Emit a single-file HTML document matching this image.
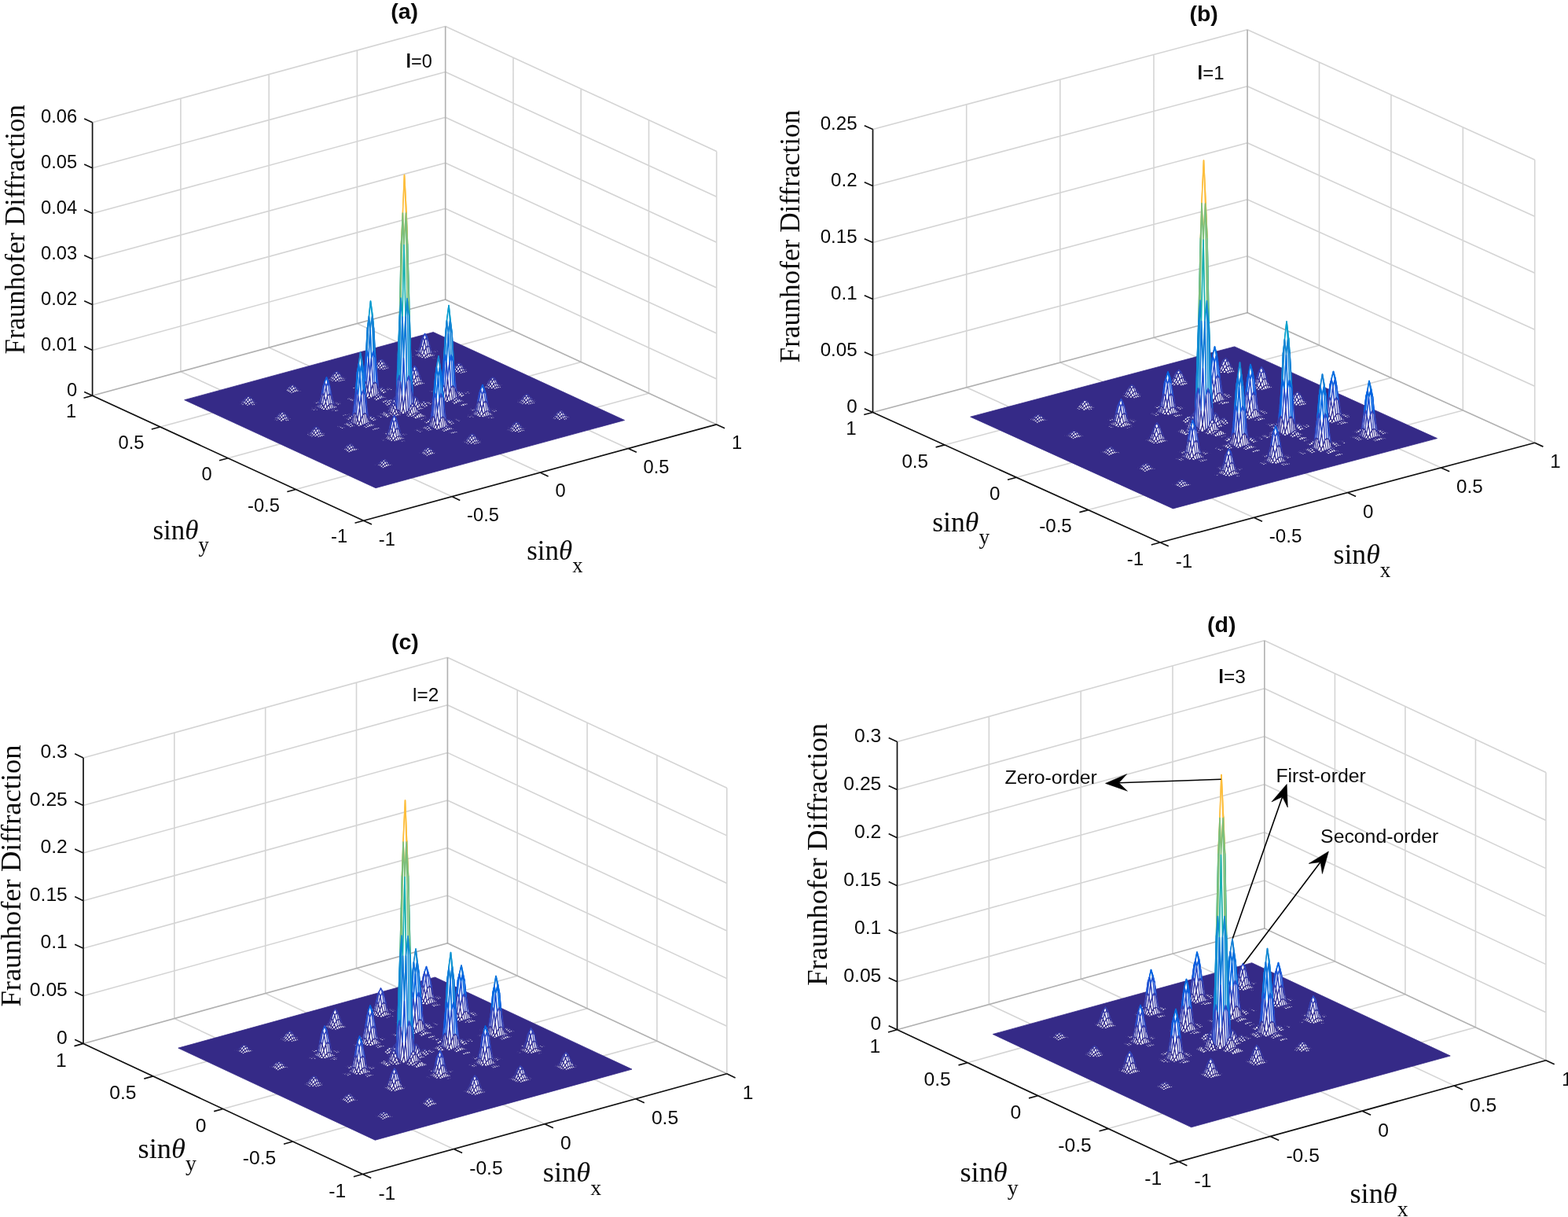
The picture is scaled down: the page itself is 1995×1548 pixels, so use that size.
<!DOCTYPE html>
<html><head><meta charset="utf-8"><title>Fraunhofer Diffraction</title>
<style>
html,body{margin:0;padding:0;background:#fff;}
svg{display:block;}
.gr{fill:none;stroke:#262626;stroke-opacity:.2;stroke-width:1.6;}
.fl{fill:#352a87;stroke:#352a87;stroke-width:.8;stroke-linejoin:round;}
.ax{fill:none;stroke:#111;stroke-width:1.7;stroke-linecap:butt;}
.tk,.ti,.an{font-family:"Liberation Sans",Arial,Helvetica,sans-serif;fill:#0a0a0a;}
.ti{font-weight:bold;}
.ash{fill:none;stroke:#000;stroke-width:1.6;}
.ahd{fill:#000;stroke:#000;stroke-width:.6;stroke-linejoin:miter;}
.se{font-family:"Liberation Serif","Times New Roman",Times,serif;fill:#0a0a0a;}
.pk path{fill:#fff;stroke-width:1;stroke-linejoin:round;}
.pk .q0{stroke:#352a87;stroke-width:2.20}.pk .q1{stroke:#363093;stroke-width:2.31}.pk .q2{stroke:#3637a0;stroke-width:2.41}.pk .q3{stroke:#353dad;stroke-width:2.52}.pk .q4{stroke:#3243ba;stroke-width:2.62}.pk .q5{stroke:#2c4ac7;stroke-width:2.73}.pk .q6{stroke:#2053d4;stroke-width:2.83}.pk .q7{stroke:#0f5cdd;stroke-width:2.94}.pk .q8{stroke:#0363e1;stroke-width:3.05}.pk .q9{stroke:#0268e1;stroke-width:3.15}.pk .q10{stroke:#046de0;stroke-width:3.20}.pk .q11{stroke:#0871de;stroke-width:3.20}.pk .q12{stroke:#0d75dc;stroke-width:3.20}.pk .q13{stroke:#1079da;stroke-width:3.20}.pk .q14{stroke:#127dd8;stroke-width:3.20}.pk .q15{stroke:#1481d6;stroke-width:3.20}.pk .q16{stroke:#1485d4;stroke-width:3.20}.pk .q17{stroke:#1389d3;stroke-width:3.20}.pk .q18{stroke:#108ed2;stroke-width:3.20}.pk .q19{stroke:#0c93d2;stroke-width:3.20}.pk .q20{stroke:#0998d1;stroke-width:3.20}.pk .q21{stroke:#079ccf;stroke-width:3.20}.pk .q22{stroke:#06a0cd;stroke-width:3.20}.pk .q23{stroke:#06a4ca;stroke-width:3.20}.pk .q24{stroke:#06a7c6;stroke-width:3.20}.pk .q25{stroke:#07a9c2;stroke-width:3.20}.pk .q26{stroke:#0aacbe;stroke-width:3.20}.pk .q27{stroke:#0faeb9;stroke-width:3.20}.pk .q28{stroke:#15b1b4;stroke-width:3.20}.pk .q29{stroke:#1db3af;stroke-width:3.20}.pk .q30{stroke:#25b5a9;stroke-width:3.20}.pk .q31{stroke:#2eb7a4;stroke-width:3.20}.pk .q32{stroke:#38b99e;stroke-width:3.20}.pk .q33{stroke:#42bb98;stroke-width:3.20}.pk .q34{stroke:#4dbc92;stroke-width:3.20}.pk .q35{stroke:#59bd8c;stroke-width:3.20}.pk .q36{stroke:#65be86;stroke-width:3.20}.pk .q37{stroke:#71bf80;stroke-width:3.20}.pk .q38{stroke:#7cbf7b;stroke-width:3.20}.pk .q39{stroke:#87bf77;stroke-width:3.20}.pk .q40{stroke:#92bf73;stroke-width:3.20}.pk .q41{stroke:#9cbf6f;stroke-width:3.20}.pk .q42{stroke:#a5be6b;stroke-width:3.20}.pk .q43{stroke:#aebe67;stroke-width:3.20}.pk .q44{stroke:#b7bd64;stroke-width:3.20}.pk .q45{stroke:#c0bc60;stroke-width:3.20}.pk .q46{stroke:#c8bc5d;stroke-width:3.20}.pk .q47{stroke:#d1bb59;stroke-width:3.20}.pk .q48{stroke:#d9ba56;stroke-width:3.20}.pk .q49{stroke:#e1b952;stroke-width:3.20}.pk .q50{stroke:#e9b94e;stroke-width:3.20}.pk .q51{stroke:#f1b94a;stroke-width:3.20}.pk .q52{stroke:#f8bb44;stroke-width:3.20}.pk .q53{stroke:#fdbe3d;stroke-width:3.20}.pk .q54{stroke:#ffc337;stroke-width:3.20}.pk .q55{stroke:#fec832;stroke-width:3.20}.pk .q56{stroke:#fcce2e;stroke-width:3.20}.pk .q57{stroke:#fad32a;stroke-width:3.20}.pk .q58{stroke:#f7d826;stroke-width:3.20}.pk .q59{stroke:#f5de21;stroke-width:3.20}.pk .q60{stroke:#f5e41d;stroke-width:3.20}.pk .q61{stroke:#f5eb18;stroke-width:3.20}.pk .q62{stroke:#f6f313;stroke-width:3.20}.pk .q63{stroke:#f9fb0e;stroke-width:3.20}</style></head><body>
<svg width="1995" height="1548" viewBox="0 0 1995 1548">
<rect width="1995" height="1548" fill="#fff"/>
<g id="pa">
<path class="gr" d="M117.6 503.3L566.7 381M117.6 445.4L566.7 323.1M117.6 387.5L566.7 265.2M117.6 329.5L566.7 207.2M117.6 271.6L566.7 149.3M117.6 213.7L566.7 91.4M117.6 155.8L566.7 33.5M229.9 472.7L229.9 125.2M342.2 442.1L342.2 94.6M454.4 411.6L454.4 64.1M566.7 381L566.7 33.5"/>
<path class="gr" d="M566.7 381L911.7 539.9M566.7 323.1L911.7 482M566.7 265.2L911.7 424.1M566.7 207.2L911.7 366.1M566.7 149.3L911.7 308.2M566.7 91.4L911.7 250.3M566.7 33.5L911.7 192.4M566.7 381L566.7 33.5M653 420.7L653 73.2M739.2 460.4L739.2 112.9M825.5 500.2L825.5 152.7M911.7 539.9L911.7 192.4"/>
<path class="gr" d="M574.9 631.6L229.9 472.7M376.4 622.5L825.5 500.2M687.2 601L342.2 442.1M290.1 582.8L739.2 460.4M799.4 570.5L454.4 411.6M203.9 543L653 420.7M911.7 539.9L566.7 381M117.6 503.3L566.7 381"/>
<path class="fl" d="M478 620.7L794.6 534.5L551.3 422.5L234.7 508.7 Z"/>
<g class="pk" transform="scale(0.5)"><path class="q0" d="M1061 891l4-1-3-1-5 0zm-5 1l5-1-4-2-4 2zm8 2l5-1-4-3-4 1zm-4 1l4-1-3-3-5 1zm20-4l4 2-3-1-4 2zm-5-1l5 1-3 3-5 1zm-4 0l4 0-3 5-4 1zm-4 2l4-2-3 6-5 1zm-5 4l5-4-4 5-4 1zm-4 4l4-4-3 2-5 2zm-95 25l5 0-4-1-4 1zm-4 1l4-1-3 0-5 2zm-5 1l5-1-4 1-4 1zm-4 2l4-2-3 1-5 1zm-99 26l4 0-3 0-5 1zm-5 1l5-1-4 1-4 1zm-4 2l4-2-3 1-4 1zm-5 2l5-2-3 0-5 2zm-215 58l4-1-3 0-5 1zm-5 1l5-1-4 0-4 2zm471-127l4 2-3-1-5 0z"/><path class="q1" d="M1083 885l5 7-4 1-4-2zm-4-9l4 9-3 6-5-1z"/><path class="q2" d="M1074 874l5 2-4 14-4 0zm-4 5l4-5-3 16-4 2z"/><path class="q1" d="M1065 889l5-10-3 13-5 4zm-4 10l4-10-3 7-4 4z"/><path class="q0" d="M1056 904l5-5-3 1-5 3zm-85 19l5 2-4-1-4 1zm-4-2l4 2-3 2-5 0z"/><path class="q1" d="M962 921l5 0-4 4-4 1zm-4 3l4-3-3 5-5 1z"/><path class="q0" d="M953 928l5-4-4 3-4 2zm-4 4l4-4-3 1-5 3zm-90 22l4 2-3-1-5 0zm-5-2l5 2-4 1-4 0z"/><path class="q1" d="M850 952l4 0-3 3-5 1zm-5 2l5-2-4 4-4 2z"/><path class="q0" d="M841 959l4-5-3 4-5 2zm-5 4l5-4-4 1-4 2zm-89 22l4 1-3 0-5 0zm-5-1l5 1-4 1-4 0zm-4 0l4 0-3 2-5 1zm-5 2l5-2-4 3-4 2zm-4 4l4-4-3 3-5 2zm-5 4l5-4-4 1-4 2zm-90 21l5 2-4-1-4 0zm-4-1l4 1-3 1-5 1z"/><path class="q1" d="M625 1014l5 0-4 3-4 1zm-4 2l4-2-3 4-5 1z"/><path class="q0" d="M616 1020l5-4-4 3-4 2zm-4 4l4-4-3 1-5 2zm479-134l5 6-4-2-4-2z"/><path class="q1" d="M1087 877l4 13-3 2-5-7z"/><path class="q2" d="M1082 862l5 15-4 8-4-9z"/><path class="q3" d="M1078 856l4 6-3 14-5-2zm-5 8l5-8-4 18-4 5z"/><path class="q2" d="M1069 882l4-18-3 15-5 10z"/><path class="q1" d="M1064 898l5-16-4 7-4 10z"/><path class="q0" d="M1060 905l4-7-3 1-5 5zm-81 21l5 1-4-2-4 0zm-4-4l4 4-3-1-5-2z"/><path class="q1" d="M970 917l5 5-4 1-4-2zm-4-1l4 1-3 4-5 0zm-5 4l5-4-4 5-4 3zm-4 7l4-7-3 4-5 4z"/><path class="q0" d="M952 933l5-6-4 1-4 4zm-4 3l4-3-3-1-5 3zm-81 20l4 1-3-1-5 0zm-5-4l5 4-4 0-4-2z"/><path class="q1" d="M858 948l4 4-3 2-5-2zm-5-1l5 1-4 4-4 0zm-4 3l4-3-3 5-5 2zm-5 7l5-7-4 4-4 5z"/><path class="q0" d="M840 963l4-6-3 2-5 4zm-5 4l5-4-4 0-4 2zm-85 17l5 3-4-1-4-1z"/><path class="q1" d="M746 981l4 3-3 1-5-1zm-5-1l5 1-4 3-4 0zm-4 3l4-3-3 4-5 2zm-5 6l5-6-4 3-4 4z"/><path class="q0" d="M728 994l4-5-3 1-5 4zm-90 20l4 3-3 0-5-2z"/><path class="q1" d="M633 1010l5 4-4 1-4-1zm-4-1l4 1-3 4-5 0zm-5 4l5-4-4 5-4 2zm-4 6l4-6-3 3-5 4z"/><path class="q0" d="M615 1025l5-6-4 1-4 4zm493-132l5-1-4-1-4 1zm-4 3l4-3-3-1-5 2zm-9-5l4 6-3-1-5-6z"/><path class="q2" d="M1090 874l5 17-4-1-4-13z"/><path class="q3" d="M1086 856l4 18-3 3-5-15z"/><path class="q5" d="M1081 849l5 7-4 6-4-6zm-4 10l4-10-3 7-5 8z"/><path class="q3" d="M1072 879l5-20-4 5-4 18z"/><path class="q2" d="M1068 898l4-19-3 3-5 16z"/><path class="q0" d="M1063 907l5-9-4 0-4 7zm-9 1l5 0-4-1-4-1zm-4 1l4-1-3-2-5 2zm-67 18l4 1-3-1-5-1z"/><path class="q1" d="M978 922l5 5-4-1-4-4zm-4-6l4 6-3 0-5-5z"/><path class="q2" d="M969 915l5 1-4 1-4-1zm-4 4l4-4-3 1-5 4z"/><path class="q1" d="M960 927l5-8-4 1-4 7zm-4 7l4-7-3 0-5 6z"/><path class="q0" d="M951 938l5-4-4-1-4 3zm-81 19l5 2-4-2-4-1z"/><path class="q1" d="M866 952l4 5-3-1-5-4zm-5-5l5 5-4 0-4-4z"/><path class="q2" d="M857 945l4 2-3 1-5-1zm-5 4l5-4-4 2-4 3z"/><path class="q1" d="M848 957l4-8-3 1-5 7zm-5 8l5-8-4 0-4 6z"/><path class="q0" d="M839 968l4-3-3-2-5 4zm-85 17l4 3-3-1-5-3z"/><path class="q1" d="M749 981l5 4-4-1-4-3zm-4-2l4 2-3 0-5-1zm-5 4l5-4-4 1-4 3zm-4 7l4-7-3 0-5 6z"/><path class="q0" d="M731 996l5-6-4-1-4 5zm-85 23l4 1-3-2-5-1z"/><path class="q1" d="M641 1014l5 5-4-2-4-3zm-4-4l4 4-3 0-5-4zm-5-2l5 2-4 0-4-1zm-4 4l4-4-3 1-5 4zm-5 7l5-7-4 1-4 6zm-4 7l4-7-3 0-5 6z"/><path class="q0" d="M614 1030l5-4-4-1-4 3zm498-135l4-1-3-2-5 1zm-5 2l5-2-4-2-4 3zm-9-3l5 5-4-2-4-6z"/><path class="q2" d="M1094 880l4 14-3-3-5-17z"/><path class="q3" d="M1089 865l5 15-4-6-4-18z"/><path class="q5" d="M1085 859l4 6-3-9-5-7zm-5 8l5-8-4-10-4 10z"/><path class="q3" d="M1076 885l4-18-3-8-5 20z"/><path class="q2" d="M1071 901l5-16-4-6-4 19z"/><path class="q0" d="M1067 909l4-8-3-3-5 9zm-9 0l4 1-3-2-5 0zm-5 2l5-2-4-1-4 1zm-67 18l4 1-3-2-4-1z"/><path class="q1" d="M982 925l4 4-3-2-5-5zm-5-5l5 5-4-3-4-6z"/><path class="q2" d="M973 919l4 1-3-4-5-1zm-5 4l5-4-4-4-4 4z"/><path class="q1" d="M964 930l4-7-3-4-5 8zm-5 6l5-6-4-3-4 7z"/><path class="q0" d="M955 940l4-4-3-2-5 4zm-81 19l4 1-3-1-5-2z"/><path class="q1" d="M869 955l5 4-4-2-4-5zm-4-4l4 4-3-3-5-5z"/><path class="q2" d="M860 950l5 1-4-4-4-2zm-4 3l4-3-3-5-5 4z"/><path class="q1" d="M851 960l5-7-4-4-4 8zm-4 7l4-7-3-3-5 8z"/><path class="q0" d="M842 970l5-3-4-2-4 3zm-85 17l4 3-3-2-4-3z"/><path class="q1" d="M752 984l5 3-3-2-5-4zm-4-1l4 1-3-3-4-2zm-5 4l5-4-3-4-5 4zm-4 5l4-5-3-4-4 7z"/><path class="q0" d="M735 998l4-6-3-2-5 6zm-86 23l5 0-4-1-4-1z"/><path class="q1" d="M645 1017l4 4-3-2-5-5zm-5-4l5 4-4-3-4-4zm-4-1l4 1-3-3-5-2zm-5 4l5-4-4-4-4 4zm-4 6l4-6-3-4-5 7zm-5 6l5-6-4-3-4 7z"/><path class="q0" d="M618 1031l4-3-3-2-5 4zm484-133l4 3-3-2-5-5z"/><path class="q1" d="M1097 891l5 7-4-4-4-14z"/><path class="q2" d="M1093 883l4 8-3-11-5-15z"/><path class="q3" d="M1088 880l5 3-4-18-4-6zm-4 5l4-5-3-21-5 8z"/><path class="q2" d="M1079 896l5-11-4-18-4 18z"/><path class="q1" d="M1075 905l4-9-3-11-5 16z"/><path class="q0" d="M1070 910l5-5-4-4-4 8zm-81 21l5 0-4-1-4-1zm-4-1l4 1-3-2-4-4z"/><path class="q1" d="M980 928l5 2-3-5-5-5zm-4-1l4 1-3-8-4-1zm-5 3l5-3-3-8-5 4zm-4 5l4-5-3-7-4 7z"/><path class="q0" d="M963 939l4-4-3-5-5 6zm-5 2l5-2-4-3-4 4zm-81 21l5 0-4-2-4-1zm-4-2l4 2-3-3-5-4z"/><path class="q1" d="M868 958l5 2-4-5-4-4zm-4 0l4 0-3-7-5-1zm-5 3l5-3-4-8-4 3zm-4 4l4-4-3-8-5 7z"/><path class="q0" d="M850 969l5-4-4-5-4 7zm-4 3l4-3-3-2-5 3zm-86 20l5 1-4-3-4-3z"/><path class="q1" d="M756 990l4 2-3-5-5-3zm-5 0l5 0-4-6-4-1zm-4 3l4-3-3-7-5 4zm-5 4l5-4-4-6-4 5z"/><path class="q0" d="M738 1000l4-3-3-5-4 6zm-90 22l5 1-4-2-4-4z"/><path class="q1" d="M644 1020l4 2-3-5-5-4zm-5 0l5 0-4-7-4-1zm-4 3l4-3-3-8-5 4zm-5 4l5-4-4-7-4 6z"/><path class="q0" d="M626 1031l4-4-3-5-5 6zm479-129l5 0-4-1-4-3z"/><path class="q1" d="M1101 901l4 1-3-4-5-7zm-5-2l5 2-4-10-4-8z"/><path class="q2" d="M1092 899l4 0-3-16-5-3zm-5 3l5-3-4-19-4 5z"/><path class="q1" d="M1083 906l4-4-3-17-5 11zm-5 4l5-4-4-10-4 9z"/><path class="q0" d="M1074 912l4-2-3-5-5 5zm-86 22l5 0-4-3-4-1zm-4 0l4 0-3-4-5-2z"/><path class="q1" d="M979 935l5-1-4-6-4-1zm-4 2l4-2-3-8-5 3z"/><path class="q0" d="M970 939l5-2-4-7-4 5zm-4 2l4-2-3-4-4 4zm-90 24l5-1-4-2-4-2zm-4 0l4 0-3-5-5-2z"/><path class="q1" d="M867 966l5-1-4-7-4 0zm-4 1l4-1-3-8-5 3z"/><path class="q0" d="M858 970l5-3-4-6-4 4zm-4 2l4-2-3-5-5 4zm-90 24l4-1-3-2-5-1zm-5 0l5 0-4-4-4-2zm-4 1l4-1-3-6-5 0zm-5 1l5-1-4-7-4 3zm-4 2l4-2-3-5-5 4zm-5 2l5-2-4-3-4 3zm-89 24l4 0-3-3-5-1zm-5 0l5 0-4-4-4-2z"/><path class="q1" d="M643 1027l4-1-3-6-5 0zm-5 2l5-2-4-7-4 3z"/><path class="q0" d="M634 1031l4-2-3-6-5 4zm-5 2l5-2-4-4-4 4zm475-127l5-1-4-3-4-1zm-4 1l4-1-3-5-5-2zm-5 1l5-1-4-8-4 0zm-4 2l4-2-3-9-5 3zm-5 1l5-1-4-8-4 4zm-4 2l4-2-3-5-5 4zm-95 25l5-1-4-3-4 0zm-4 1l4-1-3-4-5 1zm-5 2l5-2-4-4-4 2zm-4 1l4-1-3-4-5 2zm-99 27l5-1-4-3-4 0zm-4 1l4-1-3-4-5 1zm-5 1l5-1-4-4-4 1zm-4 1l4-1-3-4-5 3zm-216 59l5-1-4-4-4 1zm-4 1l4-1-3-4-5 2zm460-122l5-1-4 0-4 1zm-4 1l4-1-3 0-5 1zm8 1l4-1-3-2-5 1zm-5 1l5-1-4-2-4 1zm-191 69l4 0-3 0-5 1zm-5 0l5 0-4 1-4 1zm-4 2l4-2-3 2-5 2zm-5 3l5-3-4 2-4 1zm17-3l5 0-4-2-4 0zm-4 1l4-1-3-2-5 0zm-5 2l5-2-4-3-4 2zm-4 2l4-2-3-3-5 3zm12 0l4-1-3-4-4 1zm-4 1l4-1-3-4-5 2zm20-4l4 1-3 0-5 0zm-5-2l5 2-4 1-4 1z"/><path class="q1" d="M919 984l4 0-3 4-5 1zm-5 2l5-2-4 5-4 1z"/><path class="q0" d="M910 991l4-5-3 4-5 2zm-5 4l5-4-4 1-4 2zm-98 25l4-1-3 1-5 1zm-5 2l5-2-4 1-4 1zm129-36l5 3-4-2-4-1z"/><path class="q1" d="M927 984l4 2-3 0-5-2zm-5-1l5 1-4 0-4 0zm-4 3l4-3-3 1-5 2zm-5 5l5-5-4 0-4 5z"/><path class="q0" d="M909 996l4-5-3 0-5 4zm-94 24l4 0-3-1-5 0zm-5 1l5-1-4-1-4 1zm-4 2l4-2-3-1-5 2zm-5 2l5-2-4-1-4 2zm134-33l4-1-3-2-5-3zm-5 0l5 0-4-6-4-2z"/><path class="q1" d="M926 992l4 0-3-8-5-1zm-5 2l5-2-4-9-4 3z"/><path class="q0" d="M917 996l4-2-3-8-5 5zm-5 3l5-3-4-5-4 5zm-94 25l5-1-4-3-4 0zm-4 1l4-1-3-4-5 1zm-5 1l5-1-4-4-4 2zm-4 2l4-2-3-3-5 2zm129-34l4 0-3-2-5 0zm-5 1l5-1-4-2-4 0zm-4 1l4-1-3-3-5 2zm-5 2l5-2-4-2-4 2zm242-64l4 0-3-1-5 2zm-5 1l5-1-4 1-4 1zm-4 1l4-1-3 1-5 1zm-5 3l5-3-4 1-4 1zm-94 24l4 0-3 0-4 1zm-5-2l5 2-3 1-5 1zm-4 1l4-1-3 4-4 1zm-5 2l5-2-3 4-5 1zm-4 3l4-3-3 3-4 2zm-4 4l4-4-3 2-5 1zm-86 18l5 4-4-1-4 1z"/><path class="q1" d="M942 979l4 10-3 4-5 1zm-5-12l5 12-4 15-4 0z"/><path class="q2" d="M933 962l4 5-3 27-5 1zm-5 7l5-7-4 33-4 1z"/><path class="q1" d="M924 984l4-15-3 27-5 2zm-5 13l5-13-4 14-4 2z"/><path class="q0" d="M915 1003l4-6-3 3-5 2zm-86 18l5 3-4 0-4 1zm-4-3l4 3-3 4-5 1z"/><path class="q1" d="M820 1018l5 0-4 8-4 1zm-4 3l4-3-3 9-5 1z"/><path class="q0" d="M811 1026l5-5-4 7-4 2zm-4 5l4-5-3 4-4 1zm-99 26l5-1-4 1-4 1zm-4 2l4-2-3 1-5 1zm466-127l4 2-3-1-5 1zm-5-2l5 2-4 2-4 0z"/><path class="q1" d="M1161 930l4 0-3 4-5 1zm-5 3l5-3-4 5-4 1z"/><path class="q0" d="M1152 937l4-4-3 3-5 3zm-5 4l5-4-4 2-4 2zm-85 22l4 2-3-2-5 0zm-5-5l5 5-4 0-4 0z"/><path class="q1" d="M1053 952l4 6-3 5-5-2zm-5-2l5 2-4 9-4 1zm-4 4l4-4-3 12-5 2zm-5 9l5-9-4 10-4 3z"/><path class="q0" d="M1035 970l4-7-3 4-4 4zm-5 4l5-4-3 1-5 2zm-62 14l4 1-3 0-5 0zm-5 0l5 0-4 1-4 1zm-4 5l4-5-3 2-5 2z"/><path class="q1" d="M950 979l4 15-3-1-5-4z"/><path class="q3" d="M945 943l5 36-4 10-4-10z"/><path class="q5" d="M941 903l4 40-3 36-5-12z"/><path class="q7" d="M936 886l5 17-4 64-4-5zm-4 20l4-20-3 76-5 7z"/><path class="q5" d="M927 948l5-42-4 63-4 15z"/><path class="q3" d="M923 986l4-38-3 36-5 13z"/><path class="q1" d="M918 1004l5-18-4 11-4 6z"/><path class="q0" d="M909 1002l5 3-4-1-4 0zm-4 3l4-3-3 2-5 2zm-5 4l5-4-4 1-4 2zm-63 13l5 4-4-2-4 0z"/><path class="q1" d="M833 1011l4 11-3 2-5-3z"/><path class="q2" d="M828 1000l5 11-4 10-4-3zm-4-5l4 5-3 18-5 0zm-5 7l5-7-4 23-4 3zm-4 14l4-14-3 19-5 5z"/><path class="q1" d="M810 1029l5-13-4 10-4 5z"/><path class="q0" d="M806 1035l4-6-3 2-5 3zm-85 20l4 2-3-1-5 0zm-5-2l5 2-4 1-4 0z"/><path class="q1" d="M712 1053l4 0-3 3-5 1zm-5 3l5-3-4 4-4 2z"/><path class="q0" d="M703 1060l4-4-3 3-5 2zm-5 4l5-4-4 1-4 2zm480-129l4 1-3-2-5 0zm-5-4l5 4-4-1-4-2z"/><path class="q1" d="M1169 926l4 5-3 1-5-2zm-5-1l5 1-4 4-4 0zm-4 4l4-4-3 5-5 3zm-5 7l5-7-4 4-4 4z"/><path class="q0" d="M1151 942l4-6-3 1-5 4zm-5 3l5-3-4-1-4 3zm-81 17l5 4-4-1-4-2z"/><path class="q1" d="M1061 952l4 10-3 1-5-5z"/><path class="q2" d="M1056 941l5 11-4 6-4-6z"/><path class="q3" d="M1052 936l4 5-3 11-5-2zm-5 7l5-7-4 14-4 4z"/><path class="q2" d="M1043 957l4-14-3 11-5 9z"/><path class="q1" d="M1038 970l5-13-4 6-4 7z"/><path class="q0" d="M1034 976l4-6-3 0-5 4zm-45 9l4 2-3-1-4-1zm-4 2l4-2-3 0-5 2zm-14-1l5 4-4-1-4-1z"/><path class="q1" d="M967 986l4 0-3 2-5 0z"/><path class="q0" d="M962 993l5-7-4 2-4 5zm-4 2l4-2-3 0-5 1z"/><path class="q1" d="M953 967l5 28-4-1-4-15z"/><path class="q5" d="M949 903l4 64-3 12-5-36z"/><path class="q11" d="M944 833l5 70-4 40-4-40z"/><path class="q15" d="M940 802l4 31-3 70-5-17zm-5 33l5-33-4 84-4 20z"/><path class="q11" d="M931 908l4-73-3 71-5 42z"/><path class="q5" d="M926 975l5-67-4 40-4 38z"/><path class="q1" d="M922 1005l4-30-3 11-5 18z"/><path class="q0" d="M917 1005l5 0-4-1-4 1zm-4-5l4 5-3 0-5-3z"/><path class="q1" d="M908 1003l5-3-4 2-4 3z"/><path class="q0" d="M904 1010l4-7-3 2-5 4zm-14 2l5 0-4-1-4 1zm-4 5l4-5-3 0-5 3zm-32 5l5 0-4-1-4 1zm-4 4l4-4-3 0-5 2zm-9-7l4 8-3-1-5-4z"/><path class="q2" d="M836 1000l5 19-4 3-4-11z"/><path class="q3" d="M832 979l4 21-3 11-5-11z"/><path class="q5" d="M827 970l5 9-4 21-4-5zm-4 11l4-11-3 25-5 7z"/><path class="q3" d="M818 1005l5-24-4 21-4 14z"/><path class="q2" d="M814 1027l4-22-3 11-5 13z"/><path class="q0" d="M809 1037l5-10-4 2-4 6zm-9 0l5 1-4-1-4 0zm-4 2l4-2-3 0-5 1zm-72 15l5 3-4 0-4-2z"/><path class="q1" d="M720 1050l4 4-3 1-5-2zm-5-1l5 1-4 3-4 0zm-4 3l4-3-3 4-5 3zm-5 7l5-7-4 4-4 4z"/><path class="q0" d="M702 1065l4-6-3 1-5 4zm479-129l5 1-4-1-4-1z"/><path class="q1" d="M1177 931l4 5-3-1-5-4zm-5-5l5 5-4 0-4-5z"/><path class="q2" d="M1168 924l4 2-3 0-5-1zm-5 4l5-4-4 1-4 4z"/><path class="q1" d="M1159 936l4-8-3 1-5 7zm-5 7l5-7-4 0-4 6z"/><path class="q0" d="M1150 947l4-4-3-1-5 3zm-81 16l4 5-3-2-5-4z"/><path class="q1" d="M1064 950l5 13-4-1-4-10z"/><path class="q3" d="M1060 937l4 13-3 2-5-11z"/><path class="q4" d="M1055 931l5 6-4 4-4-5zm-4 8l4-8-3 5-5 7z"/><path class="q3" d="M1046 955l5-16-4 4-4 14z"/><path class="q1" d="M1042 970l4-15-3 2-5 13z"/><path class="q0" d="M1037 977l5-7-4 0-4 6zm-45 9l5 3-4-2-4-2zm-4 3l4-3-3-1-4 2zm-5 3l5-3-3-2-5 4z"/><path class="q1" d="M974 986l5 6-3-2-5-4zm-4-1l4 1-3 0-4 0zm-4 9l4-9-3 1-5 7z"/><path class="q0" d="M961 996l5-2-4-1-4 2z"/><path class="q2" d="M957 963l4 33-3-1-5-28z"/><path class="q7" d="M952 887l5 76-4 4-4-64z"/><path class="q15" d="M948 803l4 84-3 16-5-70z"/><path class="q21" d="M943 766l5 37-4 30-4-31zm-4 39l4-39-3 36-5 33z"/><path class="q15" d="M934 892l5-87-4 30-4 73z"/><path class="q7" d="M930 971l4-79-3 16-5 67z"/><path class="q2" d="M925 1006l5-35-4 4-4 30z"/><path class="q0" d="M921 1006l4 0-3-1-5 0z"/><path class="q1" d="M916 1000l5 6-4-1-4-5zm-4 3l4-3-3 0-5 3zm-5 8l5-8-4 0-4 7z"/><path class="q0" d="M898 1013l5 1-4-1-4-1zm-4 0l4 0-3-1-5 0zm-5 5l5-5-4-1-4 5zm-27 5l5 1-4-2-4 0zm-4 0l4 0-3-1-5 0zm-5 4l5-4-4-1-4 4z"/><path class="q1" d="M844 1019l5 9-4-1-4-8z"/><path class="q2" d="M840 996l4 23-3 0-5-19z"/><path class="q5" d="M835 970l5 26-4 4-4-21z"/><path class="q7" d="M831 960l4 10-3 9-5-9zm-5 13l5-13-4 10-4 11z"/><path class="q5" d="M822 1001l4-28-3 8-5 24z"/><path class="q2" d="M817 1026l5-25-4 4-4 22z"/><path class="q1" d="M813 1038l4-12-3 1-5 10z"/><path class="q0" d="M804 1038l4 1-3-1-5-1zm-5 2l5-2-4-1-4 2zm-4 3l4-3-3-1-5 3zm-63 15l4 2-3-2-4-1z"/><path class="q1" d="M727 1054l5 4-3-1-5-3zm-4-5l4 5-3 0-4-4zm-4-1l4 1-3 1-5-1zm-5 4l5-4-4 1-4 3zm-4 7l4-7-3 0-5 7zm-5 7l5-7-4 0-4 6z"/><path class="q0" d="M701 1069l4-3-3-1-5 3zm484-131l4 1-3-2-5-1z"/><path class="q1" d="M1180 934l5 4-4-2-4-5zm-4-4l4 4-3-3-5-5z"/><path class="q2" d="M1171 928l5 2-4-4-4-2zm-4 4l4-4-3-4-5 4z"/><path class="q1" d="M1162 939l5-7-4-4-4 8zm-4 6l4-6-3-3-5 7z"/><path class="q0" d="M1153 949l5-4-4-2-4 4zm-81 16l5 4-4-1-4-5z"/><path class="q1" d="M1068 955l4 10-3-2-5-13z"/><path class="q3" d="M1063 944l5 11-4-5-4-13z"/><path class="q4" d="M1059 939l4 5-3-7-5-6zm-5 7l5-7-4-8-4 8z"/><path class="q3" d="M1050 960l4-14-3-7-5 16z"/><path class="q1" d="M1045 973l5-13-4-5-4 15z"/><path class="q0" d="M1041 979l4-6-3-3-5 7zm-45 9l4 2-3-1-5-3zm-5 3l5-3-4-2-4 3zm-4 3l4-3-3-2-5 3z"/><path class="q1" d="M978 989l4 4-3-1-5-6zm-5 0l5 0-4-3-4-1zm-4 7l4-7-3-4-4 9z"/><path class="q0" d="M964 998l5-2-3-2-5 2z"/><path class="q2" d="M960 971l4 27-3-2-4-33z"/><path class="q7" d="M955 907l5 64-3-8-5-76z"/><path class="q15" d="M951 836l4 71-3-20-4-84z"/><path class="q21" d="M947 805l4 31-3-33-5-37zm-5 33l5-33-4-39-4 39z"/><path class="q15" d="M938 912l4-74-3-33-5 87z"/><path class="q7" d="M933 978l5-66-4-20-4 79z"/><path class="q2" d="M929 1008l4-30-3-7-5 35z"/><path class="q0" d="M924 1008l5 0-4-2-4 0z"/><path class="q1" d="M920 1003l4 5-3-2-5-6zm-5 3l5-3-4-3-4 3zm-4 7l4-7-3-3-5 8z"/><path class="q0" d="M902 1015l4 1-3-2-5-1zm-5 0l5 0-4-2-4 0zm-4 5l4-5-3-2-5 5zm-27 5l4 0-3-1-5-1zm-5 0l5 0-4-2-4 0zm-4 4l4-4-3-2-5 4z"/><path class="q1" d="M848 1022l4 8-3-2-5-9z"/><path class="q2" d="M843 1003l5 19-4-3-4-23z"/><path class="q5" d="M839 982l4 21-3-7-5-26z"/><path class="q7" d="M834 973l5 9-4-12-4-10zm-4 11l4-11-3-13-5 13z"/><path class="q5" d="M825 1008l5-24-4-11-4 28z"/><path class="q2" d="M821 1030l4-22-3-7-5 25z"/><path class="q1" d="M816 1040l5-10-4-4-4 12z"/><path class="q0" d="M807 1040l5 1-4-2-4-1zm-4 2l4-2-3-2-5 2zm-5 3l5-3-4-2-4 3zm-63 15l5 1-4-1-4-2z"/><path class="q1" d="M731 1057l4 3-3-2-5-4zm-5-4l5 4-4-3-4-5zm-4-1l4 1-3-4-4-1zm-5 4l5-4-3-4-5 4zm-4 6l4-6-3-4-4 7zm-5 6l5-6-3-3-5 7z"/><path class="q0" d="M704 1071l4-3-3-2-4 3zm484-131l4 1-3-2-4-1zm-5-1l5 1-3-2-5-4z"/><path class="q1" d="M1179 937l4 2-3-5-4-4zm-4 0l4 0-3-7-5-2zm-5 2l5-2-4-9-4 4zm-4 5l4-5-3-7-5 7z"/><path class="q0" d="M1161 948l5-4-4-5-4 6zm-4 2l4-2-3-3-5 4zm-81 19l4 2-3-2-5-4z"/><path class="q1" d="M1071 964l5 5-4-4-4-10z"/><path class="q2" d="M1067 958l4 6-3-9-5-11z"/><path class="q3" d="M1062 956l5 2-4-14-4-5zm-4 4l4-4-3-17-5 7z"/><path class="q2" d="M1053 969l5-9-4-14-4 14z"/><path class="q1" d="M1049 977l4-8-3-9-5 13z"/><path class="q0" d="M1044 981l5-4-4-4-4 6zm-45 10l5 1-4-2-4-2zm-4 2l4-2-3-3-5 3zm-14 1l5 2-4-3-4-4z"/><path class="q1" d="M977 994l4 0-3-5-5 0z"/><path class="q0" d="M972 999l5-5-4-5-4 7zm-4 2l4-2-3-3-5 2z"/><path class="q1" d="M963 985l5 16-4-3-4-27z"/><path class="q5" d="M959 949l4 36-3-14-5-64z"/><path class="q11" d="M954 909l5 40-4-42-4-71z"/><path class="q15" d="M950 893l4 16-3-73-4-31zm-5 19l5-19-3-88-5 33z"/><path class="q11" d="M941 954l4-42-3-74-4 74z"/><path class="q5" d="M936 993l5-39-3-42-5 66z"/><path class="q1" d="M932 1010l4-17-3-15-4 30z"/><path class="q0" d="M927 1011l5-1-3-2-5 0zm-4-2l4 2-3-3-4-5z"/><path class="q1" d="M919 1011l4-2-3-6-5 3z"/><path class="q0" d="M914 1015l5-4-4-5-4 7zm-13 3l4 0-3-3-5 0zm-5 3l5-3-4-3-4 5zm-31 7l4-1-3-2-5 0zm-5 3l5-3-4-3-4 4zm-9-3l5 4-4-2-4-8z"/><path class="q2" d="M847 1018l4 10-3-6-5-19z"/><path class="q3" d="M842 1006l5 12-4-15-4-21z"/><path class="q5" d="M838 1002l4 4-3-24-5-9zm-5 6l5-6-4-29-4 11z"/><path class="q3" d="M829 1023l4-15-3-24-5 24z"/><path class="q2" d="M824 1035l5-12-4-15-4 22z"/><path class="q0" d="M820 1042l4-7-3-5-5 10zm-9 1l4 0-3-2-5-1zm-5 1l5-1-4-3-4 2zm-72 18l5 1-4-3-4-3z"/><path class="q1" d="M730 1060l4 2-3-5-5-4zm-5 0l5 0-4-7-4-1zm-4 2l4-2-3-8-5 4zm-5 4l5-4-4-6-4 6z"/><path class="q0" d="M712 1070l4-4-3-4-5 6zm475-127l4 0-3-3-5-1zm-5 0l5 0-4-4-4-2z"/><path class="q1" d="M1178 944l4-1-3-6-4 0zm-5 2l5-2-3-7-5 2z"/><path class="q0" d="M1169 948l4-2-3-7-4 5zm-5 2l5-2-3-4-5 4zm-85 23l5 0-4-2-4-2zm-4-1l4 1-3-4-5-5z"/><path class="q1" d="M1070 971l5 1-4-8-4-6zm-4 0l4 0-3-13-5-2zm-5 2l5-2-4-15-4 4zm-4 4l4-4-3-13-5 9z"/><path class="q0" d="M1052 980l5-3-4-8-4 8zm-4 2l4-2-3-3-5 4zm-63 16l4 0-3-2-5-2zm-5 1l5-1-4-4-4 0zm-4 3l4-3-3-5-5 5z"/><path class="q1" d="M967 999l4 4-3-2-5-16z"/><path class="q3" d="M962 988l5 11-4-14-4-36z"/><path class="q5" d="M958 976l4 12-3-39-5-40z"/><path class="q7" d="M953 972l5 4-4-67-4-16zm-4 7l4-7-3-79-5 19z"/><path class="q5" d="M944 993l5-14-4-67-4 42z"/><path class="q3" d="M940 1006l4-13-3-39-5 39z"/><path class="q1" d="M935 1013l5-7-4-13-4 17z"/><path class="q0" d="M926 1014l5 0-4-3-4-2zm-4 1l4-1-3-5-4 2zm-5 3l5-3-3-4-5 4zm-62 15l4 1-3-2-5-4z"/><path class="q1" d="M850 1031l5 2-4-5-4-10z"/><path class="q2" d="M846 1028l4 3-3-13-5-12zm-5-1l5 1-4-22-4-4zm-4 3l4-3-3-25-5 6zm-5 6l5-6-4-22-4 15z"/><path class="q1" d="M828 1041l4-5-3-13-5 12z"/><path class="q0" d="M823 1044l5-3-4-6-4 7zm-85 22l4-1-3-2-5-1zm-5 0l5 0-4-4-4-2z"/><path class="q1" d="M729 1067l4-1-3-6-5 0zm-5 1l5-1-4-7-4 2z"/><path class="q0" d="M720 1071l4-3-3-6-5 4zm-5 2l5-2-4-5-4 4zm471-126l4-1-3-3-5 0zm-5 2l5-2-4-4-4 1zm-4 1l4-1-3-5-5 2zm-5 1l5-1-4-4-4 2zm-94 26l5-1-4-3-4-1zm-4 1l4-1-3-5-5-1zm-5 1l5-1-4-7-4 0zm-4 1l4-1-3-8-5 2zm-5 2l5-2-4-7-4 4zm-4 1l4-1-3-5-5 3zm-86 23l5-1-4-2-4-4z"/><path class="q1" d="M966 1006l4 0-3-7-5-11zm-5 1l5-1-4-18-4-12z"/><path class="q2" d="M957 1008l4-1-3-31-5-4zm-5 1l5-1-4-36-4 7z"/><path class="q1" d="M948 1011l4-2-3-30-5 14zm-5 2l5-2-4-18-4 13z"/><path class="q0" d="M939 1015l4-2-3-7-5 7zm-85 23l4-1-3-4-5-2zm-5 1l5-1-4-7-4-3z"/><path class="q1" d="M845 1040l4-1-3-11-5-1zm-5 1l5-1-4-13-4 3z"/><path class="q0" d="M836 1043l4-2-3-11-5 6zm-5 1l5-1-4-7-4 5zm-99 27l5-1-4-4-4 1zm-4 1l4-1-3-4-5 1zm237-65l4 0-3-1-5 1zm-5 1l5-1-4 0-4 1zm-4 2l4-2-3 0-5 1zm-5 2l5-2-4-1-4 2zm22-7l4 3-3-1-5 0zm-5-2l5 2-4 2-4 0z"/><path class="q1" d="M964 1002l4 1-3 4-5 1zm-5 3l5-3-4 6-4 2z"/><path class="q0" d="M955 1010l4-5-3 5-5 2zm-5 5l5-5-4 2-4 3zm-94 25l4 0-3-1-4 1zm-5 0l5 0-3 0-5 1zm-4 2l4-2-3 1-4 1zm-5 2l5-2-3 0-5 2zm134-36l5 2-4-2-4-3z"/><path class="q1" d="M972 1006l4 2-3-3-5-2zm-5 0l5 0-4-3-4-1zm-4 2l4-2-3-4-5 3zm-5 5l5-5-4-3-4 5z"/><path class="q0" d="M954 1017l4-4-3-3-5 5zm-95 25l5-1-4-1-4 0zm-4 0l4 0-3-2-5 0zm-5 2l5-2-4-2-4 2zm-4 2l4-2-3-2-5 2zm134-33l4-1-3-2-5-2zm-5 0l5 0-4-5-4-2z"/><path class="q1" d="M971 1014l4-1-3-7-5 0zm-5 2l5-2-4-8-4 2z"/><path class="q0" d="M962 1018l4-2-3-8-5 5zm-5 2l5-2-4-5-4 4zm-99 26l5-1-4-3-4 0zm-4 1l4-1-3-4-5 2zm124-30l4-1-3 0-5 2zm-5 1l5-1-4 1-4 1zm12-2l5 1-3-1-5 0zm-4 1l4-1-3 0-4 1zm-4 2l4-2-3 0-5 1zm-5 3l5-3-4-1-4 3zm17-1l4-1-3-3-5-1zm-5 2l5-2-4-5-4 1zm-4 1l4-1-3-6-4 2zm-5 1l5-1-3-5-5 3zm133-34l5 0-4 0-4 1zm-4 0l4 0-3 1-5 2zm-5 2l5-2-4 3-4 1zm-4 3l4-3-3 2-5 1zm-95 23l5 2-4-1-4 2zm-4-3l4 3-3 3-5 1zm-5 0l5 0-4 7-4 1zm-4 3l4-3-3 8-5 1zm-5 5l5-5-4 6-4 2zm-4 4l4-4-3 3-5 1zm-94 25l4-1-3 0-5 1zm-5 0l5 0-4 0-4 2zm-4 2l4-2-3 2-5 1zm-5 2l5-2-4 1-4 1zm242-64l4 0-3-2-5 0zm-5 1l5-1-4-2-4 0zm-4 2l4-2-3-3-5 2zm-5 2l5-2-4-3-4 3zm-94 24l4 1-3-2-5-2z"/><path class="q1" d="M999 1020l5 2-4-3-4-3zm-4 1l4-1-3-4-5 0zm-5 2l5-2-4-5-4 3zm-4 4l4-4-3-4-5 5z"/><path class="q0" d="M981 1030l5-3-4-3-4 4zm-94 25l5-1-4-2-4 1zm-4 1l4-1-3-2-5 0zm-5 1l5-1-4-3-4 2zm-4 2l4-2-3-2-5 2zm237-61l4-1-3-4-5 1zm-5 1l5-1-4-4-4 2zm-99 27l5-1-4-2-4-1zm-4 1l4-1-3-4-5-2zm-5 2l5-2-4-7-4 1zm-4 1l4-1-3-8-5 2zm-5 1l5-1-4-7-4 4zm-4 2l4-2-3-4-5 3zm26-8l4 1-3-1-5 1zm-5 0l5 0-4 1-4 1zm-4 0l4 0-3 2-5 2zm-5 2l5-2-4 4-4 1zm-4 3l4-3-3 3-5 1zm-5 3l5-3-4 1-4 2zm138-38l5 1-4 0-4 0zm-4-2l4 2-3 1-5 1z"/><path class="q1" d="M1117 993l5 0-4 4-4 1zm-4 2l4-2-3 5-5 1z"/><path class="q0" d="M1108 1000l5-5-4 4-4 2zm-4 4l4-4-3 1-4 2zm-85 21l4 2-3-1-5 0zm-5-6l5 6-4 1-4-1z"/><path class="q1" d="M1010 1012l4 7-3 6-5 0zm-5-2l5 2-4 13-4 0zm-4 5l4-5-3 15-5 2zm-5 9l5-9-4 12-4 3z"/><path class="q0" d="M992 1032l4-8-3 6-5 3zm-5 5l5-5-4 1-4 2zm-85 20l4 1-3-1-5 1zm-5-1l5 1-4 1-4 1zm-4 0l4 0-3 3-5 0zm-5 2l5-2-4 3-4 2zm-4 4l4-4-3 3-5 2zm-5 3l5-3-4 1-4 1zm251-69l4 2-3-2-5-1z"/><path class="q1" d="M1125 993l5 3-4-1-4-2zm-4-1l4 1-3 0-5 0zm-5 3l5-3-4 1-4 2zm-4 5l4-5-3 0-5 5z"/><path class="q0" d="M1107 1005l5-5-4 0-4 4zm-85 21l5 3-4-2-4-2z"/><path class="q1" d="M1018 1018l4 8-3-1-5-6z"/><path class="q2" d="M1013 1010l5 8-4 1-4-7zm-4-3l4 3-3 2-5-2zm-5 5l5-5-4 3-4 5zm-4 11l4-11-3 3-5 9z"/><path class="q1" d="M995 1033l5-10-4 1-4 8z"/><path class="q0" d="M991 1038l4-5-3-1-5 5zm-86 20l5 1-4-1-4-1z"/><path class="q1" d="M901 1056l4 2-3-1-5-1zm-5 0l5 0-4 0-4 0zm-4 3l4-3-3 0-5 2zm-5 4l5-4-4-1-4 4z"/><path class="q0" d="M883 1067l4-4-3-1-5 3zm250-66l5 0-4-3-4-2zm-4 0l4 0-3-5-5-3z"/><path class="q1" d="M1124 1001l5 0-4-8-4-1zm-4 2l4-2-3-9-5 3z"/><path class="q0" d="M1115 1006l5-3-4-8-4 5zm-4 2l4-2-3-6-5 5zm-85 22l4 0-3-1-5-3z"/><path class="q1" d="M1021 1029l5 1-4-4-4-8zm-4-2l4 2-3-11-5-8z"/><path class="q2" d="M1012 1027l5 0-4-17-4-3zm-4 3l4-3-3-20-5 5z"/><path class="q1" d="M1003 1034l5-4-4-18-4 11zm-4 4l4-4-3-11-5 10z"/><path class="q0" d="M994 1040l5-2-4-5-4 5zm-85 22l4 0-3-3-5-1zm-5 1l5-1-4-4-4-2z"/><path class="q1" d="M900 1063l4 0-3-7-5 0zm-5 2l5-2-4-7-4 3z"/><path class="q0" d="M891 1067l4-2-3-6-5 4zm-5 2l5-2-4-4-4 4zm246-66l5 0-4-2-4 0zm-4 1l4-1-3-2-5 0zm-5 2l5-2-4-3-4 2zm-4 2l4-2-3-3-5 3zm-95 24l5 0-3-2-5-1zm-4-1l4 1-3-3-4-2z"/><path class="q1" d="M1016 1031l4 0-3-4-5 0zm-5 2l5-2-4-4-4 3z"/><path class="q0" d="M1007 1036l4-3-3-3-5 4zm-5 4l5-4-4-2-4 4zm246-67l4 0-3 0-4 1zm-4 1l4-1-3 1-5 1zm-5 2l5-2-4 1-4 2zm-4 2l4-2-3 1-5 1zm-90 21l4 4-3-2-5 1z"/><path class="q1" d="M1140 988l5 11-4 3-4 1zm-4-12l4 12-3 15-5 0z"/><path class="q2" d="M1131 972l5 4-4 27-4 1zm-4 7l4-7-3 32-5 2z"/><path class="q1" d="M1122 993l5-14-4 27-4 2zm-4 13l4-13-3 15-5 2z"/><path class="q0" d="M1113 1012l5-6-4 4-4 1zm-63 14l5 2-4-1-4 1zm-4 1l4-1-3 2-5 1zm-5 4l5-4-4 2-4 2zm-9-10l5 12-4-1-4 0z"/><path class="q2" d="M1028 992l4 29-3 11-5 0z"/><path class="q3" d="M1023 960l5 32-4 40-4-1z"/><path class="q5" d="M1019 946l4 14-3 71-4 0zm-5 16l5-16-3 85-5 2z"/><path class="q3" d="M1010 997l4-35-3 71-4 3z"/><path class="q2" d="M1005 1028l5-31-3 39-5 4z"/><path class="q0" d="M1001 1042l4-14-3 12-4 2zm-9 0l4 1-3 0-4 1zm-4 2l4-2-3 2-5 1zm-5 3l5-3-4 1-4 2zm-63 14l5 3-4-1-4 0zm-4-8l4 8-3 2-5 1z"/><path class="q1" d="M911 1045l5 8-4 11-4 1zm-4-3l4 3-3 20-5 1zm-5 5l5-5-4 24-4 1zm-4 11l4-11-3 20-5 2z"/><path class="q0" d="M893 1068l5-10-4 11-4 2zm-4 6l4-6-3 3-5 1zm-90 22l4 0-3-1-5 2zm-5 1l5-1-4 1-4 1zm-4 1l4-1-3 1-5 1zm-5 3l5-3-4 1-4 1zm471-130l4 3-3-1-5 0zm-5-2l5 2-4 2-4 0z"/><path class="q1" d="M1247 968l4 1-3 4-4 1zm-5 3l5-3-3 6-5 2z"/><path class="q0" d="M1238 976l4-5-3 5-4 2zm-5 5l5-5-3 2-5 2zm-67 16l5 2-4-1-4 0zm-4 0l4 0-3 1-5 1zm-5 5l5-5-4 2-4 2z"/><path class="q1" d="M1148 988l5 15-4 0-4-4z"/><path class="q2" d="M1144 953l4 35-3 11-5-11z"/><path class="q5" d="M1139 913l5 40-4 35-4-12z"/><path class="q7" d="M1135 896l4 17-3 63-5-4zm-5 20l5-20-4 76-4 7z"/><path class="q5" d="M1126 958l4-42-3 63-5 14z"/><path class="q2" d="M1121 996l5-38-4 35-4 13z"/><path class="q1" d="M1117 1013l4-17-3 10-5 6z"/><path class="q0" d="M1108 1012l4 2-3-1-5 1zm-5 2l5-2-4 2-4 1zm-4 4l4-4-3 1-5 2zm-27 4l4 3-3-1-5-1zm-5 3l5-3-4 1-4 2zm-4 4l4-4-3 0-5 2zm-5-1l5 1-4-2-4 1zm-4-7l4 7-3 0-5-2z"/><path class="q1" d="M1049 1020l5 1-4 5-4 1zm-4 10l4-10-3 7-5 4z"/><path class="q0" d="M1040 1032l5-2-4 1-4 2z"/><path class="q2" d="M1036 992l4 40-3 1-5-12z"/><path class="q6" d="M1031 900l5 92-4 29-4-29z"/><path class="q13" d="M1027 797l4 103-3 92-5-32z"/><path class="q18" d="M1022 753l5 44-4 163-4-14zm-4 47l4-47-3 193-5 16z"/><path class="q13" d="M1013 904l5-104-4 162-4 35z"/><path class="q6" d="M1009 999l4-95-3 93-5 31z"/><path class="q2" d="M1004 1042l5-43-4 29-4 14z"/><path class="q0" d="M1000 1042l4 0-3 0-5 1z"/><path class="q1" d="M995 1034l5 8-4 1-4-1zm-4 4l4-4-3 8-4 2z"/><path class="q0" d="M986 1047l5-9-3 6-5 3zm-4 4l4-4-3 0-4 2zm-5-2l5 2-3-2-5 1zm-4 0l4 0-3 1-4 0zm-4 6l4-6-3 1-5 3zm-27 4l4 1-3-1-5 0zm-5 0l5 0-4 0-4 1zm-4 4l4-4-3 1-5 3zm-9-9l4 11-3-1-5-3z"/><path class="q2" d="M919 1027l5 27-4 7-4-8z"/><path class="q4" d="M915 998l4 29-3 26-5-8z"/><path class="q5" d="M910 985l5 13-4 47-4-3zm-4 15l4-15-3 57-5 5z"/><path class="q4" d="M901 1032l5-32-4 47-4 11z"/><path class="q2" d="M897 1061l4-29-3 26-5 10z"/><path class="q0" d="M892 1075l5-14-4 7-4 6zm-9-1l5 2-4-1-4 0zm-4 2l4-2-3 1-5 2zm-5 4l5-4-4 1-4 2zm-67 14l4 2-3-1-5 1zm-5-2l5 2-4 2-4 0z"/><path class="q1" d="M798 1092l4 0-3 4-5 1zm-5 3l5-3-4 5-4 1z"/><path class="q0" d="M789 1099l4-4-3 3-5 3zm-5 4l5-4-4 2-4 2zm480-129l4 1-3-1-5 0zm-5-5l5 5-4 0-4-3z"/><path class="q1" d="M1255 964l4 5-3 2-5-2zm-5-2l5 2-4 5-4-1zm-4 4l4-4-3 6-5 3zm-5 8l5-8-4 5-4 5z"/><path class="q0" d="M1237 981l4-7-3 2-5 5zm-5 4l5-4-4 0-4 3zm-44 9l4 2-3-1-5-1zm-5 3l5-3-4 0-4 2zm-13-2l4 4-3 0-5-2z"/><path class="q1" d="M1165 995l5 0-4 2-4 0z"/><path class="q0" d="M1161 1002l4-7-3 2-5 5zm-5 2l5-2-4 0-4 1z"/><path class="q1" d="M1152 977l4 27-3-1-5-15z"/><path class="q5" d="M1147 914l5 63-4 11-4-35z"/><path class="q11" d="M1143 843l4 71-3 39-5-40z"/><path class="q15" d="M1138 813l5 30-4 70-4-17zm-4 33l4-33-3 83-5 20z"/><path class="q11" d="M1129 918l5-72-4 70-4 42z"/><path class="q5" d="M1125 984l4-66-3 40-5 38z"/><path class="q1" d="M1120 1014l5-30-4 12-4 17z"/><path class="q0" d="M1116 1014l4 0-3-1-5 1zm-5-5l5 5-4 0-4-2z"/><path class="q1" d="M1107 1012l4-3-3 3-5 2z"/><path class="q0" d="M1102 1019l5-7-4 2-4 4zm-13 2l4 0-3-1-5 1zm-5 5l5-5-4 0-4 3zm-9-6l5 7-4-2-4-3z"/><path class="q1" d="M1071 1024l4-4-3 2-5 3z"/><path class="q0" d="M1066 1030l5-6-4 1-4 4zm-4-3l4 3-3-1-5-1z"/><path class="q1" d="M1057 1015l5 12-4 1-4-7z"/><path class="q2" d="M1053 1012l4 3-3 6-5-1z"/><path class="q1" d="M1048 1029l5-17-4 8-4 10z"/><path class="q0" d="M1044 1032l4-3-3 1-5 2z"/><path class="q3" d="M1039 960l5 72-4 0-4-40z"/><path class="q13" d="M1035 798l4 162-3 32-5-92z"/><path class="q28" d="M1030 617l5 181-4 102-4-103z"/><path class="q38" d="M1026 539l4 78-3 180-5-44zm-5 81l5-81-4 214-4 47z"/><path class="q28" d="M1017 802l4-182-3 180-5 104z"/><path class="q13" d="M1012 968l5-166-4 102-4 95z"/><path class="q3" d="M1008 1042l4-74-3 31-5 43z"/><path class="q0" d="M1003 1041l5 1-4 0-4 0z"/><path class="q1" d="M999 1026l4 15-3 1-5-8z"/><path class="q2" d="M994 1032l5-6-4 8-4 4z"/><path class="q1" d="M990 1047l4-15-3 6-5 9z"/><path class="q0" d="M985 1052l5-5-4 0-4 4zm-4-4l4 4-3-1-5-2z"/><path class="q1" d="M976 1047l5 1-4 1-4 0z"/><path class="q0" d="M972 1056l4-9-3 2-4 6zm-9 0l4 2-3-2-4 0zm-5 2l5-2-3 0-5 1zm-13 0l5 3-4-1-4-1z"/><path class="q1" d="M941 1058l4 0-3 1-5 0z"/><path class="q0" d="M936 1064l5-6-4 1-4 4z"/><path class="q1" d="M927 1046l5 20-4-1-4-11z"/><path class="q4" d="M923 998l4 48-3 8-5-27z"/><path class="q8" d="M918 946l5 52-4 29-4-29z"/><path class="q11" d="M914 923l4 23-3 52-5-13zm-5 25l5-25-4 62-4 15z"/><path class="q8" d="M905 1003l4-55-3 52-5 32z"/><path class="q4" d="M900 1053l5-50-4 29-4 29z"/><path class="q1" d="M896 1076l4-23-3 8-5 14z"/><path class="q0" d="M887 1073l4 3-3 0-5-2z"/><path class="q1" d="M882 1075l5-2-4 1-4 2z"/><path class="q0" d="M878 1081l4-6-3 1-5 4zm-14 2l5 0-4-1-4 1zm-4 4l4-4-3 0-5 2zm-45 10l4 1-3-2-5 0zm-5-4l5 4-4-1-4-2z"/><path class="q1" d="M806 1088l4 5-3 1-5-2zm-5-1l5 1-4 4-4 0zm-4 4l4-4-3 5-5 3zm-5 7l5-7-4 4-4 4z"/><path class="q0" d="M788 1104l4-6-3 1-5 4zm-5 4l5-4-4-1-4 3zm484-133l5 2-4-2-4-1z"/><path class="q1" d="M1263 969l4 6-3-1-5-5zm-5-7l5 7-4 0-4-5z"/><path class="q2" d="M1254 960l4 2-3 2-5-2zm-5 5l5-5-4 2-4 4z"/><path class="q1" d="M1245 974l4-9-3 1-5 8zm-5 8l5-8-4 0-4 7z"/><path class="q0" d="M1236 987l4-5-3-1-5 4zm-45 8l4 3-3-2-4-2zm-5 3l5-3-3-1-5 3zm-4 4l4-4-3-1-4 3z"/><path class="q1" d="M1173 995l5 6-4-2-4-4zm-4 0l4 0-3 0-5 0zm-5 8l5-8-4 0-4 7z"/><path class="q0" d="M1160 1005l4-2-3-1-5 2z"/><path class="q2" d="M1155 973l5 32-4-1-4-27z"/><path class="q7" d="M1151 897l4 76-3 4-5-63z"/><path class="q15" d="M1146 814l5 83-4 17-4-71z"/><path class="q21" d="M1142 777l4 37-3 29-5-30zm-5 39l5-39-4 36-4 33z"/><path class="q15" d="M1133 902l4-86-3 30-5 72z"/><path class="q7" d="M1128 980l5-78-4 16-4 66z"/><path class="q2" d="M1124 1015l4-35-3 4-5 30z"/><path class="q0" d="M1119 1016l5-1-4-1-4 0z"/><path class="q1" d="M1115 1009l4 7-3-2-5-5zm-5 4l5-4-4 0-4 3zm-4 7l4-7-3-1-5 7z"/><path class="q0" d="M1097 1022l4 2-3-2-5-1zm-5 0l5 0-4-1-4 0zm-4 5l4-5-3-1-5 5zm-9-7l4 9-3-2-5-7z"/><path class="q1" d="M1074 1024l5-4-4 0-4 4z"/><path class="q0" d="M1070 1032l4-8-3 0-5 6zm-5-4l5 4-4-2-4-3z"/><path class="q1" d="M1061 1013l4 15-3-1-5-12z"/><path class="q2" d="M1056 1009l5 4-4 2-4-3zm-4 20l4-20-3 3-5 17z"/><path class="q1" d="M1047 1032l5-3-4 0-4 3z"/><path class="q5" d="M1043 947l4 85-3 0-5-72z"/><path class="q18" d="M1038 754l5 193-4 13-4-162z"/><path class="q38" d="M1034 539l4 215-3 44-5-181z"/><path class="q53" d="M1029 445l5 94-4 78-4-78zm-4 97l4-97-3 94-5 81z"/><path class="q38" d="M1020 758l5-216-4 78-4 182z"/><path class="q18" d="M1016 955l4-197-3 44-5 166z"/><path class="q5" d="M1011 1042l5-87-4 13-4 74z"/><path class="q1" d="M1007 1041l4 1-3 0-5-1z"/><path class="q2" d="M1002 1024l5 17-4 0-4-15zm-4 6l4-6-3 2-5 6z"/><path class="q1" d="M993 1048l5-18-4 2-4 15z"/><path class="q0" d="M989 1054l4-6-3-1-5 5zm-5-5l5 5-4-2-4-4z"/><path class="q1" d="M980 1047l4 2-3-1-5-1z"/><path class="q0" d="M975 1058l5-11-4 0-4 9zm-9-1l5 2-4-1-4-2zm-4 3l4-3-3-1-5 2zm-14-1l5 3-3-1-5-3z"/><path class="q1" d="M944 1058l4 1-3-1-4 0zm-5 7l5-7-3 0-5 6zm-9-22l5 24-3-1-5-20z"/><path class="q5" d="M926 986l4 57-3 3-4-48z"/><path class="q11" d="M922 923l4 63-3 12-5-52z"/><path class="q16" d="M917 897l5 26-4 23-4-23zm-4 29l4-29-3 26-5 25z"/><path class="q11" d="M908 991l5-65-4 22-4 55z"/><path class="q5" d="M904 1050l4-59-3 12-5 50z"/><path class="q1" d="M899 1077l5-27-4 3-4 23zm-9-4l5 4-4-1-4-3zm-4 3l4-3-3 0-5 2z"/><path class="q0" d="M881 1082l5-6-4-1-4 6zm-13 2l4 0-3-1-5 0zm-5 4l5-4-4-1-4 4zm-45 10l5 1-4-1-4-1z"/><path class="q1" d="M814 1093l4 5-3-1-5-4zm-5-5l5 5-4 0-4-5z"/><path class="q2" d="M805 1086l4 2-3 0-5-1zm-5 4l5-4-4 1-4 4z"/><path class="q1" d="M796 1098l4-8-3 1-5 7zm-5 7l5-7-4 0-4 6z"/><path class="q0" d="M787 1109l4-4-3-1-5 4zm484-132l4 2-3-2-5-2z"/><path class="q1" d="M1266 972l5 5-4-2-4-6zm-4-5l4 5-3-3-5-7z"/><path class="q2" d="M1257 965l5 2-4-5-4-2zm-4 4l4-4-3-5-5 5z"/><path class="q1" d="M1248 977l5-8-4-4-4 9zm-4 7l4-7-3-3-5 8z"/><path class="q0" d="M1239 988l5-4-4-2-4 5zm-45 10l5 2-4-2-4-3zm-4 2l4-2-3-3-5 3zm-5 3l5-3-4-2-4 4z"/><path class="q1" d="M1176 998l5 5-3-2-5-6zm-4 0l4 0-3-3-4 0zm-5 7l5-7-3-3-5 8z"/><path class="q0" d="M1163 1007l4-2-3-2-4 2z"/><path class="q2" d="M1158 980l5 27-3-2-5-32z"/><path class="q7" d="M1154 917l4 63-3-7-4-76z"/><path class="q15" d="M1150 847l4 70-3-20-5-83z"/><path class="q21" d="M1145 816l5 31-4-33-4-37zm-4 33l4-33-3-39-5 39z"/><path class="q15" d="M1136 922l5-73-4-33-4 86z"/><path class="q7" d="M1132 987l4-65-3-20-5 78z"/><path class="q2" d="M1127 1017l5-30-4-7-4 35z"/><path class="q0" d="M1123 1018l4-1-3-2-5 1z"/><path class="q1" d="M1118 1013l5 5-4-2-4-7zm-4 2l4-2-3-4-5 4zm-5 7l5-7-4-2-4 7z"/><path class="q0" d="M1100 1024l5 1-4-1-4-2zm-4 0l4 0-3-2-5 0zm-5 5l5-5-4-2-4 5zm-9-6l5 7-4-1-4-9z"/><path class="q1" d="M1078 1027l4-4-3-3-5 4z"/><path class="q0" d="M1073 1034l5-7-4-3-4 8zm-4-3l4 3-3-2-5-4z"/><path class="q1" d="M1064 1018l5 13-4-3-4-15z"/><path class="q2" d="M1060 1015l4 3-3-5-5-4zm-5 17l5-17-4-6-4 20z"/><path class="q1" d="M1051 1035l4-3-3-3-5 3z"/><path class="q5" d="M1046 964l5 71-4-3-4-85z"/><path class="q18" d="M1042 801l4 163-3-17-5-193z"/><path class="q38" d="M1037 621l5 180-4-47-4-215z"/><path class="q53" d="M1033 542l4 79-3-82-5-94zm-5 81l5-81-4-97-4 97z"/><path class="q38" d="M1024 806l4-183-3-81-5 216z"/><path class="q18" d="M1019 971l5-165-4-48-4 197z"/><path class="q5" d="M1015 1045l4-74-3-16-5 87z"/><path class="q1" d="M1010 1044l5 1-4-3-4-1z"/><path class="q2" d="M1006 1029l4 15-3-3-5-17zm-5 6l5-6-4-5-4 6z"/><path class="q1" d="M997 1050l4-15-3-5-5 18z"/><path class="q0" d="M992 1056l5-6-4-2-4 6zm-4-5l4 5-3-2-5-5z"/><path class="q1" d="M983 1050l5 1-4-2-4-2z"/><path class="q0" d="M979 1059l4-9-3-3-5 11zm-9 0l4 2-3-2-5-2zm-5 2l5-2-4-2-4 3zm-13 0l4 3-3-2-5-3z"/><path class="q1" d="M947 1061l5 0-4-2-4-1zm-4 6l4-6-3-3-5 7zm-9-18l4 20-3-2-5-24z"/><path class="q5" d="M929 1001l5 48-4-6-4-57z"/><path class="q11" d="M925 949l4 52-3-15-4-63z"/><path class="q16" d="M920 926l5 23-3-26-5-26zm-4 25l4-25-3-29-4 29z"/><path class="q11" d="M911 1006l5-55-3-25-5 65z"/><path class="q5" d="M907 1056l4-50-3-15-4 59z"/><path class="q1" d="M903 1079l4-23-3-6-5 27zm-9-3l4 3-3-2-5-4zm-5 2l5-2-4-3-4 3z"/><path class="q0" d="M885 1084l4-6-3-2-5 6zm-14 2l5 0-4-2-4 0zm-4 4l4-4-3-2-5 4zm-45 10l4 1-3-2-5-1z"/><path class="q1" d="M817 1096l5 4-4-2-4-5zm-4-4l4 4-3-3-5-5z"/><path class="q2" d="M808 1090l5 2-4-4-4-2zm-4 4l4-4-3-4-5 4z"/><path class="q1" d="M799 1101l5-7-4-4-4 8zm-4 6l4-6-3-3-5 7z"/><path class="q0" d="M790 1111l5-4-4-2-4 4zm484-131l5 0-4-1-4-2zm-4-2l4 2-3-3-5-5z"/><path class="q1" d="M1265 975l5 3-4-6-4-5zm-4 0l4 0-3-8-5-2zm-5 2l5-2-4-10-4 4zm-4 6l4-6-3-8-5 8z"/><path class="q0" d="M1247 987l5-4-4-6-4 7zm-4 3l4-3-3-3-5 4zm-45 11l4 0-3-1-5-2zm-5 1l5-1-4-3-4 2zm-13 1l4 2-3-2-5-5z"/><path class="q1" d="M1175 1003l5 0-4-5-4 0z"/><path class="q0" d="M1171 1008l4-5-3-5-5 7zm-5 2l5-2-4-3-4 2z"/><path class="q1" d="M1162 995l4 15-3-3-5-27z"/><path class="q5" d="M1157 959l5 36-4-15-4-63z"/><path class="q11" d="M1153 920l4 39-3-42-4-70z"/><path class="q15" d="M1148 903l5 17-3-73-5-31zm-4 19l4-19-3-87-4 33z"/><path class="q11" d="M1139 964l5-42-3-73-5 73z"/><path class="q5" d="M1135 1002l4-38-3-42-4 65z"/><path class="q1" d="M1131 1020l4-18-3-15-5 30z"/><path class="q0" d="M1126 1020l5 0-4-3-4 1zm-4-2l4 2-3-2-5-5z"/><path class="q1" d="M1117 1020l5-2-4-5-4 2z"/><path class="q0" d="M1113 1025l4-5-3-5-5 7zm-14 2l5 0-4-3-4 0zm-4 3l4-3-3-3-5 5zm-9-2l4 4-3-2-5-7z"/><path class="q1" d="M1081 1031l5-3-4-5-4 4z"/><path class="q0" d="M1077 1035l4-4-3-4-5 7zm-5-1l5 1-4-1-4-3z"/><path class="q1" d="M1068 1027l4 7-3-3-5-13z"/><path class="q2" d="M1063 1026l5 1-4-9-4-3z"/><path class="q1" d="M1059 1036l4-10-3-11-5 17z"/><path class="q0" d="M1054 1039l5-3-4-4-4 3z"/><path class="q3" d="M1050 998l4 41-3-4-5-71z"/><path class="q13" d="M1045 906l5 92-4-34-4-163z"/><path class="q28" d="M1041 804l4 102-3-105-5-180z"/><path class="q38" d="M1036 759l5 45-4-183-4-79zm-4 47l4-47-3-217-5 81z"/><path class="q28" d="M1027 911l5-105-4-183-4 183z"/><path class="q13" d="M1023 1006l4-95-3-105-5 165z"/><path class="q3" d="M1018 1048l5-42-4-35-4 74z"/><path class="q0" d="M1014 1049l4-1-3-3-5-1z"/><path class="q1" d="M1009 1041l5 8-4-5-4-15z"/><path class="q2" d="M1005 1044l4-3-3-12-5 6z"/><path class="q1" d="M1000 1054l5-10-4-9-4 15z"/><path class="q0" d="M996 1057l4-3-3-4-5 6zm-5-2l5 2-4-1-4-5z"/><path class="q1" d="M987 1055l4 0-3-4-5-1z"/><path class="q0" d="M982 1061l5-6-4-5-4 9zm-9 1l5 0-4-1-4-2zm-4 2l4-2-3-3-5 2zm-14 1l5 1-4-2-4-3z"/><path class="q1" d="M951 1066l4-1-3-4-5 0z"/><path class="q0" d="M946 1070l5-4-4-5-4 6z"/><path class="q1" d="M937 1060l5 11-4-2-4-20z"/><path class="q4" d="M933 1034l4 26-3-11-5-48z"/><path class="q8" d="M928 1004l5 30-4-33-4-52z"/><path class="q11" d="M924 992l4 12-3-55-5-23zm-5 15l5-15-4-66-4 25z"/><path class="q8" d="M915 1038l4-31-3-56-5 55z"/><path class="q4" d="M910 1067l5-29-4-32-4 50z"/><path class="q1" d="M906 1081l4-14-3-11-4 23z"/><path class="q0" d="M897 1080l4 2-3-3-4-3z"/><path class="q1" d="M892 1082l5-2-3-4-5 2z"/><path class="q0" d="M888 1086l4-4-3-4-4 6zm-13 3l4-1-3-2-5 0zm-5 3l5-3-4-3-4 4zm-45 10l5 1-4-2-4-1zm-4-1l4 1-3-2-5-4z"/><path class="q1" d="M816 1099l5 2-4-5-4-4zm-4 0l4 0-3-7-5-2zm-5 2l5-2-4-9-4 4zm-4 5l4-5-3-7-5 7z"/><path class="q0" d="M798 1110l5-4-4-5-4 6zm-4 2l4-2-3-3-5 4zm479-129l5 0-4-3-4-2zm-4 0l4 0-3-5-5-3z"/><path class="q1" d="M1264 983l5 0-4-8-4 0zm-4 2l4-2-3-8-5 2z"/><path class="q0" d="M1255 988l5-3-4-8-4 6zm-4 2l4-2-3-5-5 4zm-68 17l5 0-4-2-4-2zm-4 1l4-1-3-4-5 0zm-5 3l5-3-4-5-4 5z"/><path class="q1" d="M1165 1008l5 4-4-2-4-15z"/><path class="q2" d="M1161 998l4 10-3-13-5-36z"/><path class="q5" d="M1156 986l5 12-4-39-4-39z"/><path class="q7" d="M1152 981l4 5-3-66-5-17zm-5 7l5-7-4-78-4 19z"/><path class="q5" d="M1143 1002l4-14-3-66-5 42z"/><path class="q2" d="M1138 1015l5-13-4-38-4 38z"/><path class="q1" d="M1134 1022l4-7-3-13-4 18z"/><path class="q0" d="M1125 1023l4 0-3-3-4-2zm-5 2l5-2-3-5-5 2zm-4 2l4-2-3-5-4 5zm-27 6l5 0-4-1-4-4zm-4 2l4-2-3-5-5 3zm-5 2l5-2-4-4-4 4zm-4 0l4 0-3-2-5-1zm-5-1l5 1-4-3-4-7z"/><path class="q1" d="M1067 1036l4 0-3-9-5-1zm-5 5l5-5-4-10-4 10z"/><path class="q0" d="M1058 1042l4-1-3-5-5 3z"/><path class="q2" d="M1053 1030l5 12-4-3-4-41z"/><path class="q6" d="M1049 1001l4 29-3-32-5-92z"/><path class="q13" d="M1044 969l5 32-4-95-4-102z"/><path class="q18" d="M1040 956l4 13-3-165-5-45zm-5 16l5-16-4-197-4 47z"/><path class="q13" d="M1031 1006l4-34-3-166-5 105z"/><path class="q6" d="M1026 1037l5-31-4-95-4 95z"/><path class="q2" d="M1022 1052l4-15-3-31-5 42z"/><path class="q0" d="M1017 1053l5-1-4-4-4 1z"/><path class="q1" d="M1013 1051l4 2-3-4-5-8zm-5 2l5-2-4-10-4 3z"/><path class="q0" d="M1004 1057l4-4-3-9-5 10zm-5 2l5-2-4-3-4 3zm-4 0l4 0-3-2-5-2zm-5 1l5-1-4-4-4 0zm-4 3l4-3-3-5-5 6zm-27 6l4 0-3-3-5-1zm-5 1l5-1-4-4-4 1zm-4 2l4-2-3-4-5 4zm-9-1l4 2-3-2-5-11z"/><path class="q2" d="M936 1063l5 8-4-11-4-26z"/><path class="q4" d="M932 1054l4 9-3-29-5-30z"/><path class="q5" d="M927 1051l5 3-4-50-4-12zm-4 6l4-6-3-59-5 15z"/><path class="q4" d="M918 1068l5-11-4-50-4 31z"/><path class="q2" d="M914 1078l4-10-3-30-5 29z"/><path class="q0" d="M909 1083l5-5-4-11-4 14zm-9 2l5-1-4-2-4-2zm-4 1l4-1-3-5-5 2zm-5 2l5-2-4-4-4 4zm-67 17l5 0-4-3-4-1zm-4 0l4 0-3-4-5-2z"/><path class="q1" d="M815 1106l5-1-4-6-4 0zm-4 2l4-2-3-7-5 2z"/><path class="q0" d="M806 1110l5-2-4-7-4 5zm-4 2l4-2-3-4-5 4zm470-125l5-1-4-3-4 0zm-4 1l4-1-3-4-5 0zm-5 1l5-1-4-5-4 2zm-4 2l4-2-3-4-5 3zm-90 24l4-1-3-2-5-4z"/><path class="q1" d="M1164 1015l5 0-4-7-4-10zm-4 1l4-1-3-17-5-12z"/><path class="q2" d="M1155 1017l5-1-4-30-4-5zm-4 1l4-1-3-36-5 7z"/><path class="q1" d="M1146 1020l5-2-4-30-4 14zm-4 2l4-2-3-18-5 13z"/><path class="q0" d="M1137 1024l5-2-4-7-4 7zm-62 17l4-1-3-3-5-1zm-5 1l5-1-4-5-4 0zm-4 1l4-1-3-6-5 5zm-9 2l4 0-3-3-5-12z"/><path class="q2" d="M1052 1044l5 1-4-15-4-29z"/><path class="q3" d="M1048 1043l4 1-3-43-5-32z"/><path class="q5" d="M1043 1044l5-1-4-74-4-13zm-4 2l4-2-3-88-5 16z"/><path class="q3" d="M1034 1049l5-3-4-74-4 34z"/><path class="q2" d="M1030 1052l4-3-3-43-5 31z"/><path class="q0" d="M1025 1054l5-2-4-15-4 15zm-9 3l5-1-4-3-4-2zm-4 1l4-1-3-6-5 2zm-5 1l5-1-4-5-4 4zm-63 17l5-1-4-2-4-2zm-4 1l4-1-3-5-5-8z"/><path class="q1" d="M935 1077l5 0-4-14-4-9zm-4 1l4-1-3-23-5-3zm-5 2l5-2-4-27-4 6zm-4 2l4-2-3-23-5 11z"/><path class="q0" d="M917 1084l5-2-4-14-4 10zm-4 1l4-1-3-6-5 5zm-90 24l5-1-4-3-4 0zm-4 2l4-2-3-4-5 1zm-5 1l5-1-4-5-4 2zm-4 1l4-1-3-4-5 2zm353-96l5 0-4-2-4 1zm-4 0l4 0-3-1-5 1zm-5 2l5-2-4 0-4 1zm-4 2l4-2-3-1-5 2zm-94 24l4 1-3-1-5-1zm-5-2l5 2-4-1-4-1z"/><path class="q1" d="M1047 1043l4 0-3 0-5 1zm-5 3l5-3-4 1-4 2z"/><path class="q0" d="M1038 1050l4-4-3 0-5 3zm-5 4l5-4-4-1-4 3zm138-39l5 2-4-1-4 1zm-4-3l4 3-3 2-5 0z"/><path class="q1" d="M1162 1012l5 0-4 5-4 0zm-4 2l4-2-3 5-5 2z"/><path class="q0" d="M1153 1020l5-6-4 5-4 2zm-4 4l4-4-3 1-5 3zm-86 21l5 3-3-2-5 0z"/><path class="q1" d="M1059 1037l4 8-3 1-4-1zm-5-8l5 8-3 8-5-2z"/><path class="q2" d="M1050 1026l4 3-3 14-4 0zm-4 5l4-5-3 17-5 3z"/><path class="q1" d="M1041 1042l5-11-4 15-4 4zm-4 10l4-10-3 8-5 4z"/><path class="q0" d="M1032 1057l5-5-4 2-4 2zm-85 20l4 1-3 0-5 0zm-5-2l5 2-4 1-4 0z"/><path class="q1" d="M938 1075l4 0-3 3-5 1zm-5 3l5-3-4 4-4 2z"/><path class="q0" d="M929 1082l4-4-3 3-5 2zm-5 4l5-4-4 1-4 2zm251-69l4 2-3-2-5-2z"/><path class="q1" d="M1170 1015l5 2-4-2-4-3zm-4 0l4 0-3-3-5 0zm-5 3l5-3-4-3-4 2zm-4 4l4-4-3-4-5 6z"/><path class="q0" d="M1152 1026l5-4-4-2-4 4zm-85 21l4 2-3-1-5-3z"/><path class="q1" d="M1062 1041l5 6-4-2-4-8z"/><path class="q2" d="M1058 1035l4 6-3-4-5-8zm-5-3l5 3-4-6-4-3zm-4 5l4-5-3-6-4 5zm-5 9l5-9-3-6-5 11z"/><path class="q1" d="M1040 1055l4-9-3-4-4 10z"/><path class="q0" d="M1035 1059l5-4-3-3-5 5zm-85 20l5 1-4-2-4-1z"/><path class="q1" d="M946 1078l4 1-3-2-5-2zm-5 0l5 0-4-3-4 0zm-4 3l4-3-3-3-5 3zm-5 3l5-3-4-3-4 4z"/><path class="q0" d="M928 1088l4-4-3-2-5 4zm250-66l5-1-4-2-4-2zm-4 0l4 0-3-5-5-2z"/><path class="q1" d="M1169 1023l5-1-4-7-4 0zm-4 2l4-2-3-8-5 3z"/><path class="q0" d="M1160 1027l5-2-4-7-4 4zm-4 2l4-2-3-5-5 4zm-86 22l5 0-4-2-4-2zm-4 0l4 0-3-4-5-6z"/><path class="q1" d="M1061 1050l5 1-4-10-4-6zm-4 1l4-1-3-15-5-3zm-5 2l5-2-4-19-4 5zm-4 3l4-3-3-16-5 9z"/><path class="q0" d="M1043 1059l5-3-4-10-4 9zm-4 2l4-2-3-4-5 4zm-85 22l4 0-3-3-5-1zm-5 1l5-1-4-4-4-1zm-4 1l4-1-3-6-5 0zm-5 1l5-1-4-7-4 3zm-4 2l4-2-3-5-5 3zm-5 2l5-2-4-4-4 4zm138-35l5-1-4-3-4 0zm-4 1l4-1-3-4-5-1zm-5 1l5-1-4-6-4 1zm-4 1l4-1-3-6-5 2zm-5 2l5-2-4-5-4 3zm-4 1l4-1-3-4-5 3zm129-35l5-1-4 1-4 1zm-4 2l4-2-3 1-5 1zm-99 25l4 1-3 0-5 1zm-5-1l5 1-4 2-4 1zm-4 0l4 0-3 4-5 1zm-5 3l5-3-4 5-4 1zm-4 3l4-3-3 3-5 2zm-5 4l5-4-4 2-4 1zm134-36l5 0-4-1-4 0zm-4 0l4 0-3-1-5 1zm-5 2l5-2-4 0-4 2zm-4 3l4-3-3 0-5 2zm-95 23l5 2-4-2-4-1z"/><path class="q1" d="M1072 1051l4 3-3-1-5-1zm-5 0l5 0-4 1-4 0zm-4 3l4-3-3 1-5 3zm-5 4l5-4-4 1-4 3z"/><path class="q0" d="M1054 1063l4-5-3 0-5 4zm-95 25l5-1-3-1-5 1zm-4 0l4 0-3-1-4 1zm-5 2l5-2-3 0-5 1zm-4 2l4-2-3-1-4 2zm241-62l5-1-3-3-5 0zm-4 2l4-2-3-4-4 0zm-5 1l5-1-3-6-5 2zm-4 1l4-1-3-5-4 3zm-94 26l4-1-3-3-5-2zm-5 1l5-1-4-6-4-3zm-4 1l4-1-3-10-5 0zm-5 1l5-1-4-11-4 3zm-4 2l4-2-3-9-5 4zm-5 1l5-1-4-7-4 5zm-94 26l4-2-3-3-5 1zm-5 1l5-1-4-4-4 0zm-4 1l4-1-3-5-5 2zm-5 1l5-1-4-4-4 2zm133-33l5 0-4-1-4 2zm-4 1l4-1-3 1-5 1zm-5 1l5-1-4 1-4 1zm-4 3l4-3-3 1-5 1zm17-3l4 0-3-2-5 0zm-5 1l5-1-4-2-4 1zm-4 2l4-2-3-2-5 1zm-5 2l5-2-4-3-4 3zm132-30l4-1-3 0-5 1zm-5 1l5-1-4 0-4 1zm-99 26l5 1-4-1-4 1zm-4-1l4 1-3 1-5 1zm-5 0l5 0-4 3-4 1zm-4 3l4-3-3 4-5 1zm-5 3l5-3-4 2-4 2zm-4 3l4-3-3 1-5 2zm134-35l4 0-3-2-5 1zm-5 1l5-1-4-1-4 1zm-4 1l4-1-3-1-5 1zm-5 3l5-3-4-1-4 2zm-94 23l4 1-3-1-5-1z"/><path class="q1" d="M1099 1065l5 2-4-1-4-1zm-4 0l4 0-3 0-5 0zm-5 3l5-3-4 0-4 3zm-4 4l4-4-3 0-5 3z"/><path class="q0" d="M1081 1076l5-4-4-1-4 3zm-98 25l4 0-3-2-5 1zm-5 2l5-2-4-1-4 2zm237-61l5-1-4-2-4 0zm-4 1l4-1-3-3-5 1zm-5 2l5-2-4-3-4 1zm-4 1l4-1-3-4-5 3zm-95 25l5 0-4-3-4-1zm-4 1l4-1-3-4-5-2z"/><path class="q1" d="M1098 1073l5-1-4-7-4 0zm-4 1l4-1-3-8-5 3z"/><path class="q0" d="M1089 1076l5-2-4-6-4 4zm-4 2l4-2-3-4-5 4zm-99 27l5-1-4-3-4 0zm-4 1l4-1-3-4-5 2zm352-93l5 0-4 0-4 1zm-4 1l4-1-3 1-5 1zm-5 2l5-2-4 1-4 1zm-4 2l4-2-3 0-5 2zm-95 22l5 2-4 0-4 1zm-4-3l4 3-3 3-4 1z"/><path class="q1" d="M1217 1036l5 1-3 7-5 1zm-4 3l4-3-3 9-4 2z"/><path class="q0" d="M1208 1045l5-6-3 8-5 1zm-4 5l4-5-3 3-4 2zm-85 20l4 3-3-1-5 1zm-5-7l5 7-4 3-4 0z"/><path class="q1" d="M1110 1054l4 9-3 10-5 1zm-5-3l5 3-4 20-4 1zm-4 5l4-5-3 24-5 1zm-5 11l5-11-4 20-4 2z"/><path class="q0" d="M1092 1078l4-11-3 11-5 2zm-5 5l5-5-4 2-4 1zm-85 19l4 2-3-1-5 1zm-5-2l5 2-4 2-4 1zm-4 0l4 0-3 5-5 2zm-5 3l5-3-4 7-4 1zm-4 4l4-4-3 5-5 1zm-5 4l5-4-4 2-4 2zm363-99l5 2-4-1-4 0zm-4-2l4 2-3 1-5 0z"/><path class="q1" d="M1333 1010l5 0-4 3-4 1zm-4 2l4-2-3 4-5 2z"/><path class="q0" d="M1324 1017l5-5-4 4-4 2zm-4 4l4-4-3 1-5 2zm-86 19l5 4-4-1-4-1z"/><path class="q1" d="M1230 1030l4 10-3 2-5-2z"/><path class="q2" d="M1225 1018l5 12-4 10-4-3zm-4-4l4 4-3 19-5-1zm-5 7l5-7-4 22-4 3zm-4 14l4-14-3 18-5 6z"/><path class="q1" d="M1207 1047l5-12-4 10-4 5z"/><path class="q0" d="M1203 1054l4-7-3 3-4 2zm-63 14l5 1-4-1-4 1zm-4 1l4-1-3 1-5 1zm-5 3l5-3-4 1-4 2zm-9-9l5 11-4-1-4-3z"/><path class="q2" d="M1118 1036l4 27-3 7-5-7z"/><path class="q4" d="M1113 1007l5 29-4 27-4-9z"/><path class="q5" d="M1109 995l4 12-3 47-5-3zm-5 14l5-14-4 56-4 5z"/><path class="q4" d="M1100 1041l4-32-3 47-5 11z"/><path class="q2" d="M1095 1070l5-29-4 26-4 11z"/><path class="q0" d="M1091 1084l4-14-3 8-5 5zm-9-1l4 2-3-1-5 0zm-5 2l5-2-4 1-4 2zm-4 4l4-4-3 1-5 2zm-63 13l4 3-3-1-5 0z"/><path class="q1" d="M1005 1095l5 7-4 2-4-2zm-4-9l4 9-3 7-5-2z"/><path class="q2" d="M996 1083l5 3-4 14-4 0zm-4 6l4-6-3 17-5 3z"/><path class="q1" d="M987 1100l5-11-4 14-4 4zm-4 10l4-10-3 7-5 4z"/><path class="q0" d="M978 1115l5-5-4 1-4 3zm-85 20l5 1-4-1-4 1zm-4-1l4 1-3 1-5 0zm-5 0l5 0-4 2-4 1zm-4 2l4-2-3 3-5 2zm-5 4l5-4-4 3-4 2zm-4 3l4-3-3 1-5 2zm479-129l5 1-4-1-4 0zm-4-4l4 4-3 0-5-2z"/><path class="q1" d="M1341 1006l5 4-4 2-4-2zm-4-1l4 1-3 4-5 0zm-5 3l5-3-4 5-4 2zm-4 7l4-7-3 4-5 5z"/><path class="q0" d="M1323 1021l5-6-4 2-4 4zm-4 4l4-4-3 0-5 2zm-68 16l5-1-4-1-4 1zm-4 3l4-3-3-1-5 3zm-9-6l4 7-3-1-5-4z"/><path class="q2" d="M1233 1019l5 19-4 2-4-10z"/><path class="q3" d="M1229 998l4 21-3 11-5-12z"/><path class="q5" d="M1224 989l5 9-4 20-4-4zm-4 11l4-11-3 25-5 7z"/><path class="q3" d="M1215 1024l5-24-4 21-4 14z"/><path class="q2" d="M1211 1045l4-21-3 11-5 12z"/><path class="q0" d="M1206 1055l5-10-4 2-4 7zm-9 0l5 1-4-1-4 0zm-4 2l4-2-3 0-5 1zm-31 8l4 2-3-2-5 0zm-5 2l5-2-4 0-4 2zm-13 0l4 3-3-1-5-1z"/><path class="q1" d="M1139 1067l5 0-4 1-4 1z"/><path class="q0" d="M1135 1073l4-6-3 2-5 3z"/><path class="q1" d="M1126 1055l4 20-3-1-5-11z"/><path class="q4" d="M1121 1007l5 48-4 8-4-27z"/><path class="q8" d="M1117 955l4 52-3 29-5-29z"/><path class="q11" d="M1112 932l5 23-4 52-4-12zm-4 25l4-25-3 63-5 14z"/><path class="q8" d="M1103 1012l5-55-4 52-4 32z"/><path class="q4" d="M1099 1062l4-50-3 29-5 29z"/><path class="q1" d="M1094 1085l5-23-4 8-4 14z"/><path class="q0" d="M1085 1082l5 3-4 0-4-2z"/><path class="q1" d="M1081 1084l4-2-3 1-5 2z"/><path class="q0" d="M1076 1090l5-6-4 1-4 4zm-13 2l4 0-3-1-5 1zm-5 4l5-4-4 0-4 2zm-45 5l5 6-4-2-4-3z"/><path class="q1" d="M1009 1087l4 14-3 1-5-7z"/><path class="q3" d="M1004 1071l5 16-4 8-4-9z"/><path class="q4" d="M1000 1064l4 7-3 15-5-3zm-5 9l5-9-4 19-4 6z"/><path class="q3" d="M991 1091l4-18-3 16-5 11z"/><path class="q1" d="M986 1108l5-17-4 9-4 10z"/><path class="q0" d="M982 1116l4-8-3 2-5 5zm-85 18l4 3-3-1-5-1z"/><path class="q1" d="M892 1131l5 3-4 1-4-1zm-4-1l4 1-3 3-5 0zm-5 3l5-3-4 4-4 2zm-4 6l4-6-3 3-5 4z"/><path class="q0" d="M874 1144l5-5-4 1-4 3zm480-129l4 2-3-2-5-1z"/><path class="q1" d="M1349 1010l5 5-4-1-4-4zm-4-5l4 5-3 0-5-4z"/><path class="q2" d="M1340 1003l5 2-4 1-4-1zm-4 4l4-4-3 2-5 3z"/><path class="q1" d="M1331 1015l5-8-4 1-4 7zm-4 8l4-8-3 0-5 6z"/><path class="q0" d="M1322 1026l5-3-4-2-4 4zm-63 15l5 1-4-2-4 0zm-4 1l4-1-3-1-5 1zm-5 3l5-3-4-1-4 3z"/><path class="q1" d="M1241 1037l5 10-4-2-4-7z"/><path class="q2" d="M1237 1015l4 22-3 1-5-19z"/><path class="q5" d="M1232 990l5 25-4 4-4-21z"/><path class="q7" d="M1228 979l4 11-3 8-5-9zm-5 13l5-13-4 10-4 11z"/><path class="q5" d="M1219 1020l4-28-3 8-5 24z"/><path class="q2" d="M1214 1045l5-25-4 4-4 21z"/><path class="q1" d="M1210 1057l4-12-3 0-5 10z"/><path class="q0" d="M1201 1056l4 1-3-1-5-1zm-5 2l5-2-4-1-4 2zm-4 3l4-3-3-1-5 3zm-27 6l4 1-3-1-4-2zm-5 2l5-2-3-2-5 2zm-13-1l4 4-3-2-4-3z"/><path class="q1" d="M1142 1068l5 0-3-1-5 0zm-4 6l4-6-3-1-4 6zm-9-22l5 24-4-1-4-20z"/><path class="q5" d="M1125 995l4 57-3 3-5-48z"/><path class="q11" d="M1120 933l5 62-4 12-4-52z"/><path class="q16" d="M1116 906l4 27-3 22-5-23zm-5 29l5-29-4 26-4 25z"/><path class="q11" d="M1107 1000l4-65-3 22-5 55z"/><path class="q5" d="M1102 1059l5-59-4 12-4 50z"/><path class="q1" d="M1098 1086l4-27-3 3-5 23zm-9-4l4 5-3-2-5-3zm-5 3l5-3-4 0-4 2z"/><path class="q0" d="M1080 1091l4-6-3-1-5 6zm-14 3l5-1-4-1-4 0zm-4 4l4-4-3-2-5 4zm-32 6l5-1-4-1-4 0zm-4 3l4-3-3-2-5 3zm-9-6l4 7-3-1-5-6z"/><path class="q2" d="M1012 1084l5 17-4 0-4-14z"/><path class="q4" d="M1008 1065l4 19-3 3-5-16z"/><path class="q5" d="M1003 1057l5 8-4 6-4-7zm-4 10l4-10-3 7-5 9z"/><path class="q4" d="M994 1089l5-22-4 6-4 18z"/><path class="q2" d="M990 1108l4-19-3 2-5 17z"/><path class="q0" d="M985 1118l5-10-4 0-4 8zm-9 0l5 1-4-2-4 0zm-4 2l4-2-3-1-5 2zm-72 15l4 3-3-1-4-3z"/><path class="q1" d="M895 1130l5 5-3-1-5-3zm-4-1l4 1-3 1-4-1zm-4 4l4-4-3 1-5 3zm-5 6l5-6-4 0-4 6z"/><path class="q0" d="M878 1145l4-6-3 0-5 5zm479-128l5 1-4-1-4-2z"/><path class="q1" d="M1353 1013l4 4-3-2-5-5zm-5-4l5 4-4-3-4-5z"/><path class="q2" d="M1344 1008l4 1-3-4-5-2zm-5 3l5-3-4-5-4 4z"/><path class="q1" d="M1335 1018l4-7-3-4-5 8zm-5 7l5-7-4-3-4 8z"/><path class="q0" d="M1326 1028l4-3-3-2-5 3zm-63 15l4 1-3-2-5-1zm-5 1l5-1-4-2-4 1zm-4 3l4-3-3-2-5 3z"/><path class="q1" d="M1245 1041l4 7-3-1-5-10z"/><path class="q2" d="M1240 1022l5 19-4-4-4-22z"/><path class="q5" d="M1236 1001l4 21-3-7-5-25z"/><path class="q7" d="M1231 993l5 8-4-11-4-11zm-4 11l4-11-3-14-5 13z"/><path class="q5" d="M1222 1027l5-23-4-12-4 28z"/><path class="q2" d="M1218 1048l4-21-3-7-5 25z"/><path class="q1" d="M1213 1058l5-10-4-3-4 12z"/><path class="q0" d="M1204 1059l5 0-4-2-4-1zm-4 1l4-1-3-3-5 2zm-5 3l5-3-4-2-4 3zm-27 6l5 1-4-2-4-1zm-4 2l4-2-3-2-5 2zm-14-1l5 3-4-1-4-4z"/><path class="q1" d="M1146 1070l4 0-3-2-5 0zm-5 6l5-6-4-2-4 6zm-9-18l5 20-3-2-5-24z"/><path class="q5" d="M1128 1010l4 48-3-6-4-57z"/><path class="q11" d="M1123 958l5 52-3-15-5-62z"/><path class="q16" d="M1119 935l4 23-3-25-4-27zm-4 25l4-25-3-29-5 29z"/><path class="q11" d="M1110 1015l5-55-4-25-4 65z"/><path class="q5" d="M1106 1065l4-50-3-15-5 59z"/><path class="q1" d="M1101 1088l5-23-4-6-4 27zm-9-3l5 4-4-2-4-5zm-4 3l4-3-3-3-5 3z"/><path class="q0" d="M1083 1093l5-5-4-3-4 6zm-13 3l4-1-3-2-5 1zm-5 3l5-3-4-2-4 4zm-31 7l4-1-3-2-5 1zm-5 2l5-2-4-2-4 3zm-9-4l5 6-4-2-4-7z"/><path class="q2" d="M1016 1090l4 14-3-3-5-17z"/><path class="q4" d="M1011 1074l5 16-4-6-4-19z"/><path class="q5" d="M1007 1067l4 7-3-9-5-8zm-5 9l5-9-4-10-4 10z"/><path class="q4" d="M998 1095l4-19-3-9-5 22z"/><path class="q2" d="M993 1111l5-16-4-6-4 19z"/><path class="q0" d="M989 1120l4-9-3-3-5 10zm-9 0l4 1-3-2-5-1zm-5 2l5-2-4-2-4 2zm-72 15l5 3-4-2-4-3z"/><path class="q1" d="M899 1134l4 3-3-2-5-5zm-5-1l5 1-4-4-4-1zm-4 3l4-3-3-4-4 4zm-5 6l5-6-3-3-5 6z"/><path class="q0" d="M881 1147l4-5-3-3-4 6zm479-127l5 0-3-2-5-1zm-4-2l4 2-3-3-4-4z"/><path class="q1" d="M1351 1016l5 2-3-5-5-4zm-4 0l4 0-3-7-4-1zm-4 3l4-3-3-8-5 3zm-5 4l5-4-4-8-4 7z"/><path class="q0" d="M1334 1027l4-4-3-5-5 7zm-5 3l5-3-4-2-4 3zm-67 17l4-1-3-3-5 1zm-5 2l5-2-4-3-4 3zm-9-3l5 4-4-2-4-7z"/><path class="q2" d="M1244 1036l4 10-3-5-5-19z"/><path class="q3" d="M1239 1025l5 11-4-14-4-21z"/><path class="q5" d="M1235 1020l4 5-3-24-5-8zm-5 7l5-7-4-27-4 11z"/><path class="q3" d="M1226 1041l4-14-3-23-5 23z"/><path class="q2" d="M1221 1054l5-13-4-14-4 21z"/><path class="q0" d="M1217 1060l4-6-3-6-5 10zm-9 1l4 0-3-2-5 0zm-5 2l5-2-4-2-4 1zm-31 8l4 0-3-1-5-1zm-5 2l5-2-4-2-4 2zm-13 1l4 2-3-3-5-3z"/><path class="q1" d="M1149 1075l5-1-4-4-4 0z"/><path class="q0" d="M1145 1079l4-4-3-5-5 6z"/><path class="q1" d="M1136 1069l4 11-3-2-5-20z"/><path class="q4" d="M1131 1043l5 26-4-11-4-48z"/><path class="q8" d="M1127 1013l4 30-3-33-5-52z"/><path class="q11" d="M1122 1001l5 12-4-55-4-23zm-4 15l4-15-3-66-4 25z"/><path class="q8" d="M1113 1048l5-32-3-56-5 55z"/><path class="q4" d="M1109 1077l4-29-3-33-4 50z"/><path class="q1" d="M1104 1090l5-13-3-12-5 23z"/><path class="q0" d="M1096 1090l4 1-3-2-5-4z"/><path class="q1" d="M1091 1092l5-2-4-5-4 3z"/><path class="q0" d="M1087 1095l4-3-3-4-5 5zm-14 3l5-1-4-2-4 1zm-4 3l4-3-3-2-5 3zm-45 8l4 3-3-2-5-6z"/><path class="q1" d="M1019 1101l5 8-4-5-4-14z"/><path class="q3" d="M1015 1093l4 8-3-11-5-16z"/><path class="q4" d="M1010 1089l5 4-4-19-4-7zm-4 6l4-6-3-22-5 9z"/><path class="q3" d="M1001 1106l5-11-4-19-4 19z"/><path class="q1" d="M997 1116l4-10-3-11-5 16z"/><path class="q0" d="M992 1121l5-5-4-5-4 9zm-85 20l4 1-3-2-5-3z"/><path class="q1" d="M902 1140l5 1-4-4-4-3zm-4 0l4 0-3-6-5-1zm-5 2l5-2-4-7-4 3zm-4 4l4-4-3-6-5 6z"/><path class="q0" d="M884 1150l5-4-4-4-4 5zm475-127l5-1-4-2-4-2zm-4 0l4 0-3-5-5-2z"/><path class="q1" d="M1350 1024l5-1-4-7-4 0zm-4 1l4-1-3-8-4 3z"/><path class="q0" d="M1341 1028l5-3-3-6-5 4zm-4 2l4-2-3-5-4 4zm-85 22l4 0-3-2-5-4z"/><path class="q1" d="M1247 1049l5 3-4-6-4-10z"/><path class="q2" d="M1243 1046l4 3-3-13-5-11zm-5 0l5 0-4-21-4-5zm-4 3l4-3-3-26-5 7zm-5 5l5-5-4-22-4 14z"/><path class="q1" d="M1225 1059l4-5-3-13-5 13z"/><path class="q0" d="M1220 1062l5-3-4-5-4 6zm-63 16l5 0-4-2-4-2zm-4 1l4-1-3-4-5 1zm-5 2l5-2-4-4-4 4zm-9-1l5 3-4-3-4-11z"/><path class="q2" d="M1135 1072l4 8-3-11-5-26z"/><path class="q4" d="M1130 1063l5 9-4-29-4-30z"/><path class="q5" d="M1126 1060l4 3-3-50-5-12zm-5 6l5-6-4-59-4 15z"/><path class="q4" d="M1117 1077l4-11-3-50-5 32z"/><path class="q2" d="M1112 1087l5-10-4-29-4 29z"/><path class="q0" d="M1108 1092l4-5-3-10-5 13zm-9 2l4-1-3-2-4-1zm-5 1l5-1-3-4-5 2zm-4 2l4-2-3-3-4 3zm-63 16l5 0-4-1-4-3z"/><path class="q1" d="M1023 1112l4 1-3-4-5-8zm-5-2l5 2-4-11-4-8z"/><path class="q2" d="M1014 1110l4 0-3-17-5-4zm-5 2l5-2-4-21-4 6z"/><path class="q1" d="M1005 1117l4-5-3-17-5 11zm-5 4l5-4-4-11-4 10z"/><path class="q0" d="M996 1123l4-2-3-5-5 5zm-86 22l5 0-4-3-4-1zm-4 1l4-1-3-4-5-1zm-5 1l5-1-4-6-4 0zm-4 1l4-1-3-7-5 2zm-5 2l5-2-4-6-4 4zm-4 2l4-2-3-4-5 4zm470-125l5-1-4-3-4 0zm-4 1l4-1-3-4-5 1zm-5 1l5-1-4-4-4 1zm-4 1l4-1-3-4-5 3zm-94 26l4-1-3-3-5-3zm-5 1l5-1-4-7-4-3z"/><path class="q1" d="M1242 1058l4-1-3-11-5 0zm-5 1l5-1-4-12-4 3z"/><path class="q0" d="M1233 1061l4-2-3-10-5 5zm-5 1l5-1-4-7-4 5zm-85 23l4-1-3-1-5-3zm-5 1l5-1-4-5-4-8z"/><path class="q1" d="M1134 1087l4-1-3-14-5-9zm-5 1l5-1-4-24-4-3zm-4 1l4-1-3-28-5 6zm-5 2l5-2-4-23-4 11z"/><path class="q0" d="M1116 1093l4-2-3-14-5 10zm-5 1l5-1-4-6-4 5zm-85 23l5-1-4-3-4-1zm-4 1l4-1-3-5-5-2zm-5 1l5-1-4-8-4 0zm-4 2l4-2-3-9-5 2zm-5 1l5-1-4-9-4 5zm-4 1l4-1-3-5-5 4zm249-65l5 0-4-1-4 1zm-4 1l4-1-3 0-5 1zm-5 1l5-1-4 0-4 2zm-4 3l4-3-3 1-5 1zm-95 23l5 2-4-1-4 0zm-4-1l4 1-3 1-5 1z"/><path class="q1" d="M1136 1084l5 1-4 3-4 0zm-4 3l4-3-3 4-5 2z"/><path class="q0" d="M1127 1091l5-4-4 3-4 2zm-4 4l4-4-3 1-5 2zm-99 25l4 0-3 0-4 1zm-5 2l5-2-3 1-5 1zm237-62l5 0-3-2-5 0zm-4 1l4-1-3-2-4 1zm-5 1l5-1-3-2-5 1zm-4 3l4-3-3-2-4 3zm-94 23l4 1-3-1-5-2z"/><path class="q1" d="M1144 1087l5 1-4-2-4-1zm-4 1l4-1-3-2-5-1zm-5 2l5-2-4-4-4 3zm-4 3l4-3-3-3-5 4z"/><path class="q0" d="M1126 1097l5-4-4-2-4 4zm-99 26l5-1-4-2-4 0zm-4 1l4-1-3-3-5 2zm232-60l5-1-4-3-4 1zm-4 2l4-2-3-3-5 1zm-99 26l5 0-4-3-4-1zm-4 1l4-1-3-4-5-1zm-5 1l5-1-4-6-4 1zm-4 2l4-2-3-6-5 2zm-5 1l5-1-4-6-4 3zm-4 2l4-2-3-4-5 4zm28-2l4 0-3-2-4 1zm-4 1l4-1-3-1-5 1zm-5 1l5-1-4-1-4 1zm-4 2l4-2-3-1-5 2zm16 0l5-1-4-3-4 0zm-4 1l4-1-3-4-4 1zm-5 1l5-1-3-4-5 1zm-4 1l4-1-3-4-4 2zm268-50l4-1-3 1-4 1zm-4 2l4-2-3 1-5 1zm-104 28l5-1-4 0-4 1zm-4 0l4 0-3 0-5 2zm-5 2l5-2-4 2-4 1zm-4 2l4-2-3 1-5 1zm-99 26l4 0-3 0-5 1zm-5 1l5-1-4 1-4 1zm-4 2l4-2-3 1-4 1zm-5 2l5-2-3 0-5 2zm246-67l5 1-4 0-4 0zm-4-2l4 2-3 1-5 0z"/><path class="q1" d="M1419 1050l5 0-4 3-4 1zm-4 3l4-3-3 4-4 2z"/><path class="q0" d="M1410 1057l5-4-3 3-5 2zm-4 4l4-4-3 1-4 2zm-90 21l5 2-4-1-4 0zm-4-2l4 2-3 1-5 1z"/><path class="q1" d="M1307 1080l5 0-4 4-4 0zm-4 3l4-3-3 4-5 2z"/><path class="q0" d="M1298 1087l5-4-4 3-4 2zm-4 4l4-4-3 1-5 3zm-90 22l4 1-3 0-5 0zm-5-2l5 2-4 1-4 0z"/><path class="q1" d="M1195 1111l4 0-3 3-5 1zm-5 2l5-2-4 4-4 2z"/><path class="q0" d="M1186 1118l4-5-3 4-5 2zm-5 4l5-4-4 1-4 2zm-89 22l4 1-3-1-5 1zm-5-1l5 1-4 1-4 0zm-4 0l4 0-3 2-5 1zm-5 2l5-2-4 3-4 2zm-4 4l4-4-3 3-5 2zm-5 4l5-4-4 1-4 2zm-90 22l5 1-4-1-4 0zm-4-2l4 2-3 0-5 1zm-5 0l5 0-4 3-4 1zm-4 3l4-3-3 4-5 1zm-5 4l5-4-4 2-4 2zm-4 3l4-3-3 0-5 2zm475-132l4 3-3-1-5-1z"/><path class="q1" d="M1427 1047l5 4-4 1-4-2zm-4-1l4 1-3 3-5 0zm-5 3l5-3-4 4-4 3zm-4 7l4-7-3 4-5 4z"/><path class="q0" d="M1409 1061l5-5-4 1-4 4zm-85 23l5 1-4-1-4 0zm-4-3l4 3-3 0-5-2z"/><path class="q1" d="M1315 1076l5 5-4 1-4-2zm-4-1l4 1-3 4-5 0zm-5 4l5-4-4 5-4 3zm-4 6l4-6-3 4-5 4z"/><path class="q0" d="M1297 1092l5-7-4 2-4 4zm-4 3l4-3-3-1-5 3zm-81 20l4 1-3-2-5 0zm-5-4l5 4-4-1-4-1z"/><path class="q1" d="M1203 1107l4 4-3 2-5-2zm-5-2l5 2-4 4-4 0zm-4 4l4-4-3 6-5 2zm-5 7l5-7-4 4-4 5z"/><path class="q0" d="M1185 1122l4-6-3 2-5 4zm-5 4l5-4-4 0-4 2zm-85 17l5 3-4-1-4-1z"/><path class="q1" d="M1091 1140l4 3-3 1-5-1zm-5-1l5 1-4 3-4 0zm-4 3l4-3-3 4-5 2zm-5 6l5-6-4 3-4 4z"/><path class="q0" d="M1073 1153l4-5-3 1-5 4zm-90 21l4 3-3-1-5-1z"/><path class="q1" d="M978 1170l5 4-4 1-4-2zm-4 0l4 0-3 3-5 0zm-5 3l5-3-4 3-4 3zm-4 6l4-6-3 3-5 4z"/><path class="q0" d="M960 1184l5-5-4 1-4 3zm480-129l4 1-3-1-5-1z"/><path class="q1" d="M1435 1051l5 4-4-1-4-3zm-4-5l4 5-3 0-5-4zm-5-1l5 1-4 1-4-1zm-4 4l4-4-3 1-5 3zm-5 7l5-7-4 0-4 7zm-4 7l4-7-3 0-5 5z"/><path class="q0" d="M1408 1066l5-3-4-2-4 4zm-80 20l4 1-3-2-5-1z"/><path class="q1" d="M1323 1081l5 5-4-2-4-3zm-4-6l4 6-3 0-5-5z"/><path class="q2" d="M1314 1074l5 1-4 1-4-1zm-4 4l4-4-3 1-5 4z"/><path class="q1" d="M1305 1086l5-8-4 1-4 6zm-4 7l4-7-3-1-5 7z"/><path class="q0" d="M1296 1097l5-4-4-1-4 3zm-81 19l5 2-4-2-4-1z"/><path class="q1" d="M1211 1111l4 5-3-1-5-4zm-5-5l5 5-4 0-4-4z"/><path class="q2" d="M1202 1104l4 2-3 1-5-2zm-5 4l5-4-4 1-4 4z"/><path class="q1" d="M1193 1116l4-8-3 1-5 7zm-5 7l5-7-4 0-4 6z"/><path class="q0" d="M1184 1127l4-4-3-1-5 4zm-85 17l4 3-3-1-5-3z"/><path class="q1" d="M1094 1140l5 4-4-1-4-3zm-4-2l4 2-3 0-5-1zm-5 4l5-4-4 1-4 3zm-4 7l4-7-3 0-5 6z"/><path class="q0" d="M1076 1155l5-6-4-1-4 5zm-90 19l5 4-4-1-4-3z"/><path class="q1" d="M982 1170l4 4-3 0-5-4zm-5-1l5 1-4 0-4 0zm-4 4l4-4-3 1-5 3zm-5 6l5-6-4 0-4 6z"/><path class="q0" d="M964 1185l4-6-3 0-5 5zm479-128l5 1-4-2-4-1z"/><path class="q1" d="M1439 1054l4 3-3-2-5-4zm-5-4l5 4-4-3-4-5zm-4-1l4 1-3-4-5-1zm-5 4l5-4-4-4-4 4zm-4 6l4-6-3-4-5 7zm-5 6l5-6-4-3-4 7z"/><path class="q0" d="M1412 1068l4-3-3-2-5 3zm-81 20l4 1-3-2-4-1z"/><path class="q1" d="M1327 1084l4 4-3-2-5-5zm-5-5l5 5-4-3-4-6z"/><path class="q2" d="M1318 1078l4 1-3-4-5-1zm-5 4l5-4-4-4-4 4z"/><path class="q1" d="M1309 1089l4-7-3-4-5 8zm-5 6l5-6-4-3-4 7z"/><path class="q0" d="M1300 1098l4-3-3-2-5 4zm-81 20l4 1-3-1-5-2z"/><path class="q1" d="M1214 1114l5 4-4-2-4-5zm-4-4l4 4-3-3-5-5z"/><path class="q2" d="M1205 1109l5 1-4-4-4-2zm-4 3l4-3-3-5-5 4z"/><path class="q1" d="M1196 1119l5-7-4-4-4 8zm-4 7l4-7-3-3-5 7z"/><path class="q0" d="M1187 1129l5-3-4-3-4 4zm-85 17l4 3-3-2-4-3z"/><path class="q1" d="M1097 1143l5 3-3-2-5-4zm-4-1l4 1-3-3-4-2zm-5 4l5-4-3-4-5 4zm-4 5l4-5-3-4-4 7z"/><path class="q0" d="M1080 1157l4-6-3-2-5 6zm-90 20l4 3-3-2-5-4z"/><path class="q1" d="M985 1174l5 3-4-3-4-4zm-4-1l4 1-3-4-5-1zm-5 3l5-3-4-4-4 4zm-4 6l4-6-3-3-5 6z"/><path class="q0" d="M967 1187l5-5-4-3-4 6zm475-129l5 2-4-3-4-3z"/><path class="q1" d="M1438 1057l4 1-3-4-5-4zm-5 0l5 0-4-7-4-1zm-4 2l4-2-3-8-5 4zm-5 4l5-4-4-6-4 6z"/><path class="q0" d="M1420 1067l4-4-3-4-5 6zm-86 23l5 0-4-1-4-1zm-4-1l4 1-3-2-4-4z"/><path class="q1" d="M1325 1087l5 2-3-5-5-5zm-4-1l4 1-3-8-4-1zm-5 3l5-3-3-8-5 4zm-4 4l4-4-3-7-4 7z"/><path class="q0" d="M1308 1098l4-5-3-4-5 6zm-5 2l5-2-4-3-4 3zm-81 21l5 0-4-2-4-1zm-4-2l4 2-3-3-5-4z"/><path class="q1" d="M1213 1117l5 2-4-5-4-4zm-4 0l4 0-3-7-5-1zm-5 3l5-3-4-8-4 3zm-4 4l4-4-3-8-5 7z"/><path class="q0" d="M1195 1128l5-4-4-5-4 7zm-4 3l4-3-3-2-5 3zm-86 20l5 1-4-3-4-3z"/><path class="q1" d="M1101 1149l4 2-3-5-5-3zm-5 0l5 0-4-6-4-1zm-4 3l4-3-3-7-5 4zm-5 3l5-3-4-6-4 5z"/><path class="q0" d="M1083 1159l4-4-3-4-4 6zm-90 22l5 1-4-2-4-3z"/><path class="q1" d="M989 1180l4 1-3-4-5-3zm-5 0l5 0-4-6-4-1zm-4 2l4-2-3-7-5 3zm-5 4l5-4-4-6-4 6z"/><path class="q0" d="M971 1190l4-4-3-4-5 5zm475-127l4-1-3-2-5-2zm-5 0l5 0-4-5-4-1z"/><path class="q1" d="M1437 1064l4-1-3-6-5 0zm-5 1l5-1-4-7-4 2z"/><path class="q0" d="M1428 1067l4-2-3-6-5 4zm-5 3l5-3-4-4-4 4zm-90 23l5 0-4-3-4-1zm-4 0l4 0-3-4-5-2z"/><path class="q1" d="M1324 1094l5-1-4-6-4-1zm-4 2l4-2-3-8-5 3z"/><path class="q0" d="M1315 1098l5-2-4-7-4 4zm-4 2l4-2-3-5-4 5zm-90 24l5-1-4-2-4-2zm-4 0l4 0-3-5-5-2z"/><path class="q1" d="M1212 1125l5-1-4-7-4 0zm-4 1l4-1-3-8-5 3z"/><path class="q0" d="M1203 1128l5-2-4-6-4 4zm-4 3l4-3-3-4-5 4zm-90 23l4 0-3-2-5-1zm-5 1l5-1-4-3-4-2zm-4 1l4-1-3-6-5 0zm-5 1l5-1-4-7-4 3zm-4 2l4-2-3-5-5 3zm-5 2l5-2-4-4-4 4zm-89 24l4 0-3-3-5-1zm-5 0l5 0-4-4-4-1zm-4 1l4-1-3-5-5 0zm-5 2l5-2-4-6-4 2zm-4 2l4-2-3-6-5 4zm-5 2l5-2-4-4-4 4zm466-124l5-2-4-3-4 1zm-4 1l4-1-3-4-5 1zm-104 28l5-1-4-3-4 0zm-4 1l4-1-3-4-5 1zm-5 2l5-2-4-4-4 2zm-4 1l4-1-3-4-5 2zm-99 27l5-2-4-2-4 0zm-4 1l4-1-3-4-5 1zm-5 1l5-1-4-4-4 1zm-4 1l4-1-3-4-5 2z"/></g>
<path class="ax" d="M117.6 503.3L117.6 155.8M117.6 503.3L462.6 662.2M462.6 662.2L911.7 539.9M117.6 503.3L107.2 498.5M117.6 445.4L107.2 440.6M117.6 387.5L107.2 382.7M117.6 329.5L107.2 324.7M117.6 271.6L107.2 266.8M117.6 213.7L107.2 208.9M117.6 155.8L107.2 151M462.6 662.2L451.5 665.2M462.6 662.2L473 667M376.4 622.5L365.3 625.5M574.9 631.6L585.3 636.4M290.1 582.8L279 585.8M687.2 601L697.6 605.9M203.9 543L192.8 546M799.4 570.5L809.9 575.3M117.6 503.3L106.5 506.3M911.7 539.9L922.1 544.7"/>
<g class="tk" font-size="23.70"><text x="98.2" y="503.5" text-anchor="end">0</text><text x="98.2" y="445.6" text-anchor="end">0.01</text><text x="98.2" y="387.7" text-anchor="end">0.02</text><text x="98.2" y="329.7" text-anchor="end">0.03</text><text x="98.2" y="271.8" text-anchor="end">0.04</text><text x="98.2" y="213.9" text-anchor="end">0.05</text><text x="98.2" y="156" text-anchor="end">0.06</text><text x="442.1" y="690.3" text-anchor="end">-1</text><text x="481.8" y="693.5">-1</text><text x="355.9" y="650.6" text-anchor="end">-0.5</text><text x="594.1" y="662.9">-0.5</text><text x="269.6" y="610.9" text-anchor="end">0</text><text x="706.4" y="632.3">0</text><text x="183.4" y="571.1" text-anchor="end">0.5</text><text x="818.6" y="601.8">0.5</text><text x="97.1" y="531.4" text-anchor="end">1</text><text x="930.9" y="571.2">1</text></g>
<text class="ti" x="514.7" y="23.7" font-size="28.50" text-anchor="middle">(a)</text>
<text class="tk" x="516.4" y="86" font-size="23.50"><tspan font-weight="bold">l</tspan>=0</text>
<text class="se" transform="translate(30.8 291.8) rotate(-90)" font-size="34.81" text-anchor="middle">Fraunhofer Diffraction</text>
<text class="se" x="194.4" y="686" font-size="35.00">sin<tspan font-style="italic">&#952;</tspan><tspan font-size="26.60" dy="16.0">y</tspan></text>
<text class="se" x="670.2" y="711.8" font-size="35.00">sin<tspan font-style="italic">&#952;</tspan><tspan font-size="26.60" dy="16.0">x</tspan></text>
</g>
<g id="pb">
<path class="gr" d="M1110.5 524.5L1587.1 397.8M1110.5 452.5L1587.1 325.8M1110.5 380.5L1587.1 253.8M1110.5 308.5L1587.1 181.8M1110.5 236.5L1587.1 109.8M1110.5 164.5L1587.1 37.8M1229.7 492.8L1229.7 132.8M1348.8 461.1L1348.8 101.1M1468 429.5L1468 69.5M1587.1 397.8L1587.1 37.8"/>
<path class="gr" d="M1587.1 397.8L1952.7 563.3M1587.1 325.8L1952.7 491.3M1587.1 253.8L1952.7 419.3M1587.1 181.8L1952.7 347.3M1587.1 109.8L1952.7 275.3M1587.1 37.8L1952.7 203.3M1587.1 397.8L1587.1 37.8M1678.5 439.2L1678.5 79.2M1769.9 480.5L1769.9 120.5M1861.3 521.9L1861.3 161.9M1952.7 563.3L1952.7 203.3"/>
<path class="gr" d="M1595.2 658.3L1229.7 492.8M1384.7 648.6L1861.3 521.9M1714.4 626.6L1348.8 461.1M1293.3 607.2L1769.9 480.5M1833.6 595L1468 429.5M1201.9 565.9L1678.5 439.2M1952.7 563.3L1587.1 397.8M1110.5 524.5L1587.1 397.8"/>
<path class="fl" d="M1492.5 646.9L1828.5 557.6L1570.7 440.9L1234.7 530.2 Z"/>
<g class="pk" transform="scale(0.5)"><path class="q0" d="M3112 931l5 1-3 0-5 2zm-4 1l4-1-3 3-5 1zm-5 2l5-2-4 3-5 1zm-5 3l5-3-4 2-4 1zm-105 26l5 0-4 1-4 1zm-4 0l4 0-3 2-5 1zm-5 2l5-2-4 3-5 2zm-5 4l5-4-4 3-5 1zm-105 26l5 1-4 0-4 1zm-5 1l5-1-3 2-5 1zm-4 2l4-2-3 2-5 1zm-5 3l5-3-4 1-5 2zm-110 28l5-1-4 1-4 1zm-4 2l4-2-3 1-5 1zm375-102l5 3-4 0-5 0z"/><path class="q1" d="M3116 925l5 4-4 3-5-1zm-5-1l5 1-4 6-4 1zm-4 3l4-3-3 8-5 2zm-5 7l5-7-4 7-5 3z"/><path class="q0" d="M3097 940l5-6-4 3-5 3zm-95 20l5 4-4 0-5-1z"/><path class="q1" d="M2997 956l5 4-4 3-5 0zm-5-1l5 1-4 7-4 0zm-5 3l5-3-3 8-5 2zm-4 7l4-7-3 7-5 4z"/><path class="q0" d="M2978 971l5-6-4 4-5 2zm-95 22l4 3-3 0-5 0z"/><path class="q1" d="M2878 990l5 3-4 3-5-1zm-5-1l5 1-4 5-5 1zm-5 3l5-3-4 7-4 2zm-4 6l4-6-3 6-5 3z"/><path class="q0" d="M2859 1004l5-6-4 3-5 2zm-96 23l5 1-3 0-5 0zm-4-2l4 2-3 1-5 0zm-5 0l5 0-4 3-5 1zm-5 2l5-2-4 4-4 2zm-5 5l5-5-3 4-5 2zm-4 4l4-4-3 1-5 2zm-96 23l5 1-4-1-4 1zm-4-1l4 1-3 1-5 0zm-5 0l5 0-4 2-5 1zm-5 3l5-3-4 3-5 2zm-5 3l5-3-4 2-4 2zm-5 4l5-4-3 1-5 2zm509-136l5 3-4-2-4-1z"/><path class="q1" d="M3125 925l4 7-3 0-5-3zm-5-8l5 8-4 4-5-4z"/><path class="q2" d="M3115 914l5 3-4 8-5-1zm-5 5l5-5-4 10-4 3z"/><path class="q1" d="M3106 930l4-11-3 8-5 7zm-5 10l5-10-4 4-5 6z"/><path class="q0" d="M3096 945l5-5-4 0-5 3zm-86 19l5 2-4-1-4-1z"/><path class="q1" d="M3005 956l5 8-3 0-5-4zm-4-8l4 8-3 4-5-4z"/><path class="q2" d="M2996 945l5 3-4 8-5-1zm-5 5l5-5-4 10-5 3z"/><path class="q1" d="M2986 961l5-11-4 8-4 7zm-4 10l4-10-3 4-5 6z"/><path class="q0" d="M2977 977l5-6-4 0-5 4zm-86 19l5 2-4-1-5-1z"/><path class="q1" d="M2886 990l5 6-4 0-4-3zm-4-6l4 6-3 3-5-3zm-5-3l5 3-4 6-5-1zm-5 5l5-5-4 8-5 3zm-5 9l5-9-4 6-4 6zm-5 9l5-9-3 3-5 6z"/><path class="q0" d="M2858 1008l4-4-3 0-5 3zm-91 17l5 4-4-1-5-1z"/><path class="q1" d="M2762 1021l5 4-4 2-4-2zm-4-1l4 1-3 4-5 0zm-5 3l5-3-4 5-5 2zm-5 7l5-7-4 4-5 5z"/><path class="q0" d="M2743 1036l5-6-4 2-4 4zm-95 23l5 2-4-1-5-1z"/><path class="q1" d="M2643 1056l5 3-4 0-4-1zm-5-1l5 1-3 2-5 0zm-4 3l4-3-3 3-5 3zm-5 6l5-6-4 3-5 3z"/><path class="q0" d="M2624 1069l5-5-4 0-5 4zm509-136l5 3-4-1-5-3z"/><path class="q1" d="M3128 924l5 9-4-1-4-7z"/><path class="q2" d="M3123 914l5 10-3 1-5-8zm-4-3l4 3-3 3-5-3zm-5 6l5-6-4 3-5 5zm-5 12l5-12-4 2-4 11z"/><path class="q1" d="M3104 941l5-12-3 1-5 10z"/><path class="q0" d="M3100 946l4-5-3-1-5 5zm-86 19l5 3-4-2-5-2z"/><path class="q1" d="M3009 955l5 10-4-1-5-8z"/><path class="q2" d="M3004 945l5 10-4 1-4-8z"/><path class="q3" d="M3000 941l4 4-3 3-5-3zm-5 7l5-7-4 4-5 5z"/><path class="q2" d="M2990 960l5-12-4 2-5 11z"/><path class="q1" d="M2985 972l5-12-4 1-4 10z"/><path class="q0" d="M2980 978l5-6-3-1-5 6zm-85 19l4 3-3-2-5-2z"/><path class="q1" d="M2890 990l5 7-4-1-5-6zm-5-8l5 8-4 0-4-6z"/><path class="q2" d="M2880 979l5 3-3 2-5-3zm-4 5l4-5-3 2-5 5z"/><path class="q1" d="M2871 995l5-11-4 2-5 9zm-5 10l5-10-4 0-5 9z"/><path class="q0" d="M2861 1010l5-5-4-1-4 4zm-85 20l4 1-3-1-5-1zm-5-5l5 5-4-1-5-4z"/><path class="q1" d="M2766 1020l5 5-4 0-5-4zm-5-2l5 2-4 1-4-1zm-5 4l5-4-3 2-5 3zm-4 8l4-8-3 1-5 7z"/><path class="q0" d="M2747 1038l5-8-4 0-5 6zm-5 4l5-4-4-2-4 4zm-90 17l4 3-3-1-5-2z"/><path class="q1" d="M2647 1056l5 3-4 0-5-3zm-5-1l5 1-4 0-5-1zm-5 3l5-3-4 0-4 3zm-4 6l4-6-3 0-5 6z"/><path class="q0" d="M2628 1070l5-6-4 0-5 5zm509-134l4 2-3-2-5-3z"/><path class="q1" d="M3132 928l5 8-4-3-5-9z"/><path class="q2" d="M3127 920l5 8-4-4-5-10zm-5-3l5 3-4-6-4-3zm-4 6l4-6-3-6-5 6zm-5 10l5-10-4-6-5 12z"/><path class="q1" d="M3108 943l5-10-4-4-5 12z"/><path class="q0" d="M3103 948l5-5-4-2-4 5zm-85 19l4 3-3-2-5-3z"/><path class="q1" d="M3013 959l5 8-4-2-5-10z"/><path class="q2" d="M3008 951l5 8-4-4-5-10z"/><path class="q3" d="M3003 948l5 3-4-6-4-4zm-5 5l5-5-3-7-5 7z"/><path class="q2" d="M2994 965l4-12-3-5-5 12z"/><path class="q1" d="M2989 975l5-10-4-5-5 12z"/><path class="q0" d="M2984 980l5-5-4-3-5 6zm-86 19l5 2-4-1-4-3z"/><path class="q1" d="M2894 994l4 5-3-2-5-7zm-5-7l5 7-4-4-5-8z"/><path class="q2" d="M2884 985l5 2-4-5-5-3zm-5 4l5-4-4-6-4 5z"/><path class="q1" d="M2875 999l4-10-3-5-5 11zm-5 8l5-8-4-4-5 10z"/><path class="q0" d="M2865 1012l5-5-4-2-5 5zm-86 20l5 1-4-2-4-1zm-5-4l5 4-3-2-5-5z"/><path class="q1" d="M2770 1024l4 4-3-3-5-5zm-5-1l5 1-4-4-5-2zm-5 4l5-4-4-5-5 4zm-5 6l5-6-4-5-4 8z"/><path class="q0" d="M2751 1040l4-7-3-3-5 8zm-5 3l5-3-4-2-5 4zm-91 19l5 2-4-2-4-3z"/><path class="q1" d="M2651 1059l4 3-3-3-5-3zm-5-1l5 1-4-3-5-1zm-5 4l5-4-4-3-5 3zm-5 5l5-5-4-4-4 6z"/><path class="q0" d="M2631 1072l5-5-3-3-5 6zm509-133l5 1-4-2-4-2z"/><path class="q1" d="M3136 935l4 4-3-3-5-8zm-5-4l5 4-4-7-5-8z"/><path class="q2" d="M3126 930l5 1-4-11-5-3zm-5 4l5-4-4-13-4 6z"/><path class="q1" d="M3116 940l5-6-3-11-5 10zm-4 7l4-7-3-7-5 10z"/><path class="q0" d="M3107 950l5-3-4-4-5 5zm-86 20l5 1-4-1-4-3z"/><path class="q1" d="M3016 967l5 3-3-3-5-8zm-4-5l4 5-3-8-5-8z"/><path class="q2" d="M3007 961l5 1-4-11-5-3zm-5 4l5-4-4-13-5 5z"/><path class="q1" d="M2997 972l5-7-4-12-4 12zm-4 6l4-6-3-7-5 10z"/><path class="q0" d="M2988 982l5-4-4-3-5 5zm-86 21l5 0-4-2-5-2z"/><path class="q1" d="M2897 1000l5 3-4-4-4-5zm-5-4l5 4-3-6-5-7zm-4 0l4 0-3-9-5-2zm-5 3l5-3-4-11-5 4zm-5 6l5-6-4-10-4 10zm-5 5l5-5-3-6-5 8z"/><path class="q0" d="M2869 1013l4-3-3-3-5 5zm-91 20l5 2-4-3-5-4z"/><path class="q1" d="M2773 1031l5 2-4-5-4-4zm-4 0l4 0-3-7-5-1zm-5 3l5-3-4-8-5 4zm-5 4l5-4-4-7-5 6z"/><path class="q0" d="M2754 1042l5-4-4-5-4 7zm-95 24l5 1-4-3-5-2z"/><path class="q1" d="M2654 1065l5 1-4-4-4-3zm-5 0l5 0-3-6-5-1zm-4 2l4-2-3-7-5 4zm-5 4l5-4-4-5-5 5z"/><path class="q0" d="M2635 1074l5-3-4-4-5 5zm504-132l5 0-4-3-4-4z"/><path class="q1" d="M3134 941l5 1-3-7-5-4zm-4 1l4-1-3-10-5-1zm-5 2l5-2-4-12-5 4zm-5 3l5-3-4-10-5 6z"/><path class="q0" d="M3115 950l5-3-4-7-4 7zm-95 23l5 1-4-4-5-3z"/><path class="q1" d="M3015 973l5 0-4-6-4-5zm-4 0l4 0-3-11-5-1zm-5 2l5-2-4-12-5 4zm-5 3l5-3-4-10-5 7z"/><path class="q0" d="M2996 981l5-3-4-6-4 6zm-95 25l5 0-4-3-5-3z"/><path class="q1" d="M2896 1005l5 1-4-6-5-4zm-5 1l5-1-4-9-4 0zm-4 2l4-2-3-10-5 3zm-5 3l5-3-4-9-5 6z"/><path class="q0" d="M2877 1013l5-2-4-6-5 5zm-95 25l5-1-4-2-5-2zm-5 0l5 0-4-5-5-2zm-5 1l5-1-4-7-4 0zm-5 2l5-2-3-8-5 3zm-4 2l4-2-3-7-5 4zm-5 2l5-2-4-5-5 4zm-95 25l4-1-3-2-5-1zm-5 0l5 0-4-4-5-1zm-5 1l5-1-4-5-5 0zm-5 2l5-2-4-6-4 2zm-4 2l4-2-3-6-5 4zm-5 2l5-2-4-4-5 3zm499-130l5-1-4-4-5-1zm-5 1l5-1-4-6-4 1zm-4 1l4-1-3-6-5 2zm-5 2l5-2-4-5-5 3zm-105 27l5-1-4-4-5 0zm-5 2l5-2-4-5-4 0zm-5 1l5-1-3-7-5 2zm-4 1l4-1-3-6-5 3zm-105 28l5-1-4-3-5-1zm-5 1l5-1-4-5-5 1zm-5 2l5-2-4-5-4 2zm-5 1l5-1-3-5-5 3zm-109 29l5-1-4-4-5 1zm-5 1l5-1-4-4-5 2zm299-46l5 0-4 0-5 1zm-5 0l5 0-4 1-4 1zm-4 2l4-2-3 2-5 2zm-5 3l5-3-4 2-5 1zm-105 27l5 1-4-1-5 1zm-5 1l5-1-4 1-4 1zm-5 2l5-2-3 1-5 2zm-4 3l4-3-3 1-5 1zm142-37l4 1-3-1-5-1zm-5 0l5 0-4-1-5 0zm-5 0l5 0-4-1-5 0zm-5 2l5-2-4-1-4 2zm-5 3l5-3-3-1-5 3zm-4 4l4-4-3-1-5 3zm-100 23l4 1-3-1-5-1zm-5 1l5-1-4-1-5 1zm-5 2l5-2-4-1-5 2zm-5 3l5-3-4-1-4 3zm-105 28l5-1-3-1-5 0zm-4 0l4 0-3-2-5 1zm-5 2l5-2-4-1-5 2zm-5 2l5-2-4-1-4 2zm261-66l5-1-4-2-4-1zm-5 1l5-1-3-4-5 0zm-4 1l4-1-3-5-5 0zm-5 1l5-1-4-6-5 2zm-5 2l5-2-4-5-5 3zm-5 2l5-2-4-4-4 4zm-100 26l5-1-4-3-4-1zm-4 1l4-1-3-5-5 1zm-5 1l5-1-4-5-5 2zm-5 2l5-2-4-4-5 3zm-105 28l5-1-4-3-5 1zm-5 1l5-1-4-3-4 0zm-4 1l4-1-3-4-5 2zm-5 2l5-2-4-3-5 2zm384-100l4 1-3 0-5 1zm-5-2l5 2-4 2-5 1zm-5 1l5-1-4 5-5 1zm-5 2l5-2-4 5-4 1zm-4 4l4-4-3 4-5 2zm-5 4l5-4-4 2-5 1zm-91 22l5 2-4-2-4 1zm-4-6l4 6-3 1-5 1z"/><path class="q1" d="M3085 991l5 6-4 8-5 1zm-5-2l5 2-4 15-5 1zm-5 5l5-5-4 18-4 1zm-5 9l5-9-3 14-5 2z"/><path class="q0" d="M3066 1010l4-7-3 7-5 2zm-5 5l5-5-4 2-5 1zm-91 16l5 4-4 1-4 1z"/><path class="q1" d="M2966 1027l4 4-3 6-5 1zm-5-1l5 1-4 11-5 1zm-5 4l5-4-4 13-5 1zm-5 7l5-7-4 10-4 2z"/><path class="q0" d="M2947 1043l4-6-3 5-5 1zm-96 23l5 2-4 0-4 1zm-5-2l5 2-3 3-5 1zm-4-1l4 1-3 6-5 1zm-5 3l5-3-4 8-5 1zm-5 5l5-5-4 6-5 2zm-5 4l5-4-4 3-4 1zm390-103l5 2-4-1-5 0zm-5-6l5 6-4 1-4-1z"/><path class="q1" d="M3208 959l4 7-3 6-5-2zm-5-3l5 3-4 11-5 1zm-5 5l5-5-4 15-5 2zm-5 10l5-10-4 12-4 4z"/><path class="q0" d="M3188 980l5-9-3 6-5 4zm-4 5l4-5-3 1-5 2zm-72 16l5-1-4 0-4 1zm-5 3l5-3-3 0-5 2zm-9-6l5 8-4-1-5-2z"/><path class="q1" d="M3093 978l5 20-4 5-4-6z"/><path class="q3" d="M3088 957l5 21-3 19-5-6z"/><path class="q4" d="M3084 948l4 9-3 34-5-2zm-5 11l5-11-4 41-5 5z"/><path class="q3" d="M3074 983l5-24-4 35-5 9z"/><path class="q1" d="M3069 1005l5-22-4 20-4 7z"/><path class="q0" d="M3065 1016l4-11-3 5-5 5zm-10 0l5 1-4-1-5 0zm-5 2l5-2-4 0-4 2zm-71 14l5 6-4-2-5-1z"/><path class="q1" d="M2974 1017l5 15-4 3-5-4z"/><path class="q2" d="M2969 1001l5 16-4 14-4-4z"/><path class="q3" d="M2964 995l5 6-3 26-5-1zm-4 9l4-9-3 31-5 4z"/><path class="q2" d="M2955 1022l5-18-4 26-5 7z"/><path class="q1" d="M2950 1039l5-17-4 15-4 6z"/><path class="q0" d="M2945 1048l5-9-3 4-5 3zm-85 18l4 3-3-1-5 0z"/><path class="q1" d="M2855 1058l5 8-4 2-5-2zm-5-10l5 10-4 8-5-2z"/><path class="q2" d="M2845 1044l5 4-4 16-4-1zm-4 6l4-6-3 19-5 3z"/><path class="q1" d="M2836 1063l5-13-4 16-5 5zm-5 11l5-11-4 8-5 4z"/><path class="q0" d="M2826 1080l5-6-4 1-4 3zm-90 21l4 1-3-1-5 0zm-5-1l5 1-4 0-5 1zm-5 0l5 0-4 2-4 1zm-5 2l5-2-3 3-5 1zm-4 4l4-4-3 2-5 2zm-5 3l5-3-4 0-5 2zm509-138l5 5-4-2-5-2z"/><path class="q1" d="M3216 959l5 12-4 1-5-6z"/><path class="q2" d="M3211 946l5 13-4 7-4-7z"/><path class="q3" d="M3206 940l5 6-3 13-5-3zm-4 8l4-8-3 16-5 5z"/><path class="q2" d="M3197 964l5-16-4 13-5 10z"/><path class="q1" d="M3192 979l5-15-4 7-5 9z"/><path class="q0" d="M3187 986l5-7-4 1-4 5zm-66 14l4 2-3-1-5-1zm-5 0l5 0-4 0-5 1zm-5 5l5-5-4 1-5 3z"/><path class="q1" d="M3102 992l4 15-3-1-5-8z"/><path class="q3" d="M3097 957l5 35-4 6-5-20z"/><path class="q5" d="M3092 918l5 39-4 21-5-21z"/><path class="q7" d="M3087 902l5 16-4 39-4-9zm-4 19l4-19-3 46-5 11z"/><path class="q5" d="M3078 962l5-41-4 38-5 24z"/><path class="q3" d="M3073 1000l5-38-4 21-5 22z"/><path class="q1" d="M3068 1017l5-17-4 5-4 11z"/><path class="q0" d="M3059 1016l4 2-3-1-5-1zm-5 2l5-2-4 0-5 2zm-5 4l5-4-4 0-4 3zm-47 11l4 1-3-1-5-1zm-5 0l5 0-4-1-5 1zm-5 4l5-4-4 0-5 3z"/><path class="q1" d="M2982 1028l5 11-3-1-5-6z"/><path class="q2" d="M2978 1001l4 27-3 4-5-15z"/><path class="q4" d="M2973 972l5 29-4 16-5-16z"/><path class="q6" d="M2968 960l5 12-4 29-5-6zm-5 15l5-15-4 35-4 9z"/><path class="q4" d="M2959 1007l4-32-3 29-5 18z"/><path class="q2" d="M2954 1035l5-28-4 15-5 17z"/><path class="q1" d="M2949 1049l5-14-4 4-5 9z"/><path class="q0" d="M2940 1049l4 1-3-1-5 0zm-5 2l5-2-4 0-5 1zm-5 3l5-3-4-1-5 3zm-52 12l4 0-3-1-5 1zm-5 3l5-3-4 0-5 2zm-10-5l5 7-4-2-4-3z"/><path class="q1" d="M2859 1048l4 16-3 2-5-8z"/><path class="q3" d="M2854 1030l5 18-4 10-5-10z"/><path class="q4" d="M2849 1023l5 7-4 18-5-4zm-5 10l5-10-4 21-4 6z"/><path class="q3" d="M2839 1053l5-20-3 17-5 13z"/><path class="q1" d="M2835 1072l4-19-3 10-5 11z"/><path class="q0" d="M2830 1081l5-9-4 2-5 6zm-10 1l5 0-3-1-5 0zm-4 1l4-1-3-1-5 2zm-77 17l5 3-4-1-4-1z"/><path class="q1" d="M2735 1097l4 3-3 1-5-1zm-5-1l5 1-4 3-5 0zm-5 4l5-4-4 4-5 2zm-5 5l5-5-4 2-4 4z"/><path class="q0" d="M2716 1110l4-5-3 1-5 3zm508-138l5 6-3-2-5-5z"/><path class="q1" d="M3220 957l4 15-3-1-5-12z"/><path class="q3" d="M3215 941l5 16-4 2-5-13z"/><path class="q4" d="M3210 934l5 7-4 5-5-6zm-5 9l5-9-4 6-4 8z"/><path class="q3" d="M3201 962l4-19-3 5-5 16z"/><path class="q1" d="M3196 979l5-17-4 2-5 15z"/><path class="q0" d="M3191 988l5-9-4 0-5 7zm-67 13l5 2-4-1-4-2zm-4 0l4 0-3-1-5 0zm-5 6l5-6-4-1-5 5z"/><path class="q1" d="M3105 991l5 17-4-1-4-15z"/><path class="q4" d="M3100 949l5 42-3 1-5-35z"/><path class="q7" d="M3096 902l4 47-3 8-5-39z"/><path class="q10" d="M3091 882l5 20-4 16-5-16zm-5 23l5-23-4 20-4 19z"/><path class="q7" d="M3081 954l5-49-3 16-5 41z"/><path class="q4" d="M3077 998l4-44-3 8-5 38z"/><path class="q1" d="M3072 1019l5-21-4 2-5 17z"/><path class="q0" d="M3062 1016l5 3-4-1-4-2zm-4 3l4-3-3 0-5 2zm-5 5l5-5-4-1-5 4zm-48 10l5 1-4-1-4-1zm-5 0l5 0-3-1-5 0zm-4 5l4-5-3-1-5 4z"/><path class="q1" d="M2986 1027l5 13-4-1-5-11z"/><path class="q3" d="M2981 995l5 32-4 1-4-27z"/><path class="q6" d="M2977 960l4 35-3 6-5-29z"/><path class="q8" d="M2972 946l5 14-4 12-5-12zm-5 17l5-17-4 14-5 15z"/><path class="q6" d="M2962 1001l5-38-4 12-4 32z"/><path class="q3" d="M2958 1035l4-34-3 6-5 28z"/><path class="q1" d="M2953 1051l5-16-4 0-5 14z"/><path class="q0" d="M2943 1049l5 2-4-1-4-1zm-5 3l5-3-3 0-5 2zm-4 4l4-4-3-1-5 3zm-53 12l5-1-4-1-4 0zm-5 3l5-3-3-2-5 3zm-9-6l5 7-4-1-5-7z"/><path class="q2" d="M2862 1045l5 20-4-1-4-16z"/><path class="q4" d="M2857 1024l5 21-3 3-5-18z"/><path class="q5" d="M2853 1015l4 9-3 6-5-7zm-5 11l5-11-4 8-5 10z"/><path class="q4" d="M2843 1050l5-24-4 7-5 20z"/><path class="q2" d="M2838 1072l5-22-4 3-4 19z"/><path class="q0" d="M2834 1083l4-11-3 0-5 9zm-10 0l5 1-4-2-5 0zm-5 2l5-2-4-1-4 1zm-76 16l5 3-4-1-5-3z"/><path class="q1" d="M2738 1097l5 4-4-1-4-3zm-4-1l4 1-3 0-5-1zm-5 3l5-3-4 0-5 4zm-5 7l5-7-4 1-5 5z"/><path class="q0" d="M2719 1111l5-5-4-1-4 5zm509-136l5 4-4-1-5-6z"/><path class="q1" d="M3223 962l5 13-4-3-4-15z"/><path class="q3" d="M3219 949l4 13-3-5-5-16z"/><path class="q4" d="M3214 944l5 5-4-8-5-7zm-5 7l5-7-4-10-5 9z"/><path class="q3" d="M3204 967l5-16-4-8-4 19z"/><path class="q1" d="M3199 982l5-15-3-5-5 17z"/><path class="q0" d="M3195 989l4-7-3-3-5 9zm-67 14l5 2-4-2-5-2zm-5 1l5-1-4-2-4 0zm-5 5l5-5-3-3-5 6z"/><path class="q1" d="M3109 995l5 15-4-2-5-17z"/><path class="q4" d="M3104 960l5 35-4-4-5-42z"/><path class="q7" d="M3099 921l5 39-4-11-4-47z"/><path class="q10" d="M3095 905l4 16-3-19-5-20zm-5 19l5-19-4-23-5 23z"/><path class="q7" d="M3085 965l5-41-4-19-5 49z"/><path class="q4" d="M3080 1003l5-38-4-11-4 44z"/><path class="q1" d="M3076 1020l4-17-3-5-5 21z"/><path class="q0" d="M3066 1019l5 2-4-2-5-3zm-5 2l5-2-4-3-4 3zm-5 5l5-5-3-2-5 5zm-47 10l5 1-4-2-5-1zm-5 1l5-1-4-2-5 0zm-5 4l5-4-4-3-4 5z"/><path class="q1" d="M2990 1031l5 11-4-2-5-13z"/><path class="q3" d="M2985 1005l5 26-4-4-5-32z"/><path class="q6" d="M2980 975l5 30-4-10-4-35z"/><path class="q8" d="M2975 963l5 12-3-15-5-14zm-4 15l4-15-3-17-5 17z"/><path class="q6" d="M2966 1010l5-32-4-15-5 38z"/><path class="q3" d="M2961 1039l5-29-4-9-4 34z"/><path class="q1" d="M2956 1052l5-13-3-4-5 16z"/><path class="q0" d="M2947 1052l5 1-4-2-5-2zm-5 2l5-2-4-3-5 3zm-5 3l5-3-4-2-4 4zm-52 13l5-1-4-2-5 1zm-5 3l5-3-4-2-5 3zm-9-5l4 6-3-2-5-7z"/><path class="q2" d="M2866 1052l5 16-4-3-5-20z"/><path class="q4" d="M2861 1034l5 18-4-7-5-21z"/><path class="q5" d="M2856 1026l5 8-4-10-4-9zm-4 10l4-10-3-11-5 11z"/><path class="q4" d="M2847 1057l5-21-4-10-5 24z"/><path class="q2" d="M2842 1075l5-18-4-7-5 22z"/><path class="q0" d="M2837 1084l5-9-4-3-4 11zm-9 1l4 0-3-1-5-1zm-5 2l5-2-4-2-5 2zm-76 16l4 3-3-2-5-3z"/><path class="q1" d="M2742 1100l5 3-4-2-5-4zm-5 0l5 0-4-3-4-1zm-5 3l5-3-3-4-5 3zm-4 5l4-5-3-4-5 7z"/><path class="q0" d="M2723 1113l5-5-4-2-5 5zm509-134l4 2-3-2-5-4z"/><path class="q1" d="M3227 973l5 6-4-4-5-13z"/><path class="q2" d="M3222 965l5 8-4-11-4-13z"/><path class="q3" d="M3217 963l5 2-3-16-5-5zm-4 5l4-5-3-19-5 7z"/><path class="q2" d="M3208 978l5-10-4-17-5 16z"/><path class="q1" d="M3203 987l5-9-4-11-5 15z"/><path class="q0" d="M3198 991l5-4-4-5-4 7zm-66 16l4 0-3-2-5-2zm-5 1l5-1-4-4-5 1zm-5 3l5-3-4-4-5 5z"/><path class="q1" d="M3113 1004l4 8-3-2-5-15z"/><path class="q3" d="M3108 985l5 19-4-9-5-35z"/><path class="q5" d="M3103 963l5 22-4-25-5-39z"/><path class="q7" d="M3098 954l5 9-4-42-4-16zm-5 12l5-12-3-49-5 19z"/><path class="q5" d="M3089 990l4-24-3-42-5 41z"/><path class="q3" d="M3084 1012l5-22-4-25-5 38z"/><path class="q1" d="M3079 1023l5-11-4-9-4 17z"/><path class="q0" d="M3070 1023l4 1-3-3-5-2zm-5 2l5-2-4-4-5 2zm-5 3l5-3-4-4-5 5zm-48 11l5 0-3-2-5-1zm-4 1l4-1-3-3-5 1zm-5 3l5-3-4-3-5 4z"/><path class="q1" d="M2993 1038l5 6-3-2-5-11z"/><path class="q2" d="M2989 1024l4 14-3-7-5-26z"/><path class="q4" d="M2984 1008l5 16-4-19-5-30z"/><path class="q6" d="M2979 1001l5 7-4-33-5-12zm-5 9l5-9-4-38-4 15z"/><path class="q4" d="M2970 1029l4-19-3-32-5 32z"/><path class="q2" d="M2965 1046l5-17-4-19-5 29z"/><path class="q1" d="M2960 1054l5-8-4-7-5 13z"/><path class="q0" d="M2951 1055l4 0-3-2-5-1zm-5 2l5-2-4-3-5 2zm-5 2l5-2-4-3-5 3zm-52 13l4-1-3-2-5 1zm-5 3l5-3-4-2-5 3zm-10-2l5 3-4-2-4-6z"/><path class="q1" d="M2869 1064l5 9-3-5-5-16z"/><path class="q3" d="M2865 1055l4 9-3-12-5-18z"/><path class="q4" d="M2860 1051l5 4-4-21-5-8zm-5 6l5-6-4-25-4 10z"/><path class="q3" d="M2850 1069l5-12-3-21-5 21z"/><path class="q1" d="M2846 1081l4-12-3-12-5 18z"/><path class="q0" d="M2841 1086l5-5-4-6-5 9zm-10 2l5-1-4-2-4 0zm-4 1l4-1-3-3-5 2zm-77 18l5 1-4-2-4-3z"/><path class="q1" d="M2746 1106l4 1-3-4-5-3zm-5 0l5 0-4-6-5 0zm-5 3l5-3-4-6-5 3zm-5 3l5-3-4-6-4 5z"/><path class="q0" d="M2727 1116l4-4-3-4-5 5zm508-133l5 0-4-2-4-2zm-4-1l4 1-3-4-5-6z"/><path class="q1" d="M3226 980l5 2-4-9-5-8zm-5 0l5 0-4-15-5-2zm-5 3l5-3-4-17-4 5zm-4 4l4-4-3-15-5 10z"/><path class="q0" d="M3207 991l5-4-4-9-5 9zm-5 2l5-2-4-4-5 4zm-71 18l4-1-3-3-5 1zm-5 2l5-2-4-3-5 3zm-10 0l5 1-4-2-4-8z"/><path class="q1" d="M3111 1007l5 6-3-9-5-19z"/><path class="q3" d="M3107 1001l4 6-3-22-5-22z"/><path class="q4" d="M3102 999l5 2-4-38-5-9zm-5 5l5-5-4-45-5 12z"/><path class="q3" d="M3092 1012l5-8-4-38-4 24z"/><path class="q1" d="M3088 1020l4-8-3-22-5 22z"/><path class="q0" d="M3083 1025l5-5-4-8-5 11zm-10 1l5 0-4-2-4-1zm-4 2l4-2-3-3-5 2zm-72 17l5 1-4-2-5-6z"/><path class="q1" d="M2992 1041l5 4-4-7-4-14z"/><path class="q2" d="M2988 1037l4 4-3-17-5-16z"/><path class="q3" d="M2983 1036l5 1-4-29-5-7zm-5 4l5-4-4-35-5 9z"/><path class="q2" d="M2973 1046l5-6-4-30-4 19z"/><path class="q1" d="M2968 1053l5-7-3-17-5 17z"/><path class="q0" d="M2964 1056l4-3-3-7-5 8zm-86 22l5 0-4-2-5-3z"/><path class="q1" d="M2873 1076l5 2-4-5-5-9zm-5-2l5 2-4-12-4-9z"/><path class="q2" d="M2864 1073l4 1-3-19-5-4zm-5 3l5-3-4-22-5 6z"/><path class="q1" d="M2854 1081l5-5-4-19-5 12zm-5 4l5-4-4-12-4 12z"/><path class="q0" d="M2845 1088l4-3-3-4-5 5zm-91 23l5 0-4-3-5-1zm-5 1l5-1-4-4-4-1zm-5 1l5-1-3-6-5 0zm-4 1l4-1-3-7-5 3zm-5 2l5-2-4-5-5 3zm-5 2l5-2-4-4-4 4zm504-131l5-1-4-3-4-1zm-5 1l5-1-3-5-5-2zm-4 1l4-1-3-8-5 0zm-5 2l5-2-4-9-5 3zm-5 1l5-1-4-8-4 4zm-5 1l5-1-3-5-5 4zm-90 24l5-1-4-2-5-1zm-5 1l5-1-4-4-5-6z"/><path class="q1" d="M3110 1019l5-1-4-11-4-6zm-4 1l4-1-3-18-5-2zm-5 2l5-2-4-21-5 5zm-5 1l5-1-4-18-5 8z"/><path class="q0" d="M3091 1025l5-2-4-11-4 8zm-4 1l4-1-3-5-5 5zm-91 24l5-1-4-4-5-4z"/><path class="q1" d="M2991 1051l5-1-4-9-4-4zm-5 1l5-1-3-14-5-1zm-4 1l4-1-3-16-5 4zm-5 2l5-2-4-13-5 6z"/><path class="q0" d="M2972 1057l5-2-4-9-5 7zm-95 25l5-1-4-3-5-2zm-5 1l5-1-4-6-5-2zm-5 1l5-1-4-9-4-1zm-4 1l4-1-3-11-5 3zm-5 2l5-2-4-9-5 5zm-5 1l5-1-4-6-5 4zm269-69l5 1-3-1-5 1zm-4-1l4 1-3 1-5 0zm-5 1l5-1-4 2-5 1zm-5 2l5-2-4 2-5 2zm-5 3l5-3-4 2-4 2zm-4 4l4-4-3 1-5 2zm-100 23l4 1-3 0-5 0zm-5 1l5-1-4 1-5 1zm-5 2l5-2-4 1-5 2zm-5 3l5-3-4 1-4 2zm-105 27l5 0-4-1-4 1zm-4 1l4-1-3 0-5 2zm-5 2l5-2-4 1-5 1zm-5 2l5-2-4 0-5 1zm261-68l5 1-4-2-5-1zm-5 0l5 0-4-2-4-1zm-4 0l4 0-3-3-5 1zm-5 2l5-2-4-2-5 2zm-5 4l5-4-4-2-5 3zm-5 2l5-2-4-3-4 4zm-100 25l5 0-4-2-4-1zm-5 0l5 0-3-3-5 1zm-4 2l4-2-3-2-5 2zm-5 3l5-3-4-2-5 3zm-105 27l5 0-4-2-5 0zm-5 1l5-1-4-2-4 1zm-5 2l5-2-3-2-5 2zm-4 2l4-2-3-2-5 2zm256-65l5-1-4-4-5 0zm-5 1l5-1-4-5-4 0zm-5 1l5-1-3-6-5 2zm-4 2l4-2-3-5-5 4zm-105 28l5-1-4-3-5 0zm-5 1l5-1-4-4-5 0zm-5 1l5-1-4-5-4 2zm-4 2l4-2-3-4-5 3zm41 0l4 2-3 0-5 1zm-5-3l5 3-4 3-5 2zm-5 0l5 0-4 8-5 1zm-5 3l5-3-4 9-4 1zm-5 5l5-5-3 7-5 1zm-4 5l4-5-3 3-5 2zm27-7l5 1-4-2-4-2z"/><path class="q1" d="M3031 1064l5 1-3-3-5-3zm-4 0l4 0-3-5-5 0zm-5 2l5-2-4-5-5 3zm-5 4l5-4-4-4-5 5z"/><path class="q0" d="M3012 1074l5-4-4-3-4 5zm28-4l5-1-4-3-5-1zm-5 1l5-1-4-5-5-1zm-5 2l5-2-4-7-4 0zm-4 1l4-1-3-9-5 2zm-5 1l5-1-4-8-5 4zm-5 2l5-2-4-5-5 4zm27-8l5 1-3-1-5 1zm-4-1l4 1-3 1-5 1zm-5 0l5 0-4 3-5 2zm-5 3l5-3-4 5-4 1zm-5 3l5-3-3 3-5 1zm-4 3l4-3-3 1-5 2zm142-38l4 1-3 0-5 1zm-5 1l5-1-4 2-5 1zm-5 2l5-2-4 2-5 1zm-5 3l5-3-4 1-4 2zm-95 24l5 2-4-2-5 1zm-5-7l5 7-4 1-5-1z"/><path class="q1" d="M3042 1054l5 8-4 7-4-1zm-4-3l4 3-3 14-5 0zm-5 5l5-5-4 17-5 3zm-5 11l5-11-4 15-5 3z"/><path class="q0" d="M3023 1076l5-9-4 7-4 3zm-4 5l4-5-3 1-5 3zm151-40l5 0-4-1-5 0zm-5-1l5 1-4-1-4-1zm-5 0l5 0-3-1-5 1zm-4 3l4-3-3 0-5 2zm-5 3l5-3-4-1-5 3zm-5 3l5-3-4-1-5 3zm-90 20l4 4-3-2-5-2z"/><path class="q1" d="M3051 1061l5 8-4 0-5-7z"/><path class="q2" d="M3046 1051l5 10-4 1-5-8zm-5-4l5 4-4 3-4-3zm-5 6l5-6-3 4-5 5zm-4 13l4-13-3 3-5 11z"/><path class="q1" d="M3027 1077l5-11-4 1-5 9z"/><path class="q0" d="M3022 1083l5-6-4-1-4 5zm152-39l4 0-3-3-5 0zm-5 1l5-1-4-3-5-1zm-5 1l5-1-4-5-5 0zm-5 2l5-2-4-6-4 3zm-4 2l4-2-3-5-5 3zm-5 1l5-1-4-4-5 3zm-91 23l5 0-4-1-4-4z"/><path class="q1" d="M3054 1073l5 1-3-5-5-8zm-4-2l4 2-3-12-5-10z"/><path class="q2" d="M3045 1070l5 1-4-20-5-4zm-5 3l5-3-4-23-5 6z"/><path class="q1" d="M3035 1078l5-5-4-20-4 13zm-4 4l4-4-3-12-5 11z"/><path class="q0" d="M3026 1085l5-3-4-5-5 6zm32-10l5 1-4-2-5-1zm-5-1l5 1-4-2-4-2z"/><path class="q1" d="M3049 1075l4-1-3-3-5-1zm-5 2l5-2-4-5-5 3z"/><path class="q0" d="M3039 1081l5-4-4-4-5 5zm-5 3l5-3-4-3-4 4zm261-69l5 0-4 0-4 1zm-4 0l4 0-3 1-5 2zm-5 2l5-2-4 3-5 1zm-5 3l5-3-4 2-5 1zm-95 24l4 2-3-2-5 2zm-5-5l5 5-4 2-5 0z"/><path class="q1" d="M3176 1033l5 6-4 7-5 1zm-5-2l5 2-4 14-4 1zm-4 5l4-5-3 17-5 2zm-5 8l5-8-4 14-5 1z"/><path class="q0" d="M3157 1052l5-8-4 7-5 2zm-5 4l5-4-4 1-4 2zm-66 14l4 2-3-1-5 1zm-5 1l5-1-4 2-5 1zm-5 4l5-4-4 2-5 2zm-9-12l4 14-3-1-5 0z"/><path class="q2" d="M3062 1030l5 33-4 13-5-1z"/><path class="q3" d="M3057 993l5 37-4 45-5-1z"/><path class="q5" d="M3052 978l5 15-4 81-4 1zm-5 18l5-18-3 97-5 2z"/><path class="q3" d="M3043 1035l4-39-3 81-5 4z"/><path class="q2" d="M3038 1070l5-35-4 46-5 3z"/><path class="q0" d="M3033 1087l5-17-4 14-4 2zm-9-1l4 2-3-1-5 1zm-5 2l5-2-4 2-5 2zm-5 4l5-4-4 2-5 1zm-71 17l4 1-3-1-5 1zm-5-1l5 1-4 1-5 1zm-5 0l5 0-4 3-5 1zm-5 2l5-2-4 4-4 2zm-4 4l4-4-3 4-5 1zm-5 3l5-3-4 1-5 2zm385-105l4 3-3 0-5 0z"/><path class="q1" d="M3299 1009l5 3-4 3-5 0zm-5-1l5 1-4 6-4 0zm-5 3l5-3-3 7-5 2zm-4 6l4-6-3 6-5 3z"/><path class="q0" d="M3280 1023l5-6-4 3-5 3zm-76 19l4 0-3 0-5 1zm-5 4l5-4-4 1-5 2zm-10-7l5 8-4-1-4-2z"/><path class="q1" d="M3185 1020l4 19-3 5-5-5z"/><path class="q3" d="M3180 999l5 21-4 19-5-6z"/><path class="q4" d="M3175 991l5 8-4 34-5-2zm-5 11l5-11-4 40-4 5z"/><path class="q3" d="M3166 1025l4-23-3 34-5 8z"/><path class="q1" d="M3161 1047l5-22-4 19-5 8z"/><path class="q0" d="M3156 1057l5-10-4 5-5 4zm-10 1l5 0-3-1-5 1zm-4 1l4-1-3 0-5 1zm-34 6l5 4-4-1-4-1zm-4 3l4-3-3 2-5 2zm-5 5l5-5-4 1-5 2zm-5-2l5 2-4-2-5 1zm-5-7l5 7-4 1-4-2z"/><path class="q1" d="M3084 1062l5 2-3 6-5 1zm-4 12l4-12-3 9-5 4z"/><path class="q0" d="M3075 1076l5-2-4 1-5 2z"/><path class="q2" d="M3070 1030l5 46-4 1-4-14z"/><path class="q6" d="M3065 925l5 105-3 33-5-33z"/><path class="q13" d="M3061 809l4 116-3 105-5-37z"/><path class="q18" d="M3056 758l5 51-4 184-5-15zm-5 53l5-53-4 220-5 18z"/><path class="q13" d="M3046 930l5-119-4 185-4 39z"/><path class="q6" d="M3042 1038l4-108-3 105-5 35z"/><path class="q2" d="M3037 1086l5-48-4 32-5 17z"/><path class="q0" d="M3032 1086l5 0-4 1-5 1z"/><path class="q1" d="M3027 1077l5 9-4 2-4-2zm-4 4l4-4-3 9-5 2z"/><path class="q0" d="M3018 1092l5-11-4 7-5 4zm-5 4l5-4-4 0-5 2zm-5-2l5 2-4-2-4 0zm-5-1l5 1-3 0-5 1zm-4 7l4-7-3 2-5 3zm-48 9l5 2-4-2-5 1zm-5-5l5 5-4 1-4-1z"/><path class="q1" d="M2942 1097l4 7-3 5-5-1zm-5-2l5 2-4 11-5 0zm-5 5l5-5-4 13-5 2zm-5 9l5-9-4 10-4 4z"/><path class="q0" d="M2922 1117l5-8-3 5-5 3zm-4 4l4-4-3 0-5 3zm-91 21l5 1-4-1-5 1zm-5-1l5 1-4 1-4 0zm-4 0l4 0-3 2-5 1zm-5 3l5-3-4 3-5 2zm-5 3l5-3-4 2-5 2zm-5 4l5-4-4 1-4 2zm509-136l5 3-4-2-5-1z"/><path class="q1" d="M3307 1009l5 6-4 0-4-3zm-4-7l4 7-3 3-5-3z"/><path class="q2" d="M3298 1000l5 2-4 7-5-1zm-5 4l5-4-4 8-5 3z"/><path class="q1" d="M3288 1014l5-10-4 7-4 6zm-4 9l4-9-3 3-5 6z"/><path class="q0" d="M3279 1028l5-5-4 0-5 3zm-67 14l5 1-4-1-5 0zm-5 0l5 0-4 0-4 0zm-4 5l4-5-3 0-5 4z"/><path class="q1" d="M3193 1034l5 14-4-1-5-8z"/><path class="q3" d="M3188 1000l5 34-4 5-4-19z"/><path class="q5" d="M3183 961l5 39-3 20-5-21z"/><path class="q7" d="M3179 945l4 16-3 38-5-8zm-5 19l5-19-4 46-5 11z"/><path class="q5" d="M3169 1005l5-41-4 38-4 23z"/><path class="q3" d="M3164 1041l5-36-3 20-5 22z"/><path class="q1" d="M3160 1058l4-17-3 6-5 10z"/><path class="q0" d="M3150 1057l5 2-4-1-5 0zm-5 2l5-2-4 1-4 1zm-4 5l4-5-3 0-5 3zm-29-1l5 8-4-2-5-4z"/><path class="q1" d="M3107 1067l5-4-4 2-4 3z"/><path class="q0" d="M3102 1074l5-7-3 1-5 5zm-4-3l4 3-3-1-5-2z"/><path class="q1" d="M3093 1056l5 15-4 0-5-7z"/><path class="q2" d="M3088 1053l5 3-4 8-5-2z"/><path class="q1" d="M3083 1072l5-19-4 9-4 12z"/><path class="q0" d="M3079 1076l4-4-3 2-5 2z"/><path class="q3" d="M3074 994l5 82-4 0-5-46z"/><path class="q13" d="M3069 809l5 185-4 36-5-105z"/><path class="q28" d="M3064 604l5 205-4 116-4-116z"/><path class="q38" d="M3060 514l4 90-3 205-5-51zm-5 92l5-92-4 244-5 53z"/><path class="q28" d="M3050 814l5-208-4 205-5 119z"/><path class="q13" d="M3045 1002l5-188-4 116-4 108z"/><path class="q3" d="M3040 1086l5-84-3 36-5 48z"/><path class="q0" d="M3036 1085l4 1-3 0-5 0z"/><path class="q1" d="M3031 1068l5 17-4 1-5-9z"/><path class="q2" d="M3026 1074l5-6-4 9-4 4z"/><path class="q1" d="M3021 1091l5-17-3 7-5 11z"/><path class="q0" d="M3017 1097l4-6-3 1-5 4zm-5-5l5 5-4-1-5-2z"/><path class="q1" d="M3007 1091l5 1-4 2-5-1z"/><path class="q0" d="M3002 1101l5-10-4 2-4 7zm-47 7l4 4-3-1-5-2z"/><path class="q1" d="M2950 1098l5 10-4 1-5-5z"/><path class="q2" d="M2945 1086l5 12-4 6-4-7zm-5-5l5 5-3 11-5-2zm-4 8l4-8-3 14-5 5zm-5 14l5-14-4 11-5 9z"/><path class="q1" d="M2926 1116l5-13-4 6-5 8z"/><path class="q0" d="M2921 1123l5-7-4 1-4 4zm-90 18l5 3-4-1-5-1z"/><path class="q1" d="M2826 1138l5 3-4 1-5-1zm-5 0l5 0-4 3-4 0zm-5 3l5-3-3 3-5 3zm-4 5l4-5-3 3-5 3z"/><path class="q0" d="M2807 1152l5-6-4 1-5 4zm509-136l5 3-4-1-5-3z"/><path class="q1" d="M3311 1009l5 7-4-1-5-6z"/><path class="q2" d="M3306 1000l5 9-4 0-4-7zm-4-3l4 3-3 2-5-2zm-5 5l5-5-4 3-5 4zm-5 12l5-12-4 2-5 10z"/><path class="q1" d="M3287 1024l5-10-4 0-4 9z"/><path class="q0" d="M3282 1029l5-5-3-1-5 5zm-66 13l4 3-3-2-5-1zm-5 1l5-1-4 0-5 0zm-5 5l5-5-4-1-4 5z"/><path class="q1" d="M3197 1032l4 18-3-2-5-14z"/><path class="q4" d="M3192 991l5 41-4 2-5-34z"/><path class="q7" d="M3187 946l5 45-4 9-5-39z"/><path class="q10" d="M3182 927l5 19-4 15-4-16zm-4 21l4-21-3 18-5 19z"/><path class="q7" d="M3173 996l5-48-4 16-5 41z"/><path class="q4" d="M3168 1040l5-44-4 9-5 36z"/><path class="q1" d="M3163 1060l5-20-4 1-4 17z"/><path class="q0" d="M3154 1058l5 3-4-2-5-2zm-5 2l5-2-4-1-5 2zm-5 5l5-5-4-1-4 5zm-28-2l4 10-3-2-5-8z"/><path class="q1" d="M3111 1068l5-5-4 0-5 4z"/><path class="q0" d="M3106 1076l5-8-4-1-5 7zm-5-4l5 4-4-2-4-3z"/><path class="q1" d="M3097 1054l4 18-3-1-5-15z"/><path class="q2" d="M3092 1050l5 4-4 2-5-3zm-5 22l5-22-4 3-5 19z"/><path class="q1" d="M3082 1076l5-4-4 0-4 4z"/><path class="q5" d="M3077 979l5 97-3 0-5-82z"/><path class="q18" d="M3073 759l4 220-3 15-5-185z"/><path class="q38" d="M3068 515l5 244-4 50-5-205z"/><path class="q53" d="M3063 408l5 107-4 89-4-90zm-5 109l5-109-3 106-5 92z"/><path class="q38" d="M3054 764l4-247-3 89-5 208z"/><path class="q18" d="M3049 987l5-223-4 50-5 188z"/><path class="q5" d="M3044 1086l5-99-4 15-5 84z"/><path class="q1" d="M3039 1085l5 1-4 0-4-1z"/><path class="q2" d="M3035 1065l4 20-3 0-5-17zm-5 7l5-7-4 3-5 6z"/><path class="q1" d="M3025 1092l5-20-4 2-5 17z"/><path class="q0" d="M3020 1099l5-7-4-1-4 6zm-4-6l4 6-3-2-5-5z"/><path class="q1" d="M3011 1091l5 2-4-1-5-1z"/><path class="q0" d="M3006 1103l5-12-4 0-5 10zm-48 6l5 5-4-2-4-4z"/><path class="q1" d="M2954 1096l4 13-3-1-5-10z"/><path class="q2" d="M2949 1082l5 14-4 2-5-12z"/><path class="q3" d="M2944 1076l5 6-4 4-5-5zm-5 8l5-8-4 5-4 8z"/><path class="q2" d="M2935 1101l4-17-3 5-5 14z"/><path class="q1" d="M2930 1117l5-16-4 2-5 13z"/><path class="q0" d="M2925 1124l5-7-4-1-5 7zm-91 18l5 3-3-1-5-3z"/><path class="q1" d="M2830 1138l4 4-3-1-5-3zm-5-1l5 1-4 0-5 0zm-5 4l5-4-4 1-5 3zm-5 6l5-6-4 0-4 5z"/><path class="q0" d="M2811 1153l4-6-3-1-5 6zm508-134l5 2-3-2-5-3z"/><path class="q1" d="M3315 1012l4 7-3-3-5-7z"/><path class="q2" d="M3310 1005l5 7-4-3-5-9zm-5-2l5 2-4-5-4-3zm-5 5l5-5-3-6-5 5zm-4 9l4-9-3-6-5 12z"/><path class="q1" d="M3291 1026l5-9-4-3-5 10z"/><path class="q0" d="M3286 1031l5-5-4-2-5 5zm-67 14l5 2-4-2-4-3zm-4 0l4 0-3-3-5 1zm-5 5l5-5-4-2-5 5z"/><path class="q1" d="M3200 1037l5 15-4-2-4-18z"/><path class="q4" d="M3196 1003l4 34-3-5-5-41z"/><path class="q7" d="M3191 965l5 38-4-12-5-45z"/><path class="q10" d="M3186 949l5 16-4-19-5-19zm-5 18l5-18-4-22-4 21z"/><path class="q7" d="M3176 1008l5-41-3-19-5 48z"/><path class="q4" d="M3172 1045l4-37-3-12-5 44z"/><path class="q1" d="M3167 1062l5-17-4-5-5 20z"/><path class="q0" d="M3157 1060l5 3-3-2-5-3zm-4 3l4-3-3-2-5 2zm-5 4l5-4-4-3-5 5zm-29-1l5 8-4-1-4-10z"/><path class="q1" d="M3115 1070l4-4-3-3-5 5z"/><path class="q0" d="M3110 1078l5-8-4-2-5 8zm-5-4l5 4-4-2-5-4z"/><path class="q1" d="M3100 1060l5 14-4-2-4-18z"/><path class="q2" d="M3095 1056l5 4-3-6-5-4zm-4 19l4-19-3-6-5 22z"/><path class="q1" d="M3086 1079l5-4-4-3-5 4z"/><path class="q5" d="M3081 997l5 82-4-3-5-97z"/><path class="q18" d="M3076 812l5 185-4-18-4-220z"/><path class="q38" d="M3072 607l4 205-3-53-5-244z"/><path class="q53" d="M3067 518l5 89-4-92-5-107zm-5 92l5-92-4-110-5 109z"/><path class="q38" d="M3057 817l5-207-4-93-4 247z"/><path class="q18" d="M3053 1005l4-188-3-53-5 223z"/><path class="q5" d="M3048 1089l5-84-4-18-5 99z"/><path class="q1" d="M3043 1088l5 1-4-3-5-1z"/><path class="q2" d="M3038 1071l5 17-4-3-4-20zm-5 6l5-6-3-6-5 7z"/><path class="q1" d="M3029 1094l4-17-3-5-5 20z"/><path class="q0" d="M3024 1101l5-7-4-2-5 7zm-5-5l5 5-4-2-4-6z"/><path class="q1" d="M3014 1094l5 2-3-3-5-2z"/><path class="q0" d="M3010 1105l4-11-3-3-5 12zm-48 7l5 4-4-2-5-5z"/><path class="q1" d="M2957 1101l5 11-4-3-4-13z"/><path class="q2" d="M2952 1089l5 12-3-5-5-14z"/><path class="q3" d="M2948 1085l4 4-3-7-5-6zm-5 7l5-7-4-9-5 8z"/><path class="q2" d="M2938 1106l5-14-4-8-4 17z"/><path class="q1" d="M2933 1119l5-13-3-5-5 16z"/><path class="q0" d="M2929 1126l4-7-3-2-5 7zm-91 19l5 2-4-2-5-3z"/><path class="q1" d="M2833 1142l5 3-4-3-4-4zm-4-1l4 1-3-4-5-1zm-5 3l5-3-4-4-5 4zm-5 6l5-6-4-3-5 6z"/><path class="q0" d="M2814 1155l5-5-4-3-4 6zm509-133l5 1-4-2-5-2z"/><path class="q1" d="M3318 1019l5 3-4-3-4-7zm-4-4l4 4-3-7-5-7z"/><path class="q2" d="M3309 1014l5 1-4-10-5-2zm-5 4l5-4-4-11-5 5z"/><path class="q1" d="M3299 1024l5-6-4-10-4 9zm-4 6l4-6-3-7-5 9z"/><path class="q0" d="M3290 1033l5-3-4-4-5 5zm-67 15l5 1-4-2-5-2zm-5 1l5-1-4-3-4 0zm-5 3l5-3-3-4-5 5z"/><path class="q1" d="M3204 1046l5 8-4-2-5-15z"/><path class="q3" d="M3199 1027l5 19-4-9-4-34z"/><path class="q5" d="M3194 1006l5 21-3-24-5-38z"/><path class="q7" d="M3190 997l4 9-3-41-5-16zm-5 11l5-11-4-48-5 18z"/><path class="q5" d="M3180 1032l5-24-4-41-5 41z"/><path class="q3" d="M3175 1054l5-22-4-24-4 37z"/><path class="q1" d="M3171 1064l4-10-3-9-5 17z"/><path class="q0" d="M3161 1064l5 1-4-2-5-3zm-5 2l5-2-4-4-4 3zm-4 3l4-3-3-3-5 4zm-29 3l5 4-4-2-5-8z"/><path class="q1" d="M3118 1075l5-3-4-6-4 4z"/><path class="q0" d="M3113 1080l5-5-3-5-5 8zm-4-2l4 2-3-2-5-4z"/><path class="q1" d="M3104 1070l5 8-4-4-5-14z"/><path class="q2" d="M3099 1069l5 1-4-10-5-4z"/><path class="q1" d="M3094 1080l5-11-4-13-4 19z"/><path class="q0" d="M3090 1083l4-3-3-5-5 4z"/><path class="q3" d="M3085 1037l5 46-4-4-5-82z"/><path class="q13" d="M3080 932l5 105-4-40-5-185z"/><path class="q28" d="M3075 815l5 117-4-120-4-205z"/><path class="q38" d="M3071 765l4 50-3-208-5-89zm-5 53l5-53-4-247-5 92z"/><path class="q28" d="M3061 937l5-119-4-208-5 207z"/><path class="q13" d="M3056 1045l5-108-4-120-4 188z"/><path class="q3" d="M3051 1093l5-48-3-40-5 84z"/><path class="q0" d="M3047 1093l4 0-3-4-5-1z"/><path class="q1" d="M3042 1084l5 9-4-5-5-17z"/><path class="q2" d="M3037 1088l5-4-4-13-5 6z"/><path class="q1" d="M3032 1098l5-10-4-11-4 17z"/><path class="q0" d="M3028 1102l4-4-3-4-5 7zm-5-2l5 2-4-1-5-5z"/><path class="q1" d="M3018 1100l5 0-4-4-5-2z"/><path class="q0" d="M3013 1106l5-6-4-6-4 11zm-47 10l4 2-3-2-5-4z"/><path class="q1" d="M2961 1110l5 6-4-4-5-11z"/><path class="q2" d="M2956 1104l5 6-4-9-5-12zm-5-2l5 2-4-15-4-4zm-4 5l4-5-3-17-5 7zm-5 8l5-8-4-15-5 14z"/><path class="q1" d="M2937 1123l5-8-4-9-5 13z"/><path class="q0" d="M2932 1128l5-5-4-4-4 7zm-90 21l5 1-4-3-5-2z"/><path class="q1" d="M2837 1148l5 1-4-4-5-3zm-5 0l5 0-4-6-4-1zm-5 2l5-2-3-7-5 3zm-4 4l4-4-3-6-5 6z"/><path class="q0" d="M2818 1157l5-3-4-4-5 5zm504-132l5 0-4-3-5-3z"/><path class="q1" d="M3317 1025l5 0-4-6-4-4zm-5 0l5 0-3-10-5-1zm-4 2l4-2-3-11-5 4zm-5 3l5-3-4-9-5 6z"/><path class="q0" d="M3298 1033l5-3-4-6-4 6zm-76 20l5-2-4-3-5 1zm-5 1l5-1-4-4-5 3zm-9 0l4 2-3-2-5-8z"/><path class="q1" d="M3203 1049l5 5-4-8-5-19z"/><path class="q3" d="M3198 1043l5 6-4-22-5-21z"/><path class="q4" d="M3193 1041l5 2-4-37-4-9zm-4 5l4-5-3-44-5 11z"/><path class="q3" d="M3184 1054l5-8-4-38-5 24z"/><path class="q1" d="M3179 1062l5-8-4-22-5 22z"/><path class="q0" d="M3174 1066l5-4-4-8-4 10zm-9 2l4-1-3-2-5-1zm-5 1l5-1-4-4-5 2zm-33 8l4 1-3-2-5-4zm-5 2l5-2-4-5-5 3zm-5 2l5-2-4-4-5 5zm-5 1l5-1-4-1-4-2zm-4-2l4 2-3-4-5-8z"/><path class="q1" d="M3103 1080l5 0-4-10-5-1zm-5 5l5-5-4-11-5 11z"/><path class="q0" d="M3093 1087l5-2-4-5-4 3z"/><path class="q2" d="M3088 1073l5 14-3-4-5-46z"/><path class="q6" d="M3084 1040l4 33-3-36-5-105z"/><path class="q13" d="M3079 1003l5 37-4-108-5-117z"/><path class="q18" d="M3074 988l5 15-4-188-4-50zm-5 18l5-18-3-223-5 53z"/><path class="q13" d="M3065 1045l4-39-3-188-5 119z"/><path class="q6" d="M3060 1080l5-35-4-108-5 108z"/><path class="q2" d="M3055 1097l5-17-4-35-5 48z"/><path class="q0" d="M3050 1098l5-1-4-4-4 0z"/><path class="q1" d="M3046 1096l4 2-3-5-5-9zm-5 2l5-2-4-12-5 4z"/><path class="q0" d="M3036 1102l5-4-4-10-5 10zm-5 2l5-2-4-4-4 4zm-4 0l4 0-3-2-5-2zm-5 1l5-1-4-4-5 0zm-5 3l5-3-4-5-5 6zm-48 12l5-1-4-1-4-2zm-4-1l4 1-3-4-5-6z"/><path class="q1" d="M2960 1118l5 1-4-9-5-6zm-5 0l5 0-4-14-5-2zm-5 2l5-2-4-16-4 5zm-5 4l5-4-3-13-5 8z"/><path class="q0" d="M2941 1127l4-3-3-9-5 8zm-5 2l5-2-4-4-5 5zm-91 24l5-1-3-2-5-1zm-4 0l4 0-3-4-5-1zm-5 1l5-1-4-5-5 0zm-5 2l5-2-4-6-5 2zm-5 2l5-2-4-6-4 4zm-4 2l4-2-3-4-5 3zm499-130l5-2-4-3-5 0zm-5 1l5-1-4-5-5 0zm-5 1l5-1-4-6-4 2zm-4 1l4-1-3-5-5 3zm-96 26l5-1-4-2-4-2zm-4 1l4-1-3-5-5-5z"/><path class="q1" d="M3202 1060l5 0-4-11-5-6zm-5 1l5-1-4-17-5-2zm-5 2l5-2-4-20-4 5zm-5 2l5-2-3-17-5 8z"/><path class="q0" d="M3183 1066l4-1-3-11-5 8zm-5 2l5-2-4-4-5 4zm-67 17l5-1-4-2-4-2zm-5 2l5-2-3-5-5 0zm-4 1l4-1-3-7-5 5zm-10 2l5-1-4-2-5-14z"/><path class="q2" d="M3087 1089l5 1-4-17-4-33z"/><path class="q3" d="M3083 1088l4 1-3-49-5-37z"/><path class="q5" d="M3078 1088l5 0-4-85-5-15zm-5 2l5-2-4-100-5 18z"/><path class="q3" d="M3068 1094l5-4-4-84-4 39z"/><path class="q2" d="M3064 1097l4-3-3-49-5 35z"/><path class="q0" d="M3059 1099l5-2-4-17-5 17zm-10 3l5-1-4-3-4-2zm-5 1l5-1-3-6-5 2zm-4 1l4-1-3-5-5 4zm-72 19l5-1-4-2-4-1zm-5 1l5-1-3-4-5-1zm-4 2l4-2-3-6-5 0zm-5 1l5-1-4-8-5 2zm-5 1l5-1-4-7-5 4zm-5 2l5-2-4-4-4 3zm147-41l5 2-4-1-5-1zm-5-2l5 2-4 0-4-1z"/><path class="q1" d="M3081 1087l5 0-3 1-5 0zm-4 3l4-3-3 1-5 2z"/><path class="q0" d="M3072 1094l5-4-4 0-5 4zm-5 4l5-4-4 0-4 3zm147-37l5 0-4-1-5 1zm-5-1l5 1-4 0-5 1zm-5 0l5 0-4 2-4 1zm-4 2l4-2-3 3-5 1zm-5 4l5-4-4 2-5 2zm-5 3l5-3-4 0-5 2zm-91 20l5 3-3-1-5 0z"/><path class="q1" d="M3095 1080l4 9-3 2-5-2zm-5-9l5 9-4 9-5-2z"/><path class="q2" d="M3085 1067l5 4-4 16-5 0zm-5 6l5-6-4 20-4 3z"/><path class="q1" d="M3076 1086l4-13-3 17-5 4zm-5 11l5-11-4 8-5 4z"/><path class="q0" d="M3066 1102l5-5-4 1-5 3zm151-39l5 0-3-2-5 0zm-4-1l4 1-3-2-5-1zm-5 1l5-1-4-2-5 0zm-5 2l5-2-4-3-4 2zm-5 3l5-3-3-3-5 4zm-4 3l4-3-3-2-5 3zm-91 21l5 2-4-2-5-3z"/><path class="q1" d="M3098 1085l5 7-4-3-4-9z"/><path class="q2" d="M3094 1077l4 8-3-5-5-9zm-5-3l5 3-4-6-5-4zm-5 6l5-6-4-7-5 6zm-5 10l5-10-4-7-4 13z"/><path class="q1" d="M3074 1099l5-9-3-4-5 11z"/><path class="q0" d="M3070 1104l4-5-3-2-5 5zm146-37l5-1-4-3-4-1zm-4 1l4-1-3-5-5 1zm-5 2l5-2-4-5-5 2zm-5 1l5-1-4-5-5 3zm-95 25l5 0-4-2-5-2zm-5 0l5 0-4-4-5-7z"/><path class="q1" d="M3097 1095l5 1-4-11-4-8zm-5 0l5 0-3-18-5-3zm-4 2l4-2-3-21-5 6zm-5 4l5-4-4-17-5 10z"/><path class="q0" d="M3078 1104l5-3-4-11-5 9zm-5 2l5-2-4-5-4 5zm33-6l4-1-3-3-5 0zm-5 1l5-1-4-4-5-1zm-5 1l5-1-4-6-5 0zm-5 2l5-2-4-7-4 2zm-4 1l4-1-3-7-5 4zm-5 1l5-1-4-4-5 3zm27-8l5 1-4 0-4 1zm-4-1l4 1-3 2-5 1zm-5 0l5 0-4 4-5 1zm-5 2l5-2-4 5-5 2zm-5 4l5-4-4 5-4 1zm-5 4l5-4-3 2-5 1zm28-9l5 3-4-2-5-1z"/><path class="q1" d="M3108 1095l5 3-4 0-4-1zm-5 0l5 0-3 2-5 0zm-4 3l4-3-3 2-5 2zm-5 5l5-5-4 1-5 4z"/><path class="q0" d="M3089 1108l5-5-4 0-5 4zm28-3l4-1-3-3-5-3zm-5 1l5-1-4-7-5-3zm-5 2l5-2-4-11-5 0zm-5 1l5-1-4-13-4 3zm-4 1l4-1-3-11-5 5zm-5 1l5-1-4-7-5 5zm145-37l5 1-4 0-4 1zm-4 1l4-1-3 2-5 2zm-5 2l5-2-4 3-5 1zm-5 3l5-3-4 2-5 1zm-105 27l5 0-4 0-5 1zm-5 1l5-1-4 1-4 1zm-4 1l4-1-3 1-5 2zm-5 3l5-3-4 2-5 1zm137-35l5 0-4-2-5-1zm-5 1l5-1-4-3-4 1zm-5 2l5-2-3-3-5 2zm-4 2l4-2-3-3-5 3zm-105 27l5 0-4-2-5 0zm-5 1l5-1-4-2-5 1zm-5 2l5-2-4-2-4 1zm-4 2l4-2-3-3-5 3zm137-33l4-1-3-3-5 0zm-5 1l5-1-4-4-5 1zm-5 2l5-2-4-4-5 2zm-5 1l5-1-4-4-4 2zm14-3l4-1-3 0-5 1zm-5 1l5-1-4 0-5 2zm132-34l5 1-4 0-5 0zm-5 1l5-1-4 1-4 2zm-4 2l4-2-3 2-5 1zm-5 3l5-3-4 1-5 2zm-100 23l4 3-3-1-5 1zm-5-2l5 2-4 3-5 0z"/><path class="q1" d="M3248 1076l5 0-4 5-4 1zm-5 3l5-3-3 6-5 1z"/><path class="q0" d="M3239 1084l4-5-3 4-5 3zm-5 4l5-4-4 2-5 2zm-95 23l4 2-3-1-5 1zm-5-1l5 1-4 2-5 0zm-5 0l5 0-4 3-5 1zm-5 2l5-2-4 4-4 2zm-5 4l5-4-3 4-5 2zm-4 4l4-4-3 2-5 1zm-100 25l4 0-3 0-5 1zm-5 1l5-1-4 1-5 1zm-5 2l5-2-4 1-5 1zm-5 2l5-2-4 0-4 2zm380-99l5 0-3-1-5 0zm-4-1l4 1-3-1-5-1zm-5 0l5 0-4-1-5 1zm-5 3l5-3-4 0-4 2zm-5 3l5-3-3-1-5 3zm-4 3l4-3-3-1-5 2zm-96 20l5 3-4-1-4-3z"/><path class="q1" d="M3257 1076l4 3-3-1-5-2zm-5-1l5 1-4 0-5 0zm-5 3l5-3-4 1-5 3zm-5 6l5-6-4 1-4 5z"/><path class="q0" d="M3238 1089l4-5-3 0-5 4zm-96 23l5 2-4-1-4-2z"/><path class="q1" d="M3137 1110l5 2-3-1-5-1zm-4 0l4 0-3 0-5 0zm-5 3l5-3-4 0-5 2zm-5 4l5-4-4-1-5 4z"/><path class="q0" d="M3118 1122l5-5-4-1-4 4zm-100 24l5 0-4-1-4 0zm-4 1l4-1-3-1-5 1zm-5 2l5-2-4-1-5 2zm-5 2l5-2-4-1-5 2zm380-97l5-1-4-2-5 0zm-5 1l5-1-4-3-4-1zm-4 1l4-1-3-5-5 0zm-5 1l5-1-4-6-5 3zm-5 2l5-2-4-4-5 3zm-5 2l5-2-4-3-4 3zm-95 24l5 0-4-3-5-3z"/><path class="q1" d="M3260 1085l5 0-4-6-4-3zm-5 0l5 0-3-9-5-1zm-4 2l4-2-3-10-5 3zm-5 3l5-3-4-9-5 6z"/><path class="q0" d="M3241 1092l5-2-4-6-4 5zm-95 25l5 0-4-3-5-2zm-5 0l5 0-4-5-5-2z"/><path class="q1" d="M3136 1118l5-1-4-7-4 0zm-4 2l4-2-3-8-5 3z"/><path class="q0" d="M3127 1122l5-2-4-7-5 4zm-5 2l5-2-4-5-5 5zm-100 26l5-1-4-3-5 0zm-5 1l5-1-4-4-4 1zm-5 2l5-2-3-4-5 2zm-4 2l4-2-3-4-5 2zm256-68l5 0-4-2-5 0zm-5 1l5-1-4-2-5 0zm-5 2l5-2-4-3-4 2zm-4 2l4-2-3-3-5 3zm-110 29l5-1-4-3-5 1zm-5 1l5-1-4-3-4 2zm261-68l5 2-4-2-4 1zm-5-5l5 5-3 1-5 1z"/><path class="q1" d="M3387 1044l4 5-3 7-5 1zm-5-2l5 2-4 13-5 1zm-5 4l5-4-4 16-4 1zm-5 8l5-8-3 13-5 2z"/><path class="q0" d="M3368 1062l4-8-3 7-5 2zm-5 4l5-4-4 1-5 1zm-86 16l5 5-4-1-5 1z"/><path class="q1" d="M3272 1069l5 13-4 5-4 0zm-4-14l4 14-3 18-5 0z"/><path class="q2" d="M3263 1049l5 6-4 32-5 1zm-5 9l5-9-4 39-5 2z"/><path class="q1" d="M3253 1074l5-16-4 32-4 2zm-5 16l5-16-3 18-5 2z"/><path class="q0" d="M3244 1097l4-7-3 4-5 2zm-86 18l5 4-4-2-5 1z"/><path class="q1" d="M3153 1106l5 9-4 3-4 1zm-5-10l5 10-3 13-5 1zm-4-4l4 4-3 24-5 1zm-5 7l5-7-4 29-5 1zm-5 12l5-12-4 23-5 2zm-5 12l5-12-4 13-4 2z"/><path class="q0" d="M3125 1129l4-6-3 3-5 2zm-91 18l5 3-4 0-5 1zm-5-4l5 4-4 4-4 1z"/><path class="q1" d="M3024 1142l5 1-3 9-5 1zm-4 3l4-3-3 11-5 2z"/><path class="q0" d="M3015 1152l5-7-4 10-5 1zm-5 5l5-5-4 4-4 2zm404-105l5 0-4-1-4 1zm-5 3l5-3-3 0-5 2zm-9-5l5 7-4-1-5-2z"/><path class="q1" d="M3395 1032l5 18-4 4-5-5z"/><path class="q2" d="M3390 1012l5 20-4 17-4-5z"/><path class="q3" d="M3386 1004l4 8-3 32-5-2zm-5 11l5-11-4 38-5 4z"/><path class="q2" d="M3376 1037l5-22-4 31-5 8z"/><path class="q1" d="M3371 1057l5-20-4 17-4 8z"/><path class="q0" d="M3367 1067l4-10-3 5-5 4zm-10 0l5 1-4-1-5 1zm-5 2l5-2-4 1-4 1zm-52 11l5 3-4-1-5 0zm-5 1l5-1-4 2-5 1zm-5 5l5-5-4 2-4 3z"/><path class="q1" d="M3281 1070l5 18-4-1-5-5z"/><path class="q3" d="M3276 1027l5 43-4 12-5-13z"/><path class="q5" d="M3271 980l5 47-4 42-4-14z"/><path class="q8" d="M3266 960l5 20-3 75-5-6zm-4 23l4-23-3 89-5 9z"/><path class="q5" d="M3257 1032l5-49-4 75-5 16z"/><path class="q3" d="M3252 1077l5-45-4 42-5 16z"/><path class="q1" d="M3247 1098l5-21-4 13-4 7z"/><path class="q0" d="M3238 1096l5 3-4-1-5 0zm-5 2l5-2-4 2-5 2zm-5 5l5-5-4 2-4 2zm-47 10l4 2-3-1-5 0zm-5 1l5-1-4 1-5 1zm-5 4l5-4-4 1-5 2z"/><path class="q1" d="M3162 1107l4 13-3-1-5-4z"/><path class="q2" d="M3157 1075l5 32-4 8-5-9z"/><path class="q4" d="M3152 1041l5 34-4 31-5-10z"/><path class="q6" d="M3147 1026l5 15-4 55-4-4zm-4 17l4-17-3 66-5 7z"/><path class="q4" d="M3138 1081l5-38-4 56-5 12z"/><path class="q2" d="M3133 1114l5-33-4 30-5 12z"/><path class="q1" d="M3128 1130l5-16-4 9-4 6z"/><path class="q0" d="M3119 1129l4 2-3-1-5 0zm-5 2l5-2-4 1-5 2zm-5 4l5-4-4 1-4 2zm-67 12l5 5-3-1-5-1z"/><path class="q1" d="M3038 1134l4 13-3 3-5-3z"/><path class="q2" d="M3033 1119l5 15-4 13-5-4zm-5-6l5 6-4 24-5-1zm-5 9l5-9-4 29-4 3zm-4 17l4-17-3 23-5 7z"/><path class="q1" d="M3014 1155l5-16-4 13-5 5z"/><path class="q0" d="M3009 1162l5-7-4 2-5 4zm-90 21l4 1-3-1-5 1zm-5-1l5 1-4 1-5 0zm-5 1l5-1-4 2-5 1zm-5 2l5-2-4 2-4 2zm-5 4l5-4-3 2-5 2zm-4 3l4-3-3 0-5 2zm528-140l4 1-3-1-5 0zm-5 0l5 0-4 0-5 0zm-5 4l5-4-4 0-5 3z"/><path class="q1" d="M3404 1045l4 13-3-1-5-7z"/><path class="q2" d="M3399 1013l5 32-4 5-5-18z"/><path class="q5" d="M3394 977l5 36-4 19-5-20z"/><path class="q7" d="M3389 962l5 15-4 35-4-8zm-5 18l5-18-3 42-5 11z"/><path class="q5" d="M3380 1018l4-38-3 35-5 22z"/><path class="q2" d="M3375 1052l5-34-4 19-5 20z"/><path class="q1" d="M3370 1068l5-16-4 5-4 10z"/><path class="q0" d="M3361 1067l4 2-3-1-5-1zm-5 2l5-2-4 0-5 2zm-5 4l5-4-4 0-5 3zm-28 5l4 3-3-2-5-1zm-5 3l5-3-4 0-5 2zm-5 3l5-3-4-1-5 3zm-10-6l5 6-3-1-5-3z"/><path class="q1" d="M3299 1078l4 0-3 2-5 1zm-5 8l5-8-4 3-5 5z"/><path class="q0" d="M3289 1088l5-2-4 0-4 2z"/><path class="q1" d="M3284 1056l5 32-3 0-5-18z"/><path class="q5" d="M3280 980l4 76-3 14-5-43z"/><path class="q11" d="M3275 897l5 83-4 47-5-47z"/><path class="q16" d="M3270 861l5 36-4 83-5-20zm-5 38l5-38-4 99-4 23z"/><path class="q11" d="M3261 985l4-86-3 84-5 49z"/><path class="q5" d="M3256 1063l5-78-4 47-5 45z"/><path class="q1" d="M3251 1099l5-36-4 14-5 21z"/><path class="q0" d="M3246 1099l5 0-4-1-4 1z"/><path class="q1" d="M3241 1093l5 6-3 0-5-3zm-4 3l4-3-3 3-5 2z"/><path class="q0" d="M3232 1104l5-8-4 2-5 5zm-10 2l5 1-3-1-5-1zm-4 0l4 0-3-1-5 1zm-5 5l5-5-4 0-5 3zm-10 0l5 1-4-1-4-1zm-4 2l4-2-3-1-5 2zm-15-1l5 4-4-1-4-2z"/><path class="q1" d="M3180 1112l4 0-3 1-5 1z"/><path class="q0" d="M3175 1119l5-7-4 2-5 4z"/><path class="q1" d="M3165 1097l5 24-4-1-4-13z"/><path class="q4" d="M3160 1041l5 56-3 10-5-32z"/><path class="q8" d="M3156 980l4 61-3 34-5-34z"/><path class="q12" d="M3151 953l5 27-4 61-5-15zm-5 29l5-29-4 73-4 17z"/><path class="q8" d="M3141 1046l5-64-3 61-5 38z"/><path class="q4" d="M3137 1104l4-58-3 35-5 33z"/><path class="q1" d="M3132 1131l5-27-4 10-5 16z"/><path class="q0" d="M3122 1127l5 4-4 0-4-2z"/><path class="q1" d="M3118 1130l4-3-3 2-5 2z"/><path class="q0" d="M3113 1136l5-6-4 1-5 4zm-14 3l4-1-3-1-5 1zm-5 4l5-4-4-1-5 3zm-29 4l5 1-4-1-4 0zm-5 1l5-1-3 0-5 1zm-4 4l4-4-3 0-5 3zm-10-9l5 10-4-1-5-5z"/><path class="q2" d="M3041 1119l5 24-4 4-4-13z"/><path class="q4" d="M3037 1093l4 26-3 15-5-15z"/><path class="q5" d="M3032 1082l5 11-4 26-5-6zm-5 13l5-13-4 31-5 9z"/><path class="q4" d="M3022 1124l5-29-4 27-4 17z"/><path class="q2" d="M3017 1151l5-27-3 15-5 16z"/><path class="q0" d="M3013 1164l4-13-3 4-5 7zm-10-1l5 1-4-1-4 0zm-5 2l5-2-3 0-5 2zm-4 4l4-4-3 0-5 2zm-72 14l5 2-4-1-4-1z"/><path class="q1" d="M2917 1180l5 3-3 0-5-1zm-4-1l4 1-3 2-5 1zm-5 3l5-3-4 4-5 2zm-5 6l5-6-4 3-5 4z"/><path class="q0" d="M2898 1193l5-5-4 1-4 3zm528-141l5 3-4-2-4-1zm-5 1l5-1-3 0-5 0zm-4 5l4-5-3-1-5 4z"/><path class="q1" d="M3407 1043l5 17-4-2-4-13z"/><path class="q3" d="M3402 1005l5 38-3 2-5-32z"/><path class="q7" d="M3398 963l4 42-3 8-5-36z"/><path class="q10" d="M3393 945l5 18-4 14-5-15zm-5 20l5-20-4 17-5 18z"/><path class="q7" d="M3383 1010l5-45-4 15-4 38z"/><path class="q3" d="M3379 1051l4-41-3 8-5 34z"/><path class="q1" d="M3374 1070l5-19-4 1-5 16z"/><path class="q0" d="M3364 1068l5 3-4-2-4-2zm-4 2l4-2-3-1-5 2zm-5 5l5-5-4-1-5 4zm-29 4l5 3-4-1-4-3zm-5 3l5-3-3-1-5 3zm-4 4l4-4-3-1-5 3zm-5-1l5 1-4-2-5 0z"/><path class="q1" d="M3307 1078l5 7-4-1-5-6zm-5-1l5 1-4 0-4 0zm-4 10l4-10-3 1-5 8z"/><path class="q0" d="M3293 1090l5-3-4-1-5 2z"/><path class="q2" d="M3288 1051l5 39-4-2-5-32z"/><path class="q8" d="M3283 961l5 90-4 5-4-76z"/><path class="q16" d="M3279 861l4 100-3 19-5-83z"/><path class="q22" d="M3274 818l5 43-4 36-5-36zm-5 46l5-46-4 43-5 38z"/><path class="q16" d="M3264 966l5-102-4 35-4 86z"/><path class="q8" d="M3259 1058l5-92-3 19-5 78z"/><path class="q2" d="M3255 1100l4-42-3 5-5 36z"/><path class="q0" d="M3250 1100l5 0-4-1-5 0z"/><path class="q1" d="M3245 1093l5 7-4-1-5-6zm-5 3l5-3-4 0-4 3zm-4 9l4-9-3 0-5 8z"/><path class="q0" d="M3231 1109l5-4-4-1-5 3zm-5-2l5 2-4-2-5-1zm-5 0l5 0-4-1-4 0zm-4 6l4-6-3-1-5 5zm-10-1l5 2-4-2-5-1zm-5 2l5-2-4-1-4 2zm-14-1l5 4-4-1-5-4z"/><path class="q1" d="M3183 1112l5 1-4-1-4 0zm-5 8l5-8-3 0-5 7z"/><path class="q0" d="M3174 1122l4-2-3-1-5 2z"/><path class="q1" d="M3169 1093l5 29-4-1-5-24z"/><path class="q6" d="M3164 1027l5 66-4 4-5-56z"/><path class="q12" d="M3159 953l5 74-4 14-4-61z"/><path class="q16" d="M3155 922l4 31-3 27-5-27zm-5 34l5-34-4 31-5 29z"/><path class="q12" d="M3145 1032l5-76-4 26-5 64z"/><path class="q6" d="M3140 1101l5-69-4 14-4 58z"/><path class="q1" d="M3136 1132l4-31-3 3-5 27z"/><path class="q0" d="M3131 1133l5-1-4-1-5 0z"/><path class="q1" d="M3126 1127l5 6-4-2-5-4zm-5 3l5-3-4 0-4 3z"/><path class="q0" d="M3116 1137l5-7-3 0-5 6zm-14 3l5 0-4-2-4 1zm-5 4l5-4-3-1-5 4zm-28 5l5 1-4-2-5-1zm-5 0l5 0-4-2-5 1zm-5 4l5-4-4-1-4 4z"/><path class="q1" d="M3050 1143l5 12-4-2-5-10z"/><path class="q2" d="M3045 1114l5 29-4 0-5-24z"/><path class="q5" d="M3040 1082l5 32-4 5-4-26z"/><path class="q7" d="M3035 1069l5 13-3 11-5-11zm-4 16l4-16-3 13-5 13z"/><path class="q5" d="M3026 1119l5-34-4 10-5 29z"/><path class="q2" d="M3021 1150l5-31-4 5-5 27z"/><path class="q1" d="M3016 1165l5-15-4 1-4 13z"/><path class="q0" d="M3007 1164l5 2-4-2-5-1zm-5 2l5-2-4-1-5 2zm-5 4l5-4-4-1-4 4zm-71 13l5 4-4-2-5-2z"/><path class="q1" d="M2921 1180l5 3-4 0-5-3zm-5-1l5 1-4 0-4-1zm-4 3l4-3-3 0-5 3zm-5 6l5-6-4 0-5 6z"/><path class="q0" d="M2902 1194l5-6-4 0-5 5zm528-139l5 1-4-1-5-3zm-5 0l5 0-4-3-5 1zm-5 5l5-5-4-2-4 5z"/><path class="q1" d="M3411 1048l5 13-4-1-5-17z"/><path class="q3" d="M3406 1016l5 32-4-5-5-38z"/><path class="q7" d="M3401 981l5 35-4-11-4-42z"/><path class="q10" d="M3397 966l4 15-3-18-5-18zm-5 17l5-17-4-21-5 20z"/><path class="q7" d="M3387 1021l5-38-4-18-5 45z"/><path class="q3" d="M3382 1056l5-35-4-11-4 41z"/><path class="q1" d="M3377 1072l5-16-3-5-5 19z"/><path class="q0" d="M3368 1070l5 2-4-1-5-3zm-5 3l5-3-4-2-4 2zm-5 4l5-4-3-3-5 5zm-28 4l5 3-4-2-5-3zm-5 3l5-3-4-2-5 3zm-5 4l5-4-4-2-4 4zm-4-1l4 1-3-2-5-1z"/><path class="q1" d="M3311 1082l5 5-4-2-5-7zm-5-1l5 1-4-4-5-1zm-5 9l5-9-4-4-4 10z"/><path class="q0" d="M3296 1092l5-2-3-3-5 3z"/><path class="q2" d="M3292 1059l4 33-3-2-5-39z"/><path class="q8" d="M3287 984l5 75-4-8-5-90z"/><path class="q16" d="M3282 900l5 84-4-23-4-100z"/><path class="q22" d="M3277 864l5 36-3-39-5-43zm-4 39l4-39-3-46-5 46z"/><path class="q16" d="M3268 989l5-86-4-39-5 102z"/><path class="q8" d="M3263 1067l5-78-4-23-5 92z"/><path class="q2" d="M3258 1102l5-35-4-9-4 42z"/><path class="q0" d="M3254 1102l4 0-3-2-5 0z"/><path class="q1" d="M3249 1096l5 6-4-2-5-7zm-5 3l5-3-4-3-5 3zm-5 8l5-8-4-3-4 9z"/><path class="q0" d="M3235 1110l4-3-3-2-5 4zm-5-1l5 1-4-1-5-2zm-5 0l5 0-4-2-5 0zm-5 5l5-5-4-2-4 6zm-9 0l4 2-3-2-5-2zm-5 2l5-2-4-2-5 2zm-14 0l4 3-3-2-5-4z"/><path class="q1" d="M3187 1115l5 1-4-3-5-1zm-5 7l5-7-4-3-5 8z"/><path class="q0" d="M3177 1124l5-2-4-2-4 2z"/><path class="q1" d="M3173 1100l4 24-3-2-5-29z"/><path class="q6" d="M3168 1044l5 56-4-7-5-66z"/><path class="q12" d="M3163 983l5 61-4-17-5-74z"/><path class="q16" d="M3158 956l5 27-4-30-4-31zm-5 29l5-29-3-34-5 34z"/><path class="q12" d="M3149 1050l4-65-3-29-5 76z"/><path class="q6" d="M3144 1108l5-58-4-18-5 69z"/><path class="q1" d="M3139 1134l5-26-4-7-4 31z"/><path class="q0" d="M3134 1135l5-1-3-2-5 1z"/><path class="q1" d="M3130 1131l4 4-3-2-5-6zm-5 2l5-2-4-4-5 3z"/><path class="q0" d="M3120 1139l5-6-4-3-5 7zm-14 3l5 0-4-2-5 0zm-5 4l5-4-4-2-5 4zm-29 5l5 1-3-2-5-1zm-4 0l4 0-3-2-5 0zm-5 4l5-4-4-2-5 4z"/><path class="q1" d="M3053 1147l5 10-3-2-5-12z"/><path class="q2" d="M3049 1123l4 24-3-4-5-29z"/><path class="q5" d="M3044 1096l5 27-4-9-5-32z"/><path class="q7" d="M3039 1085l5 11-4-14-5-13zm-5 14l5-14-4-16-4 16z"/><path class="q5" d="M3030 1128l4-29-3-14-5 34z"/><path class="q2" d="M3025 1154l5-26-4-9-5 31z"/><path class="q1" d="M3020 1167l5-13-4-4-5 15z"/><path class="q0" d="M3011 1167l4 1-3-2-5-2zm-5 2l5-2-4-3-5 2zm-5 3l5-3-4-3-5 4zm-72 14l5 3-3-2-5-4z"/><path class="q1" d="M2925 1183l4 3-3-3-5-3zm-5 0l5 0-4-3-5-1zm-5 3l5-3-4-4-4 3zm-5 5l5-5-3-4-5 6z"/><path class="q0" d="M2906 1196l4-5-3-3-5 6zm528-138l4 0-3-2-5-1zm-5 1l5-1-4-3-5 0zm-5 3l5-3-4-4-5 5z"/><path class="q1" d="M3415 1056l4 8-3-3-5-13z"/><path class="q2" d="M3410 1039l5 17-4-8-5-32z"/><path class="q5" d="M3405 1019l5 20-4-23-5-35z"/><path class="q7" d="M3400 1011l5 8-4-38-4-15zm-5 11l5-11-3-45-5 17z"/><path class="q5" d="M3391 1044l4-22-3-39-5 38z"/><path class="q2" d="M3386 1064l5-20-4-23-5 35z"/><path class="q1" d="M3381 1074l5-10-4-8-5 16z"/><path class="q0" d="M3372 1074l4 1-3-3-5-2zm-5 2l5-2-4-4-5 3zm-5 3l5-3-4-3-5 4zm-29 6l5 1-3-2-5-3zm-4 2l4-2-3-4-5 3zm-5 2l5-2-4-3-5 4zm-10-2l5 2-3-2-5-5z"/><path class="q1" d="M3310 1087l4 0-3-5-5-1zm-5 6l5-6-4-6-5 9z"/><path class="q0" d="M3300 1094l5-1-4-3-5 2z"/><path class="q1" d="M3295 1076l5 18-4-2-4-33z"/><path class="q5" d="M3291 1034l4 42-3-17-5-75z"/><path class="q11" d="M3286 987l5 47-4-50-5-84z"/><path class="q16" d="M3281 967l5 20-4-87-5-36zm-5 22l5-22-4-103-4 39z"/><path class="q11" d="M3272 1039l4-50-3-86-5 86z"/><path class="q5" d="M3267 1084l5-45-4-50-5 78z"/><path class="q1" d="M3262 1105l5-21-4-17-5 35z"/><path class="q0" d="M3257 1105l5 0-4-3-4 0z"/><path class="q1" d="M3252 1102l5 3-3-3-5-6zm-4 3l4-3-3-6-5 3z"/><path class="q0" d="M3243 1110l5-5-4-6-5 8zm-10 2l5 0-3-2-5-1zm-4 1l4-1-3-3-5 0zm-5 3l5-3-4-4-5 5zm-10 1l5 0-4-1-4-2zm-4 2l4-2-3-3-5 2zm-15 1l5 1-4-2-4-3z"/><path class="q1" d="M3191 1120l4 0-3-4-5-1z"/><path class="q0" d="M3186 1125l5-5-4-5-5 7z"/><path class="q1" d="M3176 1113l5 13-4-2-4-24z"/><path class="q4" d="M3171 1082l5 31-3-13-5-56z"/><path class="q8" d="M3167 1047l4 35-3-38-5-61z"/><path class="q12" d="M3162 1033l5 14-4-64-5-27zm-5 17l5-17-4-77-5 29z"/><path class="q8" d="M3152 1087l5-37-4-65-4 65z"/><path class="q4" d="M3148 1121l4-34-3-37-5 58z"/><path class="q1" d="M3143 1137l5-16-4-13-5 26z"/><path class="q0" d="M3133 1136l5 1-4-2-4-4z"/><path class="q1" d="M3129 1138l4-2-3-5-5 2z"/><path class="q0" d="M3124 1142l5-4-4-5-5 6zm-15 3l5-1-3-2-5 0zm-4 3l4-3-3-3-5 4zm-29 6l5 0-4-2-5-1zm-5 1l5-1-4-3-4 0zm-4 2l4-2-3-4-5 4zm-10-3l5 5-4-2-5-10z"/><path class="q2" d="M3052 1140l5 14-4-7-4-24z"/><path class="q4" d="M3048 1126l4 14-3-17-5-27z"/><path class="q5" d="M3043 1120l5 6-4-30-5-11zm-5 8l5-8-4-35-5 14z"/><path class="q4" d="M3033 1145l5-17-4-29-4 29z"/><path class="q2" d="M3028 1161l5-16-3-17-5 26z"/><path class="q0" d="M3024 1169l4-8-3-7-5 13zm-10 1l5 0-4-2-4-1zm-5 1l5-1-3-3-5 2zm-4 3l4-3-3-2-5 3zm-72 16l5 1-4-2-5-3z"/><path class="q1" d="M2928 1189l5 1-4-4-4-3zm-4 0l4 0-3-6-5 0zm-5 3l5-3-4-6-5 3zm-5 3l5-3-4-6-5 5z"/><path class="q0" d="M2909 1199l5-4-4-4-4 5zm523-137l5-1-3-3-5 1zm-4 2l4-2-3-3-5 3zm-10 0l5 2-4-2-4-8z"/><path class="q1" d="M3413 1059l5 5-3-8-5-17z"/><path class="q2" d="M3409 1054l4 5-3-20-5-20z"/><path class="q3" d="M3404 1052l5 2-4-35-5-8zm-5 4l5-4-4-41-5 11z"/><path class="q2" d="M3394 1064l5-8-4-34-4 22z"/><path class="q1" d="M3390 1072l4-8-3-20-5 20z"/><path class="q0" d="M3385 1076l5-4-4-8-5 10zm-10 2l5-1-4-2-4-1zm-4 1l4-1-3-4-5 2zm-53 13l5 0-4-3-5-2zm-5 1l5-1-4-5-4 0zm-4 3l4-3-3-6-5 6z"/><path class="q1" d="M3299 1092l5 5-4-3-5-18z"/><path class="q3" d="M3294 1079l5 13-4-16-4-42z"/><path class="q5" d="M3289 1065l5 14-3-45-5-47z"/><path class="q8" d="M3285 1059l4 6-3-78-5-20zm-5 8l5-8-4-92-5 22z"/><path class="q5" d="M3275 1084l5-17-4-78-4 50z"/><path class="q3" d="M3270 1100l5-16-3-45-5 45z"/><path class="q1" d="M3266 1107l4-7-3-16-5 21z"/><path class="q0" d="M3256 1108l5 0-4-3-5-3zm-5 2l5-2-4-6-4 3zm-4 2l4-2-3-5-5 5zm-48 12l5 0-4-3-5-1zm-5 1l5-1-4-4-4 0zm-5 2l5-2-3-5-5 5z"/><path class="q1" d="M3180 1125l5 4-4-3-5-13z"/><path class="q2" d="M3175 1116l5 9-4-12-5-31z"/><path class="q4" d="M3170 1106l5 10-4-34-4-35z"/><path class="q6" d="M3166 1102l4 4-3-59-5-14zm-5 7l5-7-4-69-5 17z"/><path class="q4" d="M3156 1121l5-12-4-59-5 37z"/><path class="q2" d="M3151 1133l5-12-4-34-4 34z"/><path class="q1" d="M3147 1139l4-6-3-12-5 16z"/><path class="q0" d="M3137 1140l5 0-4-3-5-1zm-5 2l5-2-4-4-4 2zm-5 2l5-2-3-4-5 4zm-66 16l4 1-3-2-5-5z"/><path class="q1" d="M3056 1156l5 4-4-6-5-14z"/><path class="q2" d="M3051 1153l5 3-4-16-4-14zm-5-1l5 1-3-27-5-6zm-4 3l4-3-3-32-5 8zm-5 7l5-7-4-27-5 17z"/><path class="q1" d="M3032 1167l5-5-4-17-5 16z"/><path class="q0" d="M3027 1171l5-4-4-6-4 8zm-90 23l5-1-4-2-5-1zm-5 0l5 0-4-4-5-1zm-5 1l5-1-4-5-4 0zm-4 2l4-2-3-6-5 3zm-5 2l5-2-4-5-5 3zm-5 2l5-2-4-4-5 4zm509-133l5-1-4-1-5-2zm-5 1l5-1-4-4-5-5z"/><path class="q1" d="M3412 1070l5-1-4-10-4-5zm-4 1l4-1-3-16-5-2zm-5 2l5-2-4-19-5 4zm-5 1l5-1-4-17-5 8z"/><path class="q0" d="M3393 1076l5-2-4-10-4 8zm-5 2l5-2-3-4-5 4zm-85 22l4-1-3-2-5-5z"/><path class="q1" d="M3298 1100l5 0-4-8-5-13zm-5 1l5-1-4-21-5-14z"/><path class="q2" d="M3288 1101l5 0-4-36-4-6zm-4 2l4-2-3-42-5 8z"/><path class="q1" d="M3279 1105l5-2-4-36-5 17zm-5 3l5-3-4-21-5 16z"/><path class="q0" d="M3269 1109l5-1-4-8-4 7zm-85 23l4-1-3-2-5-4z"/><path class="q1" d="M3179 1132l5 0-4-7-5-9zm-5 1l5-1-4-16-5-10zm-5 1l5-1-4-27-4-4zm-5 1l5-1-3-32-5 7zm-4 2l4-2-3-26-5 12zm-5 2l5-2-4-16-5 12z"/><path class="q0" d="M3150 1141l5-2-4-6-4 6zm-90 24l4-1-3-4-5-4zm-5 0l5 0-4-9-5-3z"/><path class="q1" d="M3050 1167l5-2-4-12-5-1zm-5 1l5-1-4-15-4 3z"/><path class="q0" d="M3041 1170l4-2-3-13-5 7zm-5 1l5-1-4-8-5 5zm261-70l5 0-4-1-5 1zm-5 1l5-1-4 0-5 0zm-5 2l5-2-4-1-4 2zm-5 2l5-2-3-1-5 2zm-109 29l5-1-4-1-5 1zm-5 1l5-1-4-1-5 1zm256-65l5 0-4-1-4 1zm-4-1l4 1-3 0-5 0zm-5 0l5 0-4 1-5 1zm-5 2l5-2-4 2-5 2zm-5 4l5-4-4 2-4 2zm-4 3l4-3-3 0-5 2zm-96 20l5 3-4-1-4 0z"/><path class="q1" d="M3300 1096l5 3-3 2-5 0zm-4-1l4 1-3 5-5 1zm-5 3l5-3-4 7-5 2zm-5 6l5-6-4 6-5 2z"/><path class="q0" d="M3281 1109l5-5-4 2-4 3zm-95 23l5 2-4-1-5 1zm-5-2l5 2-4 2-4 0z"/><path class="q1" d="M3177 1130l4 0-3 4-5 1zm-5 3l5-3-4 5-5 1z"/><path class="q0" d="M3167 1137l5-4-4 3-5 3zm-5 4l5-4-4 2-4 2zm-100 25l5 0-4 0-5 1zm-5 1l5-1-4 1-4 1zm-4 2l4-2-3 1-5 1zm-5 2l5-2-4 0-5 2zm380-98l5 0-4-2-5 0zm-5-1l5 1-4-2-4-1zm-5 1l5-1-3-2-5 0zm-4 2l4-2-3-3-5 2zm-5 3l5-3-4-3-5 4zm-5 3l5-3-4-2-4 3zm-95 21l5 2-4-2-5-3z"/><path class="q1" d="M3304 1099l5 3-4-3-5-3zm-5 0l5 0-4-3-4-1zm-4 3l4-3-3-4-5 3zm-5 5l5-5-4-4-5 6z"/><path class="q0" d="M3285 1111l5-4-4-3-5 5zm-95 24l4 1-3-2-5-2z"/><path class="q1" d="M3185 1133l5 2-4-3-5-2zm-5 0l5 0-4-3-4 0zm-5 3l5-3-3-3-5 3zm-4 4l4-4-3-3-5 4z"/><path class="q0" d="M3166 1143l5-3-4-3-5 4zm-100 25l5 0-4-2-5 0zm-5 1l5-1-4-2-5 1zm-5 2l5-2-4-2-4 2zm-4 2l4-2-3-2-5 2zm375-96l5-1-4-3-5-1zm-5 1l5-1-4-5-5 1zm-5 1l5-1-4-5-4 2zm-4 2l4-2-3-4-5 3zm-100 26l4 0-3-3-5-2zm-5 0l5 0-4-5-5-3z"/><path class="q1" d="M3303 1108l5-1-4-8-5 0zm-5 2l5-2-4-9-4 3z"/><path class="q0" d="M3293 1112l5-2-3-8-5 5zm-4 2l4-2-3-5-5 4zm-96 25l5-1-4-2-4-1zm-4 1l4-1-3-4-5-2zm-5 1l5-1-4-7-5 0zm-5 1l5-1-4-8-5 3zm-5 2l5-2-4-6-4 4zm-4 2l4-2-3-4-5 3zm-101 26l5-1-3-3-5 0zm-4 1l4-1-3-4-5 1zm-5 2l5-2-4-4-5 2zm-5 1l5-1-4-4-4 2zm252-64l4-1-3-4-5 1zm-5 2l5-2-4-4-5 2zm13-4l5 0-4 0-5 1zm-5 1l5-1-4 1-4 1zm-4 2l4-2-3 1-5 2zm-5 2l5-2-4 1-5 1zm18-4l4 0-3-1-5 0zm-5 0l5 0-4-1-5 1zm-5 2l5-2-4 0-4 2zm-5 3l5-3-3 0-5 2zm-104 27l4 0-3-1-5 1zm-5 1l5-1-4 0-5 0zm-5 2l5-2-4-1-5 2zm-5 2l5-2-4-1-4 2zm137-32l5-1-4-4-4 0zm-4 1l4-1-3-5-5 0zm-5 2l5-2-4-6-5 2zm-5 1l5-1-4-6-5 3zm-105 28l5-1-4-4-4 0zm-5 1l5-1-3-5-5 1zm-4 1l4-1-3-5-5 2zm-5 2l5-2-4-4-5 2zm141-35l4 0-3-1-5 2zm-5 1l5-1-4 1-5 1zm-5 1l5-1-4 1-4 1zm-5 3l5-3-3 1-5 2zm18-3l5 0-4-2-4 0zm-4 1l4-1-3-2-5 1zm-5 2l5-2-4-2-5 1zm-5 2l5-2-4-3-5 3zm149-33l5 0-4-1-4 1zm-5-1l5 1-3 0-5 1zm-4 1l4-1-3 2-5 1zm-5 2l5-2-4 2-5 1zm-5 3l5-3-4 1-4 2zm-5 3l5-3-3 0-5 2zm-95 22l5 1-4 0-5 0zm-5-1l5 1-4 1-4 1zm-4 0l4 0-3 3-5 1zm-5 3l5-3-4 4-5 1zm-5 4l5-4-4 2-5 2zm-5 3l5-3-4 0-4 2zm-100 25l5 0-4-1-4 1zm-5 1l5-1-3 0-5 2zm-4 2l4-2-3 1-5 1zm-5 2l5-2-4 0-5 1zm261-68l5 1-4-2-5 0zm-5-1l5 1-4-1-5-1zm-5 0l5 0-4-1-4 1zm-4 2l4-2-3 0-5 2zm-5 4l5-4-4 0-5 3zm-5 3l5-3-4-1-5 3zm-95 22l5 2-4-2-5-1zm-5-1l5 1-4-1-5-1z"/><path class="q1" d="M3343 1121l5 0-4-1-4 0zm-5 2l5-2-3-1-5 3z"/><path class="q0" d="M3334 1127l4-4-3 0-5 4zm-5 4l5-4-4 0-5 3zm-100 25l5 0-4-1-5 0zm-5 1l5-1-4-1-5 1zm-5 2l5-2-4-1-4 2zm-4 2l4-2-3-1-5 2zm-110 29l5-1-4-2-5 1zm-5 1l5-1-4-2-5 2zm376-96l4 0-3-2-5-1zm-5 1l5-1-4-3-5-1zm-5 1l5-1-4-5-5 0zm-5 2l5-2-4-6-4 2zm-5 2l5-2-3-6-5 4zm-4 1l4-1-3-4-5 3zm-96 25l5-1-3-2-5-2zm-4 0l4 0-3-5-5-1zm-5 1l5-1-4-6-5 0zm-5 2l5-2-4-7-5 2zm-5 2l5-2-4-7-4 4zm-4 2l4-2-3-5-5 4zm-101 26l5-1-3-3-5 0zm-4 1l4-1-3-4-5 1zm-5 2l5-2-4-4-5 2zm-5 1l5-1-4-4-4 2zm-109 29l4-1-3-3-5 1zm-5 2l5-2-4-3-5 1zm247-65l4-1-3-2-5 1zm-5 2l5-2-4-2-5 2zm142-37l4 2-3-2-5 2zm-5-6l5 6-4 2-5 0z"/><path class="q1" d="M3478 1083l5 6-4 8-5 1zm-5-2l5 2-4 15-4 1zm-4 5l4-5-3 18-5 2zm-5 9l5-9-4 15-5 1z"/><path class="q0" d="M3459 1103l5-8-4 7-5 2zm-5 4l5-4-4 1-4 2zm-86 19l5 3-3-2-5 1zm-4-8l4 8-3 2-5 1z"/><path class="q1" d="M3359 1108l5 10-4 11-5 0zm-5-3l5 3-4 21-4 1zm-5 6l5-6-3 25-5 2zm-4 12l4-12-3 21-5 2z"/><path class="q0" d="M3340 1133l5-10-4 11-5 2zm-5 6l5-6-4 3-5 1zm-90 18l4 3-3 0-5 1zm-5-4l5 4-4 4-5 1z"/><path class="q1" d="M3235 1152l5 1-4 9-5 1zm-5 4l5-4-4 11-4 1z"/><path class="q0" d="M3226 1162l4-6-3 8-5 2zm-5 5l5-5-4 4-5 2zm-96 23l5 2-3 0-5 1zm-4-2l4 2-3 3-5 1zm-5 0l5 0-4 6-5 1zm-5 3l5-3-4 7-5 1zm-5 4l5-4-4 5-4 2zm-4 5l4-5-3 3-5 1zm408-107l5 0-4-1-4 1zm-4 0l4 0-3 0-5 1zm-5 4l5-4-4 1-5 2zm-10-7l5 8-4-1-4-2z"/><path class="q1" d="M3487 1069l4 21-3 5-5-6z"/><path class="q3" d="M3482 1047l5 22-4 20-5-6z"/><path class="q4" d="M3477 1037l5 10-4 36-5-2zm-5 12l5-12-4 44-4 5z"/><path class="q3" d="M3467 1075l5-26-3 37-5 9z"/><path class="q1" d="M3463 1097l4-22-3 20-5 8z"/><path class="q0" d="M3458 1108l5-11-4 6-5 4zm-10 0l5 1-3-1-5 1zm-4 2l4-2-3 1-5 1zm-5 3l5-3-4 0-5 2zm-48 10l5 2-4-1-4 0zm-5 1l5-1-3 1-5 1zm-4 4l4-4-3 1-5 2zm-10-10l5 12-4-1-5-3z"/><path class="q2" d="M3367 1090l5 28-4 8-4-8z"/><path class="q4" d="M3363 1059l4 31-3 28-5-10z"/><path class="q5" d="M3358 1046l5 13-4 49-5-3zm-5 15l5-15-4 59-5 6z"/><path class="q4" d="M3348 1095l5-34-4 50-4 12z"/><path class="q2" d="M3344 1125l4-30-3 28-5 10z"/><path class="q0" d="M3339 1140l5-15-4 8-5 6zm-10-1l5 2-4-1-4 0zm-5 2l5-2-3 1-5 2zm-4 4l4-4-3 1-5 2zm-67 12l5 5-4-2-5 0z"/><path class="q1" d="M3248 1145l5 12-4 3-4-3z"/><path class="q2" d="M3243 1131l5 14-3 12-5-4zm-4-5l4 5-3 22-5-1zm-5 8l5-8-4 26-5 4zm-5 16l5-16-4 22-4 6z"/><path class="q1" d="M3224 1165l5-15-3 12-5 5z"/><path class="q0" d="M3220 1172l4-7-3 2-5 4zm-86 19l5 3-4-2-5 0z"/><path class="q1" d="M3129 1182l5 9-4 1-5-2zm-5-9l5 9-4 8-4-2z"/><path class="q2" d="M3120 1170l4 3-3 15-5 0zm-5 6l5-6-4 18-5 3z"/><path class="q1" d="M3110 1187l5-11-4 15-5 4zm-5 11l5-11-4 8-4 5z"/><path class="q0" d="M3100 1204l5-6-3 2-5 2zm-90 21l5 1-4-1-5 0zm-5-1l5 1-4 0-5 1zm-5 0l5 0-4 2-4 1zm-4 2l4-2-3 3-5 1zm-5 4l5-4-4 2-5 2zm-5 3l5-3-4 0-5 2zm528-141l5 2-4-1-5 0zm-5 1l5-1-4 1-4 0zm-5 5l5-5-3 0-5 4z"/><path class="q1" d="M3495 1084l5 15-4-1-5-8z"/><path class="q3" d="M3490 1047l5 37-4 6-4-21z"/><path class="q6" d="M3485 1006l5 41-3 22-5-22z"/><path class="q8" d="M3481 989l4 17-3 41-5-10zm-5 20l5-20-4 48-5 12z"/><path class="q6" d="M3471 1052l5-43-4 40-5 26z"/><path class="q3" d="M3466 1091l5-39-4 23-4 22z"/><path class="q1" d="M3462 1109l4-18-3 6-5 11z"/><path class="q0" d="M3452 1108l5 2-4-1-5-1zm-5 2l5-2-4 0-4 2zm-4 5l4-5-3 0-5 3zm-29 6l5 1-4-2-5 0zm-5 2l5-2-4-1-5 2zm-14 0l5 3-4-1-5-2zm-5 0l5 0-4 0-5 1zm-5 6l5-6-4 1-4 4z"/><path class="q1" d="M3376 1109l5 22-4-1-5-12z"/><path class="q4" d="M3371 1059l5 50-4 9-5-28z"/><path class="q8" d="M3366 1003l5 56-4 31-4-31z"/><path class="q11" d="M3361 980l5 23-3 56-5-13zm-4 26l4-26-3 66-5 15z"/><path class="q8" d="M3352 1064l5-58-4 55-5 34z"/><path class="q4" d="M3347 1117l5-53-4 31-4 30z"/><path class="q1" d="M3342 1141l5-24-3 8-5 15z"/><path class="q0" d="M3333 1138l5 3-4 0-5-2zm-5 2l5-2-4 1-5 2zm-5 6l5-6-4 1-4 4zm-14 3l5-1-4-1-5 1zm-5 3l5-3-4-1-4 3zm-28 5l4 1-3-1-5 0zm-5 1l5-1-4 0-5 1zm-5 4l5-4-4 0-4 2zm-9-8l4 9-3-1-5-5z"/><path class="q2" d="M3252 1131l5 23-4 3-5-12z"/><path class="q3" d="M3247 1106l5 25-4 14-5-14z"/><path class="q5" d="M3242 1096l5 10-4 25-4-5zm-4 13l4-13-3 30-5 8z"/><path class="q3" d="M3233 1137l5-28-4 25-5 16z"/><path class="q2" d="M3228 1161l5-24-4 13-5 15z"/><path class="q0" d="M3223 1173l5-12-4 4-4 7zm-9 0l5 1-4-1-5 0zm-5 2l5-2-4 0-5 2zm-5 3l5-3-4 0-4 2zm-67 11l5 6-3-1-5-3z"/><path class="q1" d="M3133 1174l4 15-3 2-5-9z"/><path class="q2" d="M3128 1157l5 17-4 8-5-9z"/><path class="q3" d="M3123 1150l5 7-4 16-4-3zm-5 9l5-9-3 20-5 6z"/><path class="q2" d="M3114 1179l4-20-3 17-5 11z"/><path class="q1" d="M3109 1197l5-18-4 8-5 11z"/><path class="q0" d="M3104 1205l5-8-4 1-5 6zm-90 19l4 3-3-1-5-1z"/><path class="q1" d="M3009 1221l5 3-4 1-5-1zm-5 0l5 0-4 3-5 0zm-5 3l5-3-4 3-4 2zm-4 5l4-5-3 2-5 4z"/><path class="q0" d="M2990 1234l5-5-4 1-5 3zm528-141l4 3-3-2-5-2zm-5 0l5 0-4-1-5 1zm-5 6l5-6-4 0-5 5z"/><path class="q1" d="M3499 1082l4 19-3-2-5-15z"/><path class="q4" d="M3494 1038l5 44-4 2-5-37z"/><path class="q8" d="M3489 990l5 48-4 9-5-41z"/><path class="q11" d="M3484 969l5 21-4 16-4-17zm-4 23l4-23-3 20-5 20z"/><path class="q8" d="M3475 1043l5-51-4 17-5 43z"/><path class="q4" d="M3470 1090l5-47-4 9-5 39z"/><path class="q1" d="M3465 1111l5-21-4 1-4 18z"/><path class="q0" d="M3456 1109l4 3-3-2-5-2zm-5 2l5-2-4-1-5 2zm-5 5l5-5-4-1-4 5zm-28 6l4 2-3-2-5-1zm-5 2l5-2-4-1-5 2zm-14-1l4 4-3-1-5-3z"/><path class="q1" d="M3394 1123l5 0-4 0-5 0z"/><path class="q0" d="M3389 1130l5-7-4 0-5 6zm-5 2l5-2-4-1-4 2z"/><path class="q1" d="M3379 1106l5 26-3-1-5-22z"/><path class="q5" d="M3375 1046l4 60-3 3-5-50z"/><path class="q11" d="M3370 980l5 66-4 13-5-56z"/><path class="q15" d="M3365 952l5 28-4 23-5-23zm-5 31l5-31-4 28-4 26z"/><path class="q11" d="M3356 1051l4-68-3 23-5 58z"/><path class="q5" d="M3351 1114l5-63-4 13-5 53z"/><path class="q1" d="M3346 1142l5-28-4 3-5 24z"/><path class="q0" d="M3341 1143l5-1-4-1-4 0zm-4-5l4 5-3-2-5-3z"/><path class="q1" d="M3332 1141l5-3-4 0-5 2z"/><path class="q0" d="M3327 1147l5-6-4-1-5 6zm-14 3l4-1-3-1-5 1zm-5 4l5-4-4-1-5 3zm-29 4l5 2-4-2-4-1zm-4 1l4-1-3-1-5 1zm-5 4l5-4-4-1-5 4z"/><path class="q1" d="M3260 1153l5 12-4-2-4-9z"/><path class="q2" d="M3256 1127l4 26-3 1-5-23z"/><path class="q5" d="M3251 1097l5 30-4 4-5-25z"/><path class="q7" d="M3246 1084l5 13-4 9-5-10zm-5 15l5-15-4 12-4 13z"/><path class="q5" d="M3236 1132l5-33-3 10-5 28z"/><path class="q2" d="M3232 1161l4-29-3 5-5 24z"/><path class="q1" d="M3227 1175l5-14-4 0-5 12z"/><path class="q0" d="M3217 1174l5 2-3-2-5-1zm-4 2l4-2-3-1-5 2zm-5 4l5-4-4-1-5 3zm-53 12l5-1-3-1-5 1zm-4 3l4-3-3-1-5 3zm-10-6l5 8-4-2-5-6z"/><path class="q2" d="M3136 1171l5 18-4 0-4-15z"/><path class="q3" d="M3132 1150l4 21-3 3-5-17z"/><path class="q5" d="M3127 1142l5 8-4 7-5-7zm-5 11l5-11-4 8-5 9z"/><path class="q3" d="M3117 1176l5-23-4 6-4 20z"/><path class="q2" d="M3113 1197l4-21-3 3-5 18z"/><path class="q0" d="M3108 1207l5-10-4 0-5 8zm-10 0l5 1-4-2-4 0zm-5 2l5-2-3-1-5 2zm-76 16l5 3-4-1-4-3z"/><path class="q1" d="M3012 1221l5 4-3-1-5-3zm-4-1l4 1-3 0-5 0zm-5 4l5-4-4 1-5 3zm-5 6l5-6-4 0-4 5z"/><path class="q0" d="M2993 1236l5-6-3-1-5 5zm528-140l5 2-4-2-4-3zm-4 0l4 0-3-3-5 0zm-5 5l5-5-4-3-5 6z"/><path class="q1" d="M3502 1087l5 16-4-2-4-19z"/><path class="q4" d="M3497 1050l5 37-3-5-5-44z"/><path class="q8" d="M3493 1010l4 40-3-12-5-48z"/><path class="q11" d="M3488 993l5 17-4-20-5-21zm-5 19l5-19-4-24-4 23z"/><path class="q8" d="M3478 1056l5-44-3-20-5 51z"/><path class="q4" d="M3474 1095l4-39-3-13-5 47z"/><path class="q1" d="M3469 1113l5-18-4-5-5 21z"/><path class="q0" d="M3459 1111l5 3-4-2-4-3zm-4 2l4-2-3-2-5 2zm-5 5l5-5-4-2-5 5zm-29 6l5 1-4-1-4-2zm-5 2l5-2-3-2-5 2zm-14 0l5 3-4-2-4-4z"/><path class="q1" d="M3397 1126l5 0-3-3-5 0z"/><path class="q0" d="M3393 1132l4-6-3-3-5 7zm-5 2l5-2-4-2-5 2z"/><path class="q1" d="M3383 1112l5 22-4-2-5-26z"/><path class="q5" d="M3378 1062l5 50-4-6-4-60z"/><path class="q11" d="M3374 1007l4 55-3-16-5-66z"/><path class="q15" d="M3369 983l5 24-4-27-5-28zm-5 26l5-26-4-31-5 31z"/><path class="q11" d="M3359 1067l5-58-4-26-4 68z"/><path class="q5" d="M3355 1120l4-53-3-16-5 63z"/><path class="q1" d="M3350 1144l5-24-4-6-5 28z"/><path class="q0" d="M3345 1145l5-1-4-2-5 1zm-5-4l5 4-4-2-4-5z"/><path class="q1" d="M3335 1144l5-3-3-3-5 3z"/><path class="q0" d="M3331 1149l4-5-3-3-5 6zm-15 3l5-1-4-2-4 1zm-4 4l4-4-3-2-5 4zm-29 5l5 0-4-1-5-2zm-5 0l5 0-4-3-4 1zm-5 4l5-4-3-2-5 4z"/><path class="q1" d="M3264 1157l5 9-4-1-5-12z"/><path class="q2" d="M3259 1135l5 22-4-4-4-26z"/><path class="q5" d="M3254 1110l5 25-3-8-5-30z"/><path class="q7" d="M3250 1100l4 10-3-13-5-13zm-5 12l5-12-4-16-5 15z"/><path class="q5" d="M3240 1140l5-28-4-13-5 33z"/><path class="q2" d="M3235 1165l5-25-4-8-4 29z"/><path class="q1" d="M3231 1177l4-12-3-4-5 14z"/><path class="q0" d="M3221 1177l5 1-4-2-5-2zm-5 1l5-1-4-3-4 2zm-4 4l4-4-3-2-5 4zm-53 12l5-1-4-2-5 1zm-5 3l5-3-4-2-4 3zm-9-5l5 6-4-1-5-8z"/><path class="q2" d="M3140 1177l5 15-4-3-5-18z"/><path class="q3" d="M3135 1160l5 17-4-6-4-21z"/><path class="q5" d="M3131 1153l4 7-3-10-5-8zm-5 9l5-9-4-11-5 11z"/><path class="q3" d="M3121 1182l5-20-4-9-5 23z"/><path class="q2" d="M3116 1200l5-18-4-6-4 21z"/><path class="q0" d="M3111 1208l5-8-3-3-5 10zm-9 1l5 1-4-2-5-1zm-5 2l5-2-4-2-5 2zm-76 16l5 3-4-2-5-3z"/><path class="q1" d="M3016 1225l5 2-4-2-5-4zm-5-1l5 1-4-4-4-1zm-4 3l4-3-3-4-5 4zm-5 6l5-6-4-3-5 6z"/><path class="q0" d="M2997 1238l5-5-4-3-5 6zm528-139l5 1-4-2-5-2zm-5 1l5-1-4-3-4 0zm-5 3l5-3-3-4-5 5z"/><path class="q1" d="M3506 1096l5 9-4-2-5-16z"/><path class="q3" d="M3501 1076l5 20-4-9-5-37z"/><path class="q6" d="M3496 1053l5 23-4-26-4-40z"/><path class="q8" d="M3492 1044l4 9-3-43-5-17zm-5 12l5-12-4-51-5 19z"/><path class="q6" d="M3482 1081l5-25-4-44-5 44z"/><path class="q3" d="M3477 1104l5-23-4-25-4 39z"/><path class="q1" d="M3473 1115l4-11-3-9-5 18z"/><path class="q0" d="M3463 1115l5 1-4-2-5-3zm-5 2l5-2-4-4-4 2zm-5 3l5-3-3-4-5 5zm-28 7l5 0-4-2-5-1zm-5 2l5-2-4-3-5 2zm-14 1l5 1-4-2-5-3zm-5 1l5-1-4-4-5 0zm-5 4l5-4-4-5-4 6z"/><path class="q1" d="M3387 1125l5 11-4-2-5-22z"/><path class="q4" d="M3382 1096l5 29-4-13-5-50z"/><path class="q8" d="M3377 1065l5 31-4-34-4-55z"/><path class="q11" d="M3372 1052l5 13-3-58-5-24zm-4 16l4-16-3-69-5 26z"/><path class="q8" d="M3363 1102l5-34-4-59-5 58z"/><path class="q4" d="M3358 1132l5-30-4-35-4 53z"/><path class="q1" d="M3353 1146l5-14-3-12-5 24z"/><path class="q0" d="M3344 1146l5 1-4-2-5-4zm-5 2l5-2-4-5-5 3zm-5 4l5-4-4-4-4 5zm-14 3l5-1-4-3-5 1zm-5 2l5-2-4-3-4 4zm-28 6l4 0-3-2-5 0zm-5 1l5-1-4-2-5 0zm-5 3l5-3-4-3-5 4zm-9-3l4 4-3-2-5-9z"/><path class="q2" d="M3263 1151l5 13-4-7-5-22z"/><path class="q3" d="M3258 1138l5 13-4-16-5-25z"/><path class="q5" d="M3253 1132l5 6-4-28-4-10zm-4 8l4-8-3-32-5 12z"/><path class="q3" d="M3244 1156l5-16-4-28-5 28z"/><path class="q2" d="M3239 1171l5-15-4-16-5 25z"/><path class="q0" d="M3234 1179l5-8-4-6-4 12zm-9 1l4 0-3-2-5-1zm-5 1l5-1-4-3-5 1zm-5 3l5-3-4-3-4 4zm-67 13l5 3-3-2-5-6z"/><path class="q1" d="M3144 1189l4 8-3-5-5-15z"/><path class="q2" d="M3139 1180l5 9-4-12-5-17z"/><path class="q3" d="M3134 1176l5 4-4-20-4-7zm-5 6l5-6-3-23-5 9z"/><path class="q2" d="M3125 1194l4-12-3-20-5 20z"/><path class="q1" d="M3120 1205l5-11-4-12-5 18z"/><path class="q0" d="M3115 1210l5-5-4-5-5 8zm-90 21l4 1-3-2-5-3z"/><path class="q1" d="M3020 1230l5 1-4-4-5-2zm-5 1l5-1-4-5-5-1zm-5 2l5-2-4-7-4 3zm-5 4l5-4-3-6-5 6z"/><path class="q0" d="M3001 1240l4-3-3-4-5 5zm528-137l4-1-3-2-5-1zm-5 1l5-1-4-4-5 1zm-5 2l5-2-4-4-5 3zm-9-1l4 2-3-2-5-9z"/><path class="q1" d="M3505 1099l5 6-4-9-5-20z"/><path class="q3" d="M3500 1093l5 6-4-23-5-23z"/><path class="q4" d="M3495 1091l5 2-4-40-4-9zm-4 4l4-4-3-47-5 12z"/><path class="q3" d="M3486 1104l5-9-4-39-5 25z"/><path class="q1" d="M3481 1113l5-9-4-23-5 23z"/><path class="q0" d="M3476 1117l5-4-4-9-4 11zm-9 2l4-1-3-2-5-1zm-5 1l5-1-4-4-5 2zm-5 2l5-2-4-3-5 3zm-48 12l5-1-3-2-5-1zm-4 1l4-1-3-4-5 1zm-5 2l5-2-4-4-5 4zm-10-1l5 2-3-2-5-11z"/><path class="q2" d="M3386 1127l4 9-3-11-5-29z"/><path class="q4" d="M3381 1118l5 9-4-31-5-31z"/><path class="q5" d="M3376 1115l5 3-4-53-5-13zm-5 6l5-6-4-63-4 16z"/><path class="q4" d="M3367 1133l4-12-3-53-5 34z"/><path class="q2" d="M3362 1143l5-10-4-31-5 30z"/><path class="q0" d="M3357 1149l5-6-4-11-5 14zm-9 1l4 0-3-3-5-1zm-5 2l5-2-4-4-5 2zm-5 2l5-2-4-4-5 4zm-67 16l5 0-4-2-4-4z"/><path class="q1" d="M3267 1167l4 3-3-6-5-13z"/><path class="q2" d="M3262 1163l5 4-4-16-5-13zm-5-1l5 1-4-25-5-6zm-5 4l5-4-4-30-4 8zm-5 6l5-6-3-26-5 16z"/><path class="q1" d="M3243 1177l4-5-3-16-5 15z"/><path class="q0" d="M3238 1180l5-3-4-6-5 8zm-86 22l5 0-4-2-5-3z"/><path class="q1" d="M3147 1200l5 2-4-5-4-8zm-4-2l4 2-3-11-5-9z"/><path class="q2" d="M3138 1198l5 0-4-18-5-4zm-5 3l5-3-4-22-5 6z"/><path class="q1" d="M3128 1205l5-4-4-19-4 12zm-4 5l4-5-3-11-5 11z"/><path class="q0" d="M3119 1212l5-2-4-5-5 5zm-91 23l5 0-4-3-4-1zm-5 1l5-1-3-4-5-1zm-4 1l4-1-3-6-5 1zm-5 1l5-1-4-6-5 2zm-5 2l5-2-4-5-5 4zm-5 2l5-2-4-3-4 3zm509-132l5-1-4-2-4-2zm-5 1l5-1-3-5-5-6z"/><path class="q1" d="M3504 1111l4 0-3-12-5-6zm-5 1l5-1-4-18-5-2zm-5 2l5-2-4-21-4 4zm-5 2l5-2-3-19-5 9z"/><path class="q0" d="M3485 1117l4-1-3-12-5 9zm-5 2l5-2-4-4-5 4zm-86 22l5-1-4-2-5-2zm-5 1l5-1-4-5-4-9z"/><path class="q1" d="M3385 1143l4-1-3-15-5-9zm-5 1l5-1-4-25-5-3zm-5 1l5-1-4-29-5 6zm-5 2l5-2-4-24-4 12z"/><path class="q0" d="M3365 1149l5-2-3-14-5 10zm-4 2l4-2-3-6-5 6zm-91 23l5-1-4-3-4-3zm-5 1l5-1-3-7-5-4z"/><path class="q1" d="M3261 1176l4-1-3-12-5-1zm-5 2l5-2-4-14-5 4z"/><path class="q0" d="M3251 1179l5-1-4-12-5 6zm-5 2l5-2-4-7-4 5zm-95 25l5-1-4-3-5-2zm-5 1l5-1-4-6-4-2zm-5 1l5-1-3-9-5 0zm-4 2l4-2-3-10-5 3zm-5 1l5-1-4-9-5 4zm-5 2l5-2-4-6-4 5zm256-68l5-1-3-1-5 1zm-4 1l4-1-3-1-5 1zm137-34l5 0-4-1-5 1zm-5-1l5 1-4 0-5 1zm-5 0l5 0-4 2-4 1zm-5 2l5-2-3 3-5 1zm-4 4l4-4-3 2-5 2zm-5 3l5-3-4 0-5 2zm-95 22l4 2-3-1-5 0zm-5-2l5 2-4 1-5 1zm-5 0l5 0-4 4-5 1zm-5 3l5-3-4 5-4 1zm-4 4l4-4-3 3-5 2zm-5 4l5-4-4 1-5 3zm-100 25l4 0-3 0-5 1zm-5 1l5-1-4 1-5 1zm-5 1l5-1-4 1-4 1zm-5 3l5-3-3 1-5 2zm-109 28l5 0-4 0-5 1zm-5 2l5-2-4 1-5 1zm375-97l5 0-3-2-5 0zm-4-1l4 1-3-2-5-1zm-5 1l5-1-4-2-5 0zm-5 2l5-2-4-3-5 2zm-5 3l5-3-4-3-4 4zm-4 3l4-3-3-2-5 3zm-96 23l5 1-4-2-4-2zm-4-2l4 2-3-3-5-2z"/><path class="q1" d="M3391 1144l5-1-4-3-5 0zm-5 2l5-2-4-4-5 3z"/><path class="q0" d="M3381 1150l5-4-4-3-4 4zm-5 3l5-3-3-3-5 4zm-100 25l5 0-4-2-4 0zm-4 1l4-1-3-2-5 1zm-5 2l5-2-4-2-5 1zm-5 2l5-2-4-3-5 3zm-110 29l5-1-3-2-5 0zm-4 1l4-1-3-3-5 2zm375-96l5-1-4-2-5 0zm-5 1l5-1-4-3-4-1zm-4 1l4-1-3-5-5 1zm-5 2l5-2-4-5-5 2zm-5 1l5-1-4-5-5 3zm-5 2l5-2-4-3-4 3zm-95 25l5-1-4-2-5-1zm-5 0l5 0-4-4-4-2zm-5 1l5-1-3-6-5 1zm-4 2l4-2-3-6-5 2zm-5 2l5-2-4-6-5 4zm-5 2l5-2-4-4-5 3zm-100 26l5-1-4-3-5 0zm-5 1l5-1-4-4-4 1zm-5 1l5-1-3-4-5 2zm-4 2l4-2-3-3-5 2zm144-33l5 0-4-1-5 0zm-5 1l5-1-4-1-4 1zm-4 2l4-2-3-1-5 2zm-5 2l5-2-4-1-5 2zm18-1l5-1-4-3-5 0zm-5 2l5-2-4-4-5 1zm-5 1l5-1-4-5-4 2zm-5 1l5-1-3-4-5 2z"/></g>
<path class="ax" d="M1110.5 524.5L1110.5 164.5M1110.5 524.5L1476.1 690M1476.1 690L1952.7 563.3M1110.5 524.5L1099.8 519.7M1110.5 452.5L1099.8 447.7M1110.5 380.5L1099.8 375.7M1110.5 308.5L1099.8 303.7M1110.5 236.5L1099.8 231.7M1110.5 164.5L1099.8 159.7M1476.1 690L1464.8 693M1476.1 690L1486.8 694.8M1384.7 648.6L1373.4 651.6M1595.2 658.3L1605.9 663.2M1293.3 607.2L1282 610.3M1714.4 626.6L1725.1 631.5M1201.9 565.9L1190.6 568.9M1833.6 595L1844.2 599.8M1110.5 524.5L1099.2 527.5M1952.7 563.3L1963.4 568.1"/>
<g class="tk" font-size="24.17"><text x="1090.7" y="524.7" text-anchor="end">0</text><text x="1090.7" y="452.7" text-anchor="end">0.05</text><text x="1090.7" y="380.7" text-anchor="end">0.1</text><text x="1090.7" y="308.7" text-anchor="end">0.15</text><text x="1090.7" y="236.7" text-anchor="end">0.2</text><text x="1090.7" y="164.7" text-anchor="end">0.25</text><text x="1455.2" y="718.7" text-anchor="end">-1</text><text x="1495.7" y="721.9">-1</text><text x="1363.8" y="677.3" text-anchor="end">-0.5</text><text x="1614.8" y="690.3">-0.5</text><text x="1272.4" y="635.9" text-anchor="end">0</text><text x="1734" y="658.6">0</text><text x="1181" y="594.5" text-anchor="end">0.5</text><text x="1853.1" y="626.9">0.5</text><text x="1089.6" y="553.2" text-anchor="end">1</text><text x="1972.3" y="595.2">1</text></g>
<text class="ti" x="1531.6" y="27" font-size="28.50" text-anchor="middle">(b)</text>
<text class="tk" x="1523.6" y="100.5" font-size="23.97"><tspan font-weight="bold">l</tspan>=1</text>
<text class="se" transform="translate(1017.3 300.6) rotate(-90)" font-size="35.29" text-anchor="middle">Fraunhofer Diffraction</text>
<text class="se" x="1186.2" y="675.7" font-size="35.70">sin<tspan font-style="italic">&#952;</tspan><tspan font-size="27.13" dy="16.3">y</tspan></text>
<text class="se" x="1696.5" y="717.2" font-size="35.70">sin<tspan font-style="italic">&#952;</tspan><tspan font-size="27.13" dy="16.3">x</tspan></text>
</g>
<g id="pc">
<path class="gr" d="M106 1327.4L569.4 1199.7M106 1266.8L569.4 1139.1M106 1206.2L569.4 1078.5M106 1145.7L569.4 1018M106 1085.1L569.4 957.4M106 1024.5L569.4 896.8M106 963.9L569.4 836.2M221.8 1295.5L221.8 932M337.7 1263.6L337.7 900.1M453.5 1231.6L453.5 868.1M569.4 1199.7L569.4 836.2"/>
<path class="gr" d="M569.4 1199.7L924.8 1365.8M569.4 1139.1L924.8 1305.2M569.4 1078.5L924.8 1244.6M569.4 1018L924.8 1184M569.4 957.4L924.8 1123.5M569.4 896.8L924.8 1062.9M569.4 836.2L924.8 1002.3M569.4 1199.7L569.4 836.2M658.2 1241.2L658.2 877.7M747.1 1282.8L747.1 919.2M835.9 1324.3L835.9 960.8M924.8 1365.8L924.8 1002.3"/>
<path class="gr" d="M577.2 1461.6L221.8 1295.5M372.5 1452L835.9 1324.3M693.1 1429.7L337.7 1263.6M283.7 1410.5L747.1 1282.8M808.9 1397.7L453.5 1231.6M194.8 1368.9L658.2 1241.2M924.8 1365.8L569.4 1199.7M106 1327.4L569.4 1199.7"/>
<path class="fl" d="M477.3 1450.2L804 1360.1L553.5 1243L226.8 1333.1 Z"/>
<g class="pk" transform="scale(0.5)"><path class="q0" d="M1065 2531l4 0-3-1-5 1zm-5 0l5 0-4 0-5 1zm-5 2l5-2-4 1-4 2zm-4 3l4-3-3 1-5 1zm17-4l5 0-4-1-4 0zm-5 0l5 0-3-1-5 0zm-4 2l4-2-3-1-5 2zm-5 3l5-3-4-1-4 3zm-102 28l5-1-4-1-4 0zm-4 0l4 0-3-2-5 1zm-5 2l5-2-4-1-5 2zm-5 2l5-2-4-1-4 2zm134-33l4-1-3-3-5 0zm-5 1l5-1-4-4-5 0zm-5 1l5-1-4-5-4 2zm-4 2l4-2-3-4-5 3zm-102 28l4-1-3-3-5 1zm-5 1l5-1-4-3-4 0zm-4 1l4-1-3-4-5 2zm-5 2l5-2-4-3-5 2zm141-40l5 3-4 1-4 1zm-4-3l4 3-3 5-5 1z"/><path class="q1" d="M1074 2528l5 1-4 9-4 1zm-4 3l4-3-3 11-5 1z"/><path class="q0" d="M1065 2537l5-6-4 9-5 2zm-5 6l5-6-4 5-4 1zm-92 23l4 2-3 0-5 1zm-5-2l5 2-4 3-5 1zm-5-1l5 1-4 6-4 1zm-4 3l4-3-3 8-5 1zm-5 5l5-5-4 6-5 2zm-5 5l5-5-4 3-4 1zm-92 23l4 1-3 0-5 1zm-5-1l5 1-4 2-4 1zm-5 1l5-1-3 4-5 1zm-4 2l4-2-3 4-5 1zm-5 4l5-4-4 3-4 2zm-4 3l4-3-3 1-5 1zm-98 25l5 0-4 0-4 1zm-4 1l4-1-3 1-5 1zm-5 2l5-2-4 1-5 2zm-5 2l5-2-4 1-4 1zm375-105l4 4-3-1-5-1z"/><path class="q1" d="M1087 2520l5 13-4 2-5-3z"/><path class="q2" d="M1082 2506l5 14-4 12-4-3zm-4-5l4 5-3 23-5-1zm-5 8l5-8-4 27-4 3zm-5 16l5-16-3 22-5 6z"/><path class="q1" d="M1064 2540l4-15-3 12-5 6z"/><path class="q0" d="M1059 2548l5-8-4 3-4 3zm-83 18l4 3-3-1-5 0z"/><path class="q1" d="M971 2557l5 9-4 2-4-2zm-5-10l5 10-3 9-5-2z"/><path class="q2" d="M962 2544l4 3-3 17-5-1zm-5 6l5-6-4 19-4 3z"/><path class="q1" d="M953 2563l4-13-3 16-5 5zm-5 11l5-11-4 8-5 5z"/><path class="q0" d="M943 2580l5-6-4 2-4 2zm-83 20l5 2-4-2-5 0zm-5-6l5 6-4 0-4-1z"/><path class="q1" d="M851 2588l4 6-3 5-5-1zm-5-2l5 2-4 10-5 1zm-5 5l5-5-4 13-4 2zm-4 9l4-9-3 10-5 4z"/><path class="q0" d="M832 2607l5-7-4 5-4 3zm-5 5l5-5-3 1-5 2zm-88 20l5 2-4-1-4 0zm-4-2l4 2-3 1-5 0z"/><path class="q1" d="M730 2630l5 0-4 3-4 1zm-4 3l4-3-3 4-5 2z"/><path class="q0" d="M721 2637l5-4-4 3-5 2zm-5 4l5-4-4 1-4 2zm-92 24l4 1-3-1-5 0zm-5-2l5 2-4 0-5 1zm-5 0l5 0-4 3-4 1zm-4 3l4-3-3 4-5 1zm-5 4l5-4-4 2-5 2zm-5 3l5-3-4 0-4 2zm514-140l4 1-3-2-5 0zm-5 1l5-1-4-1-5 1zm-5 3l5-3-4-1-4 3zm-9-8l5 10-4-2-4-4z"/><path class="q2" d="M1091 2507l4 22-3 4-5-13z"/><path class="q4" d="M1086 2482l5 25-4 13-5-14z"/><path class="q5" d="M1081 2471l5 11-4 24-4-5zm-4 13l4-13-3 30-5 8z"/><path class="q4" d="M1072 2512l5-28-4 25-5 16z"/><path class="q2" d="M1067 2537l5-25-4 13-4 15z"/><path class="q0" d="M1063 2549l4-12-3 3-5 8zm-10 0l5 1-3-1-5 0zm-4 2l4-2-3 0-5 1zm-5 3l5-3-4-1-4 3zm-51 12l5 0-4-1-4 1zm-4 3l4-3-3 0-5 2zm-10-5l5 7-4-2-4-3z"/><path class="q1" d="M975 2548l4 16-3 2-5-9z"/><path class="q3" d="M970 2530l5 18-4 9-5-10z"/><path class="q4" d="M965 2522l5 8-4 17-4-3zm-4 10l4-10-3 22-5 6z"/><path class="q3" d="M956 2553l5-21-4 18-4 13z"/><path class="q1" d="M951 2572l5-19-3 10-5 11z"/><path class="q0" d="M947 2581l4-9-3 2-5 6zm-9 1l4 0-3-1-5 0zm-5 1l5-1-4-1-5 2zm-70 16l5 4-3-1-5-2z"/><path class="q1" d="M859 2589l4 10-3 1-5-6z"/><path class="q2" d="M854 2577l5 12-4 5-4-6zm-4-4l4 4-3 11-5-2zm-5 7l5-7-4 13-5 5zm-5 14l5-14-4 11-4 9z"/><path class="q1" d="M836 2607l4-13-3 6-5 7z"/><path class="q0" d="M831 2613l5-6-4 0-5 5zm-83 21l4 1-3-1-5 0zm-5-4l5 4-4 0-5-2z"/><path class="q1" d="M738 2626l5 4-4 2-4-2zm-4-1l4 1-3 4-5 0zm-5 4l5-4-4 5-4 3zm-5 6l5-6-3 4-5 4z"/><path class="q0" d="M720 2642l4-7-3 2-5 4zm-5 3l5-3-4-1-4 3zm-88 19l5 2-4 0-4-1z"/><path class="q1" d="M622 2660l5 4-3 1-5-2zm-4-1l4 1-3 3-5 0zm-5 4l5-4-4 4-4 3zm-4 6l4-6-3 3-5 4z"/><path class="q0" d="M604 2674l5-5-4 1-5 3zm513-140l5 1-4-1-4-1zm-4 1l4-1-3-1-5 1zm-5 4l5-4-4-1-5 3z"/><path class="q1" d="M1099 2529l4 11-3-1-5-10z"/><path class="q2" d="M1094 2502l5 27-4 0-4-22z"/><path class="q5" d="M1089 2472l5 30-3 5-5-25z"/><path class="q7" d="M1085 2459l4 13-3 10-5-11zm-5 15l5-15-4 12-4 13z"/><path class="q5" d="M1076 2507l4-33-3 10-5 28z"/><path class="q2" d="M1071 2537l5-30-4 5-5 25z"/><path class="q1" d="M1066 2551l5-14-4 0-4 12z"/><path class="q0" d="M1057 2550l5 2-4-2-5-1zm-5 2l5-2-4-1-4 2zm-4 4l4-4-3-1-5 3zm-51 12l4-1-3-1-5 0zm-5 3l5-3-4-2-4 3zm-9-7l4 8-3-1-5-7z"/><path class="q2" d="M978 2545l5 19-4 0-4-16z"/><path class="q4" d="M974 2523l4 22-3 3-5-18z"/><path class="q5" d="M969 2514l5 9-4 7-5-8zm-5 11l5-11-4 8-4 10z"/><path class="q4" d="M960 2550l4-25-3 7-5 21z"/><path class="q2" d="M955 2572l5-22-4 3-5 19z"/><path class="q0" d="M950 2583l5-11-4 0-4 9zm-9 0l5 1-4-2-4 0zm-4 2l4-2-3-1-5 1zm-70 15l5 5-4-2-5-4z"/><path class="q1" d="M862 2587l5 13-4-1-4-10z"/><path class="q2" d="M858 2573l4 14-3 2-5-12z"/><path class="q3" d="M853 2567l5 6-4 4-4-4zm-5 9l5-9-3 6-5 7z"/><path class="q2" d="M844 2592l4-16-3 4-5 14z"/><path class="q1" d="M839 2607l5-15-4 2-4 13z"/><path class="q0" d="M835 2615l4-8-3 0-5 6zm-84 20l5 2-4-2-4-1z"/><path class="q1" d="M747 2631l4 4-3-1-5-4zm-5-6l5 6-4-1-5-4z"/><path class="q2" d="M737 2623l5 2-4 1-4-1zm-4 5l4-5-3 2-5 4z"/><path class="q1" d="M728 2636l5-8-4 1-5 6zm-5 7l5-7-4-1-4 7z"/><path class="q0" d="M719 2647l4-4-3-1-5 3zm-88 17l4 4-3-2-5-2z"/><path class="q1" d="M626 2660l5 4-4 0-5-4zm-5-2l5 2-4 0-4-1zm-4 4l4-4-3 1-5 4zm-5 7l5-7-4 1-4 6z"/><path class="q0" d="M607 2675l5-6-3 0-5 5zm514-139l4 1-3-2-5-1zm-5 1l5-1-4-2-4 1zm-4 4l4-4-3-2-5 4z"/><path class="q1" d="M1102 2533l5 9-4-2-4-11z"/><path class="q2" d="M1098 2510l4 23-3-4-5-27z"/><path class="q5" d="M1093 2485l5 25-4-8-5-30z"/><path class="q7" d="M1088 2475l5 10-4-13-4-13zm-4 13l4-13-3-16-5 15z"/><path class="q5" d="M1079 2515l5-27-4-14-4 33z"/><path class="q2" d="M1074 2540l5-25-3-8-5 30z"/><path class="q1" d="M1070 2552l4-12-3-3-5 14z"/><path class="q0" d="M1061 2552l4 1-3-1-5-2zm-5 2l5-2-4-2-5 2zm-5 4l5-4-4-2-4 4zm-51 12l5-1-4-2-4 1zm-4 3l4-3-3-2-5 3zm-10-5l5 6-4-2-4-8z"/><path class="q2" d="M982 2551l4 17-3-4-5-19z"/><path class="q4" d="M977 2533l5 18-4-6-4-22z"/><path class="q5" d="M973 2525l4 8-3-10-5-9zm-5 10l5-10-4-11-5 11z"/><path class="q4" d="M963 2556l5-21-4-10-4 25z"/><path class="q2" d="M959 2575l4-19-3-6-5 22z"/><path class="q0" d="M954 2584l5-9-4-3-5 11zm-9 1l4 1-3-2-5-1zm-5 2l5-2-4-2-4 2zm-69 15l4 4-3-1-5-5z"/><path class="q1" d="M866 2592l5 10-4-2-5-13z"/><path class="q2" d="M861 2580l5 12-4-5-4-14z"/><path class="q3" d="M857 2576l4 4-3-7-5-6zm-5 7l5-7-4-9-5 9z"/><path class="q2" d="M847 2597l5-14-4-7-4 16z"/><path class="q1" d="M843 2610l4-13-3-5-5 15z"/><path class="q0" d="M838 2617l5-7-4-3-4 8zm-83 20l4 1-3-1-5-2z"/><path class="q1" d="M750 2634l5 3-4-2-4-4zm-5-5l5 5-3-3-5-6z"/><path class="q2" d="M741 2628l4 1-3-4-5-2zm-5 4l5-4-4-5-4 5z"/><path class="q1" d="M732 2639l4-7-3-4-5 8zm-5 6l5-6-4-3-5 7z"/><path class="q0" d="M722 2649l5-4-4-2-4 4zm-88 18l5 3-4-2-4-4z"/><path class="q1" d="M630 2663l4 4-3-3-5-4zm-5 0l5 0-4-3-5-2zm-5 3l5-3-4-5-4 4zm-4 6l4-6-3-4-5 7z"/><path class="q0" d="M611 2677l5-5-4-3-5 6zm513-138l5 0-4-2-4-1zm-4 1l4-1-3-3-5 1zm-5 3l5-3-4-3-4 4zm-9-4l4 5-3-2-5-9z"/><path class="q2" d="M1101 2527l5 12-4-6-4-23z"/><path class="q4" d="M1097 2513l4 14-3-17-5-25z"/><path class="q5" d="M1092 2508l5 5-4-28-5-10zm-5 8l5-8-4-33-4 13z"/><path class="q4" d="M1083 2532l4-16-3-28-5 27z"/><path class="q2" d="M1078 2547l5-15-4-17-5 25z"/><path class="q0" d="M1073 2554l5-7-4-7-4 12zm-9 1l5 0-4-2-4-1zm-5 2l5-2-3-3-5 2zm-4 2l4-2-3-3-5 4zm-51 13l4-1-3-2-5 1zm-5 3l5-3-4-2-4 3zm-9-2l5 3-4-2-5-6z"/><path class="q1" d="M985 2564l5 9-4-5-4-17z"/><path class="q3" d="M981 2554l4 10-3-13-5-18z"/><path class="q4" d="M976 2550l5 4-4-21-4-8zm-5 7l5-7-3-25-5 10z"/><path class="q3" d="M967 2569l4-12-3-22-5 21z"/><path class="q1" d="M962 2581l5-12-4-13-4 19z"/><path class="q0" d="M958 2586l4-5-3-6-5 9zm-10 2l5 0-4-2-4-1zm-4 1l4-1-3-3-5 2zm-70 17l5 2-4-2-4-4z"/><path class="q1" d="M869 2601l5 5-3-4-5-10z"/><path class="q2" d="M865 2595l4 6-3-9-5-12zm-5-2l5 2-4-15-4-4zm-4 5l4-5-3-17-5 7zm-5 8l5-8-4-15-5 14z"/><path class="q1" d="M846 2614l5-8-4-9-4 13z"/><path class="q0" d="M842 2618l4-4-3-4-5 7zm-84 22l5 0-4-2-4-1zm-4-1l4 1-3-3-5-3z"/><path class="q1" d="M749 2637l5 2-4-5-5-5zm-5-1l5 1-4-8-4-1zm-4 3l4-3-3-8-5 4zm-5 5l5-5-4-7-4 7z"/><path class="q0" d="M730 2648l5-4-3-5-5 6zm-4 2l4-2-3-3-5 4zm-88 21l4 1-3-2-5-3z"/><path class="q1" d="M633 2670l5 1-4-4-4-4zm-4 0l4 0-3-7-5 0zm-5 2l5-2-4-7-5 3zm-5 4l5-4-4-6-4 6z"/><path class="q0" d="M615 2680l4-4-3-4-5 5zm494-135l5 1-4-2-4-5z"/><path class="q1" d="M1105 2542l4 3-3-6-5-12z"/><path class="q2" d="M1100 2539l5 3-4-15-4-14zm-5-1l5 1-3-26-5-5zm-4 3l4-3-3-30-5 8zm-5 6l5-6-4-25-4 16z"/><path class="q1" d="M1082 2553l4-6-3-15-5 15z"/><path class="q0" d="M1077 2556l5-3-4-6-5 7zm-83 22l4 0-3-2-5-3z"/><path class="q1" d="M989 2576l5 2-4-5-5-9zm-5-2l5 2-4-12-4-10z"/><path class="q2" d="M980 2573l4 1-3-20-5-4zm-5 3l5-3-4-23-5 7z"/><path class="q1" d="M970 2581l5-5-4-19-4 12zm-4 4l4-4-3-12-5 12z"/><path class="q0" d="M961 2588l5-3-4-4-4 5zm-83 22l4 0-3-2-5-2zm-5-1l5 1-4-4-5-5z"/><path class="q1" d="M868 2608l5 1-4-8-4-6zm-4 1l4-1-3-13-5-2zm-5 2l5-2-4-16-4 5zm-5 4l5-4-3-13-5 8z"/><path class="q0" d="M850 2618l4-3-3-9-5 8zm-5 2l5-2-4-4-4 4zm-88 23l5 0-4-3-4-1zm-4 0l4 0-3-4-5-2z"/><path class="q1" d="M748 2644l5-1-4-6-5-1zm-5 2l5-2-4-8-4 3z"/><path class="q0" d="M739 2648l4-2-3-7-5 5zm-5 2l5-2-4-4-5 4zm-93 25l5 0-4-3-4-1zm-4 1l4-1-3-4-5-1zm-5 1l5-1-4-6-4 0zm-5 1l5-1-3-7-5 2zm-4 2l4-2-3-6-5 4zm-5 2l5-2-4-4-4 4zm490-132l5-1-4-4-4-3zm-4 1l4-1-3-8-5-3z"/><path class="q1" d="M1099 2552l5-1-4-12-5-1zm-5 2l5-2-4-14-4 3z"/><path class="q0" d="M1090 2555l4-1-3-13-5 6zm-5 2l5-2-4-8-4 6zm-93 25l5-1-3-3-5-2zm-4 1l4-1-3-6-5-2zm-5 1l5-1-4-9-4-1zm-4 2l4-2-3-11-5 3zm-5 1l5-1-4-10-5 5zm-5 2l5-2-4-6-4 4zm-92 25l4-1-3-3-5-1zm-5 1l5-1-4-5-5-1zm-5 1l5-1-4-7-4 1zm-4 2l4-2-3-7-5 2zm-5 1l5-1-4-7-5 4zm-5 2l5-2-4-4-4 3zm-97 26l5-1-4-3-4 0zm-5 2l5-2-3-4-5 1zm-4 1l4-1-3-5-5 2zm-5 1l5-1-4-4-4 2zm369-99l4 0-3-1-5 1zm-5 0l5 0-4 0-4 1zm-5 2l5-2-3 1-5 2zm-4 3l4-3-3 1-5 2zm-102 27l5 0-4 0-5 1zm-5 1l5-1-4 1-4 1zm-4 2l4-2-3 1-5 1zm-5 2l5-2-4 0-5 2zm133-35l5 0-4-2-4 0zm-4 1l4-1-3-2-5 0zm-5 1l5-1-4-3-5 2zm-5 3l5-3-4-2-4 3zm-102 28l5-1-3-2-5 0zm-4 0l4 0-3-3-5 1zm-5 2l5-2-4-2-4 2zm-4 2l4-2-3-2-5 2zm133-33l4-1-3-3-5 0zm-5 1l5-1-4-4-4 1zm-4 1l4-1-3-4-5 1zm-5 2l5-2-4-4-5 3zm-81 35l5 0-4 0-4 2zm-4 1l4-1-3 2-5 1zm-5 2l5-2-4 2-4 1zm-5 2l5-2-3 1-5 1zm18-2l5-1-4-2-5 0zm-5 1l5-1-4-3-4 1zm-4 1l4-1-3-3-5 2zm-5 3l5-3-4-2-5 2zm140-34l5 0-4 0-4 1zm-4 0l4 0-3 1-5 1zm-5 2l5-2-4 2-4 2zm-4 3l4-3-3 2-5 2zm-98 26l5 1-4-1-4 1zm-4-2l4 2-3 1-5 1zm-5 1l5-1-4 4-5 1zm-5 2l5-2-4 4-4 1zm-4 4l4-4-3 3-5 2zm-5 4l5-4-4 1-5 2zm-97 25l4 0-3-1-5 1zm-5 1l5-1-4 0-4 2zm-5 1l5-1-3 1-5 1zm-4 3l4-3-3 1-5 2zm-107 28l5-1-4 0-4 2zm-4 2l4-2-3 1-5 1zm365-99l4 1-3-1-5-1zm-5 0l5 0-4-1-5 0zm-5 0l5 0-4-1-4 0zm-4 2l4-2-3-1-5 2zm-5 4l5-4-4-1-4 3zm-5 3l5-3-3-2-5 3zm-92 22l4 2-3-2-5-1z"/><path class="q1" d="M1041 2601l5 2-4-1-4-2zm-5 0l5 0-3-1-5 1zm-4 2l4-2-3 0-5 2zm-5 5l5-5-4 0-4 4z"/><path class="q0" d="M1023 2612l4-4-3-1-5 4zm-98 25l5 0-4-1-4 0zm-4 1l4-1-3-1-5 1zm-5 1l5-1-4-1-5 1zm-5 3l5-3-4-1-4 3zm-102 28l5-1-4-1-4 0zm-4 0l4 0-3-2-5 1zm-5 2l5-2-4-1-4 2zm-4 3l4-3-3-1-5 2zm369-99l5-1-4-2-4-1zm-4 1l4-1-3-4-5 0zm-5 1l5-1-4-5-5 0zm-5 1l5-1-4-6-4 2zm-4 2l4-2-3-5-5 4zm-5 2l5-2-4-3-5 3zm-93 25l5-1-4-2-4-2zm-4 0l4 0-3-5-5-2z"/><path class="q1" d="M1040 2609l5-1-4-7-5 0zm-5 1l5-1-4-8-4 2z"/><path class="q0" d="M1031 2613l4-3-3-7-5 5zm-5 2l5-2-4-5-4 4zm-97 26l4-1-3-3-5 0zm-5 1l5-1-4-4-4 1zm-4 2l4-2-3-4-5 1zm-5 1l5-1-4-5-5 3zm-102 28l5-1-4-3-5 1zm-5 1l5-1-4-3-4 0zm-4 2l4-2-3-4-5 2zm-5 1l5-1-4-4-4 3zm245-66l4-1-3-2-5 1zm-5 2l5-2-4-2-5 1zm138-37l5 2-4-2-5 1zm-5-5l5 5-4 1-4 1z"/><path class="q1" d="M1168 2564l4 7-3 7-5 1zm-5-1l5 1-4 15-5 1zm-5 4l5-4-4 17-4 1zm-4 9l4-9-3 14-5 2z"/><path class="q0" d="M1149 2584l5-8-4 7-4 2zm-5 4l5-4-3 1-5 1zm-83 18l5 3-4-1-5 1z"/><path class="q1" d="M1056 2597l5 9-4 3-4 1zm-4-10l4 10-3 13-5 0zm-5-4l5 4-4 23-4 1zm-4 6l4-6-3 28-5 2zm-5 13l5-13-4 24-5 2zm-5 12l5-12-4 13-4 2z"/><path class="q0" d="M1029 2620l4-6-3 3-5 1zm-88 17l4 4-3 0-5 1zm-5-4l5 4-4 5-5 1z"/><path class="q1" d="M931 2632l5 1-4 10-4 1zm-4 4l4-4-3 12-5 2z"/><path class="q0" d="M922 2642l5-6-4 10-5 1zm-5 6l5-6-4 5-4 2zm-92 23l4 2-3 0-5 1zm-5-3l5 3-4 3-4 1z"/><path class="q1" d="M815 2667l5 1-3 7-5 1zm-4 3l4-3-3 9-5 2z"/><path class="q0" d="M806 2676l5-6-4 8-4 1zm-4 5l4-5-3 3-5 2zm392-107l5-1-4 0-4 1zm-4 3l4-3-3 0-5 2zm-10-6l5 8-3-1-5-2z"/><path class="q1" d="M1176 2552l4 19-3 5-5-5z"/><path class="q3" d="M1171 2530l5 22-4 19-4-7z"/><path class="q4" d="M1167 2521l4 9-3 34-5-1zm-5 12l5-12-4 42-5 4z"/><path class="q3" d="M1157 2557l5-24-4 34-4 9z"/><path class="q1" d="M1153 2579l4-22-3 19-5 8z"/><path class="q0" d="M1148 2589l5-10-4 5-5 4zm-9 0l4 1-3-1-5 1zm-5 2l5-2-4 1-4 1zm-51 13l5 1-4-1-4 1zm-5 0l5 0-3 1-5 1zm-4 5l4-5-3 2-5 2z"/><path class="q1" d="M1065 2597l4 13-3-1-5-3z"/><path class="q2" d="M1060 2566l5 31-4 9-5-9z"/><path class="q4" d="M1055 2532l5 34-4 31-4-10z"/><path class="q6" d="M1051 2518l4 14-3 55-5-4zm-5 17l5-17-4 65-4 6z"/><path class="q4" d="M1041 2572l5-37-3 54-5 13z"/><path class="q2" d="M1037 2605l4-33-3 30-5 12z"/><path class="q1" d="M1032 2621l5-16-4 9-4 6z"/><path class="q0" d="M1023 2620l5 1-4 0-5 0zm-5 2l5-2-4 1-4 2zm-4 4l4-4-3 1-5 2zm-65 12l4 5-3-2-5 0z"/><path class="q1" d="M944 2624l5 14-4 3-4-4z"/><path class="q2" d="M939 2609l5 15-3 13-5-4z"/><path class="q3" d="M935 2604l4 5-3 24-5-1zm-5 8l5-8-4 28-4 4z"/><path class="q2" d="M926 2629l4-17-3 24-5 6z"/><path class="q1" d="M921 2645l5-16-4 13-5 6z"/><path class="q0" d="M916 2653l5-8-4 3-4 4zm-83 18l5 4-4-2-5 0z"/><path class="q1" d="M828 2661l5 10-4 2-4-2zm-4-12l4 12-3 10-5-3z"/><path class="q2" d="M819 2645l5 4-4 19-5-1zm-5 7l5-7-4 22-4 3z"/><path class="q1" d="M810 2666l4-14-3 18-5 6zm-5 13l5-13-4 10-4 5z"/><path class="q0" d="M800 2685l5-6-3 2-5 3zm-88 21l5 1-4-1-4 1zm-4-1l4 1-3 1-5 0zm-5 0l5 0-4 2-4 1zm-4 2l4-2-3 3-5 2zm-5 4l5-4-4 3-5 2zm-5 4l5-4-4 1-4 2zm514-142l4 2-3-1-5-1zm-5 1l5-1-4 0-5 1zm-5 4l5-4-4 0-4 3z"/><path class="q1" d="M1184 2565l5 15-4-1-5-8z"/><path class="q3" d="M1179 2530l5 35-4 6-4-19z"/><path class="q6" d="M1175 2492l4 38-3 22-5-22z"/><path class="q8" d="M1170 2475l5 17-4 38-4-9zm-5 19l5-19-3 46-5 12z"/><path class="q6" d="M1161 2536l4-42-3 39-5 24z"/><path class="q3" d="M1156 2573l5-37-4 21-4 22z"/><path class="q1" d="M1152 2590l4-17-3 6-5 10z"/><path class="q0" d="M1142 2589l5 2-4-1-4-1zm-4 2l4-2-3 0-5 2zm-5 4l5-4-4 0-5 3zm-28 6l5 2-4-2-4 0zm-4 2l4-2-3 0-5 2zm-14 0l4 3-3-1-5-1z"/><path class="q1" d="M1082 2603l5 0-4 1-5 0z"/><path class="q0" d="M1077 2609l5-6-4 1-4 5z"/><path class="q1" d="M1068 2588l5 23-4-1-4-13z"/><path class="q4" d="M1064 2532l4 56-3 9-5-31z"/><path class="q9" d="M1059 2471l5 61-4 34-5-34z"/><path class="q12" d="M1054 2445l5 26-4 61-4-14zm-4 29l4-29-3 73-5 17z"/><path class="q9" d="M1045 2538l5-64-4 61-5 37z"/><path class="q4" d="M1040 2595l5-57-4 34-4 33z"/><path class="q1" d="M1036 2622l4-27-3 10-5 16z"/><path class="q0" d="M1026 2618l5 4-3-1-5-1z"/><path class="q1" d="M1022 2621l4-3-3 2-5 2z"/><path class="q0" d="M1017 2627l5-6-4 1-4 4zm-14 2l5 0-4-1-4 1zm-4 4l4-4-3 0-5 3zm-28 5l4 1-3-1-5 0zm-5 1l5-1-4 0-4 1zm-4 4l4-4-3 0-5 2zm-10-9l5 10-4-1-4-5z"/><path class="q2" d="M948 2610l4 24-3 4-5-14z"/><path class="q4" d="M943 2583l5 27-4 14-5-15z"/><path class="q5" d="M938 2572l5 11-4 26-4-5zm-4 13l4-13-3 32-5 8z"/><path class="q4" d="M929 2615l5-30-4 27-4 17z"/><path class="q2" d="M924 2642l5-27-3 14-5 16z"/><path class="q0" d="M920 2654l4-12-3 3-5 8zm-9 0l4 1-3-1-5 0zm-5 2l5-2-4 0-5 2zm-5 4l5-4-4 0-4 2zm-51 11l5 0-4-1-4 1zm-4 4l4-4-3 0-5 2zm-10-6l5 7-3-1-5-4z"/><path class="q1" d="M832 2650l4 19-3 2-5-10z"/><path class="q3" d="M827 2628l5 22-4 11-4-12z"/><path class="q4" d="M823 2620l4 8-3 21-5-4zm-5 11l5-11-4 25-5 7z"/><path class="q3" d="M813 2655l5-24-4 21-4 14z"/><path class="q1" d="M809 2676l4-21-3 11-5 13z"/><path class="q0" d="M804 2686l5-10-4 3-5 6zm-9 1l4 0-3-1-5 0zm-5 2l5-2-4-1-4 2zm-74 16l5 3-4-1-5-1z"/><path class="q1" d="M711 2702l5 3-4 1-4-1zm-4-1l4 1-3 3-5 0zm-5 3l5-3-4 4-4 2zm-5 6l5-6-3 3-5 4z"/><path class="q0" d="M693 2716l4-6-3 1-5 4zm513-142l5 2-4-1-4-2zm-5 0l5 0-3-1-5 1zm-4 6l4-6-3 0-5 4z"/><path class="q1" d="M1188 2564l4 17-3-1-5-15z"/><path class="q4" d="M1183 2522l5 42-4 1-5-35z"/><path class="q8" d="M1178 2476l5 46-4 8-4-38z"/><path class="q11" d="M1174 2456l4 20-3 16-5-17zm-5 22l5-22-4 19-5 19z"/><path class="q8" d="M1164 2527l5-49-4 16-4 42z"/><path class="q4" d="M1160 2571l4-44-3 9-5 37z"/><path class="q1" d="M1155 2592l5-21-4 2-4 17z"/><path class="q0" d="M1146 2590l4 2-3-1-5-2zm-5 2l5-2-4-1-4 2zm-4 5l4-5-3-1-5 4zm-28 5l4 2-3-1-5-2zm-5 3l5-3-4-1-4 2zm-14-2l5 5-4-2-4-3z"/><path class="q1" d="M1086 2603l4 0-3 0-5 0zm-5 8l5-8-4 0-5 6z"/><path class="q0" d="M1076 2613l5-2-4-2-4 2z"/><path class="q1" d="M1072 2584l4 29-3-2-5-23z"/><path class="q6" d="M1067 2518l5 66-4 4-4-56z"/><path class="q12" d="M1062 2446l5 72-3 14-5-61z"/><path class="q17" d="M1058 2414l4 32-3 25-5-26zm-5 34l5-34-4 31-4 29z"/><path class="q12" d="M1049 2524l4-76-3 26-5 64z"/><path class="q6" d="M1044 2592l5-68-4 14-5 57z"/><path class="q1" d="M1039 2623l5-31-4 3-4 27z"/><path class="q0" d="M1035 2623l4 0-3-1-5 0z"/><path class="q1" d="M1030 2618l5 5-4-1-5-4zm-5 3l5-3-4 0-4 3z"/><path class="q0" d="M1021 2628l4-7-3 0-5 6zm-14 2l4 0-3-1-5 0zm-5 5l5-5-4-1-4 4zm-28 4l5 2-4-2-4-1zm-4 1l4-1-3-1-5 1zm-5 4l5-4-4-1-4 4z"/><path class="q1" d="M956 2633l4 13-3-2-5-10z"/><path class="q3" d="M951 2604l5 29-4 1-4-24z"/><path class="q5" d="M947 2572l4 32-3 6-5-27z"/><path class="q8" d="M942 2558l5 14-4 11-5-11zm-5 16l5-16-4 14-4 13z"/><path class="q5" d="M933 2609l4-35-3 11-5 30z"/><path class="q3" d="M928 2641l5-32-4 6-5 27z"/><path class="q1" d="M923 2656l5-15-4 1-4 12z"/><path class="q0" d="M914 2655l5 2-4-2-4-1zm-4 2l4-2-3-1-5 2zm-5 4l5-4-4-1-5 4zm-46 11l4 1-3-2-5 0zm-5 1l5-1-4-1-5 0zm-5 3l5-3-4-2-4 4z"/><path class="q1" d="M840 2668l5 10-4-2-5-7z"/><path class="q2" d="M835 2646l5 22-4 1-4-19z"/><path class="q4" d="M831 2620l4 26-3 4-5-22z"/><path class="q6" d="M826 2610l5 10-4 8-4-8zm-5 13l5-13-3 10-5 11z"/><path class="q4" d="M817 2651l4-28-3 8-5 24z"/><path class="q2" d="M812 2676l5-25-4 4-4 21z"/><path class="q1" d="M808 2688l4-12-3 0-5 10z"/><path class="q0" d="M798 2688l5 1-4-2-4 0zm-4 2l4-2-3-1-5 2zm-5 3l5-3-4-1-5 3zm-69 13l4 3-3-1-5-3z"/><path class="q1" d="M715 2701l5 5-4-1-5-3zm-5-1l5 1-4 1-4-1zm-4 4l4-4-3 1-5 3zm-5 7l5-7-4 0-5 6z"/><path class="q0" d="M696 2717l5-6-4-1-4 6zm514-141l4 2-3-2-5-2zm-5 1l5-1-4-2-5 0zm-5 5l5-5-4-3-4 6z"/><path class="q1" d="M1191 2569l5 14-4-2-4-17z"/><path class="q4" d="M1186 2534l5 35-3-5-5-42z"/><path class="q8" d="M1182 2495l4 39-3-12-5-46z"/><path class="q11" d="M1177 2479l5 16-4-19-4-20zm-4 19l4-19-3-23-5 22z"/><path class="q8" d="M1168 2539l5-41-4-20-5 49z"/><path class="q4" d="M1163 2576l5-37-4-12-4 44z"/><path class="q1" d="M1159 2594l4-18-3-5-5 21z"/><path class="q0" d="M1149 2592l5 2-4-2-4-2zm-4 2l4-2-3-2-5 2zm-5 5l5-5-4-2-4 5zm-28 6l5 1-4-2-4-2zm-4 2l4-2-3-3-5 3zm-14-1l4 4-3-2-5-5z"/><path class="q1" d="M1089 2606l5 0-4-3-4 0zm-4 7l4-7-3-3-5 8z"/><path class="q0" d="M1080 2615l5-2-4-2-5 2z"/><path class="q1" d="M1075 2591l5 24-4-2-4-29z"/><path class="q6" d="M1071 2536l4 55-3-7-5-66z"/><path class="q12" d="M1066 2475l5 61-4-18-5-72z"/><path class="q17" d="M1061 2449l5 26-4-29-4-32zm-4 28l4-28-3-35-5 34z"/><path class="q12" d="M1052 2541l5-64-4-29-4 76z"/><path class="q6" d="M1047 2599l5-58-3-17-5 68z"/><path class="q1" d="M1043 2625l4-26-3-7-5 31z"/><path class="q0" d="M1038 2625l5 0-4-2-4 0z"/><path class="q1" d="M1034 2621l4 4-3-2-5-5zm-5 3l5-3-4-3-5 3z"/><path class="q0" d="M1024 2630l5-6-4-3-4 7zm-14 3l5-1-4-2-4 0zm-4 4l4-4-3-3-5 5zm-28 5l5 0-4-1-5-2zm-5 0l5 0-4-3-4 1zm-4 4l4-4-3-2-5 4z"/><path class="q1" d="M959 2637l5 10-4-1-4-13z"/><path class="q3" d="M955 2613l4 24-3-4-5-29z"/><path class="q5" d="M950 2586l5 27-4-9-4-32z"/><path class="q8" d="M946 2575l4 11-3-14-5-14zm-5 14l5-14-4-17-5 16z"/><path class="q5" d="M936 2618l5-29-4-15-4 35z"/><path class="q3" d="M932 2645l4-27-3-9-5 32z"/><path class="q1" d="M927 2658l5-13-4-4-5 15z"/><path class="q0" d="M918 2657l4 2-3-2-5-2zm-5 2l5-2-4-2-4 2zm-5 4l5-4-3-2-5 4zm-46 11l5 0-4-1-4-1zm-5 1l5-1-3-2-5 1zm-4 3l4-3-3-2-5 3z"/><path class="q1" d="M844 2672l4 8-3-2-5-10z"/><path class="q2" d="M839 2653l5 19-4-4-5-22z"/><path class="q4" d="M834 2632l5 21-4-7-4-26z"/><path class="q6" d="M830 2623l4 9-3-12-5-10zm-5 11l5-11-4-13-5 13z"/><path class="q4" d="M820 2658l5-24-4-11-4 28z"/><path class="q2" d="M816 2680l4-22-3-7-5 25z"/><path class="q1" d="M811 2690l5-10-4-4-4 12z"/><path class="q0" d="M802 2690l4 1-3-2-5-1zm-5 2l5-2-4-2-4 2zm-4 3l4-3-3-2-5 3zm-70 13l5 3-4-2-4-3z"/><path class="q1" d="M718 2705l5 3-3-2-5-5zm-4-1l4 1-3-4-5-1zm-5 3l5-3-4-4-4 4zm-4 6l4-6-3-3-5 7z"/><path class="q0" d="M700 2719l5-6-4-2-5 6zm513-139l5 0-4-2-4-2zm-4 1l4-1-3-4-5 1zm-5 3l5-3-4-4-5 5z"/><path class="q1" d="M1195 2578l4 7-3-2-5-14z"/><path class="q3" d="M1190 2558l5 20-4-9-5-35z"/><path class="q6" d="M1185 2537l5 21-4-24-4-39z"/><path class="q8" d="M1181 2528l4 9-3-42-5-16zm-5 11l5-11-4-49-4 19z"/><path class="q6" d="M1171 2563l5-24-3-41-5 41z"/><path class="q3" d="M1167 2585l4-22-3-24-5 37z"/><path class="q1" d="M1162 2596l5-11-4-9-4 18z"/><path class="q0" d="M1153 2596l5 1-4-3-5-2zm-5 2l5-2-4-4-4 2zm-4 3l4-3-3-4-5 5zm-28 6l5 1-4-2-5-1zm-5 2l5-2-4-2-4 2zm-14 1l5 2-4-2-4-4z"/><path class="q1" d="M1093 2611l4-1-3-4-5 0z"/><path class="q0" d="M1088 2615l5-4-4-5-4 7z"/><path class="q1" d="M1079 2604l4 13-3-2-5-24z"/><path class="q4" d="M1074 2573l5 31-4-13-4-55z"/><path class="q9" d="M1070 2539l4 34-3-37-5-61z"/><path class="q12" d="M1065 2524l5 15-4-64-5-26zm-5 17l5-17-4-75-4 28z"/><path class="q9" d="M1056 2578l4-37-3-64-5 64z"/><path class="q4" d="M1051 2612l5-34-4-37-5 58z"/><path class="q1" d="M1046 2627l5-15-4-13-4 26z"/><path class="q0" d="M1037 2626l5 2-4-3-4-4z"/><path class="q1" d="M1032 2628l5-2-3-5-5 3z"/><path class="q0" d="M1028 2632l4-4-3-4-5 6zm-14 4l5-1-4-3-5 1zm-5 2l5-2-4-3-4 4zm-28 6l5 0-3-2-5 0zm-4 1l4-1-3-2-5 0zm-5 3l5-3-4-3-4 4zm-9-4l5 5-4-2-5-10z"/><path class="q2" d="M958 2631l5 13-4-7-4-24z"/><path class="q4" d="M954 2616l4 15-3-18-5-27z"/><path class="q5" d="M949 2610l5 6-4-30-4-11zm-5 9l5-9-3-35-5 14z"/><path class="q4" d="M940 2636l4-17-3-30-5 29z"/><path class="q2" d="M935 2652l5-16-4-18-4 27z"/><path class="q0" d="M931 2660l4-8-3-7-5 13zm-10 1l5 0-4-2-4-2zm-4 1l4-1-3-4-5 2zm-5 3l5-3-4-3-5 4zm-51 13l5-1-4-3-5 1zm-5 2l5-2-4-3-4 3zm-9-2l5 3-4-1-4-8z"/><path class="q1" d="M842 2667l5 11-3-6-5-19z"/><path class="q3" d="M838 2656l4 11-3-14-5-21z"/><path class="q4" d="M833 2651l5 5-4-24-4-9zm-4 7l4-7-3-28-5 11z"/><path class="q3" d="M824 2672l5-14-4-24-5 24z"/><path class="q1" d="M819 2685l5-13-4-14-4 22z"/><path class="q0" d="M815 2692l4-7-3-5-5 10zm-10 1l5 0-4-2-4-1zm-4 2l4-2-3-3-5 2zm-74 18l4 1-3-3-5-3z"/><path class="q1" d="M722 2711l5 2-4-5-5-3zm-5 0l5 0-4-6-4-1zm-4 3l4-3-3-7-5 3zm-5 4l5-4-4-7-4 6z"/><path class="q0" d="M703 2722l5-4-3-5-5 6zm509-138l5-1-4-3-4 1zm-5 2l5-2-3-3-5 3zm-9 0l5 2-4-3-4-7z"/><path class="q1" d="M1194 2581l4 5-3-8-5-20z"/><path class="q3" d="M1189 2574l5 7-4-23-5-21z"/><path class="q4" d="M1184 2573l5 1-4-37-4-9zm-4 4l4-4-3-45-5 11z"/><path class="q3" d="M1175 2586l5-9-4-38-5 24z"/><path class="q1" d="M1170 2594l5-8-4-23-4 22z"/><path class="q0" d="M1166 2598l4-4-3-9-5 11zm-9 2l4-1-3-2-5-1zm-5 1l5-1-4-4-5 2zm-51 14l5-1-4-2-5-2zm-5 1l5-1-4-5-4 1zm-4 2l4-2-3-5-5 4z"/><path class="q1" d="M1082 2616l5 3-4-2-4-13z"/><path class="q2" d="M1078 2607l4 9-3-12-5-31z"/><path class="q4" d="M1073 2597l5 10-4-34-4-34z"/><path class="q6" d="M1068 2593l5 4-3-58-5-15zm-4 6l4-6-3-69-5 17z"/><path class="q4" d="M1059 2612l5-13-4-58-4 37z"/><path class="q2" d="M1055 2624l4-12-3-34-5 34z"/><path class="q1" d="M1050 2630l5-6-4-12-5 15z"/><path class="q0" d="M1041 2631l4 0-3-3-5-2zm-5 2l5-2-4-5-5 2zm-5 2l5-2-4-5-4 4zm-64 16l4 0-3-2-5-5z"/><path class="q1" d="M962 2647l5 4-4-7-5-13z"/><path class="q2" d="M957 2643l5 4-4-16-4-15z"/><path class="q3" d="M953 2642l4 1-3-27-5-6zm-5 4l5-4-4-32-5 9z"/><path class="q2" d="M943 2652l5-6-4-27-4 17z"/><path class="q1" d="M939 2658l4-6-3-16-5 16z"/><path class="q0" d="M934 2662l5-4-4-6-4 8zm-83 21l4 0-3-2-5-3z"/><path class="q1" d="M846 2681l5 2-4-5-5-11zm-5-3l5 3-4-14-4-11z"/><path class="q2" d="M837 2677l4 1-3-22-5-5zm-5 3l5-3-4-26-4 7z"/><path class="q1" d="M827 2686l5-6-3-22-5 14zm-4 5l4-5-3-14-5 13z"/><path class="q0" d="M818 2694l5-3-4-6-4 7zm-88 23l5-1-4-2-4-1zm-4 0l4 0-3-4-5-2zm-5 1l5-1-4-6-5 0zm-5 2l5-2-4-7-4 3zm-4 2l4-2-3-6-5 4zm-5 2l5-2-4-4-5 4zm495-134l4-1-3-1-5-2zm-5 1l5-1-4-4-4-5z"/><path class="q1" d="M1192 2592l5-1-3-10-5-7zm-4 1l4-1-3-18-5-1zm-5 2l5-2-4-20-4 4zm-4 1l4-1-3-18-5 9z"/><path class="q0" d="M1174 2598l5-2-4-10-5 8zm-5 2l5-2-4-4-4 4zm-83 22l5-1-4-2-5-3z"/><path class="q1" d="M1081 2623l5-1-4-6-4-9zm-4 0l4 0-3-16-5-10zm-5 1l5-1-4-26-5-4zm-5 2l5-2-4-31-4 6zm-4 2l4-2-3-27-5 13zm-5 2l5-2-4-16-4 12z"/><path class="q0" d="M1053 2631l5-1-3-6-5 6zm-88 24l5-1-3-3-5-4zm-4 1l4-1-3-8-5-4z"/><path class="q1" d="M956 2657l5-1-4-13-4-1zm-4 2l4-2-3-15-5 4z"/><path class="q0" d="M947 2660l5-1-4-13-5 6zm-5 2l5-2-4-8-4 6zm-92 25l4-1-3-3-5-2zm-5 1l5-1-4-6-5-3z"/><path class="q1" d="M840 2690l5-2-4-10-4-1zm-4 1l4-1-3-13-5 3z"/><path class="q0" d="M831 2692l5-1-4-11-5 6zm-5 2l5-2-4-6-4 5zm250-69l4-1-3-1-5 1zm-5 2l5-2-4-1-5 2zm133-35l5 1-4-1-4 1zm-4 0l4 0-3 1-5 0zm-5 0l5 0-4 1-5 1zm-5 2l5-2-4 2-4 2zm-4 3l4-3-3 2-5 2zm-5 4l5-4-4 1-4 2zm-93 22l5 1-4 0-4 0zm-4-2l4 2-3 1-5 0z"/><path class="q1" d="M1079 2620l5 1-4 3-4 1zm-5 3l5-3-3 5-5 2z"/><path class="q0" d="M1070 2628l4-5-3 4-5 2zm-5 4l5-4-4 1-4 2zm-97 25l5 0-4 0-5 1zm-5 0l5 0-4 1-4 1zm-4 2l4-2-3 2-5 1zm-5 3l5-3-4 1-5 2zm-102 27l5 0-4 0-4 1zm-5 1l5-1-3 1-5 1zm-4 2l4-2-3 1-5 1zm-5 3l5-3-4 0-4 2zm370-100l4 0-3-2-5-1zm-5-1l5 1-4-3-4 0zm-4 1l4-1-3-2-5 0zm-5 2l5-2-4-3-5 2zm-5 3l5-3-4-3-4 3zm-4 3l4-3-3-3-5 4zm-93 22l5 1-4-2-5-1z"/><path class="q1" d="M1087 2624l5 1-4-2-4-2zm-4 0l4 0-3-3-5-1zm-5 2l5-2-4-4-5 3zm-5 4l5-4-4-3-4 5z"/><path class="q0" d="M1069 2634l4-4-3-2-5 4zm-98 25l5 0-3-2-5 0zm-4 1l4-1-3-2-5 0zm-5 2l5-2-4-3-4 2zm-4 2l4-2-3-3-5 3zm-102 28l4-1-3-2-5 0zm-5 1l5-1-4-3-5 1zm-5 1l5-1-4-3-4 2zm-4 2l4-2-3-2-5 3zm365-97l4-1-3-3-5-1zm-5 1l5-1-4-5-4 1zm-5 1l5-1-3-5-5 2zm-4 2l4-2-3-4-5 3zm-98 27l5-1-3-3-5-1zm-4 0l4 0-3-5-5-1zm-5 1l5-1-4-6-4 0zm-4 2l4-2-3-7-5 2zm-5 2l5-2-4-7-5 4zm-5 2l5-2-4-5-4 4zm-97 26l5-1-4-3-5 0zm-5 1l5-1-4-4-4 1zm-4 2l4-2-3-4-5 2zm-5 1l5-1-4-4-4 2zm-106 29l4-1-3-3-5 1zm-5 2l5-2-4-3-5 1zm252-64l4 0-3-1-5 0zm-5 1l5-1-4-1-5 1zm-5 1l5-1-4-1-4 2zm-4 3l4-3-3 0-5 2zm17-1l5-1-4-3-4 0zm-5 2l5-2-3-4-5 1zm-4 1l4-1-3-5-5 1zm-5 1l5-1-4-5-4 3zm21-4l5 1-4 0-4 1zm-4 1l4-1-3 2-5 1zm-5 2l5-2-4 2-5 2zm-5 3l5-3-4 2-4 1zm-97 23l5 2-4 0-5 2zm-5-2l5 2-4 4-4 1zm-4-1l4 1-3 7-5 1zm-5 3l5-3-4 9-4 2zm-5 5l5-5-3 8-5 1zm-4 5l4-5-3 4-5 1zm138-36l4 0-3-2-5-1zm-5 1l5-1-4-3-4 1zm-5 2l5-2-3-3-5 2zm-4 2l4-2-3-3-5 3zm-97 24l4 2-3-3-5-2z"/><path class="q1" d="M1000 2669l5 1-4-3-5-2zm-5 0l5 0-4-4-4-1zm-4 3l4-3-3-5-5 3zm-5 4l5-4-4-5-5 5z"/><path class="q0" d="M981 2679l5-3-4-4-4 5zm134-33l4-1-3-4-5 1zm-5 2l5-2-4-4-5 2zm-102 28l5-2-4-2-4-2zm-5 1l5-1-3-6-5-1zm-4 1l4-1-3-8-5 0zm-5 1l5-1-4-9-4 3zm-4 2l4-2-3-7-5 4zm-5 1l5-1-4-5-5 3zm27-7l4 0-3-1-5 2zm-5-1l5 1-4 1-5 1zm-5 0l5 0-4 3-4 1zm-4 2l4-2-3 4-5 1zm-5 4l5-4-4 3-4 2zm-5 3l5-3-3 1-5 1zm259-70l5 0-4-1-5 1zm-5-1l5 1-4 0-4 1zm-4 0l4 0-3 2-5 1zm-5 2l5-2-4 3-5 1zm-5 4l5-4-4 2-4 2zm-4 3l4-3-3 0-5 2zm-93 22l5 1-4 0-5 0zm-5-2l5 2-4 1-4 1zm-4 0l4 0-3 4-5 1zm-5 3l5-3-4 5-4 1zm-4 4l4-4-3 3-5 3zm-5 4l5-4-4 2-5 1zm-88 22l4 2-3-1-5 0zm-5-7l5 7-4 1-4 0z"/><path class="q1" d="M1011 2660l4 7-3 8-5-1zm-5-3l5 3-4 14-5 0zm-5 5l5-5-4 17-4 2zm-4 10l4-10-3 14-5 4z"/><path class="q0" d="M992 2682l5-10-4 8-5 3zm-5 4l5-4-4 1-4 2zm-92 23l4 0-3 0-5 1zm-5 1l5-1-4 1-4 1zm-5 2l5-2-3 1-5 1zm-4 2l4-2-3 0-5 2zm369-100l5 1-3-2-5 0zm-4-1l4 1-3-1-5-1z"/><path class="q1" d="M1241 2613l5 0-4-1-4 0zm-4 2l4-2-3-1-5 2z"/><path class="q0" d="M1232 2619l5-4-4-1-5 4zm-5 3l5-3-4-1-4 3zm-92 22l4 2-3-2-5-1z"/><path class="q1" d="M1130 2641l5 3-4-1-5-2zm-5 0l5 0-4 0-4 0zm-4 3l4-3-3 0-5 3zm-5 5l5-5-4 0-4 4z"/><path class="q0" d="M1111 2653l5-4-3-1-5 4zm-88 22l5 3-4-2-4-2z"/><path class="q1" d="M1019 2666l4 9-3-1-5-7z"/><path class="q2" d="M1014 2657l5 9-4 1-4-7zm-5-3l5 3-3 3-5-3zm-4 6l4-6-3 3-5 5zm-5 12l5-12-4 2-4 10z"/><path class="q1" d="M996 2682l4-10-3 0-5 10z"/><path class="q0" d="M991 2688l5-6-4 0-5 4zm-93 23l5 0-4-2-4 0zm-4 0l4 0-3-2-5 1zm-5 2l5-2-4-1-5 2zm-5 3l5-3-4-1-4 2zm370-98l5-1-4-2-5-1zm-5 0l5 0-4-4-4-1zm-4 1l4-1-3-5-5 0zm-5 2l5-2-4-6-4 2zm-5 2l5-2-3-6-5 4zm-4 2l4-2-3-4-5 3zm-93 24l5 0-4-3-4-2zm-4 0l4 0-3-5-5-3z"/><path class="q1" d="M1129 2650l5-1-4-8-5 0zm-5 2l5-2-4-9-4 3z"/><path class="q0" d="M1120 2654l4-2-3-8-5 5zm-5 2l5-2-4-5-5 4zm-88 24l5 0-4-2-5-3z"/><path class="q1" d="M1022 2678l5 2-4-5-4-9zm-4-2l4 2-3-12-5-9z"/><path class="q2" d="M1013 2676l5 0-4-19-5-3zm-5 3l5-3-4-22-4 6z"/><path class="q1" d="M1004 2683l4-4-3-19-5 12zm-5 4l5-4-4-11-4 10z"/><path class="q0" d="M994 2690l5-3-3-5-5 6zm-92 25l4-1-3-3-5 0zm-5 1l5-1-4-4-4 0zm-4 1l4-1-3-5-5 2zm-5 2l5-2-4-4-5 3zm249-68l5 0-4-2-4 0zm-5 1l5-1-3-2-5 1zm-4 2l4-2-3-2-5 2zm-5 2l5-2-4-2-4 2zm-97 25l4 1-3-2-5-2zm-5-1l5 1-4-3-4-2z"/><path class="q1" d="M1017 2680l4 0-3-4-5 0zm-5 2l5-2-4-4-5 3z"/><path class="q0" d="M1007 2686l5-4-4-3-4 4zm-4 3l4-3-3-3-5 4zm263-72l4 2-3-1-5 1zm-5-6l5 6-4 2-4 0z"/><path class="q1" d="M1256 2604l5 7-3 8-5 1zm-4-2l4 2-3 16-5 1zm-5 5l5-5-4 19-4 2zm-4 9l4-9-3 16-5 2z"/><path class="q0" d="M1238 2625l5-9-4 9-5 1zm-5 4l5-4-4 1-4 2zm-83 18l5 4-4-1-5 0z"/><path class="q1" d="M1145 2636l5 11-4 3-4 1zm-4-12l4 12-3 15-5 0z"/><path class="q2" d="M1136 2620l5 4-4 27-5 1zm-5 7l5-7-4 32-4 2z"/><path class="q1" d="M1127 2641l4-14-3 27-5 2zm-5 13l5-13-4 15-4 2z"/><path class="q0" d="M1117 2661l5-7-3 4-5 2zm-64 15l4 1-3-1-5 1zm-5 0l5 0-4 1-5 2zm-5 4l5-4-4 3-4 1zm-9-11l5 13-4-1-5 1z"/><path class="q2" d="M1029 2637l5 32-4 13-4-1z"/><path class="q3" d="M1025 2602l4 35-3 44-5-1z"/><path class="q5" d="M1020 2587l5 15-4 78-4 0zm-4 17l4-17-3 93-5 2z"/><path class="q3" d="M1011 2642l5-38-4 78-5 4z"/><path class="q2" d="M1006 2676l5-34-4 44-4 3z"/><path class="q0" d="M1002 2692l4-16-3 13-5 3zm-10-1l5 2-4 0-4 1zm-4 2l4-2-3 3-5 1zm-5 5l5-5-4 2-4 2zm-69 13l4 3-3 1-5 1zm-5-4l5 4-4 5-5 0z"/><path class="q1" d="M904 2706l5 1-4 9-4 2zm-4 4l4-4-3 12-5 1z"/><path class="q0" d="M895 2716l5-6-4 9-5 2zm-5 6l5-6-4 5-4 1zm-97 26l5 0-4 0-4 1zm-5 1l5-1-3 1-5 1zm-4 2l4-2-3 1-5 2zm-5 2l5-2-4 1-4 1zm509-138l4 0-3-1-5 1zm-5 0l5 0-4 0-4 1zm-4 4l4-4-3 1-5 2zm-10-8l5 9-4-1-4-2z"/><path class="q1" d="M1265 2590l4 21-3 6-5-6z"/><path class="q3" d="M1260 2566l5 24-4 21-5-7z"/><path class="q4" d="M1255 2556l5 10-4 38-4-2zm-4 12l4-12-3 46-5 5z"/><path class="q3" d="M1246 2595l5-27-4 39-4 9z"/><path class="q1" d="M1241 2619l5-24-3 21-5 9z"/><path class="q0" d="M1237 2630l4-11-3 6-5 4zm-9 1l4 0-3-1-5 1zm-5 1l5-1-4 0-5 1zm-5 4l5-4-4 0-4 2zm-46 9l5 2-4-1-5 0zm-5 0l5 0-4 1-4 1zm-4 5l4-5-3 2-5 2z"/><path class="q1" d="M1153 2636l5 16-3-1-5-4z"/><path class="q2" d="M1149 2600l4 36-3 11-5-11z"/><path class="q5" d="M1144 2560l5 40-4 36-4-12z"/><path class="q7" d="M1140 2544l4 16-3 64-5-4zm-5 19l5-19-4 76-5 7z"/><path class="q5" d="M1130 2606l5-43-4 64-4 14z"/><path class="q2" d="M1126 2644l4-38-3 35-5 13z"/><path class="q1" d="M1121 2662l5-18-4 10-5 7z"/><path class="q0" d="M1112 2660l4 3-3-1-5 0zm-5 3l5-3-4 2-4 2zm-5 4l5-4-3 1-5 2zm-27 4l4 4-3-2-5 0zm-5 3l5-3-4 2-5 1zm-5 4l5-4-4 0-4 3zm-4-1l4 1-3-1-5 0zm-5-8l5 8-4 0-4-1z"/><path class="q1" d="M1051 2668l5 1-3 7-5 0zm-4 11l4-11-3 8-5 4z"/><path class="q0" d="M1042 2682l5-3-4 1-4 2z"/><path class="q2" d="M1038 2637l4 45-3 0-5-13z"/><path class="q6" d="M1033 2536l5 101-4 32-5-32z"/><path class="q13" d="M1028 2423l5 113-4 101-4-35z"/><path class="q18" d="M1024 2374l4 49-3 179-5-15zm-5 52l5-52-4 213-4 17z"/><path class="q13" d="M1014 2541l5-115-3 178-5 38z"/><path class="q6" d="M1010 2645l4-104-3 101-5 34z"/><path class="q2" d="M1005 2692l5-47-4 31-4 16z"/><path class="q0" d="M1001 2692l4 0-3 0-5 1z"/><path class="q1" d="M996 2683l5 9-4 1-5-2zm-5 4l5-4-4 8-4 2z"/><path class="q0" d="M987 2697l4-10-3 6-5 5zm-5 4l5-4-4 1-5 2zm-5-2l5 2-4-1-4 0zm-4 0l4 0-3 1-5 1zm-5 6l5-6-4 2-4 3zm-46 6l4 5-3-1-5-1z"/><path class="q1" d="M917 2699l5 12-4 3-4-3z"/><path class="q2" d="M912 2685l5 14-3 12-5-4zm-4-6l4 6-3 22-5-1zm-5 8l5-8-4 27-4 4zm-4 17l4-17-3 23-5 6z"/><path class="q1" d="M894 2719l5-15-4 12-5 6z"/><path class="q0" d="M889 2726l5-7-4 3-4 3zm-88 21l5 1-4 0-4 0zm-4-2l4 2-3 1-5 0z"/><path class="q1" d="M792 2744l5 1-4 3-5 1zm-5 3l5-3-4 5-4 2z"/><path class="q0" d="M783 2752l4-5-3 4-5 2zm-5 4l5-4-4 1-4 2zm513-142l5 2-4-1-4 0zm-4 0l4 0-3 1-5 0zm-5 6l5-6-4 1-4 4z"/><path class="q1" d="M1273 2605l4 16-3-1-5-9z"/><path class="q3" d="M1268 2566l5 39-4 6-4-21z"/><path class="q6" d="M1264 2523l4 43-3 24-5-24z"/><path class="q9" d="M1259 2505l5 18-4 43-5-10zm-5 21l5-21-4 51-4 12z"/><path class="q6" d="M1250 2571l4-45-3 42-5 27z"/><path class="q3" d="M1245 2613l5-42-4 24-5 24z"/><path class="q1" d="M1240 2632l5-19-4 6-4 11z"/><path class="q0" d="M1231 2630l5 2-4-1-4 0zm-4 2l4-2-3 1-5 1zm-5 5l5-5-4 0-5 4zm-28 5l5 2-4-1-4-1zm-5 3l5-3-3 0-5 2zm-13-2l4 5-3-1-5-2z"/><path class="q1" d="M1171 2643l5 0-4 2-5 0z"/><path class="q0" d="M1166 2651l5-8-4 2-4 5zm-4 2l4-2-3-1-5 2z"/><path class="q1" d="M1157 2625l5 28-4-1-5-16z"/><path class="q5" d="M1152 2561l5 64-4 11-4-36z"/><path class="q10" d="M1148 2490l4 71-3 39-5-40z"/><path class="q14" d="M1143 2459l5 31-4 70-4-16zm-5 33l5-33-3 85-5 19z"/><path class="q10" d="M1134 2566l4-74-3 71-5 43z"/><path class="q5" d="M1129 2633l5-67-4 40-4 38z"/><path class="q1" d="M1125 2663l4-30-3 11-5 18z"/><path class="q0" d="M1120 2663l5 0-4-1-5 1zm-5-5l5 5-4 0-4-3z"/><path class="q1" d="M1111 2661l4-3-3 2-5 3z"/><path class="q0" d="M1106 2668l5-7-4 2-5 4zm-14 2l5 0-4-1-4 1zm-5 5l5-5-3 0-5 3zm-9-6l5 7-4-1-4-4z"/><path class="q1" d="M1074 2673l4-4-3 2-5 3z"/><path class="q0" d="M1069 2680l5-7-4 1-5 4zm-5-4l5 4-4-2-4-1z"/><path class="q1" d="M1060 2662l4 14-3 1-5-8z"/><path class="q2" d="M1055 2659l5 3-4 7-5-1z"/><path class="q1" d="M1050 2678l5-19-4 9-4 11z"/><path class="q0" d="M1046 2681l4-3-3 1-5 3z"/><path class="q3" d="M1041 2602l5 79-4 1-4-45z"/><path class="q13" d="M1037 2423l4 179-3 35-5-101z"/><path class="q28" d="M1032 2225l5 198-4 113-5-113z"/><path class="q38" d="M1027 2139l5 86-4 198-4-49zm-4 89l4-89-3 235-5 52z"/><path class="q28" d="M1018 2429l5-201-4 198-5 115z"/><path class="q13" d="M1013 2610l5-181-4 112-4 104z"/><path class="q3" d="M1009 2691l4-81-3 35-5 47z"/><path class="q0" d="M1004 2690l5 1-4 1-4 0z"/><path class="q1" d="M999 2674l5 16-3 2-5-9z"/><path class="q2" d="M995 2680l4-6-3 9-5 4z"/><path class="q1" d="M990 2697l5-17-4 7-4 10z"/><path class="q0" d="M986 2703l4-6-3 0-5 4zm-5-5l5 5-4-2-5-2z"/><path class="q1" d="M976 2697l5 1-4 1-4 0z"/><path class="q0" d="M972 2707l4-10-3 2-5 6zm-28 5l4 1-3-2-5 0zm-5 0l5 0-4-1-4 1zm-4 4l4-4-3 0-5 3zm-10-8l5 10-4-2-4-5z"/><path class="q2" d="M921 2685l4 23-3 3-5-12z"/><path class="q4" d="M916 2659l5 26-4 14-5-14z"/><path class="q5" d="M911 2649l5 10-4 26-4-6zm-4 13l4-13-3 30-5 8z"/><path class="q4" d="M902 2690l5-28-4 25-4 17z"/><path class="q2" d="M897 2716l5-26-3 14-5 15z"/><path class="q0" d="M893 2728l4-12-3 3-5 7zm-9 0l4 1-3-1-5 0zm-5 2l5-2-4 0-5 1zm-5 3l5-3-4-1-4 3zm-65 16l5 1-3-1-5-1zm-4-4l4 4-3-1-5-1z"/><path class="q1" d="M800 2740l5 5-4 2-4-2zm-4-1l4 1-3 5-5-1zm-5 4l5-4-4 5-5 3zm-5 7l5-7-4 4-4 5z"/><path class="q0" d="M782 2757l4-7-3 2-5 4zm-5 3l5-3-4-1-5 3zm518-145l5 3-4-2-5-2z"/><path class="q1" d="M1290 2615l5 0-4-1-4 0z"/><path class="q0" d="M1286 2621l4-6-3-1-5 6z"/><path class="q1" d="M1276 2603l5 20-4-2-4-16z"/><path class="q4" d="M1272 2557l4 46-3 2-5-39z"/><path class="q9" d="M1267 2505l5 52-4 9-4-43z"/><path class="q12" d="M1262 2483l5 22-3 18-5-18zm-4 25l4-25-3 22-5 21z"/><path class="q9" d="M1253 2562l5-54-4 18-4 45z"/><path class="q4" d="M1249 2611l4-49-3 9-5 42z"/><path class="q1" d="M1244 2633l5-22-4 2-5 19z"/><path class="q0" d="M1235 2630l4 4-3-2-5-2z"/><path class="q1" d="M1230 2633l5-3-4 0-4 2z"/><path class="q0" d="M1225 2638l5-5-3-1-5 5zm-27 5l4 3-3-2-5-2zm-5 3l5-3-4-1-5 3zm-5 4l5-4-4-1-4 3zm-9-6l5 5-4-1-4-5z"/><path class="q1" d="M1174 2643l5 1-3-1-5 0zm-4 9l4-9-3 0-5 8z"/><path class="q0" d="M1165 2654l5-2-4-1-4 2z"/><path class="q2" d="M1161 2621l4 33-3-1-5-28z"/><path class="q7" d="M1156 2544l5 77-4 4-5-64z"/><path class="q14" d="M1151 2460l5 84-4 17-4-71z"/><path class="q19" d="M1147 2423l4 37-3 30-5-31zm-5 39l5-39-4 36-5 33z"/><path class="q14" d="M1137 2549l5-87-4 30-4 74z"/><path class="q7" d="M1133 2628l4-79-3 17-5 67z"/><path class="q2" d="M1128 2664l5-36-4 5-4 30z"/><path class="q0" d="M1123 2664l5 0-3-1-5 0z"/><path class="q1" d="M1119 2658l4 6-3-1-5-5zm-5 3l5-3-4 0-4 3z"/><path class="q0" d="M1110 2669l4-8-3 0-5 7zm-10 2l5 2-4-2-4-1zm-4 0l4 0-3-1-5 0zm-5 6l5-6-4-1-5 5zm-9-8l4 9-3-2-5-7z"/><path class="q1" d="M1077 2673l5-4-4 0-4 4z"/><path class="q0" d="M1073 2681l4-8-3 0-5 7zm-5-4l5 4-4-1-5-4z"/><path class="q1" d="M1063 2660l5 17-4-1-4-14z"/><path class="q2" d="M1059 2656l4 4-3 2-5-3zm-5 22l5-22-4 3-5 19z"/><path class="q1" d="M1049 2682l5-4-4 0-4 3z"/><path class="q5" d="M1045 2588l4 94-3-1-5-79z"/><path class="q18" d="M1040 2375l5 213-4 14-4-179z"/><path class="q38" d="M1035 2139l5 236-3 48-5-198z"/><path class="q53" d="M1031 2036l4 103-3 86-5-86zm-5 106l5-106-4 103-4 89z"/><path class="q38" d="M1022 2380l4-238-3 86-5 201z"/><path class="q18" d="M1017 2596l5-216-4 49-5 181z"/><path class="q5" d="M1012 2692l5-96-4 14-4 81z"/><path class="q1" d="M1008 2691l4 1-3-1-5-1z"/><path class="q2" d="M1003 2671l5 20-4-1-5-16zm-5 7l5-7-4 3-4 6z"/><path class="q1" d="M994 2698l4-20-3 2-5 17z"/><path class="q0" d="M989 2704l5-6-4-1-4 6zm-5-5l5 5-3-1-5-5z"/><path class="q1" d="M980 2697l4 2-3-1-5-1z"/><path class="q0" d="M975 2709l5-12-4 0-4 10zm-28 4l5 1-4-1-4-1zm-4 0l4 0-3-1-5 0zm-5 5l5-5-4-1-4 4z"/><path class="q1" d="M929 2708l4 11-3-1-5-10z"/><path class="q2" d="M924 2680l5 28-4 0-4-23z"/><path class="q5" d="M920 2649l4 31-3 5-5-26z"/><path class="q7" d="M915 2636l5 13-4 10-5-10zm-5 16l5-16-4 13-4 13z"/><path class="q5" d="M906 2685l4-33-3 10-5 28z"/><path class="q2" d="M901 2715l5-30-4 5-5 26z"/><path class="q1" d="M896 2729l5-14-4 1-4 12z"/><path class="q0" d="M887 2729l5 1-4-1-4-1zm-4 2l4-2-3-1-5 2zm-5 4l5-4-4-1-5 3zm-65 15l5 2-4-2-5-1z"/><path class="q1" d="M808 2745l5 5-4-1-4-4zm-4-6l4 6-3 0-5-5z"/><path class="q2" d="M799 2738l5 1-4 1-4-1zm-5 4l5-4-3 1-5 4z"/><path class="q1" d="M790 2750l4-8-3 1-5 7zm-5 8l5-8-4 0-4 7z"/><path class="q0" d="M781 2762l4-4-3-1-5 3zm517-144l5 2-3-2-5-3z"/><path class="q1" d="M1294 2618l4 0-3-3-5 0z"/><path class="q0" d="M1289 2623l5-5-4-3-4 6z"/><path class="q1" d="M1280 2608l5 17-4-2-5-20z"/><path class="q4" d="M1275 2569l5 39-4-5-4-46z"/><path class="q9" d="M1271 2527l4 42-3-12-5-52z"/><path class="q12" d="M1266 2508l5 19-4-22-5-22zm-5 21l5-21-4-25-4 25z"/><path class="q9" d="M1257 2575l4-46-3-21-5 54z"/><path class="q4" d="M1252 2616l5-41-4-13-4 49z"/><path class="q1" d="M1248 2635l4-19-3-5-5 22z"/><path class="q0" d="M1238 2633l5 3-4-2-4-4z"/><path class="q1" d="M1234 2635l4-2-3-3-5 3z"/><path class="q0" d="M1229 2640l5-5-4-2-5 5zm-28 6l5 2-4-2-4-3zm-4 2l4-2-3-3-5 3zm-5 3l5-3-4-2-5 4zm-9-4l4 4-3-2-5-5z"/><path class="q1" d="M1178 2646l5 1-4-3-5-1zm-5 8l5-8-4-3-4 9z"/><path class="q0" d="M1169 2656l4-2-3-2-5 2z"/><path class="q2" d="M1164 2628l5 28-4-2-4-33z"/><path class="q7" d="M1159 2564l5 64-3-7-5-77z"/><path class="q14" d="M1155 2493l4 71-3-20-5-84z"/><path class="q19" d="M1150 2463l5 30-4-33-4-37zm-4 33l4-33-3-40-5 39z"/><path class="q14" d="M1141 2569l5-73-4-34-5 87z"/><path class="q7" d="M1136 2636l5-67-4-20-4 79z"/><path class="q2" d="M1132 2666l4-30-3-8-5 36z"/><path class="q0" d="M1127 2667l5-1-4-2-5 0z"/><path class="q1" d="M1122 2662l5 5-4-3-4-6zm-4 2l4-2-3-4-5 3z"/><path class="q0" d="M1113 2671l5-7-4-3-4 8zm-9 2l4 1-3-1-5-2zm-5 1l5-1-4-2-4 0zm-4 4l4-4-3-3-5 6zm-10-6l5 8-4-2-4-9z"/><path class="q1" d="M1081 2676l4-4-3-3-5 4z"/><path class="q0" d="M1076 2683l5-7-4-3-4 8zm-5-3l5 3-3-2-5-4z"/><path class="q1" d="M1067 2666l4 14-3-3-5-17z"/><path class="q2" d="M1062 2662l5 4-4-6-4-4zm-4 19l4-19-3-6-5 22z"/><path class="q1" d="M1053 2684l5-3-4-3-5 4z"/><path class="q5" d="M1048 2606l5 78-4-2-4-94z"/><path class="q18" d="M1044 2427l4 179-3-18-5-213z"/><path class="q38" d="M1039 2229l5 198-4-52-5-236z"/><path class="q53" d="M1034 2142l5 87-4-90-4-103zm-4 89l4-89-3-106-5 106z"/><path class="q38" d="M1025 2432l5-201-4-89-4 238z"/><path class="q18" d="M1020 2613l5-181-3-52-5 216z"/><path class="q5" d="M1016 2695l4-82-3-17-5 96z"/><path class="q1" d="M1011 2694l5 1-4-3-4-1z"/><path class="q2" d="M1007 2678l4 16-3-3-5-20zm-5 5l5-5-4-7-5 7z"/><path class="q1" d="M997 2700l5-17-4-5-4 20z"/><path class="q0" d="M993 2706l4-6-3-2-5 6zm-5-5l5 5-4-2-5-5z"/><path class="q1" d="M983 2700l5 1-4-2-4-2z"/><path class="q0" d="M979 2710l4-10-3-3-5 12zm-28 5l5 1-4-2-5-1zm-5 1l5-1-4-2-4 0zm-4 3l4-3-3-3-5 5z"/><path class="q1" d="M932 2711l5 10-4-2-4-11z"/><path class="q2" d="M928 2688l4 23-3-3-5-28z"/><path class="q5" d="M923 2663l5 25-4-8-4-31z"/><path class="q7" d="M919 2652l4 11-3-14-5-13zm-5 13l5-13-4-16-5 16z"/><path class="q5" d="M909 2693l5-28-4-13-4 33z"/><path class="q2" d="M905 2719l4-26-3-8-5 30z"/><path class="q1" d="M900 2731l5-12-4-4-5 14z"/><path class="q0" d="M891 2731l4 1-3-2-5-1zm-5 2l5-2-4-2-4 2zm-5 3l5-3-3-2-5 4zm-64 16l4 1-3-1-5-2z"/><path class="q1" d="M812 2748l5 4-4-2-5-5zm-5-4l5 4-4-3-4-6z"/><path class="q2" d="M803 2742l4 2-3-5-5-1zm-5 4l5-4-4-4-5 4z"/><path class="q1" d="M793 2753l5-7-4-4-4 8zm-4 7l4-7-3-3-5 8z"/><path class="q0" d="M784 2764l5-4-4-2-4 4zm518-143l5 1-4-2-5-2zm-5 1l5-1-4-3-4 0zm-4 3l4-3-3-4-5 5z"/><path class="q1" d="M1284 2618l4 9-3-2-5-17z"/><path class="q3" d="M1279 2596l5 22-4-10-5-39z"/><path class="q6" d="M1274 2572l5 24-4-27-4-42z"/><path class="q9" d="M1270 2563l4 9-3-45-5-19zm-5 12l5-12-4-55-5 21z"/><path class="q6" d="M1260 2602l5-27-4-46-4 46z"/><path class="q3" d="M1256 2626l4-24-3-27-5 41z"/><path class="q1" d="M1251 2637l5-11-4-10-4 19z"/><path class="q0" d="M1242 2637l4 1-3-2-5-3zm-5 2l5-2-4-4-4 2zm-4 3l4-3-3-4-5 5zm-28 7l4 0-3-1-5-2zm-5 2l5-2-4-3-4 2zm-14 0l5 2-4-2-4-4z"/><path class="q1" d="M1182 2652l4-1-3-4-5-1z"/><path class="q0" d="M1177 2657l5-5-4-6-5 8zm-5 1l5-1-4-3-4 2z"/><path class="q1" d="M1168 2643l4 15-3-2-5-28z"/><path class="q5" d="M1163 2607l5 36-4-15-5-64z"/><path class="q10" d="M1158 2567l5 40-4-43-4-71z"/><path class="q14" d="M1154 2550l4 17-3-74-5-30zm-5 20l5-20-4-87-4 33z"/><path class="q10" d="M1144 2612l5-42-3-74-5 73z"/><path class="q5" d="M1140 2651l4-39-3-43-5 67z"/><path class="q1" d="M1135 2669l5-18-4-15-4 30z"/><path class="q0" d="M1131 2669l4 0-3-3-5 1zm-5-2l5 2-4-2-5-5z"/><path class="q1" d="M1121 2669l5-2-4-5-4 2z"/><path class="q0" d="M1117 2674l4-5-3-5-5 7zm-14 3l4-1-3-3-5 1zm-5 3l5-3-4-3-4 4zm-9-3l5 4-4-1-5-8z"/><path class="q1" d="M1084 2680l5-3-4-5-4 4z"/><path class="q0" d="M1080 2685l4-5-3-4-5 7zm-5-2l5 2-4-2-5-3z"/><path class="q1" d="M1070 2676l5 7-4-3-4-14z"/><path class="q2" d="M1066 2675l4 1-3-10-5-4z"/><path class="q1" d="M1061 2686l5-11-4-13-4 19z"/><path class="q0" d="M1056 2688l5-2-3-5-5 3z"/><path class="q3" d="M1052 2644l4 44-3-4-5-78z"/><path class="q13" d="M1047 2542l5 102-4-38-4-179z"/><path class="q28" d="M1043 2430l4 112-3-115-5-198z"/><path class="q38" d="M1038 2381l5 49-4-201-5-87zm-5 51l5-51-4-239-4 89z"/><path class="q28" d="M1029 2547l4-115-3-201-5 201z"/><path class="q13" d="M1024 2652l5-105-4-115-5 181z"/><path class="q3" d="M1019 2699l5-47-4-39-4 82z"/><path class="q0" d="M1015 2699l4 0-3-4-5-1z"/><path class="q1" d="M1010 2690l5 9-4-5-4-16z"/><path class="q2" d="M1005 2694l5-4-3-12-5 5z"/><path class="q1" d="M1001 2704l4-10-3-11-5 17z"/><path class="q0" d="M996 2708l5-4-4-4-4 6zm-4-2l4 2-3-2-5-5z"/><path class="q1" d="M987 2705l5 1-4-5-5-1z"/><path class="q0" d="M982 2712l5-7-4-5-4 10zm-28 6l5 0-3-2-5-1zm-4 1l4-1-3-3-5 1zm-5 2l5-2-4-3-4 3zm-9-3l5 5-4-2-5-10z"/><path class="q2" d="M931 2705l5 13-4-7-4-23z"/><path class="q4" d="M927 2691l4 14-3-17-5-25z"/><path class="q5" d="M922 2686l5 5-4-28-4-11zm-5 8l5-8-3-34-5 13z"/><path class="q4" d="M913 2711l4-17-3-29-5 28z"/><path class="q2" d="M908 2726l5-15-4-18-4 26z"/><path class="q0" d="M904 2733l4-7-3-7-5 12zm-10 1l5 0-4-2-4-1zm-4 2l4-2-3-3-5 2zm-5 2l5-2-4-3-5 3zm-65 17l5 0-4-2-4-1zm-5-2l5 2-3-3-5-4z"/><path class="q1" d="M811 2751l4 2-3-5-5-4zm-5 0l5 0-4-7-4-2zm-4 3l4-3-3-9-5 4zm-5 4l5-4-4-8-5 7z"/><path class="q0" d="M792 2763l5-5-4-5-4 7zm-4 2l4-2-3-3-5 4zm518-140l4-1-3-2-5-1zm-5 1l5-1-4-4-5 1zm-5 2l5-2-4-4-4 3zm-9-1l5 2-4-2-4-9z"/><path class="q1" d="M1282 2621l5 6-3-9-5-22z"/><path class="q3" d="M1278 2614l4 7-3-25-5-24z"/><path class="q4" d="M1273 2612l5 2-4-42-4-9zm-4 5l4-5-3-49-5 12z"/><path class="q3" d="M1264 2626l5-9-4-42-5 27z"/><path class="q1" d="M1259 2635l5-9-4-24-4 24z"/><path class="q0" d="M1255 2639l4-4-3-9-5 11zm-10 2l5-1-4-2-4-1zm-4 1l4-1-3-4-5 2zm-5 2l5-2-4-3-4 3zm-46 12l4 0-3-3-5-2zm-5 1l5-1-4-5-4 1zm-5 2l5-2-3-5-5 5z"/><path class="q1" d="M1171 2657l5 4-4-3-4-15z"/><path class="q2" d="M1167 2646l4 11-3-14-5-36z"/><path class="q5" d="M1162 2634l5 12-4-39-5-40z"/><path class="q7" d="M1157 2630l5 4-4-67-4-17zm-4 7l4-7-3-80-5 20z"/><path class="q5" d="M1148 2651l5-14-4-67-5 42z"/><path class="q2" d="M1143 2664l5-13-4-39-4 39z"/><path class="q1" d="M1139 2671l4-7-3-13-5 18z"/><path class="q0" d="M1130 2672l4 0-3-3-5-2zm-5 2l5-2-4-5-5 2zm-5 2l5-2-4-5-4 5zm-28 6l5 1-3-2-5-4zm-4 2l4-2-3-5-5 3zm-5 3l5-3-4-4-4 5zm-4 0l4 0-3-2-5-2zm-5-1l5 1-4-4-5-7z"/><path class="q1" d="M1069 2686l5 0-4-10-4-1zm-4 4l4-4-3-11-5 11z"/><path class="q0" d="M1060 2692l5-2-4-4-5 2z"/><path class="q2" d="M1055 2679l5 13-4-4-4-44z"/><path class="q6" d="M1051 2647l4 32-3-35-5-102z"/><path class="q13" d="M1046 2612l5 35-4-105-4-112z"/><path class="q18" d="M1041 2597l5 15-3-182-5-49zm-4 17l4-17-3-216-5 51z"/><path class="q13" d="M1032 2652l5-38-4-182-4 115z"/><path class="q6" d="M1028 2686l4-34-3-105-5 105z"/><path class="q2" d="M1023 2702l5-16-4-34-5 47z"/><path class="q0" d="M1018 2703l5-1-4-3-4 0z"/><path class="q1" d="M1014 2701l4 2-3-4-5-9zm-5 2l5-2-4-11-5 4z"/><path class="q0" d="M1004 2707l5-4-4-9-4 10zm-4 3l4-3-3-3-5 4zm-5 0l5 0-4-2-4-2zm-5 1l5-1-3-4-5-1zm-4 3l4-3-3-6-5 7zm-46 10l4 1-3-2-5-5z"/><path class="q1" d="M935 2721l5 3-4-6-5-13z"/><path class="q2" d="M930 2717l5 4-4-16-4-14zm-4-1l4 1-3-26-5-5zm-5 4l5-4-4-30-5 8zm-5 6l5-6-4-26-4 17z"/><path class="q1" d="M912 2732l4-6-3-15-5 15z"/><path class="q0" d="M907 2735l5-3-4-6-4 7zm-88 23l5 0-4-3-5-2zm-5 0l5 0-4-5-4-2z"/><path class="q1" d="M810 2759l4-1-3-7-5 0zm-5 2l5-2-4-8-4 3z"/><path class="q0" d="M800 2763l5-2-3-7-5 4zm-4 2l4-2-3-5-5 5zm495-133l4-1-3-2-5-2zm-5 1l5-1-4-5-5-6z"/><path class="q1" d="M1281 2634l5-1-4-12-4-7zm-4 1l4-1-3-20-5-2zm-5 1l5-1-4-23-4 5zm-5 2l5-2-3-19-5 9z"/><path class="q0" d="M1263 2640l4-2-3-12-5 9zm-5 1l5-1-4-5-4 4zm-83 23l4-1-3-2-5-4z"/><path class="q1" d="M1170 2664l5 0-4-7-4-11zm-5 1l5-1-3-18-5-12z"/><path class="q2" d="M1161 2666l4-1-3-31-5-4zm-5 1l5-1-4-36-4 7z"/><path class="q1" d="M1152 2669l4-2-3-30-5 14zm-5 2l5-2-4-18-5 13z"/><path class="q0" d="M1142 2673l5-2-4-7-4 7zm-65 18l5-1-3-3-5-1zm-4 1l4-1-3-5-5 0zm-5 1l5-1-4-6-4 4zm-9 2l5 0-4-3-5-13z"/><path class="q2" d="M1054 2694l5 1-4-16-4-32z"/><path class="q3" d="M1050 2693l4 1-3-47-5-35z"/><path class="q5" d="M1045 2693l5 0-4-81-5-15zm-5 3l5-3-4-96-4 17z"/><path class="q3" d="M1036 2699l4-3-3-82-5 38z"/><path class="q2" d="M1031 2703l5-4-4-47-4 34z"/><path class="q0" d="M1026 2705l5-2-3-17-5 16zm-9 2l5-1-4-3-4-2zm-4 2l4-2-3-6-5 2zm-5 1l5-1-4-6-5 4zm-70 19l5-1-3-4-5-3zm-4 1l4-1-3-8-5-4z"/><path class="q1" d="M929 2731l5-1-4-13-4-1zm-4 1l4-1-3-15-5 4z"/><path class="q0" d="M920 2734l5-2-4-12-5 6zm-5 1l5-1-4-8-4 6zm-97 27l5-1-4-3-5 0zm-5 2l5-2-4-4-4 1zm-4 1l4-1-3-5-5 2zm-5 1l5-1-4-4-5 2zm365-100l5-1-4-1-5 1zm-5 0l5 0-4-1-4 1zm-4 2l4-2-3 0-5 1zm-5 3l5-3-4-1-4 2zm-97 24l4 1-3-1-5-1zm-5-2l5 2-4-1-4-1z"/><path class="q1" d="M1049 2693l4 0-3 0-5 0zm-5 2l5-2-4 0-5 3z"/><path class="q0" d="M1039 2700l5-5-4 1-4 3zm-4 4l4-4-3-1-5 4zm258-70l5 0-4 0-4 0zm-5-1l5 1-3 0-5 1zm-4 0l4 0-3 2-5 1zm-5 2l5-2-4 3-4 1zm-4 4l4-4-3 2-5 2zm-5 3l5-3-4 0-5 2zm-93 22l5 2-4-1-4 0zm-4-3l4 3-3 1-5 1z"/><path class="q1" d="M1168 2661l5 0-4 5-5 0zm-5 2l5-2-4 5-4 2z"/><path class="q0" d="M1159 2669l4-6-3 5-5 3zm-5 4l5-4-4 2-4 2zm-88 22l5 3-4-2-5 0z"/><path class="q1" d="M1061 2686l5 9-4 1-4-1zm-4-9l4 9-3 9-5-2z"/><path class="q2" d="M1052 2674l5 3-4 16-4 0zm-5 6l5-6-3 19-5 2z"/><path class="q1" d="M1043 2691l4-11-3 15-5 5zm-5 11l5-11-4 9-4 4z"/><path class="q0" d="M1034 2708l4-6-3 2-5 3zm-93 22l5 1-4-1-5 1zm-5 1l5-1-4 1-4 1zm-4 2l4-2-3 1-5 2zm-5 3l5-3-4 1-5 1zm370-100l4 0-3-2-5 0zm-5-1l5 1-4-2-5-1z"/><path class="q1" d="M1287 2636l5-1-4-2-4 0zm-4 2l4-2-3-3-5 2z"/><path class="q0" d="M1278 2641l5-3-4-3-4 4zm-5 3l5-3-3-2-5 3zm-92 22l4 2-3-2-5-2z"/><path class="q1" d="M1176 2664l5 2-4-2-4-3zm-4 0l4 0-3-3-5 0zm-5 3l5-3-4-3-5 2zm-5 4l5-4-4-4-4 6z"/><path class="q0" d="M1158 2675l4-4-3-2-5 4zm-88 22l4 2-3-1-5-3z"/><path class="q1" d="M1065 2691l5 6-4-2-5-9z"/><path class="q2" d="M1060 2683l5 8-4-5-4-9zm-4-2l4 2-3-6-5-3zm-5 5l5-5-4-7-5 6zm-5 10l5-10-4-6-4 11z"/><path class="q1" d="M1042 2705l4-9-3-5-5 11z"/><path class="q0" d="M1037 2710l5-5-4-3-4 6zm-93 23l5 0-3-2-5-1zm-4 0l4 0-3-3-5 1zm-5 2l5-2-4-2-4 2zm-4 3l4-3-3-2-5 3zm369-99l5 0-4-3-4 0zm-4 1l4-1-3-3-5-1zm-5 1l5-1-4-5-5 1zm-5 2l5-2-4-5-4 2zm-4 2l4-2-3-5-5 3zm-5 1l5-1-4-4-5 3zm-93 25l5-1-4-2-4-2zm-4 0l4 0-3-5-5-2zm-5 1l5-1-4-7-4 0zm-5 2l5-2-3-8-5 3zm-4 2l4-2-3-7-5 4zm-5 2l5-2-4-5-4 4zm-88 24l5-1-4-2-4-2zm-5-1l5 1-3-5-5-6z"/><path class="q1" d="M1064 2700l4 1-3-10-5-8zm-5 1l5-1-4-17-4-2zm-4 2l4-2-3-20-5 5zm-5 3l5-3-4-17-5 10z"/><path class="q0" d="M1045 2709l5-3-4-10-4 9zm-4 3l4-3-3-4-5 5zm-93 24l5-1-4-2-5 0zm-5 2l5-2-4-3-4 0zm-4 1l4-1-3-5-5 2zm-5 2l5-2-4-4-4 3zm138-36l5-1-4-2-5-1zm-5 2l5-2-4-4-4-1zm-4 1l4-1-3-7-5 1zm-5 1l5-1-4-7-4 2zm-4 2l4-2-3-6-5 3zm-5 1l5-1-4-5-5 3zm133-37l5-1-4 1-4 1zm-4 2l4-2-3 1-5 1zm-102 27l4 1-3-1-5 1zm-5-2l5 2-4 1-5 2zm-5 0l5 0-4 5-4 1zm-4 3l4-3-3 6-5 1zm-5 4l5-4-4 4-4 2zm-5 4l5-4-3 2-5 1zm138-38l5 0-4-1-4 0zm-4 1l4-1-3-1-5 1zm-5 2l5-2-4-1-4 2zm-5 2l5-2-3-1-5 2zm-97 24l5 2-4-1-4-1z"/><path class="q1" d="M1075 2701l4 3-3 0-5-2zm-5 0l5 0-4 1-5 0zm-5 3l5-3-4 1-4 3zm-4 5l4-5-3 1-5 4z"/><path class="q0" d="M1056 2714l5-5-4 0-5 4zm138-34l5-1-4-4-5 0zm-5 1l5-1-4-5-4 1zm-4 1l4-1-3-5-5 2zm-5 2l5-2-4-4-5 2zm-97 27l4-2-3-3-5-2zm-5 1l5-1-4-7-4-3zm-5 1l5-1-3-11-5 0zm-4 1l4-1-3-12-5 3zm-5 2l5-2-4-10-4 5zm-4 1l4-1-3-7-5 5zm155-30l5 0-4 0-4 1zm-4 1l4-1-3 1-5 1zm-5 2l5-2-4 1-5 1zm-5 2l5-2-4 0-4 2zm129-34l5 0-4-2-5 1zm-5 2l5-2-4-1-4 2zm-106 28l4 0-3-1-5 0zm-5 1l5-1-4-1-4 1zm-4 2l4-2-3-1-5 2zm-5 2l5-2-4-1-5 2zm-107 29l5-1-4-1-4 1zm-4 2l4-2-3-1-5 1zm240-62l4-1-3-3-5 0zm-5 1l5-1-4-4-5 2zm-107 29l5-1-4-3-4 0zm-4 1l4-1-3-4-5 1zm-5 2l5-2-4-4-4 2zm-5 1l5-1-3-4-5 2zm-106 30l5-2-4-3-5 1zm-5 1l5-1-4-4-4 2zm253-68l5 2-4-1-5 1zm-5-2l5 2-4 2-4 2zm-4 0l4 0-3 6-5 1zm-5 3l5-3-4 7-5 1zm-5 4l5-4-4 5-4 2zm-4 4l4-4-3 3-5 1zm-93 20l5 4-4 0-4 1zm-5-4l5 4-3 5-5 1z"/><path class="q1" d="M1225 2683l4 1-3 10-5 1zm-5 4l5-4-4 12-4 2z"/><path class="q0" d="M1216 2693l4-6-3 10-5 1zm-5 6l5-6-4 5-5 2zm-93 24l5 1-4 0-4 1zm-4-3l4 3-3 2-5 1zm-5 0l5 0-4 6-5 1zm-5 3l5-3-4 7-4 2zm-4 5l4-5-3 6-5 1zm-5 4l5-4-4 2-4 2zm-93 24l5 1-4-1-4 1zm-4-2l4 2-3 1-5 1zm-5 0l5 0-4 4-4 2zm-4 3l4-3-3 6-5 1zm-5 4l5-4-4 4-5 1zm-5 3l5-3-4 1-4 2zm379-104l5 2-4-1-4 0z"/><path class="q1" d="M1354 2652l4 8-3 1-5-2zm-5-8l5 8-4 7-5-2z"/><path class="q2" d="M1344 2641l5 3-4 13-4 0zm-4 5l4-5-3 16-5 3z"/><path class="q1" d="M1335 2657l5-11-4 14-5 4zm-5 10l5-10-4 7-4 4z"/><path class="q0" d="M1326 2672l4-5-3 1-5 3zm-84 17l5 5-4-1-4-1z"/><path class="q1" d="M1238 2675l4 14-3 3-5-4z"/><path class="q2" d="M1233 2660l5 15-4 13-5-4z"/><path class="q3" d="M1228 2655l5 5-4 24-4-1zm-4 8l4-8-3 28-5 4z"/><path class="q2" d="M1219 2680l5-17-4 24-4 6z"/><path class="q1" d="M1214 2696l5-16-3 13-5 6z"/><path class="q0" d="M1210 2704l4-8-3 3-5 4zm-84 19l5 3-3-1-5-1z"/><path class="q1" d="M1122 2715l4 8-3 1-5-1zm-5-10l5 10-4 8-4-3z"/><path class="q2" d="M1113 2702l4 3-3 15-5 0zm-5 6l5-6-4 18-5 3z"/><path class="q1" d="M1103 2720l5-12-4 15-4 5zm-4 11l4-11-3 8-5 4z"/><path class="q0" d="M1094 2736l5-5-4 1-5 3zm-83 20l4 2-3-2-5 1zm-5-6l5 6-4 1-5-1z"/><path class="q1" d="M1001 2742l5 8-4 6-4-2zm-4-2l4 2-3 12-5 0zm-5 5l5-5-4 14-4 3zm-5 10l5-10-3 12-5 4z"/><path class="q0" d="M983 2764l4-9-3 6-5 3zm-5 4l5-4-4 0-4 3zm-88 21l5 1-4-1-4 1zm-5-1l5 1-3 1-5 0zm-4 0l4 0-3 2-5 1zm-5 2l5-2-4 3-4 2zm-4 4l4-4-3 3-5 2zm-5 4l5-4-4 1-5 2zm495-140l4 6-3-2-5-2z"/><path class="q1" d="M1357 2644l5 14-4 2-4-8z"/><path class="q2" d="M1352 2629l5 15-3 8-5-8z"/><path class="q3" d="M1348 2623l4 6-3 15-5-3zm-5 8l5-8-4 18-4 5z"/><path class="q2" d="M1339 2649l4-18-3 15-5 11z"/><path class="q1" d="M1334 2666l5-17-4 8-5 10z"/><path class="q0" d="M1329 2674l5-8-4 1-4 5zm-65 15l5 1-4-1-4 0zm-4 1l4-1-3 0-5 1zm-5 4l5-4-4 0-4 2zm-9-9l4 10-3-1-5-5z"/><path class="q2" d="M1241 2661l5 24-4 4-4-14z"/><path class="q4" d="M1237 2634l4 27-3 14-5-15z"/><path class="q5" d="M1232 2623l5 11-4 26-5-5zm-5 13l5-13-4 32-4 8z"/><path class="q4" d="M1223 2666l4-30-3 27-5 17z"/><path class="q2" d="M1218 2693l5-27-4 14-5 16z"/><path class="q0" d="M1213 2705l5-12-4 3-4 8zm-9 0l5 1-4-1-4 0zm-4 2l4-2-3 0-5 2zm-5 4l5-4-4 0-5 2zm-65 10l5 6-4-1-5-3z"/><path class="q1" d="M1125 2705l5 16-4 2-4-8z"/><path class="q3" d="M1121 2688l4 17-3 10-5-10z"/><path class="q4" d="M1116 2681l5 7-4 17-4-3zm-5 9l5-9-3 21-5 6z"/><path class="q3" d="M1107 2711l4-21-3 18-5 12z"/><path class="q1" d="M1102 2729l5-18-4 9-4 11z"/><path class="q0" d="M1098 2738l4-9-3 2-5 5zm-84 17l5 4-4-1-4-2z"/><path class="q1" d="M1010 2743l4 12-3 1-5-6z"/><path class="q2" d="M1005 2729l5 14-4 7-5-8z"/><path class="q3" d="M1000 2724l5 5-4 13-4-2zm-4 8l4-8-3 16-5 5z"/><path class="q2" d="M991 2748l5-16-4 13-5 10z"/><path class="q1" d="M986 2762l5-14-4 7-4 9z"/><path class="q0" d="M982 2770l4-8-3 2-5 4zm-88 18l4 3-3-1-5-1z"/><path class="q1" d="M889 2785l5 3-4 1-5-1zm-5-1l5 1-4 3-4 0zm-4 3l4-3-3 4-5 2zm-5 6l5-6-4 3-4 4z"/><path class="q0" d="M870 2799l5-6-3 1-5 4zm509-138l5-1-4-1-4 0zm-4 3l4-3-3-2-5 3zm-10-5l5 6-4-1-4-6z"/><path class="q2" d="M1361 2642l4 17-3-1-5-14z"/><path class="q3" d="M1356 2623l5 19-4 2-5-15z"/><path class="q4" d="M1351 2616l5 7-4 6-4-6zm-4 10l4-10-3 7-5 8z"/><path class="q3" d="M1342 2647l5-21-4 5-4 18z"/><path class="q2" d="M1337 2666l5-19-3 2-5 17z"/><path class="q0" d="M1333 2675l4-9-3 0-5 8zm-9 1l4 1-3-2-5 0zm-5 2l5-2-4-1-5 1zm-51 12l5 2-4-2-5-1zm-5 1l5-1-4-1-4 1zm-4 4l4-4-3-1-5 4z"/><path class="q1" d="M1249 2685l5 12-4-2-4-10z"/><path class="q3" d="M1245 2655l4 30-3 0-5-24z"/><path class="q5" d="M1240 2623l5 32-4 6-4-27z"/><path class="q8" d="M1235 2610l5 13-3 11-5-11zm-4 16l4-16-3 13-5 13z"/><path class="q5" d="M1226 2661l5-35-4 10-4 30z"/><path class="q3" d="M1222 2692l4-31-3 5-5 27z"/><path class="q1" d="M1217 2707l5-15-4 1-5 12z"/><path class="q0" d="M1208 2706l4 2-3-2-5-1zm-5 2l5-2-4-1-4 2zm-5 4l5-4-3-1-5 4zm-51 12l5-1-3-1-5 1zm-4 3l4-3-3-1-5 3zm-9-6l4 8-3-2-5-6z"/><path class="q2" d="M1129 2702l5 19-4 0-5-16z"/><path class="q4" d="M1124 2681l5 21-4 3-4-17z"/><path class="q5" d="M1120 2673l4 8-3 7-5-7zm-5 11l5-11-4 8-5 9z"/><path class="q4" d="M1110 2707l5-23-4 6-4 21z"/><path class="q2" d="M1106 2729l4-22-3 4-5 18z"/><path class="q0" d="M1101 2739l5-10-4 0-4 9zm-9 1l4 0-3-1-5-1zm-5 1l5-1-4-2-4 2zm-69 14l4 6-3-2-5-4z"/><path class="q1" d="M1013 2741l5 14-4 0-4-12z"/><path class="q3" d="M1008 2724l5 17-3 2-5-14z"/><path class="q4" d="M1004 2718l4 6-3 5-5-5zm-5 9l5-9-4 6-4 8z"/><path class="q3" d="M995 2746l4-19-3 5-5 16z"/><path class="q1" d="M990 2763l5-17-4 2-5 14z"/><path class="q0" d="M985 2771l5-8-4-1-4 8zm-88 18l5 3-4-1-4-3z"/><path class="q1" d="M893 2784l4 5-3-1-5-3zm-5-1l5 1-4 1-5-1zm-5 4l5-4-4 1-4 3zm-4 7l4-7-3 0-5 6z"/><path class="q0" d="M874 2800l5-6-4-1-5 6zm509-137l4-1-3-2-5 1zm-5 3l5-3-4-2-4 3zm-9-4l4 5-3-2-5-6z"/><path class="q2" d="M1364 2648l5 14-4-3-4-17z"/><path class="q3" d="M1360 2632l4 16-3-6-5-19z"/><path class="q4" d="M1355 2626l5 6-4-9-5-7zm-5 9l5-9-4-10-4 10z"/><path class="q3" d="M1346 2653l4-18-3-9-5 21z"/><path class="q2" d="M1341 2669l5-16-4-6-5 19z"/><path class="q0" d="M1336 2677l5-8-4-3-4 9zm-9 1l5 0-4-1-4-1zm-5 2l5-2-3-2-5 2zm-51 13l5 1-3-2-5-2zm-4 0l4 0-3-3-5 1zm-5 4l5-4-4-2-4 4z"/><path class="q1" d="M1253 2689l5 10-4-2-5-12z"/><path class="q3" d="M1248 2664l5 25-4-4-4-30z"/><path class="q5" d="M1244 2637l4 27-3-9-5-32z"/><path class="q8" d="M1239 2626l5 11-4-14-5-13zm-5 14l5-14-4-16-4 16z"/><path class="q5" d="M1230 2669l4-29-3-14-5 35z"/><path class="q3" d="M1225 2696l5-27-4-8-4 31z"/><path class="q1" d="M1221 2709l4-13-3-4-5 15z"/><path class="q0" d="M1211 2709l5 1-4-2-4-2zm-4 2l4-2-3-3-5 2zm-5 3l5-3-4-3-5 4zm-51 12l5 0-4-3-5 1zm-5 3l5-3-4-2-4 3zm-9-4l5 6-4-2-4-8z"/><path class="q2" d="M1132 2709l5 16-3-4-5-19z"/><path class="q4" d="M1128 2691l4 18-3-7-5-21z"/><path class="q5" d="M1123 2684l5 7-4-10-4-8zm-4 10l4-10-3-11-5 11z"/><path class="q4" d="M1114 2714l5-20-4-10-5 23z"/><path class="q2" d="M1109 2732l5-18-4-7-4 22z"/><path class="q0" d="M1105 2741l4-9-3-3-5 10zm-10 1l5 0-4-2-4 0zm-4 1l4-1-3-2-5 1zm-70 15l5 5-4-2-4-6z"/><path class="q1" d="M1017 2746l4 12-3-3-5-14z"/><path class="q3" d="M1012 2733l5 13-4-5-5-17z"/><path class="q4" d="M1007 2727l5 6-4-9-4-6zm-4 8l4-8-3-9-5 9z"/><path class="q3" d="M998 2751l5-16-4-8-4 19z"/><path class="q1" d="M993 2766l5-15-3-5-5 17z"/><path class="q0" d="M989 2773l4-7-3-3-5 8zm-88 18l4 3-3-2-5-3z"/><path class="q1" d="M896 2788l5 3-4-2-4-5zm-4-1l4 1-3-4-5-1zm-5 4l5-4-4-4-5 4zm-5 6l5-6-4-4-4 7z"/><path class="q0" d="M878 2802l4-5-3-3-5 6zm494-136l5 3-4-2-4-5z"/><path class="q1" d="M1368 2659l4 7-3-4-5-14z"/><path class="q2" d="M1363 2651l5 8-4-11-4-16z"/><path class="q3" d="M1358 2648l5 3-3-19-5-6zm-4 5l4-5-3-22-5 9z"/><path class="q2" d="M1349 2664l5-11-4-18-4 18z"/><path class="q1" d="M1345 2674l4-10-3-11-5 16z"/><path class="q0" d="M1340 2679l5-5-4-5-5 8zm-65 17l5 0-4-2-5-1zm-5 0l5 0-4-3-4 0zm-4 3l4-3-3-3-5 4zm-9-4l4 6-3-2-5-10z"/><path class="q2" d="M1252 2682l5 13-4-6-5-25z"/><path class="q4" d="M1247 2667l5 15-4-18-4-27z"/><path class="q5" d="M1243 2661l4 6-3-30-5-11zm-5 9l5-9-4-35-5 14z"/><path class="q4" d="M1233 2687l5-17-4-30-4 29z"/><path class="q2" d="M1229 2703l4-16-3-18-5 27z"/><path class="q0" d="M1224 2711l5-8-4-7-4 13zm-9 1l4 0-3-2-5-1zm-5 1l5-1-4-3-4 2zm-4 3l4-3-3-2-5 3zm-65 14l4 3-3-2-5-6z"/><path class="q1" d="M1136 2721l5 9-4-5-5-16z"/><path class="q3" d="M1131 2712l5 9-4-12-4-18z"/><path class="q4" d="M1127 2708l4 4-3-21-5-7zm-5 6l5-6-4-24-4 10z"/><path class="q3" d="M1117 2726l5-12-3-20-5 20z"/><path class="q1" d="M1113 2737l4-11-3-12-5 18z"/><path class="q0" d="M1108 2743l5-6-4-5-4 9zm-83 20l4 2-3-2-5-5z"/><path class="q1" d="M1020 2756l5 7-4-5-4-12z"/><path class="q2" d="M1016 2749l4 7-3-10-5-13z"/><path class="q3" d="M1011 2747l5 2-4-16-5-6zm-5 5l5-5-4-20-4 8z"/><path class="q2" d="M1002 2761l4-9-3-17-5 16z"/><path class="q1" d="M997 2770l5-9-4-10-5 15z"/><path class="q0" d="M992 2775l5-5-4-4-4 7zm-88 21l5 1-4-3-4-3z"/><path class="q1" d="M900 2794l4 2-3-5-5-3zm-5 0l5 0-4-6-4-1zm-5 3l5-3-3-7-5 4zm-4 4l4-4-3-6-5 6z"/><path class="q0" d="M881 2805l5-4-4-4-4 5zm495-134l5 0-4-2-5-3z"/><path class="q1" d="M1371 2669l5 2-4-5-4-7zm-4-2l4 2-3-10-5-8z"/><path class="q2" d="M1362 2667l5 0-4-16-5-3zm-5 3l5-3-4-19-4 5z"/><path class="q1" d="M1353 2674l4-4-3-17-5 11zm-5 4l5-4-4-10-4 10z"/><path class="q0" d="M1343 2681l5-3-3-4-5 5zm-83 21l5 1-4-2-4-6z"/><path class="q1" d="M1255 2698l5 4-3-7-5-13z"/><path class="q2" d="M1251 2694l4 4-3-16-5-15z"/><path class="q3" d="M1246 2693l5 1-4-27-4-6zm-4 4l4-4-3-32-5 9z"/><path class="q2" d="M1237 2703l5-6-4-27-5 17z"/><path class="q1" d="M1232 2709l5-6-4-16-4 16z"/><path class="q0" d="M1228 2713l4-4-3-6-5 8zm-84 21l5 1-4-2-4-3z"/><path class="q1" d="M1140 2733l4 1-3-4-5-9zm-5-3l5 3-4-12-5-9z"/><path class="q2" d="M1130 2730l5 0-4-18-4-4zm-4 3l4-3-3-22-5 6z"/><path class="q1" d="M1121 2738l5-5-4-19-5 12zm-5 4l5-4-4-12-4 11z"/><path class="q0" d="M1112 2745l4-3-3-5-5 6zm-84 22l5-1-4-1-4-2zm-4-2l4 2-3-4-5-7z"/><path class="q1" d="M1019 2764l5 1-4-9-4-7zm-5 0l5 0-3-15-5-2zm-4 3l4-3-3-17-5 5zm-5 4l5-4-4-15-4 9z"/><path class="q0" d="M1001 2774l4-3-3-10-5 9zm-5 3l5-3-4-4-5 5zm-88 23l5-1-4-2-5-1zm-5 0l5 0-4-4-4-2zm-4 1l4-1-3-6-5 0zm-5 2l5-2-4-7-5 3zm-5 2l5-2-4-6-4 4zm-4 2l4-2-3-4-5 4zm490-132l4-1-3-3-5-2zm-5 1l5-1-4-6-4-2zm-4 1l4-1-3-9-5 0zm-5 1l5-1-4-10-5 3zm-5 2l5-2-4-8-4 4zm-4 1l4-1-3-6-5 4zm-93 25l5-1-4-3-5-4zm-5 1l5-1-4-8-4-4z"/><path class="q1" d="M1250 2709l4-2-3-13-5-1zm-5 1l5-1-4-16-4 4z"/><path class="q0" d="M1240 2712l5-2-3-13-5 6zm-4 1l4-1-3-9-5 6zm-93 26l5-2-4-3-4-1zm-5 1l5-1-3-6-5-3zm-4 1l4-1-3-10-5 0zm-5 1l5-1-4-11-4 3zm-4 2l4-2-3-9-5 5zm-5 1l5-1-4-6-5 4zm-93 26l5-2-4-2-4-2zm-4 1l4-1-3-6-5-1zm-5 1l5-1-4-8-5 0zm-5 1l5-1-4-9-4 3zm-4 2l4-2-3-7-5 4zm-5 1l5-1-4-5-4 3zm369-99l4-1-3 0-5 1zm-5 2l5-2-4 0-5 2zm-107 28l5 0-3 0-5 1zm-4 1l4-1-3 1-5 1zm-5 2l5-2-4 1-4 1zm-4 2l4-2-3 0-5 2zm-107 29l5-1-4 0-5 1zm-5 2l5-2-4 0-4 2zm240-64l5 0-4-3-4 1zm-4 2l4-2-3-2-5 2zm-107 28l5 0-4-2-5 0zm-5 1l5-1-4-2-4 1zm-4 2l4-2-3-2-5 2zm-5 2l5-2-4-2-4 2zm-106 29l4-1-3-2-5 1zm-5 2l5-2-4-2-5 2zm129-32l4-1-3-3-5 0zm-5 1l5-1-4-4-5 1zm-5 2l5-2-4-4-4 2zm-4 1l4-1-3-4-5 2zm184-16l4 1-3-1-5 1zm-5 0l5 0-4 1-4 1zm-4 0l4 0-3 2-5 1zm-5 2l5-2-4 3-5 2zm-5 3l5-3-4 3-4 1zm-4 3l4-3-3 1-5 2zm-93 24l5 1-4-1-5 1zm-5 0l5 0-4 1-4 1zm-4 0l4 0-3 2-5 1zm-5 2l5-2-4 3-5 2zm-5 3l5-3-4 3-4 1zm-4 3l4-3-3 1-5 1zm-93 24l5 0-4 0-4 1zm-5-1l5 1-3 1-5 1zm-4 0l4 0-3 3-5 1zm-5 2l5-2-4 4-4 2zm-4 4l4-4-3 4-5 1zm-5 3l5-3-4 1-5 1zm263-71l5 1-4-2-5 1zm-5-5l5 5-4 0-4-1z"/><path class="q1" d="M1438 2694l4 4-3 4-5 0zm-5-2l5 2-4 8-4 0zm-5 4l5-4-3 10-5 2zm-4 8l4-8-3 8-5 3z"/><path class="q0" d="M1419 2710l5-6-4 3-4 3zm-4 4l4-4-3 0-5 2zm-84 21l5 1-4-2-4 1zm-4-4l4 4-3 0-5-1z"/><path class="q1" d="M1322 2727l5 4-4 3-5 0zm-5-2l5 2-4 7-4 0zm-4 4l4-4-3 9-5 2zm-5 7l5-7-4 7-5 3z"/><path class="q0" d="M1303 2742l5-6-4 3-4 3zm-4 4l4-4-3 0-5 2zm-84 20l5 2-4-2-4 0zm-4-5l4 5-3 0-5 0z"/><path class="q1" d="M1206 2755l5 6-4 5-5-1zm-5-1l5 1-4 10-4 0zm-4 4l4-4-3 11-5 2zm-5 8l5-8-4 9-4 4z"/><path class="q0" d="M1187 2774l5-8-3 5-5 3zm-4 4l4-4-3 0-5 2zm-88 21l4 1-3-1-5 0zm-5-2l5 2-4 0-4 1zm-4 0l4 0-3 3-5 1zm-5 3l5-3-4 4-5 1zm-5 4l5-4-4 2-4 3zm-4 4l4-4-3 1-5 2zm-93 24l5 0-4-1-5 1zm-5-1l5 1-4 0-4 0zm-4 0l4 0-3 1-5 1zm-5 2l5-2-4 2-4 2zm-5 4l5-4-3 2-5 2zm-4 3l4-3-3 0-5 2zm495-138l4 3-3-1-5-1z"/><path class="q1" d="M1446 2694l5 8-4 1-5-5zm-5-9l5 9-4 4-4-4z"/><path class="q2" d="M1437 2681l4 4-3 9-5-2zm-5 6l5-6-4 11-5 4z"/><path class="q1" d="M1427 2699l5-12-4 9-4 8zm-4 11l4-11-3 5-5 6z"/><path class="q0" d="M1418 2716l5-6-4 0-4 4zm-83 19l4 2-3-1-5-1z"/><path class="q1" d="M1330 2727l5 8-4 0-4-4zm-5-9l5 9-3 4-5-4z"/><path class="q2" d="M1321 2715l4 3-3 9-5-2zm-5 6l5-6-4 10-4 4z"/><path class="q1" d="M1312 2732l4-11-3 8-5 7zm-5 10l5-10-4 4-5 6z"/><path class="q0" d="M1302 2748l5-6-4 0-4 4zm-83 18l4 3-3-1-5-2z"/><path class="q1" d="M1214 2756l5 10-4 0-4-5z"/><path class="q2" d="M1210 2745l4 11-3 5-5-6zm-5-4l5 4-4 10-5-1zm-5 6l5-6-4 13-4 4zm-4 14l4-14-3 11-5 8z"/><path class="q1" d="M1191 2773l5-12-4 5-5 8z"/><path class="q0" d="M1186 2779l5-6-4 1-4 4zm-88 19l5 3-4-1-4-1z"/><path class="q1" d="M1094 2794l4 4-3 1-5-2zm-5-1l5 1-4 3-4 0zm-5 4l5-4-3 4-5 3zm-4 6l4-6-3 3-5 4z"/><path class="q0" d="M1075 2808l5-5-4 1-4 4zm-92 23l4 2-3-1-5 0zm-5-2l5 2-4 1-5-1z"/><path class="q1" d="M973 2829l5 0-4 2-4 0zm-4 2l4-2-3 2-5 2z"/><path class="q0" d="M964 2836l5-5-4 2-5 4zm-5 5l5-5-4 1-4 3zm495-138l5 4-4-2-4-3z"/><path class="q1" d="M1449 2693l5 10-3-1-5-8z"/><path class="q2" d="M1445 2682l4 11-3 1-5-9z"/><path class="q3" d="M1440 2678l5 4-4 3-4-4zm-4 6l4-6-3 3-5 6z"/><path class="q2" d="M1431 2698l5-14-4 3-5 12z"/><path class="q1" d="M1426 2711l5-13-4 1-4 11z"/><path class="q0" d="M1422 2717l4-6-3-1-5 6zm-84 18l5 4-4-2-4-2z"/><path class="q1" d="M1334 2726l4 9-3 0-5-8z"/><path class="q2" d="M1329 2716l5 10-4 1-5-9z"/><path class="q3" d="M1324 2712l5 4-4 2-4-3zm-4 6l4-6-3 3-5 6z"/><path class="q2" d="M1315 2731l5-13-4 3-4 11z"/><path class="q1" d="M1310 2743l5-12-3 1-5 10z"/><path class="q0" d="M1306 2749l4-6-3-1-5 6zm-84 17l5 5-4-2-4-3z"/><path class="q1" d="M1218 2754l4 12-3 0-5-10z"/><path class="q2" d="M1213 2741l5 13-4 2-4-11z"/><path class="q3" d="M1208 2736l5 5-3 4-5-4zm-4 8l4-8-3 5-5 6z"/><path class="q2" d="M1199 2759l5-15-4 3-4 14z"/><path class="q1" d="M1195 2774l4-15-3 2-5 12z"/><path class="q0" d="M1190 2781l5-7-4-1-5 6zm-88 17l5 4-4-1-5-3z"/><path class="q1" d="M1097 2794l5 4-4 0-4-4zm-4-1l4 1-3 0-5-1zm-5 3l5-3-4 0-5 4zm-5 7l5-7-4 1-4 6z"/><path class="q0" d="M1079 2810l4-7-3 0-5 5zm-93 22l5 2-4-1-4-2z"/><path class="q1" d="M981 2829l5 3-3-1-5-2zm-4-1l4 1-3 0-5 0zm-5 4l5-4-4 1-4 2zm-4 5l4-5-3-1-5 5z"/><path class="q0" d="M963 2842l5-5-4-1-5 5zm495-136l4 3-3-2-5-4z"/><path class="q1" d="M1453 2697l5 9-4-3-5-10z"/><path class="q2" d="M1448 2688l5 9-4-4-4-11z"/><path class="q3" d="M1444 2685l4 3-3-6-5-4zm-5 6l5-6-4-7-4 6z"/><path class="q2" d="M1434 2703l5-12-3-7-5 14z"/><path class="q1" d="M1430 2713l4-10-3-5-5 13z"/><path class="q0" d="M1425 2719l5-6-4-2-4 6zm-83 19l4 3-3-2-5-4z"/><path class="q1" d="M1337 2730l5 8-4-3-4-9z"/><path class="q2" d="M1333 2722l4 8-3-4-5-10z"/><path class="q3" d="M1328 2719l5 3-4-6-5-4zm-5 5l5-5-4-7-4 6z"/><path class="q2" d="M1319 2735l4-11-3-6-5 13z"/><path class="q1" d="M1314 2746l5-11-4-4-5 12z"/><path class="q0" d="M1309 2751l5-5-4-3-4 6zm-83 18l5 3-4-1-5-5z"/><path class="q1" d="M1221 2759l5 10-4-3-4-12z"/><path class="q2" d="M1217 2748l4 11-3-5-5-13z"/><path class="q3" d="M1212 2744l5 4-4-7-5-5zm-5 7l5-7-4-8-4 8z"/><path class="q2" d="M1203 2764l4-13-3-7-5 15z"/><path class="q1" d="M1198 2777l5-13-4-5-4 15z"/><path class="q0" d="M1194 2783l4-6-3-3-5 7zm-89 18l5 3-3-2-5-4z"/><path class="q1" d="M1101 2798l4 3-3-3-5-4zm-5-1l5 1-4-4-4-1zm-4 3l4-3-3-4-5 3zm-5 6l5-6-4-4-5 7z"/><path class="q0" d="M1082 2812l5-6-4-3-4 7zm-92 23l4 1-3-2-5-2z"/><path class="q1" d="M985 2832l5 3-4-3-5-3zm-5 0l5 0-4-3-4-1zm-4 3l4-3-3-4-5 4zm-5 5l5-5-4-3-4 5z"/><path class="q0" d="M966 2844l5-4-3-3-5 5zm495-135l5 1-4-1-4-3z"/><path class="q1" d="M1457 2705l4 4-3-3-5-9zm-5-5l5 5-4-8-5-9z"/><path class="q2" d="M1447 2699l5 1-4-12-4-3zm-4 4l4-4-3-14-5 6z"/><path class="q1" d="M1438 2710l5-7-4-12-5 12zm-5 7l5-7-4-7-4 10z"/><path class="q0" d="M1429 2721l4-4-3-4-5 6zm-84 20l5 1-4-1-4-3z"/><path class="q1" d="M1341 2738l4 3-3-3-5-8zm-5-5l5 5-4-8-4-8z"/><path class="q2" d="M1331 2732l5 1-3-11-5-3zm-4 4l4-4-3-13-5 5z"/><path class="q1" d="M1322 2743l5-7-4-12-4 11zm-4 6l4-6-3-8-5 11z"/><path class="q0" d="M1313 2753l5-4-4-3-5 5zm-83 20l4 1-3-2-5-3z"/><path class="q1" d="M1225 2768l5 5-4-4-5-10z"/><path class="q2" d="M1220 2762l5 6-4-9-4-11zm-4-2l4 2-3-14-5-4zm-5 5l5-5-4-16-5 7zm-5 8l5-8-4-14-4 13z"/><path class="q1" d="M1202 2780l4-7-3-9-5 13z"/><path class="q0" d="M1197 2784l5-4-4-3-4 6zm-88 21l5 2-4-3-5-3z"/><path class="q1" d="M1104 2804l5 1-4-4-4-3zm-4 0l4 0-3-6-5-1zm-5 3l5-3-4-7-4 3zm-5 3l5-3-3-7-5 6z"/><path class="q0" d="M1086 2814l4-4-3-4-5 6zm-93 24l5 1-4-3-4-1zm-4-1l4 1-3-3-5-3z"/><path class="q1" d="M984 2838l5-1-4-5-5 0zm-5 2l5-2-4-6-4 3z"/><path class="q0" d="M975 2843l4-3-3-5-5 5zm-5 3l5-3-4-3-5 4zm495-133l4-1-3-2-5-1zm-5-1l5 1-4-4-4-4z"/><path class="q1" d="M1455 2712l5 0-3-7-5-5zm-4 0l4 0-3-12-5-1zm-5 2l5-2-4-13-4 4zm-4 3l4-3-3-11-5 7z"/><path class="q0" d="M1437 2720l5-3-4-7-5 7zm-5 2l5-2-4-3-4 4zm-83 23l5-1-4-2-5-1zm-5-1l5 1-4-4-4-3z"/><path class="q1" d="M1340 2744l4 0-3-6-5-5zm-5 0l5 0-4-11-5-1zm-5 2l5-2-4-12-4 4zm-4 3l4-3-3-10-5 7z"/><path class="q0" d="M1321 2752l5-3-4-6-4 6zm-5 2l5-2-3-3-5 4zm-83 22l5 0-4-2-4-1zm-5 0l5 0-3-3-5-5z"/><path class="q1" d="M1224 2775l4 1-3-8-5-6zm-5 0l5 0-4-13-4-2zm-4 2l4-2-3-15-5 5zm-5 4l5-4-4-12-5 8z"/><path class="q0" d="M1205 2784l5-3-4-8-4 7zm-4 2l4-2-3-4-5 4zm-88 23l4 0-3-2-5-2zm-5 1l5-1-4-4-5-1zm-5 1l5-1-4-6-4 0zm-4 1l4-1-3-7-5 3zm-5 3l5-3-4-5-5 3zm-5 2l5-2-4-5-4 4zm-92 25l4-1-3-2-5-1zm-5 0l5 0-4-4-4-1zm-5 1l5-1-3-5-5 1zm-4 2l4-2-3-5-5 2zm-5 2l5-2-4-5-4 3zm-4 2l4-2-3-4-5 3zm490-133l4-1-3-2-5-1zm-5 1l5-1-4-4-5 0zm-5 2l5-2-4-5-4 0zm-4 1l4-1-3-7-5 2zm-5 1l5-1-4-6-4 3zm-4 2l4-2-3-4-5 3zm-93 25l4-1-3-2-5-1zm-5 1l5-1-4-4-4 0zm-4 2l4-2-3-5-5 0zm-5 1l5-1-4-7-5 2zm-5 1l5-1-4-6-4 3zm-4 2l4-2-3-4-5 3zm-93 25l5-1-4-3-5 0zm-5 1l5-1-4-4-4-1zm-4 2l4-2-3-6-5 0zm-5 1l5-1-4-8-4 2zm-5 1l5-1-3-7-5 4zm-4 2l4-2-3-4-5 3z"/></g>
<path class="ax" d="M106 1327.4L106 963.9M106 1327.4L461.4 1493.5M461.4 1493.5L924.8 1365.8M106 1327.4L95.2 1322.3M106 1266.8L95.2 1261.8M106 1206.2L95.2 1201.2M106 1145.7L95.2 1140.6M106 1085.1L95.2 1080M106 1024.5L95.2 1019.4M106 963.9L95.2 958.8M461.4 1493.5L449.9 1496.7M461.4 1493.5L472.2 1498.6M372.5 1452L361 1455.2M577.2 1461.6L588.1 1466.6M283.7 1410.5L272.2 1413.6M693.1 1429.7L703.9 1434.7M194.8 1368.9L183.3 1372.1M808.9 1397.7L819.8 1402.8M106 1327.4L94.5 1330.6M924.8 1365.8L935.6 1370.9"/>
<g class="tk" font-size="24.65"><text x="85.8" y="1327.6" text-anchor="end">0</text><text x="85.8" y="1267" text-anchor="end">0.05</text><text x="85.8" y="1206.4" text-anchor="end">0.1</text><text x="85.8" y="1145.9" text-anchor="end">0.15</text><text x="85.8" y="1085.3" text-anchor="end">0.2</text><text x="85.8" y="1024.7" text-anchor="end">0.25</text><text x="85.8" y="964.1" text-anchor="end">0.3</text><text x="440.1" y="1522.7" text-anchor="end">-1</text><text x="481.4" y="1526.1">-1</text><text x="351.2" y="1481.2" text-anchor="end">-0.5</text><text x="597.2" y="1494.1">-0.5</text><text x="262.4" y="1439.7" text-anchor="end">0</text><text x="713.1" y="1462.2">0</text><text x="173.5" y="1398.1" text-anchor="end">0.5</text><text x="828.9" y="1430.3">0.5</text><text x="84.7" y="1356.6" text-anchor="end">1</text><text x="944.8" y="1398.4">1</text></g>
<text class="ti" x="515.4" y="825.9" font-size="28.50" text-anchor="middle">(c)</text>
<text class="tk" x="525.1" y="892.3" font-size="24.44"><tspan font-weight="normal">l</tspan>=2</text>
<text class="se" transform="translate(26 1114) rotate(-90)" font-size="36.56" text-anchor="middle">Fraunhofer Diffraction</text>
<text class="se" x="175.6" y="1472.8" font-size="36.40">sin<tspan font-style="italic">&#952;</tspan><tspan font-size="27.66" dy="16.6">y</tspan></text>
<text class="se" x="690.8" y="1503.3" font-size="36.40">sin<tspan font-style="italic">&#952;</tspan><tspan font-size="27.66" dy="16.6">x</tspan></text>
</g>
<g id="pd">
<path class="gr" d="M1141.5 1309.8L1608.8 1180.9M1141.5 1248.8L1608.8 1119.9M1141.5 1187.7L1608.8 1058.8M1141.5 1126.7L1608.8 997.8M1141.5 1065.7L1608.8 936.8M1141.5 1004.6L1608.8 875.7M1141.5 943.6L1608.8 814.7M1258.3 1277.6L1258.3 911.4M1375.2 1245.3L1375.2 879.1M1492 1213.1L1492 846.9M1608.8 1180.9L1608.8 814.7"/>
<path class="gr" d="M1608.8 1180.9L1966.9 1348.7M1608.8 1119.9L1966.9 1287.7M1608.8 1058.8L1966.9 1226.6M1608.8 997.8L1966.9 1165.6M1608.8 936.8L1966.9 1104.6M1608.8 875.7L1966.9 1043.5M1608.8 814.7L1966.9 982.5M1608.8 1180.9L1608.8 814.7M1698.4 1222.9L1698.4 856.7M1787.9 1264.8L1787.9 898.6M1877.4 1306.8L1877.4 940.6M1966.9 1348.7L1966.9 982.5"/>
<path class="gr" d="M1616.4 1445.4L1258.3 1277.6M1410 1435.6L1877.4 1306.8M1733.2 1413.2L1375.2 1245.3M1320.5 1393.7L1787.9 1264.8M1850.1 1380.9L1492 1213.1M1231 1351.7L1698.4 1222.9M1966.9 1348.7L1608.8 1180.9M1141.5 1309.8L1608.8 1180.9"/>
<path class="fl" d="M1515.7 1433.8L1845.2 1343L1592.7 1224.7L1263.2 1315.5 Z"/>
<g class="pk" transform="scale(0.5)"><path class="q0" d="M3026 2526l4 0-3 0-5 1zm-5 0l5 0-4 1-4 1zm-5 2l5-2-3 2-5 1zm-4 3l4-3-3 1-5 2zm-103 27l5 0-4 0-5 1zm-5 1l5-1-4 1-4 1zm-4 2l4-2-3 1-5 2zm-5 3l5-3-4 1-5 1zm247-67l4 0-3-2-5 1zm-5 2l5-2-4-1-5 2zm-103 28l5 1-4-2-5 0zm-5-1l5 1-4-1-4 0zm-4 1l4-1-3 0-5 0zm-5 2l5-2-4-1-5 2zm-5 3l5-3-4-1-4 3zm-4 3l4-3-3-1-5 3zm-98 24l4 1-3-2-5 0zm-5 1l5-1-4-1-5 1zm-5 2l5-2-4-1-4 2zm-4 3l4-3-3-1-5 3zm246-64l5-1-4-3-4 0zm-5 1l5-1-3-4-5 2zm-102 29l4-1-3-2-5-1zm-5 0l5 0-4-4-5-1zm-5 1l5-1-4-5-4 1zm-4 2l4-2-3-5-5 2zm-5 2l5-2-4-5-5 3zm-5 2l5-2-4-4-4 3zm-98 26l5-1-4-3-4-1zm-5 1l5-1-3-5-5 1zm-4 1l4-1-3-5-5 2zm-5 2l5-2-4-4-4 3zm260-70l4 2-3-1-5 2zm-5-2l5 2-4 3-5 1zm-5 0l5 0-4 6-4 1zm-4 3l4-3-3 7-5 1zm-5 4l5-4-4 5-5 2zm-5 5l5-5-4 3-4 1zm-89 23l5 1-3-2-5 2zm-4-5l4 5-3 1-5 1z"/><path class="q1" d="M3040 2520l5 6-4 7-4 0zm-5-1l5 1-3 13-5 1zm-4 4l4-4-3 15-5 2zm-5 8l5-8-4 13-4 2z"/><path class="q0" d="M3021 2538l5-7-3 7-5 1zm-4 4l4-4-3 1-5 2zm-84 21l4 1-3-1-5 1zm-5-4l5 4-4 1-5 1z"/><path class="q1" d="M2923 2554l5 5-4 6-4 1zm-4-1l4 1-3 12-5 1zm-5 4l5-4-4 14-5 1zm-5 7l5-7-4 11-4 2z"/><path class="q0" d="M2905 2571l4-7-3 6-5 2zm-5 4l5-4-4 1-5 1zm-89 21l5 1-4-1-4 1zm-5-1l5 1-3 1-5 1zm-4 0l4 0-3 3-5 2zm-5 2l5-2-4 5-4 1zm-5 4l5-4-3 4-5 1zm-4 4l4-4-3 1-5 2zm382-106l5 2-4-1-5 0z"/><path class="q1" d="M3165 2491l5 8-4 1-4-2zm-4-9l4 9-3 7-5-2z"/><path class="q2" d="M3156 2478l5 4-4 14-5 0zm-5 6l5-6-4 18-4 3z"/><path class="q1" d="M3147 2496l4-12-3 15-5 4zm-5 10l5-10-4 7-5 5z"/><path class="q0" d="M3137 2512l5-6-4 2-4 2zm-70 17l5-1-4 0-4 1zm-5 3l5-3-3 0-5 2zm-9-6l5 7-4-1-5-1z"/><path class="q1" d="M3048 2509l5 17-4 5-4-5z"/><path class="q2" d="M3044 2489l4 20-3 17-5-6z"/><path class="q3" d="M3039 2481l5 8-4 31-5-1zm-5 11l5-11-4 38-4 4z"/><path class="q2" d="M3030 2514l4-22-3 31-5 8z"/><path class="q1" d="M3025 2534l5-20-4 17-5 7z"/><path class="q0" d="M3020 2544l5-10-4 4-4 4zm-9 0l5 1-4-1-5 0zm-5 2l5-2-4 0-4 2zm-70 13l5 7-4-2-4-1z"/><path class="q1" d="M2932 2544l4 15-3 4-5-4z"/><path class="q2" d="M2927 2527l5 17-4 15-5-5z"/><path class="q3" d="M2922 2520l5 7-4 27-4-1zm-4 9l4-9-3 33-5 4z"/><path class="q2" d="M2913 2549l5-20-4 28-5 7z"/><path class="q1" d="M2908 2567l5-18-4 15-4 7z"/><path class="q0" d="M2904 2576l4-9-3 4-5 4zm-85 20l5 2-4-1-4 0zm-4-5l4 5-3 1-5-1z"/><path class="q1" d="M2810 2584l5 7-4 5-5-1zm-5-2l5 2-4 11-4 0zm-4 5l4-5-3 13-5 2zm-5 9l5-9-4 10-5 4z"/><path class="q0" d="M2791 2604l5-8-4 5-4 4zm-4 4l4-4-3 1-5 2zm-89 22l5 1-4-1-5 1zm-5 0l5 0-4 1-4 0zm-4 0l4 0-3 1-5 1zm-5 2l5-2-4 2-5 2zm-5 4l5-4-4 2-4 2zm-4 3l4-3-3 0-5 2zm498-142l5 6-3-2-5-2z"/><path class="q1" d="M3169 2482l4 15-3 2-5-8z"/><path class="q2" d="M3164 2465l5 17-4 9-4-9z"/><path class="q3" d="M3159 2459l5 6-3 17-5-4zm-4 9l4-9-3 19-5 6z"/><path class="q2" d="M3150 2487l5-19-4 16-4 12z"/><path class="q1" d="M3145 2505l5-18-3 9-5 10z"/><path class="q0" d="M3141 2513l4-8-3 1-5 6zm-66 15l5 1-4-1-4 0zm-4 0l4 0-3 0-5 1zm-5 5l5-5-4 1-5 3z"/><path class="q1" d="M3057 2521l4 14-3-2-5-7z"/><path class="q2" d="M3052 2490l5 31-4 5-5-17z"/><path class="q5" d="M3047 2454l5 36-4 19-4-20z"/><path class="q7" d="M3043 2440l4 14-3 35-5-8zm-5 17l5-17-4 41-5 11z"/><path class="q5" d="M3033 2495l5-38-4 35-4 22z"/><path class="q2" d="M3029 2529l4-34-3 19-5 20z"/><path class="q1" d="M3024 2545l5-16-4 5-5 10z"/><path class="q0" d="M3015 2544l4 2-3-1-5-1zm-5 2l5-2-4 0-5 2zm-5 4l5-4-4 0-4 3zm-46 11l4 1-3-2-5 0zm-5 0l5 0-4-1-5 1zm-5 4l5-4-4 0-4 3z"/><path class="q1" d="M2940 2555l4 12-3-1-5-7z"/><path class="q2" d="M2935 2527l5 28-4 4-4-15z"/><path class="q4" d="M2930 2496l5 31-3 17-5-17z"/><path class="q6" d="M2926 2483l4 13-3 31-5-7zm-5 15l5-15-4 37-4 9z"/><path class="q4" d="M2916 2532l5-34-3 31-5 20z"/><path class="q2" d="M2912 2563l4-31-3 17-5 18z"/><path class="q1" d="M2907 2577l5-14-4 4-4 9z"/><path class="q0" d="M2898 2577l4 1-3-1-5 0zm-5 2l5-2-4 0-5 1zm-5 3l5-3-4-1-4 3zm-65 14l5 4-4-2-5-2z"/><path class="q1" d="M2818 2585l5 11-4 0-4-5z"/><path class="q2" d="M2814 2572l4 13-3 6-5-7zm-5-4l5 4-4 12-5-2zm-5 7l5-7-4 14-4 5zm-4 15l4-15-3 12-5 9z"/><path class="q1" d="M2795 2603l5-13-4 6-5 8z"/><path class="q0" d="M2790 2610l5-7-4 1-4 4zm-89 20l5 2-3-1-5-1zm-4-2l4 2-3 0-5 0z"/><path class="q1" d="M2692 2628l5 0-4 2-4 0zm-5 2l5-2-3 2-5 2z"/><path class="q0" d="M2683 2635l4-5-3 2-5 4zm-5 5l5-5-4 1-4 3zm513-140l5-1-4-1-4 0zm-5 3l5-3-3-2-5 3zm-9-6l5 7-4-1-5-6z"/><path class="q2" d="M3172 2479l5 18-4 0-4-15z"/><path class="q3" d="M3168 2459l4 20-3 3-5-17z"/><path class="q5" d="M3163 2451l5 8-4 6-5-6zm-5 11l5-11-4 8-4 9z"/><path class="q3" d="M3154 2484l4-22-3 6-5 19z"/><path class="q2" d="M3149 2505l5-21-4 3-5 18z"/><path class="q0" d="M3144 2515l5-10-4 0-4 8zm-9 0l5 1-4-2-5 0zm-5 2l5-2-4-1-4 2zm-51 12l5 2-4-2-5-1zm-5 0l5 0-4-1-4 0zm-4 5l4-5-3-1-5 5z"/><path class="q1" d="M3060 2520l5 16-4-1-4-14z"/><path class="q3" d="M3056 2482l4 38-3 1-5-31z"/><path class="q7" d="M3051 2440l5 42-4 8-5-36z"/><path class="q9" d="M3046 2422l5 18-4 14-4-14zm-4 21l4-21-3 18-5 17z"/><path class="q7" d="M3037 2487l5-44-4 14-5 38z"/><path class="q3" d="M3032 2528l5-41-4 8-4 34z"/><path class="q1" d="M3028 2546l4-18-3 1-5 16z"/><path class="q0" d="M3018 2545l5 2-4-1-4-2zm-5 2l5-2-3-1-5 2zm-4 5l4-5-3-1-5 4zm-47 10l5 1-4-1-4-1zm-5 0l5 0-3-1-5 0zm-4 5l4-5-3-1-5 4z"/><path class="q1" d="M2943 2554l5 14-4-1-4-12z"/><path class="q3" d="M2939 2521l4 33-3 1-5-28z"/><path class="q6" d="M2934 2483l5 38-4 6-5-31z"/><path class="q8" d="M2929 2467l5 16-4 13-4-13zm-4 19l4-19-3 16-5 15z"/><path class="q6" d="M2920 2526l5-40-4 12-5 34z"/><path class="q3" d="M2915 2562l5-36-4 6-4 31z"/><path class="q1" d="M2911 2579l4-17-3 1-5 14z"/><path class="q0" d="M2901 2578l5 2-4-2-4-1zm-4 2l4-2-3-1-5 2zm-5 4l5-4-4-1-5 3zm-65 12l4 5-3-1-5-4z"/><path class="q1" d="M2822 2583l5 13-4 0-5-11z"/><path class="q2" d="M2817 2568l5 15-4 2-4-13z"/><path class="q3" d="M2813 2562l4 6-3 4-5-4zm-5 9l5-9-4 6-5 7z"/><path class="q2" d="M2803 2588l5-17-4 4-4 15z"/><path class="q1" d="M2799 2604l4-16-3 2-5 13z"/><path class="q0" d="M2794 2612l5-8-4-1-5 7zm-89 19l5 2-4-1-5-2z"/><path class="q1" d="M2700 2628l5 3-4-1-4-2zm-4-1l4 1-3 0-5 0zm-5 3l5-3-4 1-5 2zm-5 6l5-6-4 0-4 5z"/><path class="q0" d="M2682 2641l4-5-3-1-5 5zm513-139l4-1-3-2-5 1zm-5 3l5-3-4-2-5 3zm-9-5l4 6-3-2-5-7z"/><path class="q2" d="M3176 2485l5 15-4-3-5-18z"/><path class="q3" d="M3171 2469l5 16-4-6-4-20z"/><path class="q5" d="M3167 2462l4 7-3-10-5-8zm-5 9l5-9-4-11-5 11z"/><path class="q3" d="M3157 2491l5-20-4-9-4 22z"/><path class="q2" d="M3153 2508l4-17-3-7-5 21z"/><path class="q0" d="M3148 2517l5-9-4-3-5 10zm-9 0l4 1-3-2-5-1zm-5 2l5-2-4-2-5 2zm-51 12l4 2-3-2-5-2zm-5 1l5-1-4-2-5 0zm-5 4l5-4-4-3-4 5z"/><path class="q1" d="M3064 2525l4 13-3-2-5-16z"/><path class="q3" d="M3059 2493l5 32-4-5-4-38z"/><path class="q7" d="M3054 2458l5 35-3-11-5-42z"/><path class="q9" d="M3050 2443l4 15-3-18-5-18zm-5 17l5-17-4-21-4 21z"/><path class="q7" d="M3040 2498l5-38-3-17-5 44z"/><path class="q3" d="M3036 2532l4-34-3-11-5 41z"/><path class="q1" d="M3031 2548l5-16-4-4-4 18z"/><path class="q0" d="M3022 2547l4 2-3-2-5-2zm-5 2l5-2-4-2-5 2zm-5 4l5-4-4-2-4 5zm-46 11l4 1-3-2-5-1zm-5 0l5 0-4-2-5 0zm-5 5l5-5-4-2-4 5z"/><path class="q1" d="M2947 2559l5 11-4-2-5-14z"/><path class="q3" d="M2942 2530l5 29-4-5-4-33z"/><path class="q6" d="M2938 2499l4 31-3-9-5-38z"/><path class="q8" d="M2933 2486l5 13-4-16-5-16zm-5 16l5-16-4-19-4 19z"/><path class="q6" d="M2924 2536l4-34-3-16-5 40z"/><path class="q3" d="M2919 2566l5-30-4-10-5 36z"/><path class="q1" d="M2914 2581l5-15-4-4-4 17z"/><path class="q0" d="M2905 2580l5 2-4-2-5-2zm-5 2l5-2-4-2-4 2zm-4 4l4-4-3-2-5 4zm-66 13l5 4-4-2-4-5z"/><path class="q1" d="M2825 2588l5 11-3-3-5-13z"/><path class="q2" d="M2821 2576l4 12-3-5-5-15z"/><path class="q3" d="M2816 2571l5 5-4-8-4-6zm-5 7l5-7-3-9-5 9z"/><path class="q2" d="M2807 2593l4-15-3-7-5 17z"/><path class="q1" d="M2802 2607l5-14-4-5-4 16z"/><path class="q0" d="M2797 2613l5-6-3-3-5 8zm-88 20l4 2-3-2-5-2z"/><path class="q1" d="M2704 2631l5 2-4-2-5-3zm-5 0l5 0-4-3-4-1zm-4 3l4-3-3-4-5 3zm-5 5l5-5-4-4-5 6z"/><path class="q0" d="M2685 2643l5-4-4-3-4 5zm499-138l5 3-4-2-4-6z"/><path class="q1" d="M3180 2497l4 8-3-5-5-15z"/><path class="q2" d="M3175 2488l5 9-4-12-5-16z"/><path class="q3" d="M3170 2485l5 3-4-19-4-7zm-4 6l4-6-3-23-5 9z"/><path class="q2" d="M3161 2502l5-11-4-20-5 20z"/><path class="q1" d="M3156 2513l5-11-4-11-4 17z"/><path class="q0" d="M3152 2518l4-5-3-5-5 9zm-66 17l5 0-4-2-4-2zm-5 0l5 0-3-4-5 1zm-4 4l4-4-3-3-5 4z"/><path class="q1" d="M3067 2533l5 7-4-2-4-13z"/><path class="q2" d="M3063 2515l4 18-3-8-5-32z"/><path class="q5" d="M3058 2496l5 19-4-22-5-35z"/><path class="q7" d="M3053 2488l5 8-4-38-4-15zm-4 10l4-10-3-45-5 17z"/><path class="q5" d="M3044 2521l5-23-4-38-5 38z"/><path class="q2" d="M3039 2541l5-20-4-23-4 34z"/><path class="q1" d="M3035 2550l4-9-3-9-5 16z"/><path class="q0" d="M3025 2551l5 0-4-2-4-2zm-4 2l4-2-3-4-5 2zm-5 3l5-3-4-4-5 4zm-47 11l5 0-4-2-4-1zm-4 1l4-1-3-3-5 0zm-5 3l5-3-4-4-5 5z"/><path class="q1" d="M2951 2566l4 6-3-2-5-11z"/><path class="q2" d="M2946 2551l5 15-4-7-5-29z"/><path class="q4" d="M2941 2533l5 18-4-21-4-31z"/><path class="q6" d="M2937 2526l4 7-3-34-5-13zm-5 10l5-10-4-40-5 16z"/><path class="q4" d="M2927 2556l5-20-4-34-4 34z"/><path class="q2" d="M2923 2574l4-18-3-20-5 30z"/><path class="q1" d="M2918 2583l5-9-4-8-5 15z"/><path class="q0" d="M2908 2583l5 1-3-2-5-2zm-4 2l4-2-3-3-5 2zm-5 3l5-3-4-3-4 4zm-65 15l4 2-3-2-5-4z"/><path class="q1" d="M2829 2597l5 6-4-4-5-11z"/><path class="q2" d="M2824 2591l5 6-4-9-4-12zm-4-2l4 2-3-15-5-5zm-5 4l5-4-4-18-5 7zm-5 9l5-9-4-15-4 15z"/><path class="q1" d="M2806 2611l4-9-3-9-5 14z"/><path class="q0" d="M2801 2615l5-4-4-4-5 6zm-89 22l5 1-4-3-4-2zm-4-1l4 1-3-4-5-2z"/><path class="q1" d="M2703 2637l5-1-4-5-5 0zm-5 2l5-2-4-6-4 3z"/><path class="q0" d="M2694 2642l4-3-3-5-5 5zm-5 3l5-3-4-3-5 4zm499-135l4 0-3-2-5-3z"/><path class="q1" d="M3183 2508l5 2-4-5-4-8zm-5-2l5 2-3-11-5-9z"/><path class="q2" d="M3174 2506l4 0-3-18-5-3zm-5 3l5-3-4-21-4 6z"/><path class="q1" d="M3164 2513l5-4-3-18-5 11zm-4 5l4-5-3-11-5 11z"/><path class="q0" d="M3155 2520l5-2-4-5-4 5zm-70 19l5-1-4-3-5 0zm-5 2l5-2-4-4-4 4zm-9 0l5 1-4-2-5-7z"/><path class="q1" d="M3066 2536l5 5-4-8-4-18z"/><path class="q2" d="M3062 2531l4 5-3-21-5-19z"/><path class="q3" d="M3057 2529l5 2-4-35-5-8zm-5 4l5-4-4-41-4 10z"/><path class="q2" d="M3048 2541l4-8-3-35-5 23z"/><path class="q1" d="M3043 2548l5-7-4-20-5 20z"/><path class="q0" d="M3038 2552l5-4-4-7-4 9zm-9 2l5 0-4-3-5 0zm-5 2l5-2-4-3-4 2zm-70 17l5 1-4-2-4-6z"/><path class="q1" d="M2949 2569l5 4-3-7-5-15z"/><path class="q2" d="M2945 2564l4 5-3-18-5-18z"/><path class="q3" d="M2940 2563l5 1-4-31-4-7zm-5 4l5-4-3-37-5 10z"/><path class="q2" d="M2931 2574l4-7-3-31-5 20z"/><path class="q1" d="M2926 2581l5-7-4-18-4 18z"/><path class="q0" d="M2921 2585l5-4-3-7-5 9zm-84 22l5 0-4-2-4-2zm-4-1l4 1-3-4-5-6z"/><path class="q1" d="M2828 2605l5 1-4-9-5-6zm-5 0l5 0-4-14-4-2zm-4 2l4-2-3-16-5 4zm-5 4l5-4-4-14-5 9z"/><path class="q0" d="M2809 2615l5-4-4-9-4 9zm-4 2l4-2-3-4-5 4zm-89 24l4-1-3-2-5-1zm-5 0l5 0-4-4-4-1zm-5 1l5-1-3-5-5 1zm-4 2l4-2-3-5-5 2zm-5 2l5-2-4-5-4 3zm-5 2l5-2-3-4-5 3zm495-134l4-1-3-3-5-2zm-5 1l5-1-4-6-5-2zm-5 1l5-1-4-9-4 0zm-4 2l4-2-3-10-5 3zm-5 1l5-1-4-9-5 4zm-5 2l5-2-4-6-4 5zm-88 24l4-1-3-2-5-1zm-5 1l5-1-4-4-5-5z"/><path class="q1" d="M3065 2547l5-1-4-10-4-5zm-4 1l4-1-3-16-5-2zm-5 1l5-1-4-19-5 4zm-5 2l5-2-4-16-4 8z"/><path class="q0" d="M3047 2553l4-2-3-10-5 7zm-5 1l5-1-4-5-5 4zm-84 23l4-1-3-2-5-1zm-5 1l5-1-4-4-5-4z"/><path class="q1" d="M2948 2579l5-1-4-9-4-5zm-4 1l4-1-3-15-5-1zm-5 2l5-2-4-17-5 4zm-5 1l5-1-4-15-4 7z"/><path class="q0" d="M2930 2585l4-2-3-9-5 7zm-5 1l5-1-4-4-5 4zm-89 25l5-1-4-3-4-1zm-4 1l4-1-3-5-5-1zm-5 1l5-1-4-7-5 0zm-5 1l5-1-4-8-4 2zm-4 2l4-2-3-7-5 4zm-5 1l5-1-4-5-5 4zm372-99l4-1-3 0-5 1zm-5 1l5-1-4 0-5 1zm-103 28l5 1-4-1-5 0zm-5 0l5 0-4 0-4 1zm-4 0l4 0-3 1-5 1zm-5 2l5-2-4 2-5 2zm-5 3l5-3-4 2-4 2zm-4 3l4-3-3 1-5 1zm-98 24l4 1-3 0-5 0zm-5 1l5-1-4 1-5 2zm-5 2l5-2-4 2-4 1zm-4 3l4-3-3 1-5 2zm246-65l5-1-4-2-4 1zm-5 1l5-1-3-2-5 1zm-102 28l4 1-3-2-5-1zm-5 0l5 0-4-2-5 0zm-5 1l5-1-4-2-4 0zm-4 2l4-2-3-3-5 2zm-5 3l5-3-4-3-5 3zm-5 2l5-2-4-3-4 3zm-98 25l5 0-4-2-4-1zm-5 0l5 0-3-3-5 1zm-4 2l4-2-3-2-5 2zm-5 3l5-3-4-2-4 3zm135-33l4-1-3-4-5 0zm-5 1l5-1-4-5-5 1zm-5 1l5-1-4-5-4 2zm-4 2l4-2-3-4-5 3zm-103 28l4-1-3-3-5 0zm-5 1l5-1-4-4-5 0zm-5 2l5-2-4-5-4 2zm-4 1l4-1-3-5-5 3zm152-28l5 0-4 0-5 1zm-5 1l5-1-4 1-4 1zm-4 1l4-1-3 1-5 1zm-5 3l5-3-4 1-5 2zm18-3l4 0-3-2-5 0zm-5 1l5-1-4-2-5 1zm-5 2l5-2-4-2-4 1zm-4 2l4-2-3-3-5 3zm141-33l5 0-4 0-4 1zm-5 1l5-1-3 1-5 1zm-4 1l4-1-3 1-5 1zm-5 3l5-3-4 1-4 2zm-98 26l5 1-4-1-5 0zm-5-2l5 2-4 0-4 1zm-4 0l4 0-3 3-5 1zm-5 3l5-3-4 4-5 2zm-5 4l5-4-4 3-4 2zm-4 3l4-3-3 1-5 1zm-99 25l5 0-3 0-5 1zm-4 0l4 0-3 1-5 1zm-5 2l5-2-4 2-4 1zm-5 3l5-3-3 1-5 2zm-102 28l4 0-3-1-5 1zm-5 1l5-1-4 0-5 2zm-5 1l5-1-4 1-4 1zm-4 3l4-3-3 1-5 2zm368-101l4 0-3-1-5 0zm-5 0l5 0-4-1-5 1zm-5 2l5-2-4 0-4 1zm-4 3l4-3-3-1-5 3zm-98 25l4 2-3-1-5-1zm-5-1l5 1-4 0-5-2z"/><path class="q1" d="M3114 2565l5 1-4-1-4 0zm-4 3l4-3-3 0-5 3z"/><path class="q0" d="M3105 2573l5-5-4 0-5 4zm-5 4l5-4-4-1-4 3zm-93 24l4 1-3-2-5 0zm-5-1l5 1-4-1-5 0zm-5 1l5-1-4 0-4 0zm-4 2l4-2-3-1-5 2zm-5 3l5-3-4-1-5 3zm-5 3l5-3-4-1-4 3zm-98 25l5 0-4-1-4 0zm-4 1l4-1-3-1-5 1zm-5 2l5-2-4-1-5 1zm-5 2l5-2-4-2-4 3zm368-98l5-1-4-3-4 0zm-4 1l4-1-3-4-5 0zm-5 2l5-2-4-5-5 2zm-5 2l5-2-4-5-4 3zm-98 26l5 0-4-3-4-2zm-5 0l5 0-3-5-5-1zm-4 1l4-1-3-6-5-1zm-5 2l5-2-4-8-4 3zm-5 2l5-2-3-7-5 5zm-4 2l4-2-3-4-5 4zm-94 26l5-1-4-2-4-1zm-4 0l4 0-3-4-5-1zm-5 1l5-1-4-5-5 1zm-5 2l5-2-4-5-4 2zm-4 2l4-2-3-5-5 3zm-5 2l5-2-4-4-5 3zm-98 26l4-1-3-3-5 0zm-5 1l5-1-4-4-4 1zm-5 2l5-2-3-4-5 2zm-4 1l4-1-3-4-5 2zm246-66l5-1-4-3-4 1zm-4 1l4-1-3-3-5 2zm139-36l5 1-4-2-5 1zm-5-4l5 4-4 0-4 1z"/><path class="q1" d="M3246 2532l5 5-3 5-5 1zm-4-1l4 1-3 11-5 1zm-5 4l5-4-4 13-4 2zm-5 7l5-7-3 11-5 1z"/><path class="q0" d="M3228 2548l4-6-3 5-5 2zm-5 4l5-4-4 1-4 2zm-84 19l5 3-4-2-5 1zm-5-9l5 9-4 2-4 1z"/><path class="q1" d="M3130 2553l4 9-3 12-5 1zm-5-4l5 4-4 22-5 1zm-5 6l5-6-4 27-4 1zm-4 12l4-12-3 22-5 2z"/><path class="q0" d="M3111 2579l5-12-4 12-5 2zm-5 5l5-5-4 2-4 2zm-84 21l5 1-4-1-4 1zm-5-5l5 5-3 1-5 1z"/><path class="q1" d="M3013 2594l4 6-3 7-5 1zm-5-2l5 2-4 14-4 1zm-5 5l5-5-3 17-5 1zm-4 8l4-8-3 13-5 2z"/><path class="q0" d="M2994 2612l5-7-4 7-4 2zm-5 4l5-4-3 2-5 1zm-88 18l4 4-3 0-5 1zm-5-3l5 3-4 5-5 1z"/><path class="q1" d="M2891 2630l5 1-4 9-4 1zm-4 3l4-3-3 11-5 2z"/><path class="q0" d="M2882 2640l5-7-4 10-5 1zm-5 5l5-5-4 4-4 2zm-98 27l5 0-4 0-4 1zm-5 1l5-1-3 1-5 1zm-4 2l4-2-3 1-5 1zm-5 2l5-2-4 0-4 2zm494-140l5 6-3-1-5-1z"/><path class="q1" d="M3255 2522l4 15-3 4-5-4z"/><path class="q2" d="M3250 2506l5 16-4 15-5-5z"/><path class="q3" d="M3245 2499l5 7-4 26-4-1zm-4 9l4-9-3 32-5 4z"/><path class="q2" d="M3236 2528l5-20-4 27-5 7z"/><path class="q1" d="M3231 2545l5-17-4 14-4 6z"/><path class="q0" d="M3227 2553l4-8-3 3-5 4zm-66 15l5 2-4-1-4 0zm-4 1l4-1-3 1-5 1zm-5 4l5-4-4 1-5 2zm-9-10l4 12-3-1-5-3z"/><path class="q2" d="M3138 2533l5 30-4 8-5-9z"/><path class="q4" d="M3133 2501l5 32-4 29-4-9z"/><path class="q5" d="M3129 2487l4 14-3 52-5-4zm-5 16l5-16-4 62-5 6z"/><path class="q4" d="M3119 2538l5-35-4 52-4 12z"/><path class="q2" d="M3115 2570l4-32-3 29-5 12z"/><path class="q0" d="M3110 2585l5-15-4 9-5 5zm-9-1l4 2-3-1-5 1zm-5 3l5-3-4 2-5 1zm-5 3l5-3-4 0-4 2zm-51 13l4-1-3 0-5 1zm-5 3l5-3-4 0-4 2zm-9-6l4 7-3-1-5-1z"/><path class="q1" d="M3021 2582l5 18-4 5-5-5z"/><path class="q2" d="M3016 2561l5 21-4 18-4-6z"/><path class="q3" d="M3012 2553l4 8-3 33-5-2zm-5 11l5-11-4 39-5 5z"/><path class="q2" d="M3002 2587l5-23-4 33-4 8z"/><path class="q1" d="M2998 2608l4-21-3 18-5 7z"/><path class="q0" d="M2993 2618l5-10-4 4-5 4zm-9 0l4 1-3-1-5 0zm-5 2l5-2-4 0-5 2zm-70 15l5 5-4-2-5 0z"/><path class="q1" d="M2904 2622l5 13-4 3-4-4z"/><path class="q2" d="M2900 2607l4 15-3 12-5-3zm-5-5l5 5-4 24-5-1zm-5 8l5-8-4 28-4 3zm-4 17l4-17-3 23-5 7z"/><path class="q1" d="M2881 2643l5-16-4 13-5 5z"/><path class="q0" d="M2876 2650l5-7-4 2-4 4zm-89 21l5 1-4 0-4 0zm-4-3l4 3-3 1-5 0z"/><path class="q1" d="M2778 2668l5 0-4 4-5 1zm-5 3l5-3-4 5-4 2z"/><path class="q0" d="M2769 2676l4-5-3 4-5 2zm-5 4l5-4-4 1-5 2zm518-142l4 1-3-1-5 0zm-5 1l5-1-4 0-5 1zm-5 4l5-4-4 0-4 3z"/><path class="q1" d="M3263 2533l5 11-4-1-5-6z"/><path class="q2" d="M3258 2506l5 27-4 4-4-15z"/><path class="q4" d="M3254 2476l4 30-3 16-5-16z"/><path class="q6" d="M3249 2464l5 12-4 30-5-7zm-5 15l5-15-4 35-4 9z"/><path class="q4" d="M3240 2511l4-32-3 29-5 20z"/><path class="q2" d="M3235 2541l5-30-4 17-5 17z"/><path class="q1" d="M3230 2555l5-14-4 4-4 8z"/><path class="q0" d="M3221 2554l5 2-4-1-5-1zm-5 2l5-2-4 0-4 2zm-4 4l4-4-3 0-5 3zm-28 6l4 1-3-1-5-1zm-5 2l5-2-4-1-5 2zm-14 0l5 3-4-1-5-2zm-5 0l5 0-4 0-4 1zm-4 6l4-6-3 1-5 4z"/><path class="q1" d="M3146 2553l5 23-4-1-4-12z"/><path class="q4" d="M3141 2501l5 52-3 10-5-30z"/><path class="q8" d="M3137 2443l4 58-3 32-5-32z"/><path class="q11" d="M3132 2418l5 25-4 58-4-14zm-5 28l5-28-3 69-5 16z"/><path class="q8" d="M3123 2506l4-60-3 57-5 35z"/><path class="q4" d="M3118 2561l5-55-4 32-4 32z"/><path class="q1" d="M3113 2586l5-25-3 9-5 15z"/><path class="q0" d="M3104 2583l5 4-4-1-4-2zm-5 3l5-3-3 1-5 3zm-4 5l4-5-3 1-5 3zm-14 3l4 0-3-1-5 1zm-5 4l5-4-4 0-5 2zm-28 4l5 2-4-2-5 0zm-5 0l5 0-4 0-4 1zm-4 5l4-5-3 1-5 3z"/><path class="q1" d="M3029 2595l5 14-4-2-4-7z"/><path class="q2" d="M3025 2562l4 33-3 5-5-18z"/><path class="q5" d="M3020 2525l5 37-4 20-5-21z"/><path class="q7" d="M3015 2510l5 15-4 36-4-8zm-4 18l4-18-3 43-5 11z"/><path class="q5" d="M3006 2567l5-39-4 36-5 23z"/><path class="q2" d="M3001 2602l5-35-4 20-4 21z"/><path class="q1" d="M2997 2619l4-17-3 6-5 10z"/><path class="q0" d="M2987 2618l5 2-4-1-4-1zm-4 2l4-2-3 0-5 2zm-5 4l5-4-4 0-5 3zm-47 11l5 1-4-1-4 0zm-4 1l4-1-3 0-5 1zm-5 4l5-4-4 0-5 2zm-10-9l5 10-3-1-5-5z"/><path class="q2" d="M2908 2608l4 23-3 4-5-13z"/><path class="q4" d="M2903 2581l5 27-4 14-4-15z"/><path class="q5" d="M2898 2570l5 11-3 26-5-5zm-4 14l4-14-3 32-5 8z"/><path class="q4" d="M2889 2613l5-29-4 26-4 17z"/><path class="q2" d="M2884 2639l5-26-3 14-5 16z"/><path class="q0" d="M2880 2652l4-13-3 4-5 7zm-10-1l5 2-3-2-5 0zm-4 2l4-2-3 0-5 2zm-5 4l5-4-4 0-4 2zm-65 16l4 1-3-2-5 0zm-5-4l5 4-4-1-5-1z"/><path class="q1" d="M2786 2664l5 5-4 2-4-3zm-4-1l4 1-3 4-5 0zm-5 4l5-4-4 5-5 3zm-5 7l5-7-4 4-4 5z"/><path class="q0" d="M2768 2681l4-7-3 2-5 4zm-5 3l5-3-4-1-5 3zm522-145l5 2-4-2-4-1zm-4 1l4-1-3-1-5 1zm-5 4l5-4-4-1-5 4z"/><path class="q1" d="M3267 2532l4 14-3-2-5-11z"/><path class="q3" d="M3262 2500l5 32-4 1-5-27z"/><path class="q6" d="M3257 2464l5 36-4 6-4-30z"/><path class="q8" d="M3253 2449l4 15-3 12-5-12zm-5 18l5-18-4 15-5 15z"/><path class="q6" d="M3243 2505l5-38-4 12-4 32z"/><path class="q3" d="M3239 2540l4-35-3 6-5 30z"/><path class="q1" d="M3234 2556l5-16-4 1-5 14z"/><path class="q0" d="M3225 2555l4 2-3-1-5-2zm-5 2l5-2-4-1-5 2zm-5 4l5-4-4-1-4 4zm-28 6l5 2-4-2-4-1zm-5 2l5-2-3-1-5 2zm-14-1l5 4-3-1-5-3z"/><path class="q1" d="M3164 2568l4 0-3 0-5 0z"/><path class="q0" d="M3159 2575l5-7-4 0-4 6zm-5 2l5-2-3-1-5 2z"/><path class="q1" d="M3150 2550l4 27-3-1-5-23z"/><path class="q5" d="M3145 2488l5 62-4 3-5-52z"/><path class="q11" d="M3140 2419l5 69-4 13-4-58z"/><path class="q15" d="M3136 2389l4 30-3 24-5-25zm-5 32l5-32-4 29-5 28z"/><path class="q11" d="M3126 2493l5-72-4 25-4 60z"/><path class="q5" d="M3122 2558l4-65-3 13-5 55z"/><path class="q1" d="M3117 2588l5-30-4 3-5 25z"/><path class="q0" d="M3112 2588l5 0-4-2-4 1zm-4-5l4 5-3-1-5-4z"/><path class="q1" d="M3103 2586l5-3-4 0-5 3z"/><path class="q0" d="M3098 2593l5-7-4 0-4 5zm-14 2l5 0-4-1-4 0zm-4 5l4-5-3-1-5 4zm-28 3l4 2-3-1-5-2zm-5 0l5 0-4-1-5 0zm-5 5l5-5-4-1-4 5z"/><path class="q1" d="M3033 2593l5 17-4-1-5-14z"/><path class="q3" d="M3028 2554l5 39-4 2-4-33z"/><path class="q7" d="M3024 2510l4 44-3 8-5-37z"/><path class="q10" d="M3019 2491l5 19-4 15-5-15zm-5 21l5-21-4 19-4 18z"/><path class="q7" d="M3010 2559l4-47-3 16-5 39z"/><path class="q3" d="M3005 2601l5-42-4 8-5 35z"/><path class="q1" d="M3000 2620l5-19-4 1-4 17z"/><path class="q0" d="M2991 2619l5 2-4-1-5-2zm-5 2l5-2-4-1-4 2zm-5 5l5-5-3-1-5 4zm-46 10l4 2-3-2-5-1zm-5 1l5-1-4-1-4 1zm-5 4l5-4-3-1-5 4z"/><path class="q1" d="M2916 2631l5 12-4-2-5-10z"/><path class="q2" d="M2911 2602l5 29-4 0-4-23z"/><path class="q5" d="M2907 2571l4 31-3 6-5-27z"/><path class="q7" d="M2902 2557l5 14-4 10-5-11zm-5 16l5-16-4 13-4 14z"/><path class="q5" d="M2893 2607l4-34-3 11-5 29z"/><path class="q2" d="M2888 2639l5-32-4 6-5 26z"/><path class="q1" d="M2883 2653l5-14-4 0-4 13z"/><path class="q0" d="M2874 2652l5 2-4-1-5-2zm-5 2l5-2-4-1-4 2zm-4 4l4-4-3-1-5 4zm-66 16l5 2-4-2-4-1z"/><path class="q1" d="M2795 2669l4 5-3-1-5-4zm-5-6l5 6-4 0-5-5z"/><path class="q2" d="M2785 2661l5 2-4 1-4-1zm-4 5l4-5-3 2-5 4z"/><path class="q1" d="M2776 2674l5-8-4 1-5 7zm-5 8l5-8-4 0-4 7z"/><path class="q0" d="M2767 2686l4-4-3-1-5 3zm522-144l5 1-4-2-5-2zm-5 0l5 0-4-3-4 1zm-4 4l4-4-3-2-5 4z"/><path class="q1" d="M3270 2537l5 11-4-2-4-14z"/><path class="q3" d="M3265 2510l5 27-3-5-5-32z"/><path class="q6" d="M3261 2480l4 30-3-10-5-36z"/><path class="q8" d="M3256 2467l5 13-4-16-4-15zm-5 15l5-15-3-18-5 18z"/><path class="q6" d="M3247 2515l4-33-3-15-5 38z"/><path class="q3" d="M3242 2544l5-29-4-10-4 35z"/><path class="q1" d="M3237 2558l5-14-3-4-5 16z"/><path class="q0" d="M3228 2558l5 1-4-2-4-2zm-5 2l5-2-3-3-5 2zm-4 3l4-3-3-3-5 4zm-28 6l4 2-3-2-5-2zm-5 2l5-2-4-2-5 2zm-14 0l5 3-4-2-5-4z"/><path class="q1" d="M3167 2571l5 0-4-3-4 0z"/><path class="q0" d="M3163 2577l4-6-3-3-5 7zm-5 2l5-2-4-2-5 2z"/><path class="q1" d="M3153 2557l5 22-4-2-4-27z"/><path class="q5" d="M3149 2504l4 53-3-7-5-62z"/><path class="q11" d="M3144 2447l5 57-4-16-5-69z"/><path class="q15" d="M3139 2422l5 25-4-28-4-30zm-4 27l4-27-3-33-5 32z"/><path class="q11" d="M3130 2510l5-61-4-28-5 72z"/><path class="q5" d="M3125 2565l5-55-4-17-4 65z"/><path class="q1" d="M3121 2590l4-25-3-7-5 30z"/><path class="q0" d="M3116 2590l5 0-4-2-5 0zm-5-4l5 4-4-2-4-5z"/><path class="q1" d="M3107 2589l4-3-3-3-5 3z"/><path class="q0" d="M3102 2595l5-6-4-3-5 7zm-14 3l5-1-4-2-5 0zm-5 3l5-3-4-3-4 5zm-28 4l5 2-4-2-4-2zm-4 1l4-1-3-2-5 0zm-5 4l5-4-4-3-5 5z"/><path class="q1" d="M3036 2598l5 14-3-2-5-17z"/><path class="q3" d="M3032 2565l4 33-3-5-5-39z"/><path class="q7" d="M3027 2528l5 37-4-11-4-44z"/><path class="q10" d="M3022 2513l5 15-3-18-5-19zm-4 18l4-18-3-22-5 21z"/><path class="q7" d="M3013 2570l5-39-4-19-4 47z"/><path class="q3" d="M3008 2606l5-36-3-11-5 42z"/><path class="q1" d="M3004 2622l4-16-3-5-5 19z"/><path class="q0" d="M2994 2621l5 2-3-2-5-2zm-4 2l4-2-3-2-5 2zm-5 5l5-5-4-2-5 5zm-47 11l5 0-4-1-4-2zm-4 0l4 0-3-3-5 1zm-5 4l5-4-4-2-5 4z"/><path class="q1" d="M2920 2635l4 10-3-2-5-12z"/><path class="q2" d="M2915 2611l5 24-4-4-5-29z"/><path class="q5" d="M2910 2585l5 26-4-9-4-31z"/><path class="q7" d="M2906 2574l4 11-3-14-5-14zm-5 13l5-13-4-17-5 16z"/><path class="q5" d="M2896 2616l5-29-4-14-4 34z"/><path class="q2" d="M2892 2642l4-26-3-9-5 32z"/><path class="q1" d="M2887 2655l5-13-4-3-5 14z"/><path class="q0" d="M2878 2655l4 1-3-2-5-2zm-5 2l5-2-4-3-5 2zm-5 3l5-3-4-3-4 4zm-65 16l4 1-3-1-5-2z"/><path class="q1" d="M2798 2672l5 4-4-2-4-5zm-5-4l5 4-3-3-5-6z"/><path class="q2" d="M2789 2666l4 2-3-5-5-2zm-5 4l5-4-4-5-4 5z"/><path class="q1" d="M2779 2677l5-7-3-4-5 8zm-4 7l4-7-3-3-5 8z"/><path class="q0" d="M2770 2688l5-4-4-2-4 4zm522-143l5 0-3-2-5-1zm-4 0l4 0-3-3-5 0zm-5 3l5-3-4-3-4 4z"/><path class="q1" d="M3274 2544l4 6-3-2-5-11z"/><path class="q2" d="M3269 2529l5 15-4-7-5-27z"/><path class="q4" d="M3264 2513l5 16-4-19-4-30z"/><path class="q6" d="M3260 2506l4 7-3-33-5-13zm-5 9l5-9-4-39-5 15z"/><path class="q4" d="M3250 2534l5-19-4-33-4 33z"/><path class="q2" d="M3246 2552l4-18-3-19-5 29z"/><path class="q1" d="M3241 2560l5-8-4-8-5 14z"/><path class="q0" d="M3232 2561l4 0-3-2-5-1zm-5 2l5-2-4-3-5 2zm-5 2l5-2-4-3-4 3zm-28 7l5 0-4-1-4-2zm-4 2l4-2-3-3-5 2zm-14 1l4 2-3-3-5-3zm-5 1l5-1-4-4-5 0zm-5 4l5-4-4-5-4 6z"/><path class="q1" d="M3157 2569l5 13-4-3-5-22z"/><path class="q4" d="M3152 2540l5 29-4-12-4-53z"/><path class="q8" d="M3148 2507l4 33-3-36-5-57z"/><path class="q11" d="M3143 2494l5 13-4-60-5-25zm-5 16l5-16-4-72-4 27z"/><path class="q8" d="M3134 2545l4-35-3-61-5 61z"/><path class="q4" d="M3129 2577l5-32-4-35-5 55z"/><path class="q1" d="M3124 2592l5-15-4-12-4 25z"/><path class="q0" d="M3115 2591l5 2-4-3-5-4zm-5 2l5-2-4-5-4 3zm-5 4l5-4-3-4-5 6zm-14 3l5 0-3-3-5 1zm-4 3l4-3-3-2-5 3zm-28 6l4 0-3-2-5-2zm-5 0l5 0-4-4-4 1zm-5 4l5-4-3-3-5 4z"/><path class="q1" d="M3040 2607l5 7-4-2-5-14z"/><path class="q2" d="M3035 2588l5 19-4-9-4-33z"/><path class="q5" d="M3031 2568l4 20-3-23-5-37z"/><path class="q7" d="M3026 2560l5 8-4-40-5-15zm-5 11l5-11-4-47-4 18z"/><path class="q5" d="M3017 2594l4-23-3-40-5 39z"/><path class="q2" d="M3012 2614l5-20-4-24-5 36z"/><path class="q1" d="M3007 2624l5-10-4-8-4 16z"/><path class="q0" d="M2998 2625l5 1-4-3-5-2zm-5 2l5-2-4-4-4 2zm-4 3l4-3-3-4-5 5zm-47 11l5 0-4-2-5 0zm-5 1l5-1-4-2-4 0zm-4 3l4-3-3-3-5 4zm-10-4l5 6-4-2-4-10z"/><path class="q2" d="M2919 2628l4 13-3-6-5-24z"/><path class="q4" d="M2914 2614l5 14-4-17-5-26z"/><path class="q5" d="M2909 2608l5 6-4-29-4-11zm-4 9l4-9-3-34-5 13z"/><path class="q4" d="M2900 2634l5-17-4-30-5 29z"/><path class="q2" d="M2895 2649l5-15-4-18-4 26z"/><path class="q0" d="M2891 2657l4-8-3-7-5 13zm-10 1l5 0-4-2-4-1zm-5 2l5-2-3-3-5 2zm-4 2l4-2-3-3-5 3zm-66 17l5 0-4-2-4-1zm-4-2l4 2-3-3-5-4z"/><path class="q1" d="M2797 2675l5 2-4-5-5-4zm-5 0l5 0-4-7-4-2zm-4 3l4-3-3-9-5 4zm-5 4l5-4-4-8-5 7z"/><path class="q0" d="M2778 2687l5-5-4-5-4 7zm-4 2l4-2-3-3-5 4zm503-138l5 1-4-2-4-6z"/><path class="q1" d="M3273 2547l4 4-3-7-5-15z"/><path class="q2" d="M3268 2543l5 4-4-18-5-16z"/><path class="q3" d="M3263 2541l5 2-4-30-4-7zm-4 4l4-4-3-35-5 9z"/><path class="q2" d="M3254 2552l5-7-4-30-5 19z"/><path class="q1" d="M3249 2559l5-7-4-18-4 18z"/><path class="q0" d="M3245 2562l4-3-3-7-5 8zm-66 17l5 0-4-2-4-2zm-4 1l4-1-3-4-5 1zm-5 3l5-3-4-4-5 4zm-10-2l5 3-3-2-5-13z"/><path class="q2" d="M3156 2572l4 9-3-12-5-29z"/><path class="q4" d="M3151 2563l5 9-4-32-4-33z"/><path class="q5" d="M3146 2559l5 4-3-56-5-13zm-4 6l4-6-3-65-5 16z"/><path class="q4" d="M3137 2577l5-12-4-55-4 35z"/><path class="q2" d="M3132 2589l5-12-3-32-5 32z"/><path class="q0" d="M3128 2594l4-5-3-12-5 15zm-10 2l5-1-3-2-5-2zm-4 1l4-1-3-5-5 2zm-5 2l5-2-4-4-5 4zm-51 14l4-1-3-3-5 0zm-5 2l5-2-4-4-5 4zm-9 0l4 1-3-2-5-7z"/><path class="q1" d="M3039 2610l5 5-4-8-5-19z"/><path class="q2" d="M3034 2604l5 6-4-22-4-20z"/><path class="q3" d="M3030 2602l4 2-3-36-5-8zm-5 5l5-5-4-42-5 11z"/><path class="q2" d="M3020 2615l5-8-4-36-4 23z"/><path class="q1" d="M3016 2622l4-7-3-21-5 20z"/><path class="q0" d="M3011 2627l5-5-4-8-5 10zm-9 1l4 0-3-2-5-1zm-5 2l5-2-4-3-5 2zm-70 18l4 1-3-2-5-6z"/><path class="q1" d="M2922 2644l5 4-4-7-4-13z"/><path class="q2" d="M2917 2641l5 3-3-16-5-14zm-4-1l4 1-3-27-5-6zm-5 3l5-3-4-32-4 9zm-5 7l5-7-3-26-5 17z"/><path class="q1" d="M2899 2656l4-6-3-16-5 15z"/><path class="q0" d="M2894 2659l5-3-4-7-4 8zm-89 23l5 0-4-3-4-2zm-4 0l4 0-3-5-5-2z"/><path class="q1" d="M2796 2683l5-1-4-7-5 0zm-5 2l5-2-4-8-4 3z"/><path class="q0" d="M2787 2687l4-2-3-7-5 4zm-5 2l5-2-4-5-5 5zm499-134l5-1-4-2-5-1zm-5 1l5-1-4-4-4-4z"/><path class="q1" d="M3272 2557l4-1-3-9-5-4zm-5 1l5-1-4-14-5-2zm-5 1l5-1-4-17-4 4zm-4 2l4-2-3-14-5 7z"/><path class="q0" d="M3253 2563l5-2-4-9-5 7zm-5 1l5-1-4-4-4 3zm-84 23l5-1-4-2-5-3zm-5 1l5-1-4-6-4-9z"/><path class="q1" d="M3155 2588l4 0-3-16-5-9zm-5 1l5-1-4-25-5-4zm-5 2l5-2-4-30-4 6zm-4 2l4-2-3-26-5 12z"/><path class="q0" d="M3136 2595l5-2-4-16-5 12zm-5 1l5-1-4-6-4 5zm-84 23l5-1-4-2-4-1zm-4 1l4-1-3-4-5-5z"/><path class="q1" d="M3038 2621l5-1-4-10-5-6zm-5 1l5-1-4-17-4-2zm-4 2l4-2-3-20-5 5zm-5 1l5-1-4-17-5 8z"/><path class="q0" d="M3019 2627l5-2-4-10-4 7zm-4 1l4-1-3-5-5 5zm-89 24l4-1-3-3-5-4zm-5 1l5-1-4-8-5-3z"/><path class="q1" d="M2916 2655l5-2-4-12-4-1zm-4 1l4-1-3-15-5 3z"/><path class="q0" d="M2907 2658l5-2-4-13-5 7zm-5 1l5-1-4-8-4 6zm-98 27l5-1-4-3-4 0zm-4 2l4-2-3-4-5 1zm-5 1l5-1-4-5-5 2zm-5 1l5-1-4-4-4 2zm364-100l4-1-3-1-5 1zm-5 2l5-2-4-1-5 2zm130-35l4 0-3 0-5 1zm-5 1l5-1-4 1-5 1zm-5 2l5-2-4 1-4 2zm-4 3l4-3-3 1-5 1zm-98 25l4 1-3-1-5 1zm-5-2l5 2-4 1-5 0zm-5 0l5 0-4 3-4 1zm-4 2l4-2-3 4-5 2zm-5 5l5-5-4 4-5 2zm-5 4l5-4-4 1-4 2zm-93 24l4 1-3-1-5 1zm-5 0l5 0-4 1-5 0zm-5 0l5 0-4 1-4 1zm-4 2l4-2-3 2-5 2zm-5 3l5-3-4 2-5 2zm-5 4l5-4-4 1-4 2zm-98 24l5 0-4 0-4 1zm-4 1l4-1-3 1-5 1zm-5 2l5-2-4 1-5 1zm-5 2l5-2-4 0-4 2zm368-100l5 0-4-2-4 0zm-4 1l4-1-3-2-5 1zm-5 2l5-2-4-2-5 2zm-5 3l5-3-4-2-4 3zm-98 25l5 1-4-2-4-1zm-5-1l5 1-3-2-5-2z"/><path class="q1" d="M3161 2589l4 0-3-3-5 0zm-5 2l5-2-4-3-4 2z"/><path class="q0" d="M3151 2595l5-4-3-3-5 5zm-4 4l4-4-3-2-5 4zm-94 25l5 0-4-2-4-1zm-4-1l4 1-3-3-5 0zm-5 1l5-1-4-2-5 0zm-5 2l5-2-4-3-4 2zm-4 3l4-3-3-3-5 3zm-5 2l5-2-4-3-5 4zm-98 25l4 0-3-2-5 0zm-5 1l5-1-4-2-4 1zm-5 2l5-2-3-2-5 2zm-4 2l4-2-3-2-5 2zm368-98l5 0-4-4-5 0zm-5 2l5-2-4-4-4 1zm-4 1l4-1-3-5-5 2zm-5 2l5-2-4-4-5 3zm-98 26l4 0-3-3-5-1zm-5 1l5-1-4-4-5-1zm-5 1l5-1-4-6-4 0zm-4 2l4-2-3-7-5 2zm-5 1l5-1-4-7-5 4zm-5 2l5-2-4-4-4 4zm-98 27l5-1-4-3-4-1zm-4 1l4-1-3-5-5 1zm-5 1l5-1-4-5-5 2zm-5 2l5-2-4-4-4 3zm-103 28l5-1-4-3-4 0zm-4 1l4-1-3-4-5 1zm-5 2l5-2-4-4-5 2zm-5 1l5-1-4-4-4 2zm259-65l4 0-3-2-5 1zm-5 1l5-1-4-1-4 1zm-5 1l5-1-3-1-5 2zm-4 3l4-3-3 0-5 2zm17-1l5-1-4-3-4 0zm-4 1l4-1-3-4-5 1zm-5 2l5-2-4-4-5 1zm-5 1l5-1-4-5-4 3zm22-3l4 0-3 0-5 1zm-5 0l5 0-4 1-5 1zm-5 2l5-2-4 2-4 1zm-4 3l4-3-3 1-5 2zm-99 23l5 2-4 0-4 2zm-4-3l4 3-3 4-5 1zm-5 0l5 0-4 8-5 1zm-5 3l5-3-4 9-4 2zm-4 5l4-5-3 8-5 1zm-5 5l5-5-4 4-5 1zm139-36l5 0-4-2-4 0zm-5 1l5-1-3-2-5 0zm-4 2l4-2-3-3-5 2zm-5 2l5-2-4-3-4 3zm-98 24l5 2-4-3-5-2z"/><path class="q1" d="M3077 2634l5 1-4-3-4-3zm-4 0l4 0-3-5-5 0zm-5 3l5-3-4-5-5 3zm-5 4l5-4-4-5-4 5z"/><path class="q0" d="M3059 2644l4-3-3-4-5 5zm27-3l4-2-3-2-5-2zm-5 1l5-1-4-6-5-1zm-5 1l5-1-4-8-4 0zm-4 1l4-1-3-9-5 3zm-5 2l5-2-4-7-5 4zm-5 1l5-1-4-5-4 3zm27-7l5 0-4-1-4 2zm-5-1l5 1-3 1-5 1zm-4 0l4 0-3 3-5 1zm-5 2l5-2-4 4-4 1zm-5 4l5-4-3 3-5 2zm-4 3l4-3-3 1-5 1zm144-40l4 1-3 0-5 0zm-5-1l5 1-4 1-5 1zm-5 0l5 0-4 3-4 1zm-4 2l4-2-3 4-5 2zm-5 4l5-4-4 4-5 2zm-5 4l5-4-4 2-4 1zm-89 22l5 2-4-1-4 0zm-4-7l4 7-3 1-5 0z"/><path class="q1" d="M3088 2624l5 8-4 8-5-1zm-5-3l5 3-4 15-4 0zm-4 6l4-6-3 18-5 2zm-5 10l5-10-4 14-5 4z"/><path class="q0" d="M3069 2647l5-10-4 8-4 3zm-4 5l4-5-3 1-5 2zm-94 22l5 0-4 0-4 1zm-5 0l5 0-3 1-5 1zm-4 2l4-2-3 2-5 2zm-5 3l5-3-4 2-4 1zm364-98l4-1-3-1-5 1zm-5 2l5-2-4-1-5 2zm-103 26l5 2-4-2-4-1z"/><path class="q1" d="M3208 2607l5 2-3-1-5-1zm-4 0l4 0-3 0-5 0zm-5 2l5-2-4 0-4 2zm-5 5l5-5-3 0-5 4z"/><path class="q0" d="M3190 2619l4-5-3-1-5 4zm-89 21l5 3-4-2-5-2z"/><path class="q1" d="M3096 2631l5 9-4-1-4-7z"/><path class="q2" d="M3092 2621l4 10-3 1-5-8zm-5-4l5 4-4 3-5-3zm-5 7l5-7-4 4-4 6zm-4 12l4-12-3 3-5 10z"/><path class="q1" d="M3073 2648l5-12-4 1-5 10z"/><path class="q0" d="M3068 2653l5-5-4-1-4 5zm-89 22l5 1-3-2-5 0zm-4 0l4 0-3-1-5 0zm-5 0l5 0-4-1-5 0zm-5 2l5-2-4-1-4 2zm-4 4l4-4-3-1-5 3zm-5 3l5-3-4-2-5 3zm368-99l5-1-4-4-4 1zm-5 1l5-1-3-4-5 2zm-102 28l4 0-3-3-5-2zm-5 0l5 0-4-5-5-2z"/><path class="q1" d="M3207 2615l5-1-4-7-4 0zm-4 2l4-2-3-8-5 2z"/><path class="q0" d="M3198 2619l5-2-4-8-5 5zm-5 2l5-2-4-5-4 5zm-88 24l4 0-3-2-5-3z"/><path class="q1" d="M3100 2643l5 2-4-5-5-9zm-5-2l5 2-4-12-4-10z"/><path class="q2" d="M3090 2641l5 0-3-20-5-4zm-4 3l4-3-3-24-5 7z"/><path class="q1" d="M3081 2648l5-4-4-20-4 12zm-5 5l5-5-3-12-5 12z"/><path class="q0" d="M3072 2655l4-2-3-5-5 5zm-89 24l5-1-4-2-5-1zm-5 1l5-1-4-4-4 0zm-4 1l4-1-3-5-5 0zm-5 1l5-1-4-6-5 2zm-5 2l5-2-4-5-4 4zm-4 2l4-2-3-3-5 3zm256-69l4-1-3-2-5 0zm-5 0l5 0-4-3-5 1zm-5 2l5-2-4-2-4 2zm-4 2l4-2-3-2-5 2zm-99 25l5 1-3-2-5-2zm-4-1l4 1-3-3-5-2z"/><path class="q1" d="M3094 2645l5 0-4-4-5 0zm-5 2l5-2-4-4-4 3z"/><path class="q0" d="M3085 2651l4-4-3-3-5 4zm-5 4l5-4-4-3-5 5zm261-73l4 2-3-1-5 1zm-5-2l5 2-4 2-5 2zm-5 0l5 0-4 6-4 1zm-4 2l4-2-3 7-5 1zm-5 5l5-5-4 6-5 2zm-5 4l5-4-4 3-4 1zm-88 21l4 4-3-2-5 1z"/><path class="q1" d="M3224 2603l5 9-4 3-5 1zm-5-11l5 11-4 13-4 1zm-5-4l5 4-3 25-5 0zm-4 7l4-7-3 29-5 2zm-5 13l5-13-4 24-4 2zm-5 12l5-12-3 13-5 2z"/><path class="q0" d="M3196 2626l4-6-3 3-5 2zm-66 15l5 1-4-1-4 2zm-4 0l4 0-3 2-5 1zm-5 5l5-5-4 3-5 1zm-9-13l4 14-3 0-5 0z"/><path class="q2" d="M3107 2600l5 33-4 14-5-1z"/><path class="q3" d="M3102 2563l5 37-4 46-4-1z"/><path class="q5" d="M3098 2547l4 16-3 82-5 0zm-5 18l5-18-4 98-5 2z"/><path class="q3" d="M3088 2605l5-40-4 82-4 4z"/><path class="q2" d="M3084 2641l4-36-3 46-5 4z"/><path class="q0" d="M3079 2658l5-17-4 14-5 2zm-9-2l4 2-3 0-5 1zm-5 3l5-3-4 3-5 2zm-5 4l5-4-4 2-4 1zm-65 16l5 1-4-1-5 1zm-5-5l5 5-4 1-4 1z"/><path class="q1" d="M2985 2668l5 6-3 7-5 1zm-4-1l4 1-3 14-5 1zm-5 4l5-4-4 16-4 1zm-5 8l5-8-3 13-5 2z"/><path class="q0" d="M2967 2687l4-8-3 7-5 2zm-5 4l5-4-4 1-4 1zm-89 21l5 1-4-1-4 1zm-4-2l4 2-3 1-5 2zm-5 1l5-1-4 5-5 1zm-5 2l5-2-4 5-4 1zm-4 4l4-4-3 4-5 2zm-5 4l5-4-4 2-5 1zm499-139l5 3-4-1-5 0z"/><path class="q1" d="M3344 2574l5 8-4 2-4-2zm-4-9l4 9-3 8-5-2z"/><path class="q2" d="M3335 2562l5 3-4 15-5 0zm-5 6l5-6-4 18-4 2z"/><path class="q1" d="M3326 2579l4-11-3 14-5 5zm-5 11l5-11-4 8-5 4z"/><path class="q0" d="M3316 2596l5-6-4 1-4 3zm-65 14l4 2-3-1-5 0zm-5 1l5-1-4 1-4 1zm-5 4l5-4-3 1-5 2z"/><path class="q1" d="M3232 2603l5 14-4-1-4-4z"/><path class="q2" d="M3227 2571l5 32-3 9-5-9z"/><path class="q4" d="M3223 2535l4 36-3 32-5-11z"/><path class="q6" d="M3218 2521l5 14-4 57-5-4zm-5 17l5-17-4 67-4 7z"/><path class="q4" d="M3209 2576l4-38-3 57-5 13z"/><path class="q2" d="M3204 2611l5-35-4 32-5 12z"/><path class="q1" d="M3199 2627l5-16-4 9-4 6z"/><path class="q0" d="M3190 2626l5 2-4-1-5 0zm-5 2l5-2-4 1-4 2zm-4 4l4-4-3 1-5 2zm-28 4l4 4-3-2-5 0zm-5 3l5-3-4 2-5 1zm-5 4l5-4-4 0-4 3zm-4-1l4 1-3-1-5 0zm-5-8l5 8-4 0-5-1z"/><path class="q1" d="M3129 2633l5 1-4 7-4 0zm-4 11l4-11-3 8-5 5z"/><path class="q0" d="M3120 2647l5-3-4 2-5 1z"/><path class="q2" d="M3115 2600l5 47-4 0-4-14z"/><path class="q6" d="M3111 2494l4 106-3 33-5-33z"/><path class="q13" d="M3106 2376l5 118-4 106-5-37z"/><path class="q18" d="M3101 2325l5 51-4 187-4-16zm-4 53l4-53-3 222-5 18z"/><path class="q13" d="M3092 2499l5-121-4 187-5 40z"/><path class="q6" d="M3087 2608l5-109-4 106-4 36z"/><path class="q2" d="M3083 2657l4-49-3 33-5 17z"/><path class="q0" d="M3078 2657l5 0-4 1-5 0z"/><path class="q1" d="M3073 2648l5 9-4 1-4-2zm-4 4l4-4-3 8-5 3z"/><path class="q0" d="M3064 2662l5-10-4 7-5 4zm-5 5l5-5-4 1-4 2zm-4-3l4 3-3-2-5 0zm-5 0l5 0-4 1-5 1zm-5 7l5-7-4 2-4 3zm-33 6l5-1-3 0-5 1zm-4 3l4-3-3 0-5 2zm-10-6l5 8-3-2-5-1z"/><path class="q1" d="M2994 2656l4 18-3 5-5-5z"/><path class="q2" d="M2989 2636l5 20-4 18-5-6z"/><path class="q3" d="M2984 2628l5 8-4 32-4-1zm-4 11l4-11-3 39-5 4z"/><path class="q2" d="M2975 2661l5-22-4 32-5 8z"/><path class="q1" d="M2970 2682l5-21-4 18-4 8z"/><path class="q0" d="M2966 2692l4-10-3 5-5 4zm-10 0l5 1-4-1-4 1zm-4 2l4-2-3 1-5 1zm-70 18l4 2-3-1-5 0zm-5-6l5 6-4 1-5-1z"/><path class="q1" d="M2872 2699l5 7-4 6-4-2zm-4-2l4 2-3 11-5 1zm-5 4l5-4-4 14-5 2zm-5 10l5-10-4 12-4 4z"/><path class="q0" d="M2854 2720l4-9-3 6-5 4zm-5 5l5-5-4 1-5 2zm504-144l4 6-3-2-5-3z"/><path class="q1" d="M3348 2565l5 16-4 1-5-8z"/><path class="q2" d="M3343 2548l5 17-4 9-4-9z"/><path class="q3" d="M3338 2541l5 7-3 17-5-3zm-4 10l4-10-3 21-5 6z"/><path class="q2" d="M3329 2570l5-19-4 17-4 11z"/><path class="q1" d="M3324 2588l5-18-3 9-5 11z"/><path class="q0" d="M3320 2597l4-9-3 2-5 6zm-47 11l5 1-4-2-5 0zm-5 2l5-2-4-1-4 2zm-14-1l5 4-4-1-4-2z"/><path class="q1" d="M3250 2609l4 0-3 1-5 1z"/><path class="q0" d="M3245 2616l5-7-4 2-5 4zm-5 2l5-2-4-1-4 2z"/><path class="q1" d="M3236 2593l4 25-3-1-5-14z"/><path class="q4" d="M3231 2536l5 57-4 10-5-32z"/><path class="q9" d="M3226 2472l5 64-4 35-4-36z"/><path class="q12" d="M3222 2445l4 27-3 63-5-14zm-5 30l5-30-4 76-5 17z"/><path class="q9" d="M3212 2541l5-66-4 63-4 38z"/><path class="q4" d="M3208 2601l4-60-3 35-5 35z"/><path class="q1" d="M3203 2628l5-27-4 10-5 16z"/><path class="q0" d="M3198 2629l5-1-4-1-4 1zm-4-5l4 5-3-1-5-2z"/><path class="q1" d="M3189 2627l5-3-4 2-5 2z"/><path class="q0" d="M3184 2633l5-6-4 1-4 4zm-14 3l5-1-4 0-4 0zm-4 4l4-4-3-1-5 3zm-10-7l5 8-4-1-4-4z"/><path class="q1" d="M3152 2637l4-4-3 3-5 3z"/><path class="q0" d="M3147 2645l5-8-4 2-5 4zm-5-4l5 4-4-2-4-1z"/><path class="q1" d="M3138 2626l4 15-3 1-5-8z"/><path class="q2" d="M3133 2623l5 3-4 8-5-1z"/><path class="q1" d="M3128 2643l5-20-4 10-4 11z"/><path class="q0" d="M3124 2646l4-3-3 1-5 3z"/><path class="q3" d="M3119 2564l5 82-4 1-5-47z"/><path class="q13" d="M3114 2376l5 188-4 36-4-106z"/><path class="q28" d="M3109 2169l5 207-3 118-5-118z"/><path class="q38" d="M3105 2078l4 91-3 207-5-51zm-5 93l5-93-4 247-4 53z"/><path class="q28" d="M3095 2381l5-210-3 207-5 121z"/><path class="q13" d="M3091 2571l4-190-3 118-5 109z"/><path class="q3" d="M3086 2656l5-85-4 37-4 49z"/><path class="q0" d="M3081 2655l5 1-3 1-5 0z"/><path class="q1" d="M3077 2638l4 17-3 2-5-9z"/><path class="q2" d="M3072 2645l5-7-4 10-4 4z"/><path class="q1" d="M3067 2662l5-17-3 7-5 10z"/><path class="q0" d="M3063 2668l4-6-3 0-5 5zm-5-5l5 5-4-1-4-3z"/><path class="q1" d="M3053 2662l5 1-3 1-5 0z"/><path class="q0" d="M3049 2672l4-10-3 2-5 7zm-28 4l4 2-3-1-5-1zm-5 1l5-1-4 0-5 1zm-5 4l5-4-4 0-4 3z"/><path class="q1" d="M3002 2669l5 14-4-1-5-8z"/><path class="q2" d="M2997 2636l5 33-4 5-4-18z"/><path class="q5" d="M2993 2600l4 36-3 20-5-20z"/><path class="q7" d="M2988 2585l5 15-4 36-5-8zm-5 18l5-18-4 43-4 11z"/><path class="q5" d="M2979 2642l4-39-3 36-5 22z"/><path class="q2" d="M2974 2677l5-35-4 19-5 21z"/><path class="q1" d="M2969 2693l5-16-4 5-4 10z"/><path class="q0" d="M2960 2692l5 2-4-1-5-1zm-5 2l5-2-4 0-4 2zm-4 4l4-4-3 0-5 3zm-66 13l5 5-4-2-4-2z"/><path class="q1" d="M2880 2699l5 12-3 1-5-6z"/><path class="q2" d="M2876 2686l4 13-3 7-5-7z"/><path class="q3" d="M2871 2681l5 5-4 13-4-2zm-5 8l5-8-3 16-5 4z"/><path class="q2" d="M2862 2704l4-15-3 12-5 10z"/><path class="q1" d="M2857 2719l5-15-4 7-4 9z"/><path class="q0" d="M2852 2726l5-7-3 1-5 5zm518-142l5-1-4-2-4 1zm-5 3l5-3-3-2-5 3zm-9-6l5 7-4-1-4-6z"/><path class="q2" d="M3351 2562l5 19-3 0-5-16z"/><path class="q3" d="M3347 2542l4 20-3 3-5-17z"/><path class="q5" d="M3342 2534l5 8-4 6-5-7zm-5 10l5-10-4 7-4 10z"/><path class="q3" d="M3333 2568l4-24-3 7-5 19z"/><path class="q2" d="M3328 2589l5-21-4 2-5 18z"/><path class="q0" d="M3323 2599l5-10-4-1-4 9zm-9 0l5 1-4-2-5 0zm-5 2l5-2-4-1-4 2zm-32 8l4 2-3-2-5-1zm-5 2l5-2-4-1-5 2zm-14-2l5 5-4-1-5-4z"/><path class="q1" d="M3253 2609l5 0-4 0-4 0zm-4 8l4-8-3 0-5 7z"/><path class="q0" d="M3244 2619l5-2-4-1-5 2z"/><path class="q1" d="M3239 2590l5 29-4-1-4-25z"/><path class="q6" d="M3235 2521l4 69-3 3-5-57z"/><path class="q12" d="M3230 2446l5 75-4 15-5-64z"/><path class="q17" d="M3225 2413l5 33-4 26-4-27zm-4 35l4-35-3 32-5 30z"/><path class="q12" d="M3216 2526l5-78-4 27-5 66z"/><path class="q6" d="M3211 2597l5-71-4 15-4 60z"/><path class="q1" d="M3207 2629l4-32-3 4-5 27z"/><path class="q0" d="M3202 2630l5-1-4-1-5 1z"/><path class="q1" d="M3197 2624l5 6-4-1-4-5zm-4 3l4-3-3 0-5 3z"/><path class="q0" d="M3188 2635l5-8-4 0-5 6zm-14 2l5 0-4-2-5 1zm-5 5l5-5-4-1-4 4zm-9-9l4 10-3-2-5-8z"/><path class="q1" d="M3155 2638l5-5-4 0-4 4z"/><path class="q0" d="M3150 2647l5-9-3-1-5 8zm-4-5l4 5-3-2-5-4z"/><path class="q1" d="M3141 2624l5 18-4-1-4-15z"/><path class="q2" d="M3136 2620l5 4-3 2-5-3zm-4 23l4-23-3 3-5 20z"/><path class="q1" d="M3127 2647l5-4-4 0-4 3z"/><path class="q5" d="M3122 2549l5 98-3-1-5-82z"/><path class="q18" d="M3118 2325l4 224-3 15-5-188z"/><path class="q38" d="M3113 2078l5 247-4 51-5-207z"/><path class="q53" d="M3108 1971l5 107-4 91-4-91zm-4 110l4-110-3 107-5 93z"/><path class="q38" d="M3099 2331l5-250-4 90-5 210z"/><path class="q18" d="M3094 2556l5-225-4 50-4 190z"/><path class="q5" d="M3090 2657l4-101-3 15-5 85z"/><path class="q1" d="M3085 2656l5 1-4-1-5-1z"/><path class="q2" d="M3080 2635l5 21-4-1-4-17zm-4 7l4-7-3 3-5 7z"/><path class="q1" d="M3071 2663l5-21-4 3-5 17z"/><path class="q0" d="M3066 2670l5-7-4-1-4 6zm-4-6l4 6-3-2-5-5z"/><path class="q1" d="M3057 2662l5 2-4-1-5-1z"/><path class="q0" d="M3052 2674l5-12-4 0-4 10zm-28 3l5 2-4-1-4-2zm-4 0l4 0-3-1-5 1zm-5 6l5-6-4 0-5 4z"/><path class="q1" d="M3006 2668l4 16-3-1-5-14z"/><path class="q3" d="M3001 2629l5 39-4 1-5-33z"/><path class="q7" d="M2996 2585l5 44-4 7-4-36z"/><path class="q10" d="M2992 2567l4 18-3 15-5-15zm-5 21l5-21-4 18-5 18z"/><path class="q7" d="M2982 2634l5-46-4 15-4 39z"/><path class="q3" d="M2978 2675l4-41-3 8-5 35z"/><path class="q1" d="M2973 2695l5-20-4 2-5 16z"/><path class="q0" d="M2964 2693l4 2-3-1-5-2zm-5 2l5-2-4-1-5 2zm-5 5l5-5-4-1-4 4zm-65 12l4 5-3-1-5-5z"/><path class="q1" d="M2884 2697l5 15-4-1-5-12z"/><path class="q3" d="M2879 2681l5 16-4 2-4-13z"/><path class="q4" d="M2875 2675l4 6-3 5-5-5zm-5 9l5-9-4 6-5 8z"/><path class="q3" d="M2865 2702l5-18-4 5-4 15z"/><path class="q1" d="M2861 2719l4-17-3 2-5 15z"/><path class="q0" d="M2856 2728l5-9-4 0-5 7zm518-142l4-1-3-2-5 1zm-5 3l5-3-4-2-5 3zm-9-5l4 6-3-2-5-7z"/><path class="q2" d="M3355 2569l5 15-4-3-5-19z"/><path class="q3" d="M3350 2552l5 17-4-7-4-20z"/><path class="q5" d="M3346 2545l4 7-3-10-5-8zm-5 9l5-9-4-11-5 10z"/><path class="q3" d="M3336 2574l5-20-4-10-4 24z"/><path class="q2" d="M3332 2592l4-18-3-6-5 21z"/><path class="q0" d="M3327 2600l5-8-4-3-5 10zm-9 1l4 0-3-1-5-1zm-5 2l5-2-4-2-5 2zm-33 8l5 1-4-1-4-2zm-4 2l4-2-3-2-5 2zm-14-1l4 4-3-2-5-5z"/><path class="q1" d="M3257 2612l5 0-4-3-5 0zm-5 7l5-7-4-3-4 8z"/><path class="q0" d="M3248 2621l4-2-3-2-5 2z"/><path class="q1" d="M3243 2596l5 25-4-2-5-29z"/><path class="q6" d="M3238 2539l5 57-4-6-4-69z"/><path class="q12" d="M3233 2476l5 63-3-18-5-75z"/><path class="q17" d="M3229 2449l4 27-3-30-5-33zm-5 29l5-29-4-36-4 35z"/><path class="q12" d="M3219 2544l5-66-3-30-5 78z"/><path class="q6" d="M3215 2604l4-60-3-18-5 71z"/><path class="q1" d="M3210 2631l5-27-4-7-4 32z"/><path class="q0" d="M3205 2632l5-1-3-2-5 1z"/><path class="q1" d="M3201 2628l4 4-3-2-5-6zm-5 2l5-2-4-4-4 3z"/><path class="q0" d="M3191 2637l5-7-3-3-5 8zm-14 2l5 0-3-2-5 0zm-4 4l4-4-3-2-5 5zm-10-6l5 8-4-2-4-10z"/><path class="q1" d="M3159 2641l4-4-3-4-5 5z"/><path class="q0" d="M3154 2648l5-7-4-3-5 9zm-5-3l5 3-4-1-4-5z"/><path class="q1" d="M3145 2630l4 15-3-3-5-18z"/><path class="q2" d="M3140 2626l5 4-4-6-5-4zm-5 20l5-20-4-6-4 23z"/><path class="q1" d="M3131 2649l4-3-3-3-5 4z"/><path class="q5" d="M3126 2567l5 82-4-2-5-98z"/><path class="q18" d="M3121 2380l5 187-4-18-4-224z"/><path class="q38" d="M3117 2172l4 208-3-55-5-247z"/><path class="q53" d="M3112 2081l5 91-4-94-5-107zm-5 94l5-94-4-110-4 110z"/><path class="q38" d="M3103 2385l4-210-3-94-5 250z"/><path class="q18" d="M3098 2575l5-190-4-54-5 225z"/><path class="q5" d="M3093 2660l5-85-4-19-4 101z"/><path class="q1" d="M3089 2659l4 1-3-3-5-1z"/><path class="q2" d="M3084 2642l5 17-4-3-5-21zm-5 6l5-6-4-7-4 7z"/><path class="q1" d="M3075 2665l4-17-3-6-5 21z"/><path class="q0" d="M3070 2671l5-6-4-2-5 7zm-5-4l5 4-4-1-4-6z"/><path class="q1" d="M3061 2665l4 2-3-3-5-2z"/><path class="q0" d="M3056 2676l5-11-4-3-5 12zm-28 4l5 1-4-2-5-2zm-5 0l5 0-4-3-4 0zm-4 5l4-5-3-3-5 6z"/><path class="q1" d="M3009 2672l5 14-4-2-4-16z"/><path class="q3" d="M3004 2640l5 32-3-4-5-39z"/><path class="q7" d="M3000 2603l4 37-3-11-5-44z"/><path class="q10" d="M2995 2588l5 15-4-18-4-18zm-5 18l5-18-3-21-5 21z"/><path class="q7" d="M2986 2645l4-39-3-18-5 46z"/><path class="q3" d="M2981 2680l5-35-4-11-4 41z"/><path class="q1" d="M2976 2697l5-17-3-5-5 20z"/><path class="q0" d="M2967 2695l5 2-4-2-4-2zm-5 3l5-3-3-2-5 2zm-4 4l4-4-3-3-5 5zm-66 13l5 4-4-2-4-5z"/><path class="q1" d="M2888 2703l4 12-3-3-5-15z"/><path class="q3" d="M2883 2689l5 14-4-6-5-16z"/><path class="q4" d="M2878 2684l5 5-4-8-4-6zm-4 8l4-8-3-9-5 9z"/><path class="q3" d="M2869 2708l5-16-4-8-5 18z"/><path class="q1" d="M2864 2722l5-14-4-6-4 17z"/><path class="q0" d="M2860 2729l4-7-3-3-5 9zm503-140l5 3-4-2-4-6z"/><path class="q1" d="M3359 2581l4 8-3-5-5-15z"/><path class="q2" d="M3354 2572l5 9-4-12-5-17z"/><path class="q3" d="M3349 2568l5 4-4-20-4-7zm-4 6l4-6-3-23-5 9z"/><path class="q2" d="M3340 2586l5-12-4-20-5 20z"/><path class="q1" d="M3335 2597l5-11-4-12-4 18z"/><path class="q0" d="M3331 2602l4-5-3-5-5 8zm-47 12l4 0-3-2-5-1zm-5 2l5-2-4-3-4 2zm-14 1l5 1-4-2-4-4z"/><path class="q1" d="M3260 2617l5 0-3-5-5 0z"/><path class="q0" d="M3256 2622l4-5-3-5-5 7zm-5 1l5-1-4-3-4 2z"/><path class="q1" d="M3246 2610l5 13-3-2-5-25z"/><path class="q4" d="M3242 2578l4 32-3-14-5-57z"/><path class="q9" d="M3237 2542l5 36-4-39-5-63z"/><path class="q12" d="M3232 2527l5 15-4-66-4-27zm-4 18l4-18-3-78-5 29z"/><path class="q9" d="M3223 2583l5-38-4-67-5 66z"/><path class="q4" d="M3218 2618l5-35-4-39-4 60z"/><path class="q1" d="M3214 2634l4-16-3-14-5 27z"/><path class="q0" d="M3209 2635l5-1-4-3-5 1zm-5-2l5 2-4-3-4-4z"/><path class="q1" d="M3200 2635l4-2-3-5-5 2z"/><path class="q0" d="M3195 2639l5-4-4-5-5 7zm-14 3l5-1-4-2-5 0zm-5 3l5-3-4-3-4 4zm-9-3l5 4-4-1-5-8z"/><path class="q1" d="M3162 2645l5-3-4-5-4 4z"/><path class="q0" d="M3158 2650l4-5-3-4-5 7zm-5-1l5 1-4-2-5-3z"/><path class="q1" d="M3148 2641l5 8-4-4-4-15z"/><path class="q2" d="M3144 2639l4 2-3-11-5-4z"/><path class="q1" d="M3139 2651l5-12-4-13-5 20z"/><path class="q0" d="M3134 2653l5-2-4-5-4 3z"/><path class="q3" d="M3130 2607l4 46-3-4-5-82z"/><path class="q13" d="M3125 2500l5 107-4-40-5-187z"/><path class="q28" d="M3120 2383l5 117-4-120-4-208z"/><path class="q38" d="M3116 2331l4 52-3-211-5-91zm-5 54l5-54-4-250-5 94z"/><path class="q28" d="M3106 2506l5-121-4-210-4 210z"/><path class="q13" d="M3102 2615l4-109-3-121-5 190z"/><path class="q3" d="M3097 2664l5-49-4-40-5 85z"/><path class="q0" d="M3092 2664l5 0-4-4-4-1z"/><path class="q1" d="M3088 2655l4 9-3-5-5-17z"/><path class="q2" d="M3083 2659l5-4-4-13-5 6z"/><path class="q1" d="M3078 2669l5-10-4-11-4 17z"/><path class="q0" d="M3073 2673l5-4-3-4-5 6zm-4-2l4 2-3-2-5-4z"/><path class="q1" d="M3064 2671l5 0-4-4-4-2z"/><path class="q0" d="M3059 2677l5-6-3-6-5 11zm-28 6l5 0-3-2-5-1zm-4 1l4-1-3-3-5 0zm-5 3l5-3-4-4-4 5z"/><path class="q1" d="M3013 2681l4 7-3-2-5-14z"/><path class="q2" d="M3008 2663l5 18-4-9-5-32z"/><path class="q5" d="M3003 2643l5 20-4-23-4-37z"/><path class="q7" d="M2999 2634l4 9-3-40-5-15zm-5 11l5-11-4-46-5 18z"/><path class="q5" d="M2989 2668l5-23-4-39-4 39z"/><path class="q2" d="M2985 2689l4-21-3-23-5 35z"/><path class="q1" d="M2980 2699l5-10-4-9-5 17z"/><path class="q0" d="M2971 2699l4 1-3-3-5-2zm-5 2l5-2-4-4-5 3zm-5 3l5-3-4-3-4 4zm-65 15l5 2-4-2-5-4z"/><path class="q1" d="M2891 2713l5 6-4-4-4-12z"/><path class="q2" d="M2887 2706l4 7-3-10-5-14z"/><path class="q3" d="M2882 2703l5 3-4-17-5-5zm-5 5l5-5-4-19-4 8z"/><path class="q2" d="M2873 2718l4-10-3-16-5 16z"/><path class="q1" d="M2868 2727l5-9-4-10-5 14z"/><path class="q0" d="M2863 2731l5-4-4-5-4 7zm504-137l5 0-4-2-5-3z"/><path class="q1" d="M3362 2592l5 2-4-5-4-8zm-5-2l5 2-3-11-5-9z"/><path class="q2" d="M3353 2590l4 0-3-18-5-4zm-5 3l5-3-4-22-4 6z"/><path class="q1" d="M3343 2597l5-4-3-19-5 12zm-4 5l4-5-3-11-5 11z"/><path class="q0" d="M3334 2604l5-2-4-5-4 5zm-65 17l4 0-3-3-5-1zm-5 1l5-1-4-4-5 0zm-5 2l5-2-4-5-4 5z"/><path class="q1" d="M3250 2622l5 4-4-3-5-13z"/><path class="q2" d="M3245 2613l5 9-4-12-4-32z"/><path class="q4" d="M3241 2602l4 11-3-35-5-36z"/><path class="q6" d="M3236 2598l5 4-4-60-5-15zm-5 7l5-7-4-71-4 18z"/><path class="q4" d="M3227 2618l4-13-3-60-5 38z"/><path class="q2" d="M3222 2630l5-12-4-35-5 35z"/><path class="q1" d="M3217 2636l5-6-4-12-4 16z"/><path class="q0" d="M3208 2638l5-1-4-2-5-2zm-5 1l5-1-4-5-4 2zm-4 2l4-2-3-4-5 4zm-28 7l4 0-3-2-5-4zm-5 1l5-1-4-6-5 3zm-5 3l5-3-4-4-4 5zm-4 0l4 0-3-2-5-1zm-5-1l5 1-4-3-5-8z"/><path class="q1" d="M3147 2651l5 0-4-10-4-2zm-4 5l4-5-3-12-5 12z"/><path class="q0" d="M3138 2657l5-1-4-5-5 2z"/><path class="q2" d="M3133 2643l5 14-4-4-4-46z"/><path class="q6" d="M3128 2610l5 33-3-36-5-107z"/><path class="q13" d="M3124 2573l4 37-3-110-5-117z"/><path class="q18" d="M3119 2557l5 16-4-190-4-52zm-5 19l5-19-3-226-5 54z"/><path class="q13" d="M3110 2615l4-39-3-191-5 121z"/><path class="q6" d="M3105 2651l5-36-4-109-4 109z"/><path class="q2" d="M3100 2668l5-17-3-36-5 49z"/><path class="q0" d="M3096 2669l4-1-3-4-5 0z"/><path class="q1" d="M3091 2666l5 3-4-5-4-9zm-5 3l5-3-3-11-5 4z"/><path class="q0" d="M3082 2673l4-4-3-10-5 10zm-5 2l5-2-4-4-5 4zm-5 0l5 0-4-2-4-2zm-4 1l4-1-3-4-5 0zm-5 3l5-3-4-5-5 6zm-33 8l5-1-4-3-4 1zm-4 2l4-2-3-3-5 3zm-10 0l5 1-4-2-4-7z"/><path class="q1" d="M3012 2684l4 5-3-8-5-18z"/><path class="q2" d="M3007 2678l5 6-4-21-5-20z"/><path class="q3" d="M3002 2677l5 1-4-35-4-9zm-4 4l4-4-3-43-5 11z"/><path class="q2" d="M2993 2689l5-8-4-36-5 23z"/><path class="q1" d="M2988 2697l5-8-4-21-4 21z"/><path class="q0" d="M2984 2701l4-4-3-8-5 10zm-10 2l5-1-4-2-4-1zm-4 1l4-1-3-4-5 2zm-71 19l5 0-3-2-5-2zm-4-1l4 1-3-4-5-6z"/><path class="q1" d="M2890 2720l5 2-4-9-4-7zm-5 1l5-1-3-14-5-3zm-4 2l4-2-3-18-5 5zm-5 4l5-4-4-15-4 10z"/><path class="q0" d="M2871 2731l5-4-3-9-5 9zm-4 2l4-2-3-4-5 4zm499-135l4-1-3-3-5-2zm-5 1l5-1-4-6-5-2zm-5 1l5-1-4-9-4 0zm-4 2l4-2-3-10-5 3zm-5 1l5-1-4-9-5 4zm-5 2l5-2-4-6-4 5zm-88 24l4-1-3-2-5-4z"/><path class="q1" d="M3249 2629l5 0-4-7-5-9zm-5 1l5-1-4-16-4-11zm-4 1l4-1-3-28-5-4zm-5 2l5-2-4-33-5 7zm-5 2l5-2-4-28-4 13zm-4 2l4-2-3-17-5 12z"/><path class="q0" d="M3221 2638l5-1-4-7-5 6zm-66 18l5-1-3-3-5-1zm-4 1l4-1-3-5-5 0zm-5 2l5-2-4-6-4 5zm-9 1l4 0-3-3-5-14z"/><path class="q2" d="M3132 2659l5 1-4-17-5-33z"/><path class="q3" d="M3127 2658l5 1-4-49-4-37z"/><path class="q5" d="M3123 2659l4-1-3-85-5-16zm-5 2l5-2-4-102-5 19z"/><path class="q3" d="M3113 2665l5-4-4-85-4 39z"/><path class="q2" d="M3109 2668l4-3-3-50-5 36z"/><path class="q0" d="M3104 2670l5-2-4-17-5 17zm-9 3l4-1-3-3-5-3zm-5 1l5-1-4-7-5 3zm-5 1l5-1-4-5-4 4zm-65 18l5-1-4-2-5-1zm-5 1l5-1-4-4-4-5z"/><path class="q1" d="M3011 2695l4-1-3-10-5-6zm-5 1l5-1-4-17-5-1zm-5 2l5-2-4-19-4 4zm-4 1l4-1-3-17-5 8z"/><path class="q0" d="M2992 2701l5-2-4-10-5 8zm-5 2l5-2-4-4-4 4zm-89 24l5-1-4-3-4-1zm-4 1l4-1-3-5-5-2zm-5 1l5-1-4-8-5 1zm-5 2l5-2-4-8-4 2zm-4 1l4-1-3-8-5 4zm-5 1l5-1-4-5-5 4zm373-102l4 0-3-2-5 1zm-5 1l5-1-4-1-4 1zm-5 2l5-2-3-1-5 2zm-4 2l4-2-3-1-5 2zm-98 24l4 2-3-2-5-1zm-5-2l5 2-4-1-5-1z"/><path class="q1" d="M3126 2658l5 0-4 0-4 1zm-4 2l4-2-3 1-5 2z"/><path class="q0" d="M3117 2665l5-5-4 1-5 4zm-5 4l5-4-4 0-4 3zm252-68l4 0-3-1-5 2zm-5 2l5-2-4 1-5 1zm-103 26l5 2-4-1-5 1zm-5-2l5 2-4 2-4 0z"/><path class="q1" d="M3247 2627l4 0-3 4-5 1zm-5 3l5-3-4 5-5 2z"/><path class="q0" d="M3237 2634l5-4-4 4-4 2zm-4 5l4-5-3 2-5 2zm-89 21l5 3-4-1-5 0z"/><path class="q1" d="M3139 2651l5 9-4 2-4-2zm-4-10l4 10-3 9-5-2z"/><path class="q2" d="M3130 2638l5 3-4 17-5 0zm-5 6l5-6-4 20-4 2z"/><path class="q1" d="M3121 2656l4-12-3 16-5 5zm-5 12l5-12-4 9-5 4z"/><path class="q0" d="M3111 2673l5-5-4 1-4 3zm-89 23l5 0-4-1-4 1zm-4-1l4 1-3 0-5 0zm-5 0l5 0-4 1-5 1zm-5 2l5-2-4 2-4 2zm-4 4l4-4-3 2-5 2zm-5 3l5-3-4 0-5 2zm368-100l5-1-4-2-4 0zm-5 1l5-1-3-3-5 2zm-102 27l4 1-3-2-5-2z"/><path class="q1" d="M3255 2630l5 2-4-3-5-2zm-5 0l5 0-4-3-4 0zm-4 3l4-3-3-3-5 3zm-5 4l5-4-4-3-5 4z"/><path class="q0" d="M3236 2641l5-4-4-3-4 5zm-89 21l5 3-3-2-5-3z"/><path class="q1" d="M3143 2655l4 7-3-2-5-9z"/><path class="q2" d="M3138 2648l5 7-4-4-4-10zm-5-3l5 3-3-7-5-3zm-4 5l4-5-3-7-5 6zm-5 11l5-11-4-6-4 12z"/><path class="q1" d="M3119 2670l5-9-3-5-5 12z"/><path class="q0" d="M3115 2675l4-5-3-2-5 5zm-89 23l5 0-4-2-5 0zm-5-1l5 1-4-2-4-1zm-4 1l4-1-3-2-5 0zm-5 2l5-2-4-3-5 2zm-5 3l5-3-4-3-4 4zm-4 3l4-3-3-2-5 3zm260-70l5 0-4-3-4-1zm-4 1l4-1-3-4-5-2zm-5 1l5-1-4-7-5 0zm-5 1l5-1-4-8-4 3zm-4 2l4-2-3-6-5 4zm-5 2l5-2-4-4-5 4zm-89 24l5 0-4-2-5-3zm-5-1l5 1-4-5-4-7z"/><path class="q1" d="M3142 2665l4 1-3-11-5-7zm-5 1l5-1-4-17-5-3zm-5 2l5-2-4-21-4 5zm-4 4l4-4-3-18-5 11z"/><path class="q0" d="M3123 2675l5-3-4-11-5 9zm-5 2l5-2-4-5-4 5zm-93 25l5-1-4-3-5-1zm-5 1l5-1-4-5-4 1zm-4 2l4-2-3-5-5 2zm-5 1l5-1-4-5-5 3zm139-35l5-1-4-3-5-1zm-5 1l5-1-4-5-4-1zm-4 1l4-1-3-7-5 1zm-5 2l5-2-4-7-5 2zm-5 1l5-1-4-7-4 4zm-4 1l4-1-3-4-5 3zm27-8l4 1-3 0-5 1zm-5-1l5 1-4 2-5 1zm-5 0l5 0-4 4-4 1zm-4 2l4-2-3 5-5 2zm-5 4l5-4-4 5-5 1zm-5 4l5-4-4 2-4 1zm139-37l5-1-4-1-4 1zm-4 0l4 0-3-1-5 1zm-5 2l5-2-4 0-5 1zm-5 3l5-3-4-1-4 2zm-98 23l5 2-4-1-4-1z"/><path class="q1" d="M3152 2666l5 3-3 0-5-1zm-4 0l4 0-3 2-5 0zm-5 3l5-3-4 2-4 2zm-5 5l5-5-3 1-5 4z"/><path class="q0" d="M3134 2679l4-5-3 0-5 4zm139-34l5-1-4-4-5 1zm-5 1l5-1-4-4-4 0zm-4 2l4-2-3-5-5 2zm-5 1l5-1-4-5-5 3zm-98 27l4-1-3-4-5-2zm-5 1l5-1-4-7-5-3zm-5 2l5-2-4-11-4 0zm-4 1l4-1-3-13-5 3zm-5 1l5-1-4-11-5 5zm-5 2l5-2-4-7-4 5zm167-23l5 0-4 0-5 1zm-5 2l5-2-4 1-4 2zm-102 28l4 1-3-1-5 1zm-5-1l5 1-4 1-5 1zm-5 0l5 0-4 3-4 1zm-5 2l5-2-3 4-5 2zm-4 4l4-4-3 4-5 1zm-5 3l5-3-4 1-4 2zm-93 24l4 1-3-1-5 1zm-5-1l5 1-4 1-5 1zm-5 1l5-1-4 3-4 2zm-4 2l4-2-3 4-5 1zm-5 3l5-3-4 3-5 1zm-5 4l5-4-4 1-4 2zm261-73l5 2-4-1-5 0zm-5-2l5 2-4 1-4 1zm-4 0l4 0-3 4-5 0zm-5 3l5-3-4 4-5 2zm-5 4l5-4-4 3-4 2zm-4 4l4-4-3 1-5 3zm-89 23l4 2-3-2-5 1zm-5-5l5 5-4 1-4-1z"/><path class="q1" d="M3195 2679l5 6-3 5-5-1zm-4-2l4 2-3 10-5 0zm-5 5l5-5-4 12-5 2zm-5 8l5-8-4 9-4 4z"/><path class="q0" d="M3177 2698l4-8-3 5-5 3zm-5 4l5-4-4 0-5 3zm-84 21l5 1-4-2-5 1zm-5-5l5 5-4 0-4-1z"/><path class="q1" d="M3079 2712l4 6-3 4-5-1zm-5-2l5 2-4 9-5 1zm-5 5l5-5-4 12-4 2zm-4 8l4-8-3 9-5 3z"/><path class="q0" d="M3060 2730l5-7-4 4-5 4zm-5 4l5-4-4 1-4 2zm-89 22l5 1-3-1-5 0zm-4 0l4 0-3 0-5 1zm-5 0l5 0-4 1-5 1zm-5 2l5-2-4 2-4 2zm-4 3l4-3-3 2-5 2zm-5 4l5-4-4 1-5 1zm378-108l4 3-3 0-5-2z"/><path class="q1" d="M3316 2652l5 5-4 1-5-2zm-5-1l5 1-4 4-4 0zm-5 4l5-4-3 5-5 3zm-4 7l4-7-3 4-5 4z"/><path class="q0" d="M3297 2668l5-6-4 1-4 4zm-89 22l5 3-4-1-4-2z"/><path class="q1" d="M3204 2680l4 10-3 0-5-5z"/><path class="q2" d="M3199 2668l5 12-4 5-5-6zm-5-4l5 4-4 11-4-2zm-4 7l4-7-3 13-5 5zm-5 14l5-14-4 11-5 8z"/><path class="q1" d="M3180 2697l5-12-4 5-4 8z"/><path class="q0" d="M3176 2704l4-7-3 1-5 4zm-84 18l4 4-3-2-5-1z"/><path class="q1" d="M3087 2712l5 10-4 1-5-5z"/><path class="q2" d="M3082 2702l5 10-4 6-4-6zm-5-4l5 4-3 10-5-2zm-4 6l4-6-3 12-5 5zm-5 14l5-14-4 11-4 8z"/><path class="q1" d="M3063 2730l5-12-3 5-5 7z"/><path class="q0" d="M3059 2736l4-6-3 0-5 4zm-89 20l5 2-4-1-5-1zm-5-2l5 2-4 0-4 0z"/><path class="q1" d="M2961 2753l4 1-3 2-5 0zm-5 3l5-3-4 3-5 2z"/><path class="q0" d="M2951 2761l5-5-4 2-4 3zm-4 5l4-5-3 0-5 4zm382-104l4 1-3-2-5-1zm-5-5l5 5-4-2-4-3z"/><path class="q1" d="M3319 2651l5 6-3 0-5-5zm-4-1l4 1-3 1-5-1zm-5 4l5-4-4 1-5 4zm-5 8l5-8-4 1-4 7z"/><path class="q0" d="M3301 2669l4-7-3 0-5 6zm-5 4l5-4-4-1-5 4zm-84 17l5 5-4-2-5-3z"/><path class="q1" d="M3207 2678l5 12-4 0-4-10z"/><path class="q2" d="M3203 2665l4 13-3 2-5-12z"/><path class="q3" d="M3198 2659l5 6-4 3-5-4zm-5 8l5-8-4 5-4 7z"/><path class="q2" d="M3189 2683l4-16-3 4-5 14z"/><path class="q1" d="M3184 2698l5-15-4 2-5 12z"/><path class="q0" d="M3179 2705l5-7-4-1-4 7zm-84 18l5 4-4-1-4-4z"/><path class="q1" d="M3090 2711l5 12-3-1-5-10z"/><path class="q2" d="M3086 2698l4 13-3 1-5-10z"/><path class="q3" d="M3081 2693l5 5-4 4-5-4zm-5 8l5-8-4 5-4 6z"/><path class="q2" d="M3072 2716l4-15-3 3-5 14z"/><path class="q1" d="M3067 2730l5-14-4 2-5 12z"/><path class="q0" d="M3062 2737l5-7-4 0-4 6zm-88 20l4 2-3-1-5-2z"/><path class="q1" d="M2969 2754l5 3-4-1-5-2zm-5-1l5 1-4 0-4-1zm-4 3l4-3-3 0-5 3zm-5 6l5-6-4 0-5 5z"/><path class="q0" d="M2950 2767l5-5-4-1-4 5zm382-103l5 1-4-2-4-1zm-4-4l4 4-3-2-5-5z"/><path class="q1" d="M3323 2656l5 4-4-3-5-6zm-5-2l5 2-4-5-4-1zm-4 4l4-4-3-4-5 4zm-5 7l5-7-4-4-5 8z"/><path class="q0" d="M3304 2671l5-6-4-3-4 7zm-4 4l4-4-3-2-5 4zm-84 18l4 4-3-2-5-5z"/><path class="q1" d="M3211 2683l5 10-4-3-5-12z"/><path class="q2" d="M3206 2672l5 11-4-5-4-13z"/><path class="q3" d="M3201 2668l5 4-3-7-5-6zm-4 6l4-6-3-9-5 8z"/><path class="q2" d="M3192 2688l5-14-4-7-4 16z"/><path class="q1" d="M3187 2701l5-13-3-5-5 15z"/><path class="q0" d="M3183 2707l4-6-3-3-5 7zm-84 18l4 4-3-2-5-4z"/><path class="q1" d="M3094 2716l5 9-4-2-5-12z"/><path class="q2" d="M3089 2705l5 11-4-5-4-13z"/><path class="q3" d="M3085 2701l4 4-3-7-5-5zm-5 7l5-7-4-8-5 8z"/><path class="q2" d="M3075 2721l5-13-4-7-4 15z"/><path class="q1" d="M3071 2733l4-12-3-5-5 14z"/><path class="q0" d="M3066 2739l5-6-4-3-5 7zm-89 20l5 2-4-2-4-2z"/><path class="q1" d="M2972 2757l5 2-3-2-5-3zm-4 0l4 0-3-3-5-1zm-5 3l5-3-4-4-4 3zm-5 4l5-4-3-4-5 6z"/><path class="q0" d="M2954 2769l4-5-3-2-5 5zm377-104l5 1-4-2-4-4z"/><path class="q1" d="M3327 2663l4 2-3-5-5-4zm-5 0l5 0-4-7-5-2zm-5 2l5-2-4-9-4 4zm-4 5l4-5-3-7-5 7z"/><path class="q0" d="M3308 2674l5-4-4-5-5 6zm-89 23l5 1-4-1-4-4z"/><path class="q1" d="M3214 2692l5 5-3-4-5-10z"/><path class="q2" d="M3210 2686l4 6-3-9-5-11zm-5-2l5 2-4-14-5-4zm-5 5l5-5-4-16-4 6zm-4 8l4-8-3-15-5 14z"/><path class="q1" d="M3191 2705l5-8-4-9-5 13z"/><path class="q0" d="M3186 2709l5-4-4-4-4 6zm-84 20l5 2-4-2-4-4z"/><path class="q1" d="M3098 2724l4 5-3-4-5-9z"/><path class="q2" d="M3093 2719l5 5-4-8-5-11zm-5-2l5 2-4-14-4-4zm-4 4l4-4-3-16-5 7zm-5 9l5-9-4-13-5 13z"/><path class="q1" d="M3074 2737l5-7-4-9-4 12z"/><path class="q0" d="M3070 2741l4-4-3-4-5 6zm-89 22l4 1-3-3-5-2zm-5-1l5 1-4-4-5-2z"/><path class="q1" d="M2971 2763l5-1-4-5-4 0zm-4 2l4-2-3-6-5 3z"/><path class="q0" d="M2962 2768l5-3-4-5-5 4zm-5 3l5-3-4-4-4 5zm378-102l5 0-4-3-5-1zm-5 1l5-1-4-4-4-2zm-5 0l5 0-3-7-5 0zm-4 2l4-2-3-7-5 2zm-5 2l5-2-4-7-4 5zm-5 3l5-3-3-4-5 4zm-88 24l4-1-3-2-5-1zm-5-1l5 1-4-4-5-5z"/><path class="q1" d="M3213 2699l5 1-4-8-4-6zm-4 0l4 0-3-13-5-2zm-5 2l5-2-4-15-5 5zm-5 4l5-4-4-12-4 8z"/><path class="q0" d="M3195 2708l4-3-3-8-5 8zm-5 3l5-3-4-3-5 4zm-84 22l5-1-4-1-5-2zm-5-1l5 1-4-4-4-5z"/><path class="q1" d="M3096 2731l5 1-3-8-5-5zm-4 1l4-1-3-12-5-2zm-5 2l5-2-4-15-4 4zm-5 3l5-3-3-13-5 9z"/><path class="q0" d="M3078 2741l4-4-3-7-5 7zm-5 2l5-2-4-4-4 4zm-89 23l5 0-4-2-4-1zm-4 1l4-1-3-3-5-1zm-5 1l5-1-4-5-5 1zm-5 2l5-2-4-5-4 2zm-4 2l4-2-3-5-5 3zm-5 2l5-2-4-4-5 3zm368-99l5-2-4-3-5 0zm-5 1l5-1-4-5-4 2zm-102 28l4-1-3-2-5-1zm-5 2l5-2-4-4-5-1zm-5 1l5-1-4-7-4 0zm-4 1l4-1-3-8-5 2zm-5 2l5-2-4-7-5 4zm-5 1l5-1-4-5-4 3zm-93 26l4-2-3-2-5-1zm-5 1l5-1-4-5-5-1zm-5 1l5-1-4-7-4 1zm-4 1l4-1-3-7-5 2zm-5 2l5-2-4-6-5 3zm-5 1l5-1-4-5-4 4z"/></g>
<path class="ax" d="M1141.5 1309.8L1141.5 943.6M1141.5 1309.8L1499.5 1477.6M1499.5 1477.6L1966.9 1348.7M1141.5 1309.8L1130.7 1304.7M1141.5 1248.8L1130.7 1243.7M1141.5 1187.7L1130.7 1182.7M1141.5 1126.7L1130.7 1121.6M1141.5 1065.7L1130.7 1060.6M1141.5 1004.6L1130.7 999.6M1141.5 943.6L1130.7 938.5M1499.5 1477.6L1488 1480.8M1499.5 1477.6L1510.4 1482.7M1410 1435.6L1398.5 1438.8M1616.4 1445.4L1627.2 1450.5M1320.5 1393.7L1309 1396.9M1733.2 1413.2L1744.1 1418.2M1231 1351.7L1219.5 1354.9M1850.1 1380.9L1860.9 1386M1141.5 1309.8L1130 1313M1966.9 1348.7L1977.7 1353.8"/>
<g class="tk" font-size="24.65"><text x="1121.3" y="1310" text-anchor="end">0</text><text x="1121.3" y="1249" text-anchor="end">0.05</text><text x="1121.3" y="1187.9" text-anchor="end">0.1</text><text x="1121.3" y="1126.9" text-anchor="end">0.15</text><text x="1121.3" y="1065.9" text-anchor="end">0.2</text><text x="1121.3" y="1004.8" text-anchor="end">0.25</text><text x="1121.3" y="943.8" text-anchor="end">0.3</text><text x="1478.2" y="1506.8" text-anchor="end">-1</text><text x="1519.5" y="1510.2">-1</text><text x="1388.7" y="1464.9" text-anchor="end">-0.5</text><text x="1636.4" y="1477.9">-0.5</text><text x="1299.2" y="1422.9" text-anchor="end">0</text><text x="1753.2" y="1445.7">0</text><text x="1209.7" y="1381" text-anchor="end">0.5</text><text x="1870" y="1413.5">0.5</text><text x="1120.2" y="1339" text-anchor="end">1</text><text x="1986.9" y="1381.3">1</text></g>
<text class="ti" x="1554.2" y="804.1" font-size="28.50" text-anchor="middle">(d)</text>
<text class="tk" x="1550.2" y="868.8" font-size="24.44"><tspan font-weight="bold">l</tspan>=3</text>
<text class="se" transform="translate(1052.1 1086.9) rotate(-90)" font-size="36.63" text-anchor="middle">Fraunhofer Diffraction</text>
<text class="se" x="1221.4" y="1503" font-size="36.40">sin<tspan font-style="italic">&#952;</tspan><tspan font-size="27.66" dy="16.6">y</tspan></text>
<text class="se" x="1717.4" y="1530.2" font-size="36.40">sin<tspan font-style="italic">&#952;</tspan><tspan font-size="27.66" dy="16.6">x</tspan></text>
</g>
<path class="ash" d="M1553.6 991.3L1423.5 995.8"/><path class="ahd" d="M1406.5 996.4L1433.6 984.7L1423.5 995.8L1434.4 1006.2Z"/><path class="ash" d="M1568.3 1193.7L1631.6 1013.5"/><path class="ahd" d="M1637.2 997.5L1638.3 1027.0L1631.6 1013.5L1617.9 1019.9Z"/><path class="ash" d="M1582.3 1226.0L1680.1 1096.6"/><path class="ahd" d="M1690.4 1083.0L1682.4 1111.4L1680.1 1096.6L1665.2 1098.4Z"/><text class="an" x="1278.6" y="996.6" font-size="24.8">Zero-order</text><text class="an" x="1623.4" y="994.9" font-size="24.8">First-order</text><text class="an" x="1680.1" y="1071.6" font-size="24.8">Second-order</text>
</svg>
</body></html>
